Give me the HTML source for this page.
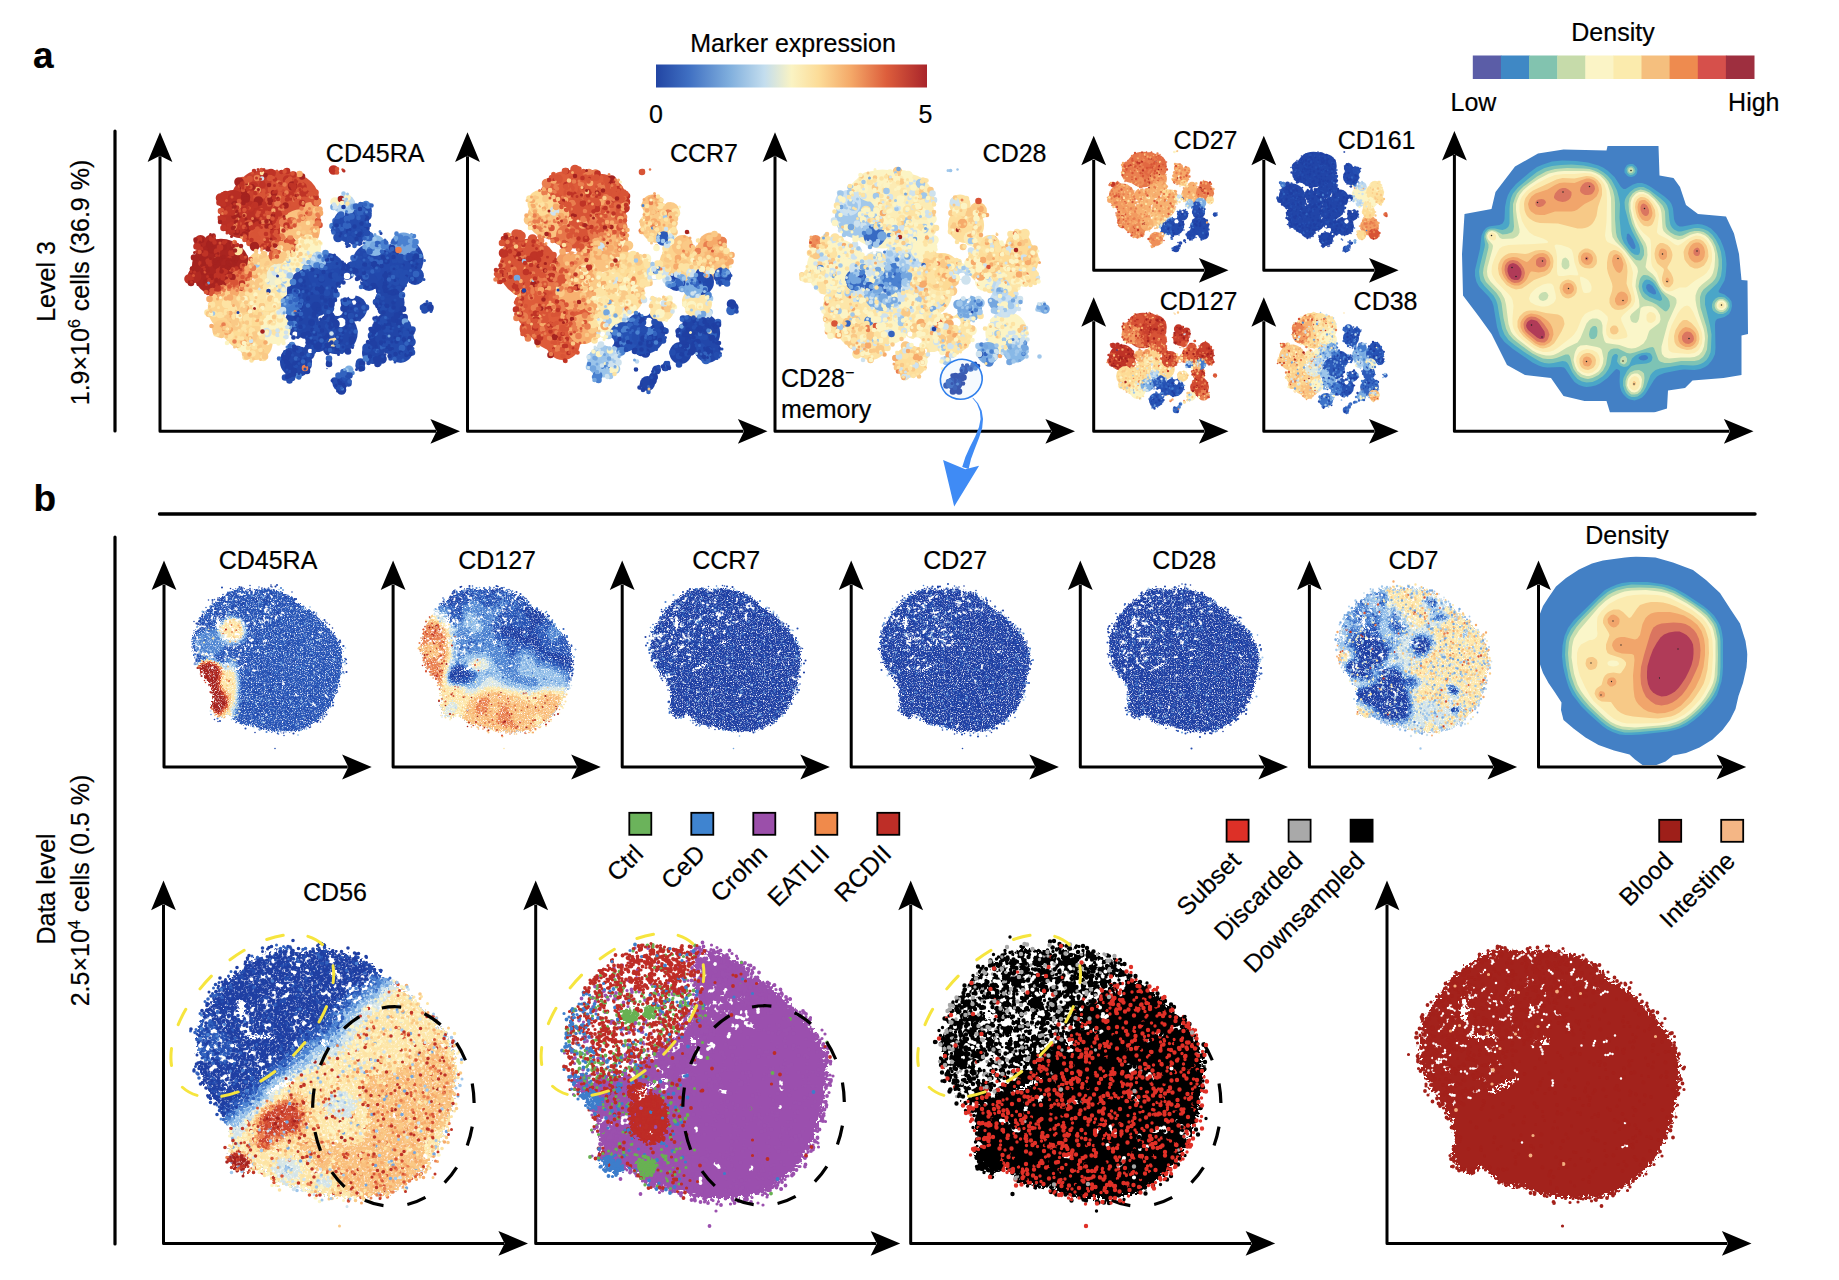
<!DOCTYPE html><html><head><meta charset="utf-8"><style>html,body{margin:0;padding:0;background:#fff}svg{display:block}text{font-family:"Liberation Sans",sans-serif;fill:#000;stroke:#000;stroke-width:.2px}</style></head><body><svg width="1839" height="1280" viewBox="0 0 1839 1280"><defs>
<linearGradient id="mk" x1="0" x2="1" y1="0" y2="0">
<stop offset="0" stop-color="#2245A3"/><stop offset="0.12" stop-color="#3F6FC2"/><stop offset="0.27" stop-color="#7FAEDD"/>
<stop offset="0.4" stop-color="#C3DDEE"/><stop offset="0.5" stop-color="#FAF3C3"/><stop offset="0.6" stop-color="#FCDC98"/>
<stop offset="0.72" stop-color="#F4A868"/><stop offset="0.85" stop-color="#DD5E3C"/><stop offset="1" stop-color="#A9252B"/>
</linearGradient>
<filter id="rs" x="-5%" y="-5%" width="110%" height="110%" color-interpolation-filters="sRGB"><feTurbulence type="fractalNoise" baseFrequency=".45" numOctaves="1" seed="3" result="t"/><feDisplacementMap in="SourceGraphic" in2="t" scale="14" xChannelSelector="R" yChannelSelector="G" result="d"/><feTurbulence type="fractalNoise" baseFrequency=".42" numOctaves="2" seed="8" result="u"/><feColorMatrix in="u" type="matrix" values="0 0 0 0 1 0 0 0 0 1 0 0 0 0 1 3.3 0 0 0 -1.66" result="w"/><feComposite in="w" in2="d" operator="in" result="wi"/><feMerge><feMergeNode in="d"/><feMergeNode in="wi"/></feMerge></filter>
<filter id="rb" x="-5%" y="-5%" width="110%" height="110%" color-interpolation-filters="sRGB"><feTurbulence type="fractalNoise" baseFrequency=".2" numOctaves="1" seed="5" result="t"/><feDisplacementMap in="SourceGraphic" in2="t" scale="26" xChannelSelector="R" yChannelSelector="G" result="d"/><feTurbulence type="fractalNoise" baseFrequency=".22" numOctaves="2" seed="9" result="u"/><feColorMatrix in="u" type="matrix" values="0 0 0 0 1 0 0 0 0 1 0 0 0 0 1 3 0 0 0 -1.55" result="w"/><feComposite in="w" in2="d" operator="in" result="wi"/><feMerge><feMergeNode in="d"/><feMergeNode in="wi"/></feMerge></filter>
<filter id="rd" x="-5%" y="-5%" width="110%" height="110%"><feTurbulence type="fractalNoise" baseFrequency=".2" numOctaves="1" seed="5"/><feDisplacementMap in="SourceGraphic" scale="26" xChannelSelector="R" yChannelSelector="G"/></filter>
</defs>
<ellipse cx="1140.2" cy="1106.5" rx="80.7" ry="99.8" transform="rotate(2 1140.2 1106.5)" fill="none" stroke="#000" stroke-width="3.2" stroke-dasharray="19.5 24.2" stroke-dashoffset="26.3" stroke-linecap="butt"/>
<g fill="none" stroke-linecap="round" transform="scale(.5)"><circle cx="535" cy="418" r="78.9" fill="#C23728"/><circle cx="503" cy="637" r="66.7" fill="#FDDC96"/><circle cx="442" cy="536" r="58.6" fill="#A92420"/><circle cx="584" cy="402" r="54.5" fill="#D75336"/><circle cx="624" cy="584" r="50.4" fill="#2145A8"/><circle cx="462" cy="617" r="46.4" fill="#FCD38E"/><circle cx="746" cy="528" r="42.3" fill="#2248AC"/><circle cx="482" cy="434" r="42.3" fill="#BA3025"/><circle cx="783" cy="666" r="42.3" fill="#2145A8"/><circle cx="673" cy="666" r="42.3" fill="#2145A8"/><circle cx="600" cy="459" r="40.3" fill="#FAC27F"/><circle cx="807" cy="519" r="40.3" fill="#2248AC"/><circle cx="653" cy="544" r="38.2" fill="#2248AC"/><circle cx="535" cy="584" r="38.2" fill="#FDE6A8"/><circle cx="702" cy="450" r="36.2" fill="#234AAD"/><circle cx="584" cy="511" r="34.2" fill="#FCF4C4"/><circle cx="511" cy="686" r="34.2" fill="#FCD38E"/><circle cx="604" cy="645" r="34.2" fill="#2145A8"/><circle cx="592" cy="723" r="32.1" fill="#2145A8"/><circle cx="551" cy="658" r="30.1" fill="#FCF4C4"/><circle cx="511" cy="373" r="30.1" fill="#C9402D"/><circle cx="633" cy="674" r="30.1" fill="#2145A8"/><circle cx="779" cy="605" r="30.1" fill="#2145A8"/><circle cx="523" cy="530" r="28.1" fill="#FCD38E"/><circle cx="568" cy="367" r="26.9" fill="#D04931"/><circle cx="616" cy="495" r="26" fill="#FCF4C4"/><circle cx="559" cy="552" r="26" fill="#EFEFD0"/><circle cx="708" cy="617" r="26" fill="#2145A8"/><circle cx="807" cy="491" r="26" fill="#71A3DE"/><circle cx="787" cy="564" r="26" fill="#2247AA"/><circle cx="466" cy="406" r="26" fill="#B72D24"/><circle cx="801" cy="700" r="25.2" fill="#234AAD"/><circle cx="519" cy="471" r="22" fill="#DA5738"/><circle cx="482" cy="560" r="22" fill="#E67549"/><circle cx="584" cy="609" r="22" fill="#427ACD"/><circle cx="746" cy="706" r="22" fill="#2145A8"/><circle cx="750" cy="491" r="21.2" fill="#88B8E6"/><circle cx="690" cy="410" r="21.2" fill="#BBD8F0"/><circle cx="771" cy="576" r="20" fill="#2145A8"/><circle cx="738" cy="564" r="17.9" fill="#2247AA"/><circle cx="620" cy="422" r="17.9" fill="#F7B170"/><circle cx="635" cy="521" r="17.9" fill="#A2C8EB"/><circle cx="442" cy="658" r="17.9" fill="#FBCB87"/><circle cx="830" cy="552" r="17.9" fill="#2248AC"/><circle cx="726" cy="422" r="17.9" fill="#2C5AB9"/><circle cx="694" cy="544" r="15.9" fill="#2247AA"/><circle cx="580" cy="491" r="15.9" fill="#C9402D"/><circle cx="680" cy="767" r="15.1" fill="#2248AC"/><circle cx="712" cy="477" r="14.7" fill="#2248AC"/><circle cx="389" cy="552" r="13.9" fill="#B02922"/><circle cx="616" cy="706" r="13.9" fill="#2145A8"/><circle cx="551" cy="511" r="13.9" fill="#DA5738"/><circle cx="401" cy="483" r="13" fill="#B02922"/><circle cx="421" cy="481" r="11.4" fill="#B02922"/><circle cx="852" cy="615" r="10.2" fill="#2247AA"/><circle cx="580" cy="751" r="9.8" fill="#2145A8"/><circle cx="698" cy="740" r="9" fill="#7CAEE2"/><circle cx="692" cy="754" r="9" fill="#2652B4"/><circle cx="718" cy="731" r="7.4" fill="#2247AA"/><circle cx="659" cy="723" r="4.5" fill="#2248AC"/><circle cx="671" cy="341" r="3.7" fill="#C9402D"/><circle cx="698" cy="491" r="3.7" fill="#2247AA"/><circle cx="685" cy="339" r="2.5" fill="#D04931"/><circle cx="763" cy="466" r="1.7" fill="#2247AA"/><circle cx="654" cy="737" r="1.3" fill="#2248AC"/><circle cx="694" cy="552" r="6.6" fill="#fff"/><circle cx="698" cy="570" r="8" fill="#fff"/><circle cx="704" cy="591" r="6.9" fill="#fff"/><circle cx="708" cy="605" r="4.4" fill="#fff"/><circle cx="675" cy="621" r="11" fill="#fff"/><circle cx="682" cy="645" r="9.5" fill="#fff"/><circle cx="746" cy="621" r="9.9" fill="#fff"/><circle cx="742" cy="645" r="8" fill="#fff"/><circle cx="604" cy="684" r="9.5" fill="#fff"/><circle cx="511" cy="566" r="4.8" fill="#fff"/><circle cx="501" cy="574" r="3.3" fill="#fff"/><circle cx="620" cy="702" r="4.4" fill="#fff"/><circle cx="590" cy="668" r="5.1" fill="#fff"/><circle cx="519" cy="505" r="3.3" fill="#fff"/><circle cx="535" cy="508" r="2.9" fill="#fff"/><circle cx="724" cy="560" r="3.7" fill="#fff"/><path stroke="#D85436" stroke-width="19.2" d="M486 363zm59 16zm-29 15zm47 0zm69 9zm-135 46zm12 24zm72-24zm-1 34zm-123 75z"/><path stroke="#1F3FA3" stroke-width="19.2" d="M730 456zm-28 77zm-11 73zm-59 7zm28 20zm104 7zm-94 8zm1 33zm74 8zm19 29zm-192-6zm7 24zm104 44z"/><path stroke="#BF3326" stroke-width="19.2" d="M542 347zm33 13zm92-20zm-63 34zm-97-1zm-66 23zm44 9zm95-13zm-25 28zm-74 30zm69 7zm-109 85zm-63 16z"/><path stroke="#F6AA6A" stroke-width="19.2" d="M573 495zm-72 42zm-32 47zm30-15zm-33 68z"/><path stroke="#FCF4C4" stroke-width="19.2" d="M670 404zm-99 121zm4 39zm-33 30zm7 76zm-58 28z"/><path stroke="#E97E4F" stroke-width="19.2" d="M585 444zm-18 1z"/><path stroke="#D85436" stroke-width="13.2" d="M494 362zm5-4zm41-2zm38 6zm53 23zm-32-4zm-23-17zm-2 11zm-23-3zm-1-6zm-25 25zm-32-10zm-3 1zm-11-17zm73 37zm11-5zm7 4zm4 8zm14-2zm48 35zm-31-7zm-24 6zm-51-15zm-88-4zm31 32zm63 10zm17-12zm86-2zm-79 31zm-61 5zm1 63zm-3 8zm-11-25zm-2 11zm-59 39zm45-17zm15 3z"/><path stroke="#A5221F" stroke-width="19.2" d="M585 372zm-107-8zm-7 47zm20-16zm26 7zm-21 51zm13 40zm-37 3zm-47 2zm-3-10zm-16 26zm63 2z"/><path stroke="#244DAF" stroke-width="19.2" d="M732 417zm2 14zm-6 3zm-29-5zm-23 46zm-8 53zm48 0zm85-11zm8 40zm-9-11zm-166 34zm173-18zm-211 29zm-20 9zm80 24zm3-7zm110 24zm29 0zm-137 12zm73 43zm85-16zm3 4zm-101 42z"/><path stroke="#FAC986" stroke-width="19.2" d="M560 518zm8-6zm-80 64zm4-4zm9-3zm17-3zm-48 45zm-4-12zm7 52z"/><path stroke="#3263BF" stroke-width="19.2" d="M723 424zm-51 29zm66 20zm46 24zm-33 31zm77-17z"/><path stroke="#FDE3A3" stroke-width="19.2" d="M476 501zm94 34zm-80 77zm-37-5zm12 12zm30 18zm56 25zm-93 8zm208 14z"/><path stroke="#A0C7EB" stroke-width="19.2" d="M699 418zm-138 158z"/><path stroke="#4A81D0" stroke-width="19.2" d="M812 481zm-44 8zm-185 111zm-9 5z"/><path stroke="#CEE2EE" stroke-width="19.2" d="M569 549zm-17-6zm-18 122z"/><path stroke="#FDE3A3" stroke-width="13.2" d="M625 481zm-28 13zm-84 30zm13 29zm-5 29zm29 25zm-66-16zm-60 18zm-9 16zm13 3zm12 2zm29-5zm82 3zm9 11zm-17 12zm-39 11zm-71 5zm24 6zm52 20zm15-20zm3 43zm-4-14zm-18 5zm-11 4zm-3 3z"/><path stroke="#A0C7EB" stroke-width="9.2" d="M687 387zm2 27zm1-11zm9 8zm6 0zm44 67zm-172 44zm66-2zm2-9zm-76 52zm-143 64zm161 48zm106 66z"/><path stroke="#A5221F" stroke-width="13.2" d="M604 353zm-56 33zm-46-12zm-14 9zm5 16zm21 6zm27-6zm30 12zm111-13zm-138 42zm-33 1zm-34-11zm-3 16zm-5-14zm4 32zm17 5zm47 28zm-70-8zm-20 5zm-24 5zm-4-9zm-17-10zm-4 14zm-10 21zm4 11zm41 4zm3-4zm3-8zm25-3zm1 39zm-8-22zm-11 5zm-38 7zm-22-5zm-4 27zm30-1z"/><path stroke="#74A6DF" stroke-width="19.2" d="M791 492z"/><path stroke="#4A81D0" stroke-width="9.2" d="M734 475zm59-7zm0-1zm35 5zm0 20zm-26-7zm-4 3zm-1-7zm-19 14zm-5 2zm-28-3zm0 4zm-6 0zm-100 15zm3 18zm5-13zm194-6zm-245 71zm109 163z"/><path stroke="#244DAF" stroke-width="9.2" d="M737 418zm-6 9zm-9 9zm-2 5zm-54 20zm9-1zm32 8zm7-2zm5-2zm4 3zm1-12zm5 5zm9-10zm-12 48zm-13-14zm-19 3zm-30 44zm0 0zm12-1zm31-2zm10 2zm13-20zm2 18zm3-6zm50-18zm3 18zm29-12zm2 7zm7 1zm12 4zm3 23zm-22 2zm-24 4zm-1-17zm-1 16zm-22 9zm-28-18zm-7 3zm-1 2zm-49-8zm-3 13zm-15 7zm-23-14zm-5 13zm-27-16zm13 42zm2-14zm30 6zm12 6zm112-17zm1 15zm0-14zm58-5zm19 48zm-7 6zm-88-18zm-64 12zm-16-7zm-16-4zm-16 16zm-52-14zm-1 9zm4 8zm49 16zm109-15zm27 22zm22-4zm-2 25zm-4-11zm-2 22zm-25-10zm-7 0zm-12-14zm-75 20zm-30-15zm-22 17zm-4-21zm-21 5zm-8 4zm27 37zm1-19zm13-3zm6 20zm7-5zm1-9zm17 9zm9-15zm53 20zm38-20zm28 27zm3-11zm1-2zm-2 35zm-1-13zm-19 9zm-22 10zm-13-11zm-9-3zm0 13zm-15 1zm-58-26zm-36 2zm-20 11zm-5 7zm-32-14zm10 37zm10-12zm18 10zm6-2z"/><path stroke="#1F3FA3" stroke-width="13.2" d="M732 437zm52 59zm-36 32zm21-21zm4 15zm19-18zm31 16zm9-7zm-79 21zm-25 23zm-65-6zm-20 8zm0 20zm104-7zm24 2zm15 11zm41-24zm34 54zm-104-4zm-94-2zm-69 24zm6 3zm30-7zm31 2zm26-14zm11 14zm4 12zm86-4zm2 0zm4-8zm12-13zm3 16zm12 32zm-6 1zm-17-22zm-22 5zm-20 5zm-11 9zm-79-15zm-7 22zm-36-26zm-14 26zm-1 0zm-17 27zm36-15zm6 9zm3 1zm2-4zm38 7zm3-19zm25 2zm40-3zm76 1zm0 19zm-58 21zm-10 2zm-28 8zm-28-24zm-41-3zm-2 0zm-56 24zm-20-17zm-6 9zm17 26zm26 0zm44-14zm97 0zm-69 44z"/><path stroke="#4A81D0" stroke-width="13.2" d="M732 408zm4 3zm-71 41zm135 23zm31 9zm-24-2zm-174 49zm18-25zm-33 30zm-5-2zm-27 30zm-9 38zm11 46zm-4 42zm148 27zm-135 35z"/><path stroke="#F6AA6A" stroke-width="13.2" d="M599 348zm-84 32zm124 39zm1 7zm-25-3zm-14 6zm25 31zm5 10zm-48 25zm-20-7zm-53 63zm-64 25zm14 19zm-41 3zm73 19zm-47 39zm42 29z"/><path stroke="#A0C7EB" stroke-width="13.2" d="M513 529zm67 22z"/><path stroke="#E97E4F" stroke-width="13.2" d="M514 356zm109 35zm-147 21zm79-5zm0-9zm36 0zm43 7zm2-3zm0 45zm-18-21zm-56-6zm-93 3zm-2 31zm96 19zm234 27zm-248-13zm2 22zm-45 27zm-17 13zm-53 35zm10-8zm13-5zm151 165z"/><path stroke="#74A6DF" stroke-width="13.2" d="M667 414zm40 0zm49 78zm-10 0zm64 151z"/><path stroke="#BF3326" stroke-width="9.2" d="M508 342zm35 3zm7 14zm13-15zm29 18zm-5 19zm-5-11zm-13 18zm-18-5zm-26-19zm-14 22zm-10-15zm-12-4zm-47 41zm6 1zm4-15zm21 23zm1-2zm49 3zm5-11zm9 4zm2 7zm9-23zm1 24zm7-21zm7 15zm11-14zm32 11zm19-18zm8 4zm-81 39zm-3 6zm-16 3zm-6-14zm-1-7zm-11 10zm-27 2zm-5 5zm-11-19zm-24 17zm-1-11zm11 24zm5-3zm15 1zm9 2zm1 20zm25-23zm3 6zm1-3zm15 17zm9-16zm3 12zm10 6zm13-9zm-64 19zm-11-3zm-18 13zm-26-5zm-19 0zm-32 6zm23 38zm16-19zm23 6zm14 21zm-13 15zm-9-10zm-45-10zm-25 25zm35 29zm68-8z"/><path stroke="#FAC986" stroke-width="13.2" d="M632 421zm-104 88zm24 13zm-33 22zm-24 34zm16-5zm30 24zm-17 15zm-39-23zm-67 39zm34 2zm35-11zm23 50zm-42-25zm-30 16zm-5-6zm97 59zm-7-10zm-29 10z"/><path stroke="#FCF4C4" stroke-width="13.2" d="M695 395zm-94 95zm23 14zm-50 30zm-13 12zm-5 18zm11 23zm-78 11zm-11 34zm68-1zm14 0zm-9 22zm-8 0zm-62 43zm14-6z"/><path stroke="#BF3326" stroke-width="13.2" d="M527 353zm47-11zm13 7zm26 38zm-8 0zm-18-14zm-62-3zm-22 6zm-7-3zm-10-4zm-35 19zm-4 2zm-8 15zm5-1zm14 15zm43-2zm9-7zm22 5zm7-4zm54-14zm11 9zm-46 21zm-10 6zm-33-8zm-30 2zm-21-2zm-7 0zm-15 13zm5 18zm15 3zm42-5zm11-5zm58 2zm-39 30zm-7 12zm-59-5zm-28 7zm-6 8zm-10-26zm-24 22zm-2-20zm-5 14zm10 34zm7-20zm7 16zm46-17zm23 8zm-37 28zm-2 13zm-13-3zm-13 9zm15 16zm48-10z"/><path stroke="#CEE2EE" stroke-width="13.2" d="M608 522zm6 2zm-46 33zm-1 22zm-6 45zm5-4z"/><path stroke="#F6AA6A" stroke-width="6" d="M606 405zm21 33zm-14-4zm-1 6zm-136-2zm149 18zm-34 29zm-25 6zm-2-14zm-41 23zm34 13zm-55 44zm-51 18zm37 6zm1-10zm8-2zm-30 42zm-20-23zm-2 2zm-10 8zm22 38zm38 34zm-19 23z"/><path stroke="#CEE2EE" stroke-width="6" d="M674 416zm13-18zm6 14zm-117 118zm53-10zm0-12zm-49 31zm-12-7zm-6 21zm0-12zm-43 37zm17-12zm-34 56zm20 5zm49 28zm-2 19zm234 20z"/><path stroke="#FDE3A3" stroke-width="9.2" d="M524 346zm171 61zm-79 39zm-19 20zm18 8zm15-13zm3 26zm-17 4zm-4 5zm-5-5zm-3-8zm-42 12zm-41 17zm54-2zm1-5zm9 22zm3-19zm7 21zm6-9zm19-8zm-76 26zm-50 49zm3 0zm7-1zm12-1zm8-20zm18 16zm17-8zm-5 17zm-6 8zm-14 7zm-10-3zm-47-5zm-57 14zm31 16zm1-5zm15 13zm0-3zm44-16zm12 2zm11 9zm15 10zm2-6zm-3 14zm-10 0zm-4 18zm-33 8zm-12-20zm-1 6zm-14-8zm3 27zm1 15zm6-14zm12 19zm12-8zm13 12zm-18 21z"/><path stroke="#3263BF" stroke-width="13.2" d="M712 413zm6 2zm-15 18zm-9 5zm-12-9zm-11 13zm21 9zm4 1zm93 31zm-34 5zm-16 15zm-82 17zm50-4zm106-1zm19 33zm-101 5zm-87-19zm-54 49zm214 7zm-114 14zm-17-15zm-82 9zm158 68zm-168-18zm185 43zm38 5zm-146 21zm19 34zm9-3zm1-4zm6 6z"/><path stroke="#A0C7EB" stroke-width="6" d="M695 388zm-28 29zm6 2zm20-21zm-66 114zm78 38zm-108-11zm-41 3zm-20 21zm28 40zm5 21z"/><path stroke="#FCF4C4" stroke-width="9.2" d="M684 406zm-43 81zm-19-3zm-27 17zm-9 20zm29-2zm-47 32zm-1 8zm-13-18zm-20 20zm5 17zm7-4zm21 5zm-15 21zm-3 11zm-38-22zm-2 25zm-6-8zm-81 22zm78-5zm25-7zm11 18zm19-11zm3 6zm9 28zm-2 2zm-19-12zm-13 18zm-14 2zm-63-2zm-2 21zm34 0zm47 0zm22 1zm10-1z"/><path stroke="#244DAF" stroke-width="13.2" d="M725 436zm-51 8zm-2 4zm45 16zm15-16zm2 18zm-21 15zm-13-3zm4 51zm64-19zm20 2zm30 3zm4-2zm-11 33zm-4 9zm-2-2zm-14-6zm-5-10zm-31 2zm-81 18zm-2-1zm-2-5zm-11-18zm-16 24zm-10-15zm21 44zm138-21zm5 13zm49 37zm-77 0zm-17-11zm-20 11zm-82 2zm3 19zm49-4zm81-13zm66 2zm-24 38zm-11-8zm-2 16zm-37-9zm-33 13zm-78-1zm-1-4zm-4-16zm-27 6zm-14 20zm15 1zm51 18zm84-7zm7-1zm6 9zm40-22zm3 31zm-226-5zm-28 55zm129-4zm25-15zm-27 28zm0 3zm-18 9zm-10-15zm-85-5zm-5 5z"/><path stroke="#74A6DF" stroke-width="9.2" d="M820 482zm-28-6zm-46 12zm-17 6zm-112 30zm27 8zm-29 3zm-6 0zm-14 5zm-29 61zm21 26zm-7 27zm122 86z"/><path stroke="#E97E4F" stroke-width="9.2" d="M573 385zm-4-16zm-12-4zm-19 26zm20 4zm40 0zm5 22zm30-10zm5-2zm-1 28zm-2-4zm-34 4zm-3 8zm-61-7zm-11 10zm-37-14zm12 18zm62 25zm16 2zm3 0zm-15 1zm-16 27zm-6-6zm-76-13zm23 55zm-34 39zm26-2zm-46 14zm9 59zm22 34z"/><path stroke="#1F3FA3" stroke-width="9.2" d="M687 414zm33 4zm14 21zm-11 8zm-50 4zm23 11zm13-9zm7 16zm3 1zm2-3zm-8 11zm-59 41zm10-1zm24 11zm42 0zm36-15zm21 0zm42 1zm-57 40zm0 4zm0-9zm-3 1zm-6-19zm-35 14zm-10 9zm-4 3zm-1-15zm-2-2zm-25-4zm-39 7zm-13 8zm-9-13zm-88 43zm70-19zm7 20zm20-6zm6 2zm3 5zm1-1zm28-1zm4-14zm11-3zm46 8zm37-6zm1 15zm8 3zm12-3zm3 3zm-7 20zm0 10zm-13-3zm-80 3zm-4-15zm0-1zm-20 1zm-9 0zm-9 14zm-1-13zm-7-6zm-28 2zm-13 18zm-1 17zm35-13zm12 17zm41-13zm59 14zm18-12zm10 18zm24-17zm61-7zm-37 46zm-42-9zm-16-1zm-11-2zm-4 8zm-1-14zm-2 4zm-1 14zm-3-3zm-4-4zm-46-13zm-34 10zm-2-8zm-4 24zm-11-10zm-14 7zm-5-21zm0 13zm-6 10zm-3-4zm-15-12zm-14 21zm1 18zm27-8zm0-6zm5 1zm21-3zm9-1zm3 14zm5-1zm5-4zm40 1zm33-2zm26 1zm6-11zm12 24zm13-15zm15-4zm12-3zm1 32zm-8 2zm-12-5zm-10 3zm-12 4zm-39 1zm-85-7zm-51 2zm-5 11zm-10 8zm-13-1zm-4-2zm2 30zm5-2zm2-2zm6-2zm1 1zm133-10zm1-3zm2 2zm-44 28z"/><path stroke="#F6AA6A" stroke-width="9.2" d="M494 368zm126 51zm14 0zm-28 17zm-17 7zm-42-22zm-62 53zm103-25zm17 20zm29-13zm-132 63zm2 10zm48-17zm-59 24zm0 8zm-9 26zm17 11zm-49 16zm-13-5zm22 34zm53 14zm-52 19zm-3 5zm-6 3zm-30-15zm78 25zm1 7zm29 1zm-32 24z"/><path stroke="#FAC986" stroke-width="9.2" d="M590 456zm9 0zm8 9zm-49 31zm-46 6zm-1 19zm0 4zm5-3zm6-8zm5-8zm8 20zm12-4zm3-1zm8-8zm12-3zm14 0zm17-2zm-70 31zm-1-1zm-22 8zm13 15zm18 38zm-47 6zm-1 9zm-6-17zm-30 36zm4 6zm12-15zm3 16zm28-9zm13 3zm5-6zm28 6zm-7 10zm-18 2zm-29-1zm-22 2zm-14 10zm-9-1zm-15-4zm-4 13zm13 7zm54 16zm12-11zm22 34zm-43-3z"/><path stroke="#CEE2EE" stroke-width="9.2" d="M524 357zm144 52zm2 6zm0-2zm-55 93zm11 11zm-69 108zm106 42zm-88-13zm-3 11zm-17-4zm0 9zm-53 12zm71-8z"/><path stroke="#E97E4F" stroke-width="6" d="M596 387zm10 20zm13 10zm0 0zm5-22zm-21 36zm-19 7zm-14 2zm-33 4zm-32-7zm-60-10zm29 21zm64 3zm34 2zm2 5zm55-8zm-44 47zm-44-17zm-12-1zm-5 17zm-92 18zm115 1zm-50 44zm-49 23zm20-6zm6 5zm21-10zm95 52z"/><path stroke="#D85436" stroke-width="6" d="M493 360zm12-14zm37 7zm5 2zm7-13zm16-2zm26 18zm7 5zm25 22zm-13 5zm-9-22zm-36 21zm-5-13zm-6 11zm0-2zm-5-11zm-13-2zm-6 18zm-19-11zm0 4zm-27-10zm-11-1zm-25 29zm11-7zm33 22zm2 0zm38-6zm3 0zm26 3zm16-20zm8 2zm8 5zm15 26zm-40 0zm-7-2zm-11 20zm-26-14zm-7 7zm-34-4zm-9-11zm0-2zm-5 18zm74 30zm3 3zm2-9zm-1 20zm-5 6zm-11 1zm-6 3zm-10-5zm-49-2zm-31 1zm51 28zm-13 31zm-3 6zm-14-11zm-51 4zm-23 7zm57 25zm19-9zm5 5z"/><path stroke="#A5221F" stroke-width="9.2" d="M531 350zm7 20zm-31 5zm-23 1zm-15 37zm18-7zm53 0zm6 25zm-13 12zm-93 1zm-13 27zm39-15zm67-3zm4-1zm13 39zm-68 1zm-12 9zm-79-22zm1 37zm12 3zm3 7zm1 2zm22-7zm2-10zm3 6zm2 11zm10-14zm8 10zm14 3zm-12 9zm-4-2zm-10 9zm-12-10zm-9 19zm-7-11zm-1-3zm-18-3zm-2 5zm-10-3zm141 126z"/><path stroke="#4A81D0" stroke-width="6" d="M733 424zm-40-1zm67 40zm63 6zm10 25zm-24-4zm-47 0zm-24 9zm-24-13zm-78 41zm10-6zm-43 23zm-14 52zm-15 98zm244-13zm-130 66zm-3 31z"/><path stroke="#FCF4C4" stroke-width="6" d="M611 503zm-10-4zm-10 18zm-13 24zm-6 18zm-5-24zm-5 18zm-6-17zm-2 41zm3 27zm-6-4zm-110-5zm120 74zm-17-21zm-10 20zm-79-10zm53 31zm29-10zm2 5z"/><path stroke="#1F3FA3" stroke-width="6" d="M680 472zm2-5zm18-8zm62 8zm-40 20zm-28 6zm-25 17zm5 17zm11-3zm25-10zm17 15zm80 1zm27-2zm-2 7zm-7-3zm-4 25zm-8-5zm-25-14zm-9 9zm-8-2zm-24-12zm-34 7zm-5 5zm-2-6zm-9-7zm-4 8zm-9 10zm-129 2zm26 28zm9 2zm13-2zm0-9zm7 1zm14 15zm19-14zm22 3zm6 3zm76-5zm7 2zm1 7zm33 3zm2-25zm16 17zm45 31zm-80 1zm-14-22zm-4 20zm-35-2zm-120-16zm-122 35zm121-3zm44 16zm13-6zm18 9zm16-12zm14-12zm7 21zm44-4zm4-16zm36 24zm12-25zm0 13zm-6 33zm-29-14zm-22 14zm-1 7zm-2 1zm-39-3zm-1-21zm-13 8zm-6 10zm-7-5zm-40-7zm-45 45zm36-16zm34 14zm14-11zm4-3zm4 12zm19-4zm0 5zm34 0zm0-22zm14 21zm9-6zm7-4zm5 11zm4-4zm6-7zm1 13zm5-22zm10-3zm9 11zm10 13zm-16 9zm-33 4zm-93 0zm-22 15zm-3-19zm-28 9zm-14 4zm-12 29zm15-17zm7 3zm93 6zm-36 22zm-2 21zm-3-11zm-8-10z"/><path stroke="#A5221F" stroke-width="6" d="M688 342zm-96 49zm-75-12zm-12-8zm-10 19zm-2-22zm63 28zm12 37zm-21-3zm-3 16zm-24-1zm-28-7zm-4-7zm-14 11zm0-20zm-1 2zm-52 45zm42 4zm6-19zm14 16zm14-9zm46-4zm-1 21zm-75 13zm-5 7zm-2-13zm-37 5zm-19 13zm-4-19zm-9-2zm-1 0zm-1 23zm14 26zm18-14zm15-10zm20 11zm5 1zm11 4zm17-14zm-31 27zm-5 20zm-9-14zm-11 16zm-9-1zm-42-13zm14 25zm37-8zm19-1zm1 4zm56 53z"/><path stroke="#D85436" stroke-width="9.2" d="M493 363zm30-23zm46 3zm11 14zm5-10zm89-9zm0 7zm-50 43zm-4-1zm-10-8zm-50-1zm-7-8zm-4 6zm-22 6zm-26-8zm-14 1zm-1 5zm-8 22zm115 0zm-48 35zm-23-17zm-5 5zm-2 5zm-26-10zm-10 27zm-28-22zm37 29zm2 19zm21-11zm4-3zm0-2zm26-3zm11 10zm3 8zm1-20zm33-1zm-31 26zm-41-1zm-28 4zm-90 24zm102 14zm53-5zm-69 41zm-19-15zm-54 45zm42-21zm5 10zm7-9zm-44 24z"/><path stroke="#74A6DF" stroke-width="6" d="M750 469zm73 1zm-31 10zm-33 11zm-342 75zm158 29zm-5 13zm-2 18zm210 46zm-89 67z"/><path stroke="#FDE3A3" stroke-width="6" d="M641 486zm-2-3zm-9-5zm-46 25zm-67 24zm57-9zm2 2zm11-14zm0 5zm1-3zm2 12zm22-11zm-24 29zm-53-1zm-10-1zm-7 12zm-11 24zm14-4zm29 9zm-5 26zm-3 5zm-54 5zm-41-6zm-10 8zm-19 15zm28 2zm21-11zm14 19zm26-18zm3 16zm11-18zm1 20zm6-15zm2 5zm33 28zm-15-10zm-4 0zm-42 9zm-1-9zm0-3zm-10 17zm-6-5zm-7 4zm-14 7zm-10-10zm-2 16zm44 12zm4-9z"/><path stroke="#BF3326" stroke-width="6" d="M513 356zm3-17zm5 19zm7-19zm34 4zm125-2zm-87 38zm-5 11zm-5-24zm-28 1zm-3-1zm-10 5zm-2 14zm-49-11zm-3 6zm-9-9zm0 5zm-5-6zm-1 1zm-22 15zm-7 5zm-6 12zm9 14zm8-6zm7-3zm27 8zm8-5zm15 8zm30-18zm9-3zm43 5zm-32 34zm-15-17zm-7 25zm0-19zm-23-5zm-30 3zm-12 16zm-4 5zm-17-19zm-23 8zm-9 39zm25-7zm1-10zm13 7zm7 0zm0-4zm2-4zm1-5zm14 6zm9 1zm2-4zm20 2zm26-2zm-10 38zm-87-8zm-59 20zm40 8zm54 19zm-5 9zm-18 0zm-49 14zm-6-15zm-20 6zm-7-1zm1 21zm30 5zm18 11zm2-11z"/><path stroke="#FAC986" stroke-width="6" d="M605 474zm15 1zm0-12zm16-4zm-27 17zm-9 17zm-6-12zm0 4zm0 14zm-1-15zm-90 35zm9-2zm19 12zm65-16zm-95 21zm-1-2zm13 44zm10-1zm13 12zm13 26zm-37-18zm-2 8zm-91 10zm2 8zm1 2zm34 2zm8 17zm16-11zm29 1zm1 0zm-23 13zm-31 19zm-4-1zm1 11zm16 20zm3-20zm45 20zm4-2zm0 27zm-14-1z"/><path stroke="#3263BF" stroke-width="6" d="M734 444zm-43 27zm21-6zm72 20zm-3 16zm-7-1zm-4-20zm-33 21zm-9-15zm-65 27zm51 1zm14 6zm10-5zm36-9zm1 10zm48 9zm26-4zm-28 20zm-68-5zm-51 3zm-71 13zm-25 31zm48-7zm-60 23zm-1 13zm-3 14zm101 1zm22 4zm16-7zm21 17zm21-6zm27 18zm-170 11zm-37-6zm-11-9zm42 27zm53-2zm88 22zm40-1zm3 25zm-114 32zm-9 24z"/><path stroke="#3263BF" stroke-width="9.2" d="M721 408zm9 1zm13 2zm-26 25zm-41-2zm-9 31zm17-7zm100 40zm-12-13zm-8 18zm-25-1zm-10-25zm-20 15zm-58 21zm92 6zm19 5zm62 34zm-38-4zm-8 5zm-33-16zm-94-7zm-45 12zm-5 13zm121 13zm35 17zm-30 24zm-28-10zm-7 3zm-76 3zm-13-9zm-3 10zm-8-23zm-1 11zm-10 4zm21 24zm55-4zm46 18zm9-23zm-1 44zm-30-3zm-102 32zm64-11zm30 3zm3 8zm120-14zm17 9zm-24 31zm-35-16zm-94-2zm-43 10zm-11 13zm-14-6zm-34 0zm40 38zm21-26zm69 19zm11 15z"/><path stroke="#244DAF" stroke-width="6" d="M740 427zm-45 17zm-29 11zm32 9zm11 7zm10 18zm-20-11zm-32 53zm50-26zm1 10zm4-1zm15 17zm20-16zm15 7zm20 1zm36 3zm20 33zm-37-4zm-7-23zm-16 11zm-1 0zm-36-1zm-18 10zm-7-12zm-46-5zm-11 23zm-4-16zm-11 2zm-9 10zm-13-10zm-1 1zm-16-4zm-23 37zm2 7zm1-2zm23 4zm2-15zm59 1zm49-10zm4 3zm2 3zm7 5zm17 8zm19-9zm3-3zm31 1zm10-10zm17 1zm16 41zm-47-12zm-17 9zm-23 6zm-8 6zm-2-19zm-56 17zm-57-8zm-34 4zm-17 21zm2 13zm1-3zm10-3zm13 0zm16-3zm21 10zm59-19zm4 18zm84-7zm59-10zm-44 23zm-17 21zm-15-11zm-2 6zm-6-8zm-6-10zm-68 16zm-4-9zm0 14zm-9-3zm-21 1zm-33-2zm-7-2zm-33 9zm-4-18zm31 45zm6-11zm22 15zm31-23zm11 11zm12 4zm27 1zm9 2zm84 3zm-11 9zm-12 1zm-13 17zm-25-11zm-9-10zm-7-3zm-5 23zm-60-18zm-58-3zm-4 10zm-24 15zm-1-9zm-12-8zm-16-7zm5 37zm19-8zm17 6zm83 15z"/><circle cx="1150" cy="418" r="78.9" fill="#D75336"/><circle cx="1118" cy="637" r="66.7" fill="#DE5C3A"/><circle cx="1057" cy="536" r="58.6" fill="#D75336"/><circle cx="1199" cy="402" r="54.5" fill="#D75336"/><circle cx="1239" cy="584" r="50.4" fill="#FDE19F"/><circle cx="1077" cy="617" r="46.4" fill="#DE5C3A"/><circle cx="1361" cy="528" r="42.3" fill="#FCD38E"/><circle cx="1097" cy="434" r="42.3" fill="#FAC27F"/><circle cx="1398" cy="666" r="42.3" fill="#2043A6"/><circle cx="1288" cy="666" r="42.3" fill="#234AAD"/><circle cx="1215" cy="459" r="40.3" fill="#E67549"/><circle cx="1422" cy="519" r="40.3" fill="#FAC27F"/><circle cx="1268" cy="544" r="38.2" fill="#FDDC96"/><circle cx="1150" cy="584" r="38.2" fill="#F7B170"/><circle cx="1317" cy="450" r="36.2" fill="#FCD38E"/><circle cx="1199" cy="511" r="34.2" fill="#FAC27F"/><circle cx="1126" cy="686" r="34.2" fill="#DE5C3A"/><circle cx="1219" cy="645" r="34.2" fill="#FCF4C4"/><circle cx="1207" cy="723" r="32.1" fill="#9BC4EA"/><circle cx="1166" cy="658" r="30.1" fill="#F7B170"/><circle cx="1126" cy="373" r="30.1" fill="#DE5C3A"/><circle cx="1248" cy="674" r="30.1" fill="#2652B4"/><circle cx="1394" cy="605" r="30.1" fill="#FDE6A8"/><circle cx="1138" cy="530" r="28.1" fill="#F29B60"/><circle cx="1183" cy="367" r="26.9" fill="#DE5C3A"/><circle cx="1231" cy="495" r="26" fill="#F8B977"/><circle cx="1174" cy="552" r="26" fill="#FBCB87"/><circle cx="1323" cy="617" r="26" fill="#FDE6A8"/><circle cx="1422" cy="491" r="26" fill="#F8B977"/><circle cx="1402" cy="564" r="26" fill="#2248AC"/><circle cx="1081" cy="406" r="26" fill="#FDDC96"/><circle cx="1416" cy="700" r="25.2" fill="#2247AA"/><circle cx="1134" cy="471" r="22" fill="#E67549"/><circle cx="1097" cy="560" r="22" fill="#E67549"/><circle cx="1199" cy="609" r="22" fill="#FCE8AD"/><circle cx="1361" cy="706" r="22" fill="#2043A6"/><circle cx="1365" cy="491" r="21.2" fill="#FAC27F"/><circle cx="1305" cy="410" r="21.2" fill="#FAC27F"/><circle cx="1386" cy="576" r="20" fill="#7CAEE2"/><circle cx="1353" cy="564" r="17.9" fill="#2248AC"/><circle cx="1235" cy="422" r="17.9" fill="#E26942"/><circle cx="1250" cy="521" r="17.9" fill="#FCD38E"/><circle cx="1057" cy="658" r="17.9" fill="#D75336"/><circle cx="1445" cy="552" r="17.9" fill="#234AAD"/><circle cx="1341" cy="422" r="17.9" fill="#FBCB87"/><circle cx="1309" cy="544" r="15.9" fill="#BBD8F0"/><circle cx="1195" cy="491" r="15.9" fill="#F7B170"/><circle cx="1295" cy="767" r="15.1" fill="#2043A6"/><circle cx="1327" cy="477" r="14.7" fill="#2C5AB9"/><circle cx="1004" cy="552" r="13.9" fill="#DE5C3A"/><circle cx="1231" cy="706" r="13.9" fill="#BBD8F0"/><circle cx="1166" cy="511" r="13.9" fill="#F29B60"/><circle cx="1016" cy="483" r="13" fill="#C9402D"/><circle cx="1036" cy="481" r="11.4" fill="#D04931"/><circle cx="1467" cy="615" r="10.2" fill="#2043A6"/><circle cx="1195" cy="751" r="9.8" fill="#427ACD"/><circle cx="1313" cy="740" r="9" fill="#2043A6"/><circle cx="1307" cy="754" r="9" fill="#2043A6"/><circle cx="1333" cy="731" r="7.4" fill="#2043A6"/><circle cx="1274" cy="723" r="4.5" fill="#BBD8F0"/><circle cx="1286" cy="341" r="3.7" fill="#C9402D"/><circle cx="1313" cy="491" r="3.7" fill="#FDDC96"/><circle cx="1300" cy="339" r="2.5" fill="#E67549"/><circle cx="1378" cy="466" r="1.7" fill="#F7B170"/><circle cx="1269" cy="737" r="1.3" fill="#2652B4"/><circle cx="1309" cy="552" r="6.6" fill="#fff"/><circle cx="1313" cy="570" r="8" fill="#fff"/><circle cx="1319" cy="591" r="6.9" fill="#fff"/><circle cx="1323" cy="605" r="4.4" fill="#fff"/><circle cx="1290" cy="621" r="11" fill="#fff"/><circle cx="1297" cy="645" r="9.5" fill="#fff"/><circle cx="1361" cy="621" r="9.9" fill="#fff"/><circle cx="1357" cy="645" r="8" fill="#fff"/><circle cx="1219" cy="684" r="9.5" fill="#fff"/><circle cx="1126" cy="566" r="4.8" fill="#fff"/><circle cx="1116" cy="574" r="3.3" fill="#fff"/><circle cx="1235" cy="702" r="4.4" fill="#fff"/><circle cx="1205" cy="668" r="5.1" fill="#fff"/><circle cx="1134" cy="505" r="3.3" fill="#fff"/><circle cx="1150" cy="508" r="2.9" fill="#fff"/><circle cx="1339" cy="560" r="3.7" fill="#fff"/><path stroke="#74A6DF" stroke-width="19.2" d="M1358 566z"/><path stroke="#A0C7EB" stroke-width="19.2" d="M1231 738z"/><path stroke="#1F3FA3" stroke-width="19.2" d="M1463 608zm-71 82zm-11 12zm-90 4z"/><path stroke="#F6AA6A" stroke-width="19.2" d="M1077 448zm89 0zm49 18zm229 17zm-17-3zm-180 0zm-112 39zm10 6zm4-8zm52-7zm-21 45zm-52 19zm40-13zm36 11zm-102 43zm-28 21zm136 15z"/><path stroke="#BF3326" stroke-width="19.2" d="M1186 407zm2 7zm62 2zm1-12zm-122 86zm-122 16zm29 4zm33 2zm34 43zm-100-11zm84 33zm-15 65z"/><path stroke="#4A81D0" stroke-width="19.2" d="M1302 664zm-60 38z"/><path stroke="#FCF4C4" stroke-width="19.2" d="M1345 467zm-103 18zm51 32zm92 20zm-76 4zm-140-1zm79 34zm23 5zm112 32zm-63 16zm-92 110z"/><path stroke="#FAC986" stroke-width="19.2" d="M1312 439zm-255 1zm245 14zm72 37zm-117 0zm-65 14zm33 23zm144 1zm45 5zm-80 5zm-214 46zm159-3zm-32 8zm-62 68z"/><path stroke="#E97E4F" stroke-width="19.2" d="M1201 376zm-108-9zm109 49zm9 1zm6-16zm-24 33zm-5-1zm54 40zm202 10zm-28 8zm-281 4zm-16 58zm-116-6zm44 87z"/><path stroke="#FDE3A3" stroke-width="19.2" d="M1351 426zm-53 28zm-36 67zm4-10zm124 19zm-17 6zm-202 35zm59-3zm13-6zm-57 85z"/><path stroke="#E97E4F" stroke-width="13.2" d="M1173 350zm5-6zm13 1zm41 27zm-69 19zm-50-26zm-6 21zm-18-1zm55 21zm24-1zm42-10zm41 14zm86 16zm-26-1zm-63 10zm-42-10zm-39 14zm-38 5zm16 23zm56 2zm8-12zm28 6zm70-11zm89 51zm-220-16zm-12 5zm-27-14zm-13 8zm-42-4zm-2 3zm-75 45zm166-23zm-144 33zm-8 7zm-16 9zm40 28zm7-1zm5-19zm21 14zm4 8zm101-7zm-119 16zm-18 21zm-11 21zm35-20zm57 1zm15 17zm2-9zm28 6zm5 22zm-24 5zm-5-9zm-34 5zm-2 2zm-24 2zm-18-1zm-12 20zm57 20zm8-1zm6-18zm30-6z"/><path stroke="#A0C7EB" stroke-width="13.2" d="M1342 476zm71 74zm-48 5zm55 42zm-203 45zm202-18zm-202 48zm13 47zm-16 5zm-7-22zm-11 11zm-18 21zm42 18z"/><path stroke="#3263BF" stroke-width="19.2" d="M1395 566zm67 55zm-50 98zm-3-16z"/><path stroke="#244DAF" stroke-width="13.2" d="M1352 570zm14 67zm10 1zm28 8zm-40 9zm-6 11zm-27-4zm-22-18zm-20 16zm-3-15zm-16 30zm24 8zm32-2zm61-7zm10 3zm12-3zm25 36zm-59-3zm-17 5zm-13-7zm13 24z"/><path stroke="#D85436" stroke-width="19.2" d="M1116 358zm34-19zm26 57zm65 23zm-3 13zm-36 14zm-170 22zm6 1zm4 3zm23 6zm-22 15zm81 65zm-81 16zm12-11zm-16 39zm70 65z"/><path stroke="#A5221F" stroke-width="19.2" d="M1223 360zm-182 153z"/><path stroke="#CEE2EE" stroke-width="19.2" d="M1109 422zm91 72zm182 52zm-48 13zm-5-16zm86 84z"/><path stroke="#3263BF" stroke-width="13.2" d="M1320 480zm37 83zm3 5zm26-5zm14 7zm54-3zm-181 71zm163 6zm-9 26zm-154-25zm-13 7zm-21 21zm135 20z"/><path stroke="#1F3FA3" stroke-width="13.2" d="M1436 649zm-5 2zm-32 6zm-24 11zm-47-7zm-93 28zm7-2zm45-10zm12 12zm3-13zm6-2zm64 16zm23-6zm22 15zm7-23zm-26 31zm-116-1zm-12-4zm60 34zm-24 27z"/><path stroke="#F6AA6A" stroke-width="13.2" d="M1107 361zm120 12zm-47-7zm-116 34zm48 14zm18-14zm73 4zm100-5zm5 44zm-14-7zm-53 2zm-119-6zm-27 7zm-17 0zm-1-2zm-5-5zm-10 16zm168 6zm54 8zm31-14zm121 25zm-16 15zm-169 9zm-17-10zm-13 9zm-28-9zm-68 16zm69 10zm10-5zm27 13zm4 3zm121-8zm17-8zm30 16zm28-7zm10-5zm20 11zm2-13zm-52 30zm-58-7zm-217 20zm-30-20zm-24 47zm67-16zm28 17zm61-20zm20 7zm9-5zm-46 42zm-33 8zm-7-6zm-4 2zm-1 6zm-4-26zm-13 21zm-15-1zm37 27zm8-14zm3 9zm-32 18zm-75-3z"/><path stroke="#FCF4C4" stroke-width="13.2" d="M1342 483zm-29 13zm110 46zm-19-4zm-86 15zm-65 7zm147 52zm-17-2zm-44-13zm-83 8zm-34 11zm28 20zm3-10zm14-10zm-47 85zm-22 7z"/><path stroke="#4A81D0" stroke-width="13.2" d="M1450 543zm-1 6zm-55 6zm-50 13zm73 22zm-166 68zm-21 7zm15 20zm-50 66zm19-20zm-17 29z"/><path stroke="#FAC986" stroke-width="13.2" d="M1069 418zm21-6zm1-14zm1-2zm217 2zm3 19zm2-2zm6-14zm30 36zm-1 9zm-4-15zm-3-1zm-28 0zm-236 14zm28 13zm139 15zm73-14zm31 6zm80 4zm4 31zm-14-23zm-222 29zm12 9zm16-3zm49 4zm3 10zm17-1zm42-5zm73 6zm-212 32zm-25 6zm15 11zm112-8zm40 43zm-173-18zm15 28zm15 6zm139-6z"/><path stroke="#FDE3A3" stroke-width="13.2" d="M1059 397zm20 15zm241 0zm7 15zm-34-1zm-230 26zm284 8zm106 42zm-122-5zm-30-19zm-76 50zm20-15zm48 11zm1 6zm21-3zm5 1zm48 8zm-5-3zm-27 5zm-102 13zm-9-5zm-26 3zm-15-16zm-66 45zm34-1zm17 2zm25 5zm8-5zm2 7zm16-10zm2 9zm64-21zm8 3zm119 46zm-29 2zm-114-23zm-34-3zm-35 40zm8 4zm24-5zm3-9zm100 12zm77-11zm-224 61z"/><path stroke="#244DAF" stroke-width="19.2" d="M1403 555zm-134 105zm15 39zm118-3z"/><path stroke="#F6AA6A" stroke-width="9.2" d="M1100 381zm-12-3zm-21 34zm21 5zm158-7zm0 8zm60-24zm7 3zm31 45zm-35-18zm-15-3zm-68 10zm-2 14zm-10-1zm-119-11zm-3 12zm-15-6zm-6 3zm-1-19zm-17 8zm-35 39zm65-10zm14 6zm23-2zm77-7zm13 17zm39-21zm5 18zm1-11zm176 24zm-194-5zm-4 23zm-13-18zm-2 15zm-62 0zm-39-14zm-43 0zm-15 40zm77-14zm23 6zm8 6zm16 8zm8-27zm22 1zm7 4zm7 3zm8-1zm181 20zm8-23zm3 15zm9-4zm15-3zm3 12zm-42 23zm-231-9zm-19 5zm-7 5zm-10-17zm-61 17zm-37-17zm-6 27zm3 20zm20-21zm30 19zm4-4zm45-1zm14-4zm14-3zm3 1zm34-3zm0 4zm119 45zm-46-12zm-93-15zm-21 7zm-17 10zm-112-15zm87 44zm1-5zm36 10zm-86 52zm52 7zm47-21z"/><path stroke="#74A6DF" stroke-width="13.2" d="M1363 555zm-329 1zm303 12zm27 10zm22-17zm23 17zm-196 47zm193 3zm-220 109z"/><path stroke="#A5221F" stroke-width="13.2" d="M1124 403zm-115 145zm58 20zm87 7zm-79 109zm35-10zm-9 36z"/><path stroke="#BF3326" stroke-width="13.2" d="M1132 342zm63 5zm41 31zm-89 11zm-14-19zm33 37zm28 11zm1-10zm59-16zm-82 86zm-164 0zm32 26zm18 14zm18 2zm4-12zm27 11zm71 16zm-126 9zm-22 28zm2 47zm8 9zm32-1zm27-9zm2 32zm-30-5zm-1 12zm10 18z"/><path stroke="#3263BF" stroke-width="9.2" d="M1357 562zm40 11zm13 6zm26-14zm8-3zm-80 77zm9-4zm27 33zm-90 0zm-32-9zm-24 18zm74 56zm-31 51z"/><path stroke="#CEE2EE" stroke-width="13.2" d="M1334 490zm20 59zm-45-10zm19 68zm-40-7zm-37 21zm0 17zm145-11zm-194 62zm35 36zm-4-11zm-10 14z"/><path stroke="#D85436" stroke-width="13.2" d="M1104 356zm26-14zm19 20zm8-9zm0-14zm9 17zm13 0zm14-1zm20 5zm71-16zm-33 44zm-4-3zm-17 4zm-2-11zm-1-6zm-27 17zm-40 2zm-20-20zm-3 39zm16-16zm27 0zm4 19zm2-13zm9 6zm14 12zm-1 6zm-9 8zm-46 15zm-8-14zm-49 38zm7-15zm36 16zm6-9zm44 0zm1 1zm12-4zm37-5zm-59 35zm-18 3zm-3 4zm-29-8zm-58-5zm-32 12zm-36-10zm11 37zm33 4zm42-1zm3-6zm6 0zm8-10zm-15 25zm-8 15zm-43-15zm-44 21zm36 27zm16 3zm40-18zm4 18zm24-19zm24 12zm-17 26zm-38 35zm4-10zm1 9zm21-12zm13 29zm-54-5zm-22 1zm74 33zm3 14z"/><path stroke="#FCF4C4" stroke-width="9.2" d="M1286 438zm-51 80zm150 2zm40 24zm-103-1zm-21 5zm-2 11zm-33-16zm-69 12zm-24 8zm25 7zm10 4zm25 9zm33-17zm6 16zm148 23zm-6-10zm-45 15zm0-5zm0 4zm-19 5zm-35-10zm-71 5zm-20 4zm-24-12zm-2-3zm-9-2zm46 47zm16-19zm124-6zm44 45zm-209-12zm2 22zm-25 30z"/><path stroke="#A0C7EB" stroke-width="6" d="M1315 474zm2-1zm22 11zm-273 77zm280 3zm18 15zm45 4zm-10 6zm-188 24zm172 7zm-173 74zm183 13zm-165 16zm-13-8zm-9 7zm-29-5zm23 21zm2 2zm12-4zm3 7zm13-8z"/><path stroke="#244DAF" stroke-width="6" d="M1462 551zm-32 4zm-121-11zm100 24zm31 2zm-172 65zm148 2zm20 11zm-44 4zm-1-5zm-27 3zm-50 10zm-5 0zm-5-5zm-49 5zm-12 31zm8 6zm48-12zm9-10zm5 24zm18-24zm60 11zm29 11zm1 1zm5-14zm2 14zm16 0zm-3 9zm-3 7zm-2-6zm-2 9zm-9-13zm-15 15zm-123-17zm16 53zm4-14zm31-10z"/><path stroke="#E97E4F" stroke-width="9.2" d="M1107 348zm41 15zm86 1zm-33 6zm-16 21zm-21-22zm-4-1zm-27 4zm-19 5zm-3-3zm26 18zm76 1zm36 4zm53 9zm-85 23zm-47-7zm-44 21zm-9-8zm-7 7zm-34 1zm-7-12zm0 12zm-54 26zm63-14zm1 18zm3-14zm39-10zm33 14zm36 8zm4-20zm1 4zm8 13zm15 3zm23-20zm1 1zm3 19zm203 16zm-65 5zm-144 7zm0-7zm-34-15zm-60 6zm-10 6zm-30-7zm-22 15zm-37-5zm-31-8zm25 25zm5 4zm25 12zm46 4zm35-4zm73 5zm43 27zm-33-25zm-90 23zm-35 4zm-40-2zm-3-10zm-58 12zm-5 0zm-2-16zm-10 16zm56 28zm15-13zm2 4zm1 6zm15-14zm33-1zm8 10zm2-3zm16 5zm21-8zm7 27zm-15 11zm-28-3zm-4-2zm-6-12zm-7 20zm-34-3zm-33-6zm8 30zm30 8zm71-5zm1-19zm29-1zm74-1zm-103 42zm-2 3zm-7 4zm-1-22zm-27 21zm-45 6zm-11-27zm-8 12zm6 16zm43 4zm2 1zm21 3zm3 10zm10 9zm6-18zm-38 27z"/><path stroke="#A0C7EB" stroke-width="9.2" d="M1330 433zm-4 49zm-10-2zm-268 42zm224-1zm33 7zm63 29zm-33 0zm-87 83zm-29 57zm10 0zm10 8zm-33-2zm-27 9zm18 31zm7-7z"/><path stroke="#4A81D0" stroke-width="9.2" d="M1435 546zm-118-9zm22 35zm9-3zm-86 71zm4-1zm6-13zm126 10zm19 25zm-142 4zm-29-4zm4 23zm62 1zm-69 18zm-65 25zm10 26z"/><path stroke="#F6AA6A" stroke-width="6" d="M1095 359zm50-14zm34 17zm58-2zm72 27zm-165-10zm-81 17zm1 16zm16 2zm105-4zm103-9zm10-2zm14 8zm2 5zm-20 36zm-6-17zm-78-3zm-8 6zm-12 2zm-69 6zm-8 0zm-14 2zm-11-1zm-2-2zm-27 13zm5-4zm15 2zm7 10zm13-8zm39 3zm63 20zm127-25zm41 23zm82 19zm-20 8zm-21-20zm-5 20zm-25-24zm-172 22zm-8-19zm-7 14zm-10-4zm-17 13zm-36-16zm-38 1zm-39-4zm-34 41zm135-5zm19 0zm179 4zm37-1zm16-13zm11 14zm13-7zm9-3zm3-5zm-218 29zm-31 2zm-9 3zm-36 6zm-3-14zm-123 5zm-7 20zm14 25zm115-21zm31 0zm91 22zm21-2zm-8 9zm-103 21zm-75-9zm-14 13zm96 13zm7 36zm-32-10zm-47 35z"/><path stroke="#BF3326" stroke-width="6" d="M1108 359zm71-3zm49 6zm-62 14zm-43 21zm8 22zm23-26zm39 0zm14 25zm19-16zm25 15zm-35 7zm-23 6zm-12 1zm-33-8zm-25 19zm14 9zm111 18zm-164 33zm-11-5zm-7-6zm-35 8zm-11 1zm-7-4zm-8 27zm9-13zm20 4zm6 3zm40 13zm10-3zm5-13zm11 18zm-45 14zm-37-14zm25 36zm27-4zm3 46zm-16-14zm-20 14zm21 20zm30-9zm3-1zm23 20zm4 0zm5-15zm13 43zm-49-13zm-7 11zm-20-4zm-20-12zm61 47zm39-1z"/><path stroke="#D85436" stroke-width="9.2" d="M1107 349zm4 5zm1 3zm3 0zm52-15zm4 11zm6 7zm0 3zm9-6zm60 31zm-3 3zm-6-9zm-6 9zm-16-7zm-7-2zm-5 2zm-5-5zm-1 9zm-52-12zm-12-4zm0 4zm-3-3zm-16 18zm-9-1zm5 10zm10 2zm2-8zm1 19zm0 1zm2-7zm8 1zm42 7zm19-15zm15-4zm34 6zm4-5zm3 44zm-9 1zm-30-10zm-5-9zm-23-3zm-8 13zm-26-9zm-8 12zm-8-16zm-42 23zm-22 11zm65 7zm19 8zm10-21zm21 15zm45 1zm15 2zm-68 36zm-48-18zm-14-5zm-56 7zm-18 3zm-11 17zm16 2zm50-1zm49 20zm22 28zm-33-13zm-8-3zm-3 4zm-16-10zm-6 4zm0 0zm-10 15zm-9-20zm-14 20zm-28-11zm-10 2zm-11-3zm-1 16zm-6-5zm-1-7zm-10 6zm-8-2zm6 16zm15 0zm21 1zm18 5zm4-2zm1 9zm22 9zm71-10zm-17 34zm0-1zm-40-14zm-5-3zm-37 20zm-19-7zm35 37zm5-1zm4-23zm8 8zm14-4zm8 8zm10-2zm2-12zm27 11zm25 17zm-29 3zm-3 4zm-4 7zm-5 1zm-11 9zm-5-22zm-5 3zm-7-1zm-8 10zm-6 8zm-13 0zm-9-2zm-7-8zm-13 12zm65 18zm8-7zm16 6zm7 7zm14 13zm-24 17zm-4-9zm-2-1z"/><path stroke="#BF3326" stroke-width="9.2" d="M1098 360zm67-4zm33 32zm-19-2zm-2-4zm-1 9zm-38-4zm73 29zm5-11zm36 5zm1 8zm-26 9zm-40-4zm-176 47zm157-20zm8 5zm7-1zm-26 23zm-90 6zm-20 7zm-23-14zm-4 27zm-19 28zm6-21zm3-4zm40 20zm12 4zm111-10zm-22 29zm-43-12zm-6 19zm-32 1zm-49-3zm-18-11zm-11-3zm9 24zm7-4zm23 13zm3 6zm12 4zm68 20zm-25-14zm-45 8zm49 21zm23 2zm16 22zm-7 26zm-24-5zm-2-11zm22 25zm7 15zm4 0zm2-14zm3 28zm-7 15z"/><path stroke="#FAC986" stroke-width="9.2" d="M1138 361zm36 23zm-74-4zm-30 15zm37-1zm9 4zm93-2zm77 15zm51-2zm0 5zm14 13zm-23 0zm-21-3zm-166 14zm-28-3zm-14 2zm-10 2zm-36 2zm38 31zm193-24zm7 16zm5-7zm6 5zm5 1zm33-11zm109 38zm-15 8zm-23 1zm-1-1zm-4 3zm-20-7zm-187 8zm-3-17zm-4 13zm-1-12zm-21 16zm-138-9zm102 34zm21-13zm32 5zm72 10zm22-5zm8-12zm43 7zm58 8zm15-19zm20 11zm12 5zm8-3zm16-12zm-78 25zm-48-1zm-50 10zm-6 3zm-22 5zm-26-15zm-17 12zm-44-8zm-4-2zm-25 30zm25 11zm4-2zm42-5zm4 8zm9 4zm5-4zm10 5zm33 2zm29 25zm-61-11zm-56 31zm71-11zm-82 49zm-28 17z"/><path stroke="#FDE3A3" stroke-width="6" d="M1327 409zm26 21zm-22-3zm-11 8zm-214-14zm-47 13zm244 34zm3 1zm5-11zm-72 31zm-17 23zm3 3zm17 11zm78-3zm7-18zm14 12zm30-2zm21-10zm29 21zm41-14zm-36 21zm-48 16zm-84-15zm-3 20zm-4-12zm-62 17zm-81 0zm55 7zm18 4zm18 1zm5 14zm14-21zm5 3zm21 1zm5 18zm3 0zm14-26zm98 54zm-21-1zm-2-13zm-10 0zm-32 5zm-1-8zm-92 10zm-9-5zm-9 5zm-2-19zm4 43zm3-2zm12 7zm-45 15z"/><path stroke="#A5221F" stroke-width="9.2" d="M1150 352zm56 29zm-12 4zm40 12zm3 16zm-91 18zm-134 43zm81-6zm78-17zm39 4zm13-1zm151 10zm-336 44zm193 13zm-141 20zm-13-9zm81 72zm-71-5zm-4 18zm61 21z"/><path stroke="#E97E4F" stroke-width="6" d="M1158 362zm60-13zm13 10zm11 15zm-18-3zm-30 15zm-102-12zm-13 7zm46 13zm18 24zm3-12zm3 1zm29-5zm49-2zm83-8zm31 42zm-99-10zm-36 23zm-74-13zm-48 7zm-5-4zm8 37zm3-20zm99 12zm21 2zm70-7zm113 42zm-26-1zm-118-25zm-28 4zm-8 13zm-31-12zm0 17zm-7-9zm-18 9zm-16-20zm-43-3zm-8 13zm-15-4zm-47 2zm-19 9zm25 20zm16-4zm93 19zm12-13zm167 20zm-158 19zm-4-22zm-23 4zm-34 17zm-8-3zm-6 5zm-7-22zm-57 1zm23 36zm42-5zm42 9zm13-10zm18 12zm8 29zm-22-4zm-41-10zm-21 16zm-1-21zm-46 6zm0 30zm1 2zm17 13zm24-2zm6-9zm6-8zm14 2zm22 20zm5-11zm12 11zm10-22zm9 30zm-4 11zm-27-12zm-38 0zm-7 17zm-2-8zm-4 11zm46 11zm39 4z"/><path stroke="#FCF4C4" stroke-width="6" d="M1241 364zm-157 46zm218-10zm57 14zm-203 28zm157 7zm6 18zm-20 54zm162 12zm-81 9zm-51 10zm-3 2zm-11-19zm-3 8zm-20 8zm-2-4zm-33 7zm-1 5zm-30-14zm-12-12zm-29 25zm35 5zm30-2zm166 32zm-80 9zm-100-13zm-10 17zm-9-6zm-22 18zm55 7zm12-4zm55 13zm16 7zm13-24zm35 48zm-158-3zm-4-8zm-11 25zm2 48zm12 16z"/><path stroke="#74A6DF" stroke-width="9.2" d="M1456 545zm-6 4zm-16 1zm-42 0zm-80-6zm90 29zm-183 31zm12 27zm168 2zm-36 20zm-125 16zm-20 48zm-27 0zm-2-1zm5 28zm-5 16z"/><path stroke="#4A81D0" stroke-width="6" d="M1286 411zm19 45zm144 92zm-11 3zm-49 15zm8 8zm-113 57zm3 5zm71 30zm-115 18zm-38 51z"/><path stroke="#CEE2EE" stroke-width="9.2" d="M1332 458zm9 13zm74 73zm-57 1zm-50-6zm-9 16zm-64 3zm-5 7zm155 22zm30 20zm-20-15zm-136 32zm86-1zm-129 44zm-3-17zm-16 15zm1 28zm6 13zm-27 8zm27 17zm10 21zm1 2zm14-21z"/><path stroke="#A5221F" stroke-width="6" d="M1173 341zm0 40zm-10 9zm24 46zm-36-5zm-53-9zm117 64zm-182-10zm58 51zm22-2zm14 120z"/><path stroke="#244DAF" stroke-width="9.2" d="M1440 565zm-169 68zm18 4zm98-2zm14 6zm72-18zm-85 32zm-58 5zm-11 1zm-35-2zm-37 22zm24 4zm21-5zm8-4zm52 16zm42-1zm17-17zm-11 40zm-1-1zm-63 13zm-4 0zm-38-19zm-6-7zm-11 6zm-25-6zm65 34zm15 4z"/><path stroke="#74A6DF" stroke-width="6" d="M1334 485zm75 65zm-32 6zm-20-4zm18 30zm-119 56zm53-6zm-40 88zm-31-7zm-29-4zm-15 19zm20 0zm16 5z"/><path stroke="#1F3FA3" stroke-width="9.2" d="M1048 581zm417 33zm-4-4zm-181 33zm5-4zm146 15zm-2 9zm-15-13zm-5-6zm-33 15zm-6-11zm-2 22zm-11-10zm-1 11zm-1-9zm-31-6zm-85 22zm17 6zm25 3zm2 12zm37-19zm43 5zm6 0zm18-10zm51 11zm-16 18zm-14 10zm-5-5zm-23-5zm-16 5zm-92 30zm38 11zm16-17zm12 3zm-29 26zm-23 18zm-7-5z"/><path stroke="#CEE2EE" stroke-width="6" d="M1436 542zm-54 9zm-38-2zm46 35zm-13 10zm-4 1zm-62 3zm-9 0zm-105 41zm12 2zm10-10zm30-1zm67 2zm-83 19zm-43 43zm3 4zm32 16zm-26-14zm-22 35zm41-4z"/><path stroke="#3263BF" stroke-width="6" d="M1346 561zm29 7zm8-2zm1-6zm17 4zm47-3zm0 6zm-173 75zm120-2zm-103 31zm-27-10zm-4 4zm-6 9zm36 1zm70 16zm38 0zm42 20zm-21-2zm-18-1zm-94 36zm-11 29z"/><path stroke="#FAC986" stroke-width="6" d="M1164 375zm-110 26zm19 7zm2-13zm266 22zm9 9zm-2 18zm-18-2zm-16-22zm-2 27zm-4-21zm-2 17zm-6-1zm-12-7zm-5 5zm-2 3zm-167-15zm-27-8zm-24 10zm1 27zm10 4zm15-3zm5 1zm123 10zm29-8zm49 13zm13-19zm31-4zm109 37zm-8-3zm-43-5zm-21 0zm-6 16zm-2-2zm-65-8zm-64 13zm-5-18zm-22 15zm-14-7zm-13 0zm-21 18zm14 19zm1-3zm28-9zm6 10zm39-2zm23-15zm56-2zm25 16zm17-17zm22 24zm27-14zm-24 20zm-136 15zm-123-1zm-6 17zm30 10zm55 12zm4-5zm4-20zm10 8zm40 16zm65 27zm-10-6zm0-8zm-4-5zm-20 2zm-29-1zm-14 15zm-10-6zm-51 5zm-4-3zm-23-9zm-140 29zm150-4zm144-6zm-132 46zm-5-1zm-6 3zm-21-19zm-103 3zm126 30zm5-3zm104 103z"/><path stroke="#1F3FA3" stroke-width="6" d="M1116 580zm284-16zm-12 79zm37 7zm-6 4zm-8 12zm-3-5zm-7 3zm-7-6zm-6 9zm-4 3zm-78-17zm-44 33zm33-3zm70 12zm6 4zm1-7zm1-14zm1-3zm6 1zm29 20zm9 3zm9-15zm6 2zm7 11zm-23 9zm-2 9zm-5-15zm-11 2zm-22 6zm-15 0zm0 14zm-1-13zm-66-1zm10 35zm7 13zm-30 13z"/><path stroke="#D85436" stroke-width="6" d="M1117 362zm1-9zm16-14zm7 15zm77 4zm0 11zm-4 16zm-9-18zm-12 6zm-6 17zm-41-8zm-16 5zm0-4zm-30 13zm30 15zm2-7zm7 14zm32-4zm50-1zm4 0zm0-5zm-32 24zm-48 3zm-28 10zm-2-8zm-12 22zm39 5zm8 7zm7-23zm9 19zm6 8zm4-21zm15 2zm3-2zm20 6zm4-7zm207 49zm-217-23zm-48 11zm-78-3zm-36 0zm-22-11zm3 45zm45 7zm8 3zm2-5zm7-14zm10-8zm5 27zm2-14zm8 9zm-11 11zm-12 4zm-14 8zm-19 4zm-12-21zm-23 36zm9 19zm11-18zm9-7zm20 9zm30 15zm-9 6zm-32-1zm-22 17zm-8 20zm10-9zm5 15zm14-12zm4 17zm12-12zm4-10zm9 9zm4 17zm50-16zm19 30zm-13 7zm-16-15zm-7 18zm-25-10zm-10-5zm-42 7zm2 13zm53 13zm20-8zm28 22zm8-13zm-13 17zm-8 2zm-32-5z"/><path stroke="#FDE3A3" stroke-width="9.2" d="M1085 409zm209 3zm22-19zm7 7zm25 47zm-16-8zm-32 8zm-240 9zm225 3zm29 0zm129 38zm-47-16zm-37 4zm-2 9zm-229-4zm209 22zm26 19zm3-20zm18 1zm5-5zm9 20zm2-10zm1 6zm8-2zm8-7zm17 4zm13 15zm-31 4zm-58 4zm-92-3zm-3 8zm-3 6zm-10-17zm-4-3zm-1 10zm-5 12zm-13-13zm-18 8zm-32 5zm-13 0zm-12 6zm30 17zm32-2zm18-4zm8-11zm17 13zm27-2zm135 36zm-24-6zm-48 10zm-10-4zm-19-8zm-9 0zm-4-3zm-18-1zm-11-5zm-21 4zm-41 8zm-13-2zm-24 3zm14 31zm2-2zm21 3zm25-9zm2-4zm-45 50zm33 76z"/><circle cx="1765" cy="418" r="78.9" fill="#FCF4C4"/><circle cx="1733" cy="637" r="66.7" fill="#FCE9AF"/><circle cx="1672" cy="536" r="58.6" fill="#FCF4C4"/><circle cx="1814" cy="402" r="54.5" fill="#FCEDB6"/><circle cx="1854" cy="584" r="50.4" fill="#FCE9AF"/><circle cx="1692" cy="617" r="46.4" fill="#FDE6A8"/><circle cx="1976" cy="528" r="42.3" fill="#FDDE9B"/><circle cx="1712" cy="434" r="42.3" fill="#A2C8EB"/><circle cx="2013" cy="666" r="42.3" fill="#FCF4C4"/><circle cx="1903" cy="666" r="42.3" fill="#FDE6A8"/><circle cx="1830" cy="459" r="40.3" fill="#FCF0BD"/><circle cx="2037" cy="519" r="40.3" fill="#FDDA94"/><circle cx="1883" cy="544" r="38.2" fill="#FDDA94"/><circle cx="1765" cy="584" r="38.2" fill="#7CAEE2"/><circle cx="1932" cy="450" r="36.2" fill="#FDDE9B"/><circle cx="1814" cy="511" r="34.2" fill="#BBD8F0"/><circle cx="1741" cy="686" r="34.2" fill="#FDE2A2"/><circle cx="1834" cy="645" r="34.2" fill="#FCE9AF"/><circle cx="1822" cy="723" r="32.1" fill="#FDDE9B"/><circle cx="1781" cy="658" r="30.1" fill="#FCF4C4"/><circle cx="1741" cy="373" r="30.1" fill="#FCF0BD"/><circle cx="1863" cy="674" r="30.1" fill="#FCEBB3"/><circle cx="2009" cy="605" r="30.1" fill="#C8E0F3"/><circle cx="1753" cy="530" r="28.1" fill="#DCE8E1"/><circle cx="1798" cy="367" r="26.9" fill="#FCEBB3"/><circle cx="1846" cy="495" r="26" fill="#FCF4C4"/><circle cx="1789" cy="552" r="26" fill="#427ACD"/><circle cx="1938" cy="617" r="26" fill="#7CAEE2"/><circle cx="2037" cy="491" r="26" fill="#FDDA94"/><circle cx="2017" cy="564" r="26" fill="#FDE6A8"/><circle cx="1696" cy="406" r="26" fill="#C8E0F3"/><circle cx="2031" cy="700" r="25.2" fill="#88B8E6"/><circle cx="1749" cy="471" r="22" fill="#376AC3"/><circle cx="1712" cy="560" r="22" fill="#376AC3"/><circle cx="1814" cy="609" r="22" fill="#FCF4C4"/><circle cx="1976" cy="706" r="22" fill="#7CAEE2"/><circle cx="1980" cy="491" r="21.2" fill="#FDDE9B"/><circle cx="1920" cy="410" r="21.2" fill="#FDE2A2"/><circle cx="2001" cy="576" r="20" fill="#BBD8F0"/><circle cx="1968" cy="564" r="17.9" fill="#FCF4C4"/><circle cx="1850" cy="422" r="17.9" fill="#FCEBB3"/><circle cx="1865" cy="521" r="17.9" fill="#FDDE9B"/><circle cx="1672" cy="658" r="17.9" fill="#FDE2A2"/><circle cx="2060" cy="552" r="17.9" fill="#FDE2A2"/><circle cx="1956" cy="422" r="17.9" fill="#FBCD89"/><circle cx="1924" cy="544" r="15.9" fill="#BBD8F0"/><circle cx="1810" cy="491" r="15.9" fill="#DCE8E1"/><circle cx="1910" cy="767" r="15.1" fill="#2145A8"/><circle cx="1942" cy="477" r="14.7" fill="#FCEBB3"/><circle cx="1619" cy="552" r="13.9" fill="#FCEBB3"/><circle cx="1846" cy="706" r="13.9" fill="#FDE2A2"/><circle cx="1781" cy="511" r="13.9" fill="#BBD8F0"/><circle cx="1631" cy="483" r="13" fill="#EE8D58"/><circle cx="1651" cy="481" r="11.4" fill="#FDE2A2"/><circle cx="2082" cy="615" r="10.2" fill="#9BC4EA"/><circle cx="1810" cy="751" r="9.8" fill="#FDE2A2"/><circle cx="1928" cy="740" r="9" fill="#2247AA"/><circle cx="1922" cy="754" r="9" fill="#2145A8"/><circle cx="1948" cy="731" r="7.4" fill="#376AC3"/><circle cx="1889" cy="723" r="4.5" fill="#FCF4C4"/><circle cx="1901" cy="341" r="3.7" fill="#9BC4EA"/><circle cx="1928" cy="491" r="3.7" fill="#FCEBB3"/><circle cx="1915" cy="339" r="2.5" fill="#9BC4EA"/><circle cx="1993" cy="466" r="1.7" fill="#FDE2A2"/><circle cx="1884" cy="737" r="1.3" fill="#BBD8F0"/><circle cx="1924" cy="552" r="6.6" fill="#fff"/><circle cx="1928" cy="570" r="8" fill="#fff"/><circle cx="1934" cy="591" r="6.9" fill="#fff"/><circle cx="1938" cy="605" r="4.4" fill="#fff"/><circle cx="1905" cy="621" r="11" fill="#fff"/><circle cx="1912" cy="645" r="9.5" fill="#fff"/><circle cx="1976" cy="621" r="9.9" fill="#fff"/><circle cx="1972" cy="645" r="8" fill="#fff"/><circle cx="1834" cy="684" r="9.5" fill="#fff"/><circle cx="1741" cy="566" r="4.8" fill="#fff"/><circle cx="1731" cy="574" r="3.3" fill="#fff"/><circle cx="1850" cy="702" r="4.4" fill="#fff"/><circle cx="1820" cy="668" r="5.1" fill="#fff"/><circle cx="1749" cy="505" r="3.3" fill="#fff"/><circle cx="1765" cy="508" r="2.9" fill="#fff"/><circle cx="1954" cy="560" r="3.7" fill="#fff"/><path stroke="#FCF4C4" stroke-width="19.2" d="M1752 353zm8 6zm56-8zm27 40zm-116-14zm75 37zm62 24zm-20-13zm-59 21zm60 16zm104 23zm-81-5zm-66 10zm-18 5zm154 31zm-27 31zm-170 2zm-95-7zm182 9zm181 51zm-170-20zm-150 36zm149 9zm106 24zm-130-7zm82 19zm-50 50z"/><path stroke="#FDE3A3" stroke-width="19.2" d="M1856 396zm-30 27zm-11-3zm-83 1zm318 46zm-380 9zm-5 32zm97 8zm93-5zm128 24zm-86 14zm-36 7zm-217-9zm-1 21zm383 16zm-369 14zm-2 39zm150-11zm-37 44zm1 5zm-55 33z"/><path stroke="#CEE2EE" stroke-width="19.2" d="M1694 417zm215-13zm-102 49zm212 48zm-376 13zm109 29zm-44-4zm0-4zm14 49zm90-13zm29 2zm91-13zm69 11zm-197 23zm-35 42zm26-1zm-78 60zm6-3z"/><path stroke="#4A81D0" stroke-width="19.2" d="M1795 554zm-8 15zm-23 27zm-26 46zm240 82z"/><path stroke="#244DAF" stroke-width="19.2" d="M1906 764z"/><path stroke="#A0C7EB" stroke-width="19.2" d="M1841 367zm-135 45zm108 32zm-101 22zm135-9zm-41 81zm5 26zm197 11zm-49 31zm-22 9zm-181-15zm113 59zm-119 17zm142 45z"/><path stroke="#F6AA6A" stroke-width="19.2" d="M1925 447zm36 105zm-116 14zm53 82zm-56-1zm-161 12z"/><path stroke="#A5221F" stroke-width="13.2" d="M1898 661z"/><path stroke="#FAC986" stroke-width="19.2" d="M1777 356zm18-13zm46 47zm-83 51zm-126 68zm220 17zm37 1zm100 11zm-84 44zm-93 43zm90 34zm-73-3zm-134-11zm9 43zm38-16zm18 27zm51-7zm72-14zm19-6zm-61 31z"/><path stroke="#FAC986" stroke-width="13.2" d="M1802 363zm59 17zm-111-5zm193 66zm-5-14zm-35-1zm-103 18zm107 11zm50 0zm112 42zm-25-11zm-91 5zm-27 3zm-287 35zm254-3zm86-11zm14 13zm68-23zm-91 37zm-2-7zm-15 12zm-67 10zm-36-19zm-183 9zm205 23zm39-6zm-239 32zm-10 24zm40 2zm8 11zm187 1zm149 21zm-51-4zm-51 6zm-68-9zm-152 4zm-13-4zm-3 26zm191 10zm-108 32zm-50 4zm53 15zm12 11zm25-17z"/><path stroke="#3263BF" stroke-width="19.2" d="M1738 573z"/><path stroke="#D85436" stroke-width="19.2" d="M1876 647z"/><path stroke="#4A81D0" stroke-width="13.2" d="M1722 555zm-81-19zm134 29zm0-3zm21 11zm163 34zm-21 9zm110 69z"/><path stroke="#F6AA6A" stroke-width="13.2" d="M1961 418zm-7 13zm-188-5zm30 39zm235 8zm-83 51zm18-4zm90-2zm0 6zm-18 25zm-132 10zm-16-7zm-213 119zm-21-8zm80 28zm175-19zm-14 37zm-65 5zm-41 2zm-78-13z"/><path stroke="#244DAF" stroke-width="13.2" d="M1960 709zm-54 57zm-13 5z"/><path stroke="#1F3FA3" stroke-width="13.2" d="M1720 549zm191 203zm16 3zm-9 28zm-12 0zm-7-19z"/><path stroke="#FDE3A3" stroke-width="13.2" d="M1806 382zm-36-1zm-30-17zm-35 12zm-31 35zm79 8zm21-24zm58 14zm100-11zm-97 29zm0 6zm-31 3zm-101 19zm50-2zm15 1zm14 17zm33-16zm26-1zm31 2zm30 7zm119 5zm5 1zm8-5zm10 2zm6 8zm-54 24zm-24 3zm-13-24zm-105 5zm-57 18zm-5-20zm-112-2zm-60 28zm71 5zm50 3zm155 6zm19 5zm2-1zm34-8zm77-12zm-18 45zm-5-9zm-21-2zm-36 1zm-79-5zm-49 5zm-175 16zm-6-3zm-21-6zm-13 5zm0 5zm42 26zm23-19zm197 0zm35 22zm76-7zm2 2zm10 25zm-198 2zm-86 14zm12-3zm139 2zm104 12zm41 24zm-67 1zm-25-1zm-17 9zm-42-1zm-48-7zm-49 12zm-1-25zm-20 4zm-25-2zm-19 17zm-28 5zm47 13zm49-9zm18 24zm107 2zm47-23zm2 15zm-120 21zm-1 1zm-10 25z"/><path stroke="#CEE2EE" stroke-width="9.2" d="M1822 366zm-69 3zm-39 22zm-1-2zm-16-5zm-19 1zm9 27zm4 7zm6-10zm78 5zm44-18zm35 5zm62 8zm-54 20zm-8-5zm-85 0zm-29 15zm-5 0zm-58 8zm3 14zm47-11zm50 3zm20 17zm24 4zm2-14zm7 4zm154 29zm-155-12zm-20 7zm-26 10zm-63 3zm-4-5zm-1 5zm-15-10zm-63 12zm-6 24zm21-11zm46 5zm41 2zm1 8zm60-25zm12 0zm158 25zm106 24zm-9-17zm-26 0zm-63 14zm-67-10zm-3 12zm-6-7zm-64-1zm-27-11zm-72 14zm-2-6zm-20 2zm-5-8zm-34 9zm-25 5zm-14-15zm18 47zm6-16zm19-2zm25 20zm268-13zm4-12zm39 17zm70 30zm-53-6zm-2-13zm-44 26zm-1-11zm-7 5zm-54-11zm-1 0zm-46 14zm-81-9zm-2-5zm-7-7zm-1 17zm-10-11zm-8 11zm-18 4zm-10-16zm-1 9zm-32-4zm-66 17zm118 24zm13-21zm23 1zm26 0zm19 3zm32-6zm60 17zm7 2zm62-21zm2 11zm5 2zm27-11zm14 38zm-2 0zm-23 9zm-7 1zm-24-2zm-12-16zm-109 17zm-98-1zm-4 0zm-111 8zm46 25zm42-9zm24 0zm139-2zm12-13zm119 8zm2-4zm9 2zm-61 25zm-2-2zm-107 16zm-29-9zm-130 11z"/><path stroke="#E97E4F" stroke-width="9.2" d="M1947 466zm83 1zm-41 10zm-362 15zm249 35zm177 22zm-400 58zm83 53zm-1-6zm61 89z"/><path stroke="#CEE2EE" stroke-width="13.2" d="M1865 387zm-40-1zm-135 8zm11 17zm26-19zm53 2zm15 22zm33-2zm40-14zm-10 30zm-144 17zm-46-6zm59 10zm51 20zm9-14zm32 11zm0 7zm162 3zm-39 23zm-80-21zm-125 5zm-27 4zm-29 2zm-15-11zm-4 43zm46-10zm51 4zm40 10zm18-3zm231-9zm-51 34zm-183 9zm-55-15zm-93-4zm-1 9zm30 38zm139 1zm162-11zm44 22zm-12-2zm-36 13zm-35-11zm-165 12zm-24-22zm-14 54zm114-11zm64 3zm115 33zm-48-16zm-6-3zm-102 5zm-83 9zm-28 3zm-60 20zm99 7zm54-8zm28 8zm127-9zm2-7zm11 14zm-52 24zm-31-6zm-54 2zm-93-9zm-13 12zm11 41zm22-23z"/><path stroke="#F6AA6A" stroke-width="9.2" d="M1974 430zm-7-1zm-113 46zm88-4zm20-1zm77 18zm-65-2zm-286 4zm-26 37zm232-11zm89 13zm20-20zm1 21zm31 1zm29-20zm-163 48zm-49 21zm-201 59zm55-21zm144-2zm48 48zm-21-11zm-13 13zm-146 30zm282 16zm-155 13zm-4-9zm-25-14zm-47 7zm31 34zm7 13z"/><path stroke="#D85436" stroke-width="13.2" d="M1957 402zm-205 250zm-83-5z"/><path stroke="#FCF4C4" stroke-width="13.2" d="M1748 354zm22 4zm10-13zm9 6zm5 7zm14-11zm19 28zm-54-4zm0 13zm-63-12zm-25 28zm83-7zm31 13zm1-9zm34 15zm94 0zm25 25zm-1-11zm-41-5zm-112 21zm-46-21zm-9 21zm-1-13zm-11-8zm-6 18zm-4-10zm-52 17zm23 9zm18 19zm63-10zm40-4zm27 6zm191 8zm-26 19zm-138 0zm-33-14zm-1 2zm-16-2zm-30-2zm-77 1zm-29 20zm-57 3zm21 5zm69 0zm8 5zm228-5zm3 13zm4 11zm95 25zm-40-19zm-21 16zm-34-13zm-15 4zm-21-11zm-19 1zm-140 8zm-120 16zm-5 0zm-20-21zm-10 21zm396 17zm4-5zm9 8zm11-14zm8-1zm11 5zm3 0zm-190 44zm-71-20zm-20 19zm-59 32zm5-17zm26 4zm7 10zm8 0zm118-1zm130 24zm-6-12zm-16 2zm-101-2zm-41 4zm-2 14zm-20-22zm-12 25zm-38-2zm-10-17zm-102 7zm-1-9zm6 22zm34 5zm22 14zm9-16zm119 16zm38 3zm109-19zm-107 29zm-150 0z"/><path stroke="#3263BF" stroke-width="13.2" d="M1762 574zm21 94zm-88-21zm246 90zm-40 33zm-2-1zm-1-5z"/><path stroke="#3263BF" stroke-width="9.2" d="M1759 467zm88 63zm-60 18zm-65 1zm-11 7zm-4 6zm10 13zm54 6zm200 127zm-47 32zm1-3zm-21 27z"/><path stroke="#74A6DF" stroke-width="19.2" d="M1764 472zm15 71zm-73 11zm76 26zm206 28zm-72 1zm-150-13zm324 22z"/><path stroke="#FAC986" stroke-width="9.2" d="M1723 353zm27 2zm100 6zm-7 17zm-72 2zm-15 8zm-44-18zm48 38zm81 8zm69-21zm54 35zm-26-10zm-11 11zm-59-7zm-49 11zm-15 11zm-57-6zm-8 1zm-85 27zm122-11zm13 3zm119-11zm5 8zm37-8zm102 33zm-27 10zm-1-7zm-16 11zm-24-13zm-10-2zm-167 5zm-103 17zm-2-11zm-50 1zm-6-5zm-9 4zm-15 0zm-3 13zm47 15zm49 7zm148-3zm4-19zm3 14zm11-7zm15 11zm83-17zm2 6zm39 13zm4-16zm11-4zm15 13zm6-2zm14-5zm-21 36zm-19-9zm-14-1zm-20-1zm-7 15zm-139 6zm-19 0zm-228-8zm49 15zm172 4zm4 3zm5 11zm8 5zm68-18zm148-8zm18 0zm-221 29zm-3 12zm-2 11zm-3-18zm-8 1zm-105 3zm-36-7zm-16 5zm171 22zm38 11zm149 30zm-120 7zm-42-6zm-32-11zm-125 9zm-6-9zm-7 13zm-12 2zm-6-18zm4 38zm33 6zm59-2zm18-11zm101 0zm13 5zm-91 22zm-78-4zm-6 1zm62 28zm10 10zm12-1zm12 14z"/><path stroke="#1F3FA3" stroke-width="9.2" d="M1868 658zm37 93zm21 16zm-11 7z"/><path stroke="#244DAF" stroke-width="9.2" d="M1730 457zm204 274zm22 1zm-46 44z"/><path stroke="#A0C7EB" stroke-width="13.2" d="M1848 391zm-75-9zm-73 3zm-19 2zm20 19zm8 9zm43-23zm-41 73zm21-8zm58-1zm152 26zm-190 7zm6 22zm22-4zm25 19zm8 8zm-3 11zm-34-10zm-63 12zm-17 40zm326 25zm-103-5zm-82-8zm-47 8zm-6-6zm-13 2zm-52-5zm-42 24zm125 15zm157-13zm29-3zm3 1zm4 45zm-193-21zm-122 8zm277 38zm51 11zm-25 16z"/><path stroke="#3263BF" stroke-width="6" d="M1736 479zm69 66zm165 172zm-58 43z"/><path stroke="#FCF4C4" stroke-width="6" d="M1742 357zm8-18zm18 24zm42-2zm18 2zm-13 2zm-19 1zm-5 13zm-90 21zm63-7zm10 7zm15 11zm16-16zm16-2zm102 9zm9 33zm-95-5zm0-3zm-4-2zm-34 22zm-21-14zm-22 7zm-31-20zm-47 32zm5 12zm21 0zm77-8zm5 0zm26-7zm2 23zm14-4zm2-2zm5-9zm16-4zm55 7zm48-8zm77 15zm45 35zm-58-15zm-16 9zm-50-16zm-98 8zm-34-3zm-127 8zm-19 0zm-15 1zm-3 3zm-9 11zm68 3zm11 6zm24 12zm2-14zm46-2zm22 2zm14 2zm40 2zm46 8zm31-6zm37-11zm8 17zm9-21zm41 21zm-34 24zm-14-8zm-69-2zm-55 17zm-5-20zm-25 3zm-103-8zm-57 17zm-4 7zm-11-23zm-5 9zm-10 1zm-19 15zm-6-18zm27 41zm28-19zm7 6zm36 11zm7-1zm93-13zm31 18zm17-19zm7 13zm6-18zm26 0zm62 13zm8-9zm16 8zm38 5zm2 29zm-6 5zm-37-2zm-107-10zm-37-1zm-16 8zm-5-2zm-47 6zm-31-2zm-2-11zm-37 0zm-31 6zm-6-8zm-23 9zm-5 35zm13-11zm5 5zm32-7zm28-4zm3-5zm16 0zm35 23zm2-24zm9 26zm73-5zm14-16zm9 18zm6-5zm102-12zm48 45zm-126-11zm-1 14zm-49-26zm-32 25zm-13-14zm-26 8zm-31-17zm-2 6zm-1 6zm-70 7zm-3 0zm-13-16zm24 44zm21-11zm33 7zm5-9zm35 0zm12 16zm48-12zm127-11zm6 3zm22 22zm6-2zm-114 8zm-68-1zm-42 1zm-32-1zm-17 10zm-15-10zm93 29zm63 5z"/><path stroke="#244DAF" stroke-width="6" d="M1944 624zm7 102zm-26 4zm17 7zm-23 29zm-3-1zm-9-5z"/><path stroke="#D85436" stroke-width="9.2" d="M1977 534z"/><path stroke="#4A81D0" stroke-width="6" d="M1741 492zm28 12zm320 104zm-139-6zm-17 14zm159 1zm-66 62zm-43 30zm-17-9zm-51 68z"/><path stroke="#A5221F" stroke-width="9.2" d="M1800 474zm116-14zm116 40z"/><path stroke="#74A6DF" stroke-width="13.2" d="M1702 454zm36 9zm77 50zm3 38zm-10 1zm-2-11zm-50-1zm-30-6zm-18 28zm8-1zm43 18zm240 2zm-17 21zm-193-2zm77 18zm65 1zm117 76zm3 2zm-32 27z"/><path stroke="#A0C7EB" stroke-width="9.2" d="M1727 364zm-28 11zm94 43zm-111 32zm6 20zm70-22zm3 7zm56 37zm-61-10zm-39 15zm-74 12zm38 22zm43-8zm52-2zm1 5zm15-11zm126 11zm57 29zm-48-19zm-29-4zm-91 7zm-44 7zm-131 29zm46 10zm38-9zm16 9zm2-25zm11 13zm4 11zm8-23zm16 12zm17 4zm22-17zm199 22zm19 12zm-10 11zm-13-8zm-234 9zm-28-16zm-12 6zm-28 33zm11 10zm294-19zm65-1zm-327 62zm138 12zm1 5zm32-8zm74 1zm15-12zm27 7zm44 27zm-26 0zm-19-10zm-7 20zm-10-9zm-2-5zm-33 2zm-6-8z"/><path stroke="#74A6DF" stroke-width="9.2" d="M1797 338zm-114 76zm147 64zm-90 16zm79 63zm-24-16zm-31 14zm-96-3zm29 11zm5 11zm40-1zm8 10zm22-15zm306 47zm-37-11zm-15-3zm-69 1zm-14 4zm-4 7zm-54-6zm-109 3zm143 10zm10 11zm6 1zm15 4zm22 57zm48 2zm31 3zm-71 15zm-12 3zm0 5z"/><path stroke="#F6AA6A" stroke-width="6" d="M1836 395zm123 33zm-337 46zm315-3zm87 18zm-11 2zm-10 5zm-368 0zm-14-15zm130 45zm147-8zm17 8zm72-9zm52 0zm1-11zm39 19zm-57 16zm-43 10zm-85-16zm-16 13zm-205-13zm159 41zm6-8zm119 1zm54-4zm37 1zm-158 45zm-2-18zm-213 25zm228 16zm-29 16zm-168 6zm8 30zm4 8zm11 4zm202-8zm-93 30zm-50 8z"/><path stroke="#E97E4F" stroke-width="6" d="M1924 400zm-290 80zm-9 11zm75 103z"/><path stroke="#A0C7EB" stroke-width="6" d="M1791 345zm105-4zm-192 32zm-14 38zm0 4zm3 1zm19-8zm3-10zm28 16zm48-13zm50 32zm-102-4zm-12 14zm-29-14zm-2 15zm-18-19zm-28 45zm43-3zm51-16zm119-3zm-68 28zm-7 21zm-46-13zm-64 29zm71 2zm21 12zm11-2zm14-16zm2 11zm8 0zm21 6zm115 23zm-3-6zm-130-7zm-22 17zm-12 0zm-16-2zm-138-8zm61 37zm3-20zm20 23zm25-16zm40 8zm11 2zm0-10zm27 13zm178 0zm11 6zm5 0zm3-8zm25 16zm-94 20zm-10 1zm-81-2zm-22 2zm-48-12zm-52-5zm-58 23zm37 17zm233-22zm13 26zm144-20zm-41 39zm-39-10zm-125 30zm140 12zm1-2zm14 8zm14 4zm-23 6z"/><path stroke="#FDE3A3" stroke-width="9.2" d="M1749 361zm14-4zm9-4zm72 10zm2-4zm7 2zm-19 24zm-38-20zm-70 25zm-2-17zm-4-2zm-20 1zm-2 22zm65-2zm1 10zm12 5zm1 10zm50-3zm13-21zm28 16zm45 7zm14 7zm-1 6zm-18-2zm-109 20zm-2-8zm-12 0zm-15-16zm-25 17zm-76-17zm110 30zm33 11zm12-13zm13 2zm7 5zm5 1zm17 1zm1 3zm74-15zm6 21zm10-20zm29 25zm22 26zm-9-3zm-6-8zm-10 10zm-18-3zm-17-14zm-19 11zm-15-9zm-53-1zm-10 6zm-37-8zm-21 1zm-112 15zm-12-19zm-1 21zm-23-5zm-3-2zm12 12zm77 12zm130 14zm6-24zm3 21zm0-2zm27-2zm8-4zm8 1zm6 7zm72 3zm18-1zm5-24zm12 12zm42 10zm7-8zm-2 29zm-12-13zm-6 21zm-12-21zm-9 1zm-42 23zm-15-11zm-82 3zm-12-11zm-18 4zm0 2zm-8-2zm-9-9zm-3 22zm-114-23zm-37 3zm-62 15zm-29-2zm8 11zm32 22zm6-10zm21-5zm25 16zm58-9zm53 11zm29-19zm26-6zm15 26zm6-20zm88 12zm65-19zm17 9zm9 1zm9-4zm-44 24zm-138 11zm-4-5zm-1 9zm-70-6zm-60 5zm-32-11zm-3 16zm-12-18zm-1 21zm-20-18zm-30 1zm45 22zm15 23zm35-17zm30 15zm29 2zm15 0zm3-7zm9-17zm17 26zm3-7zm8 4zm3-6zm5-9zm0 5zm3-7zm9-3zm120 20zm22 9zm-21 6zm-8 12zm-16 3zm-11-12zm-45 3zm-96 10zm-48-19zm-8-1zm-48 1zm-7-7zm-27 34zm60 6zm18-1zm5 1zm70 15zm63-14zm9-10zm9 2zm12 7zm60-11zm13 21zm-96 11zm-88 20zm-3-15zm-28-4zm-33 1zm58 30zm7 15z"/><path stroke="#FAC986" stroke-width="6" d="M1736 346zm77 42zm-107-7zm70 14zm4 6zm128 9zm40 4zm9-2zm-3 11zm-11 22zm-21-24zm-54 9zm-217 41zm34-17zm180 8zm39 4zm13-10zm2-6zm1 12zm10-14zm17 11zm10 3zm37 7zm46-5zm21 33zm-75 3zm-4-16zm-27 11zm-308-7zm-24 24zm34-1zm2 11zm200 8zm6-7zm3-5zm67 1zm54 10zm12-1zm36-21zm5-2zm21 2zm2 20zm4-3zm-41 30zm-20 4zm-34-18zm-26-5zm0 18zm-90-12zm-32-2zm-170-6zm-36 9zm233 41zm40 13zm-32 19zm-35-10zm-1 4zm-103-16zm-2-2zm-7 20zm-12-3zm-42 32zm2 0zm37-6zm79 2zm273 20zm-11 7zm-58-10zm-53-7zm-24 10zm-91-7zm-89 5zm0 38zm32-3zm91-10zm10 0zm44-2zm19 14zm2 4zm8-1zm64-20zm-171 29zm-90-2zm-7 9zm77 30zm8 5zm40-10z"/><path stroke="#CEE2EE" stroke-width="6" d="M1781 354zm48 8zm-14 10zm-88 6zm-12 8zm-33 20zm25-1zm59-1zm26 8zm22-7zm138 40zm-99-14zm-39-10zm-52 14zm-8 6zm-6 1zm-13-17zm-10 4zm-24-2zm13 25zm38 6zm66 16zm6-4zm41 5zm116-1zm78 20zm-39-8zm-37 0zm-28 14zm-161-23zm-6 10zm0 16zm-8-11zm-5-2zm-70 7zm-18-3zm-17 30zm21-19zm76 14zm39 10zm25-21zm3 11zm4 11zm174-4zm-56 27zm-29-10zm-74 1zm-4-12zm-75 16zm-25-5zm-56 12zm-15 23zm59 2zm56-3zm4 9zm19-17zm7 9zm81-4zm70-3zm22-8zm34 23zm49 23zm-2-2zm-37-12zm-47 3zm-1-4zm-11 7zm-42-2zm-63 7zm-24-10zm-46 4zm-18-2zm-15 3zm-65-12zm-5 26zm-43-19zm75 42zm9-22zm11 7zm28-1zm15 9zm16-11zm7 17zm39-4zm3-17zm59 14zm19-2zm13-7zm37 12zm14-11zm2 10zm16-4zm32 40zm-71-1zm-65-4zm-40 5zm-143 14zm73 17zm69-5zm39 4zm57-19zm31 14zm9-21zm1 0zm21 10zm8 1zm4-5zm-44 29zm-116 13zm-126-14zm39 34zm2-3zm8 7zm7 9z"/><path stroke="#4A81D0" stroke-width="9.2" d="M1728 466zm50 4zm16 49zm-7 22zm-7 7zm-54-4zm-3 2zm-10 31zm64 10zm175 33zm11 69zm84 19zm-64-5zm-32 34z"/><path stroke="#FCF4C4" stroke-width="9.2" d="M1721 350zm31-5zm15 2zm44 7zm11 6zm22 15zm-34 8zm-13-7zm-17-12zm-22 5zm-9 11zm-32-6zm-6 2zm-8 10zm-27 29zm4-20zm75 4zm6 13zm28-3zm15-8zm1-5zm10 22zm16-18zm2-6zm2 19zm4 1zm17-18zm112 35zm-146 16zm-6-3zm-32-4zm-3-19zm-4 2zm-22 13zm-15-7zm-4-9zm-55 10zm80 20zm60 14zm11-15zm16 12zm10-8zm3 18zm86-6zm4-10zm52 30zm-19 15zm-3-18zm-6 19zm-18-6zm-7-13zm-79 17zm-9 2zm-34-20zm-7-4zm-2 17zm-8 3zm-27-13zm-61-5zm-42 1zm-20 21zm-2-16zm28 27zm5 6zm6 4zm60-12zm2 7zm53-6zm29 9zm3-15zm159 4zm18 13zm3 2zm8-13zm0 11zm32-17zm1 1zm-18 33zm-21 0zm-10-1zm-10 11zm-6 3zm-22-3zm-5 5zm-3-4zm-6-15zm-133 3zm-78 9zm-72 6zm-9 3zm-11-24zm-18 6zm-3 15zm-5-10zm-18 7zm-2-11zm4 22zm36 10zm6-6zm4 1zm4 10zm8 5zm7-4zm1-17zm2 5zm151-5zm57 24zm64-17zm17 7zm29-5zm71-6zm-77 29zm-115 3zm-18-3zm-1 11zm-8 7zm-1-14zm-25-5zm-14 13zm-90-4zm-5-1zm-1 4zm-42-11zm-4 21zm-2-22zm-20 6zm-7 26zm18-6zm7 7zm61 0zm26 4zm11-10zm0 21zm21-2zm15 4zm6-4zm33-15zm24 3zm3-1zm6 5zm6 3zm52 11zm11-6zm77-4zm29 32zm-40-8zm-33 10zm-44-5zm-4-13zm-62-2zm0 21zm-9-19zm-2-2zm-12 21zm-79-17zm-20 9zm-58-1zm-12 11zm-3-8zm75 15zm12 5zm0-2zm61 10zm46-16zm3 8zm2-5zm38 2zm33 1zm46 1zm1 1zm16 4zm12-3zm-111 27zm-14 9zm-12 4zm-38 2zm-103-5zm-17-12z"/><path stroke="#D85436" stroke-width="6" d="M1621 485z"/><path stroke="#1F3FA3" stroke-width="6" d="M1918 754zm5-13zm-12 19zm-1 4zm-6 3z"/><path stroke="#FDE3A3" stroke-width="6" d="M1720 359zm61 3zm11-13zm23 10zm-12 24zm-42 7zm-41-3zm-15 3zm-7-18zm9 44zm4 2zm55-4zm1 2zm14-6zm48 8zm3-22zm34 1zm1 8zm45-7zm34 48zm-34-14zm-52-4zm-40 15zm-21-18zm-84 12zm68 33zm20-3zm17-13zm87 12zm129 14zm-36 13zm-9-16zm-32 8zm-111-1zm-35 18zm-33-16zm-95-7zm-37 49zm29-7zm145 1zm42-15zm0 6zm10 15zm65-21zm15 1zm2 7zm46 5zm15-13zm7 5zm13-1zm22 2zm14 37zm-21 4zm-46-13zm-15-8zm-26 14zm-53-8zm-11-4zm-15 23zm-4-12zm-5 12zm-2-1zm-35-21zm-3 4zm-5 9zm-84-9zm-80 10zm-21-2zm-7 7zm-15-13zm-1 3zm-10-12zm-1 9zm27 36zm29 5zm145 0zm17-21zm16 25zm9-23zm3 14zm25 0zm4 9zm116-26zm6 22zm20-19zm-166 33zm-130 0zm-58 1zm-8 1zm8 36zm46-12zm30 6zm29-3zm1 5zm9 2zm19-17zm2 3zm42-3zm17 16zm54 6zm13 5zm116 23zm-32-12zm-8-6zm-72 13zm-1-8zm-26 6zm-55-7zm-51-3zm0 13zm-76-17zm-1 11zm-29-4zm-7 6zm-42-14zm68 54zm7-25zm46 13zm71 5zm33-12zm10 16zm50-23zm33 55zm-51-23zm-108 5zm-11 35zm5 10zm8-26zm20 20zm15-10z"/><path stroke="#74A6DF" stroke-width="6" d="M1739 356zm72 32zm-53 63zm93 6zm-204 19zm65 55zm117-11zm-79 35zm-15-18zm-23 4zm-3 10zm-11 19zm32-6zm24-3zm19 11zm181 42zm-155-8zm-16 0zm139 24zm46 59zm82-4zm-3 22zm-8 14z"/><circle cx="2286" cy="339" r="35.5" fill="#E67549"/><circle cx="2272" cy="439" r="29.9" fill="#F29B60"/><circle cx="2244" cy="393" r="26.2" fill="#F29B60"/><circle cx="2309" cy="332" r="24.4" fill="#E26942"/><circle cx="2327" cy="415" r="22.5" fill="#F7B170"/><circle cx="2253" cy="430" r="20.7" fill="#F29B60"/><circle cx="2382" cy="389" r="18.9" fill="#F7B170"/><circle cx="2262" cy="347" r="18.9" fill="#EA8251"/><circle cx="2399" cy="452" r="18.9" fill="#2248AC"/><circle cx="2349" cy="452" r="18.9" fill="#234AAD"/><circle cx="2316" cy="358" r="17.9" fill="#F29B60"/><circle cx="2410" cy="385" r="17.9" fill="#EA8251"/><circle cx="2340" cy="396" r="17" fill="#F7B170"/><circle cx="2286" cy="415" r="17" fill="#F7B170"/><circle cx="2362" cy="354" r="16.1" fill="#F6A868"/><circle cx="2309" cy="382" r="15.2" fill="#F7B170"/><circle cx="2275" cy="461" r="15.2" fill="#EE8F59"/><circle cx="2318" cy="443" r="15.2" fill="#FAC27F"/><circle cx="2312" cy="478" r="14.2" fill="#EE8F59"/><circle cx="2294" cy="448" r="13.3" fill="#F7B170"/><circle cx="2275" cy="319" r="13.3" fill="#E67549"/><circle cx="2331" cy="456" r="13.3" fill="#2652B4"/><circle cx="2397" cy="424" r="13.3" fill="#234AAD"/><circle cx="2281" cy="390" r="12.4" fill="#F6A868"/><circle cx="2301" cy="316" r="11.8" fill="#E67549"/><circle cx="2323" cy="374" r="11.5" fill="#F7B170"/><circle cx="2298" cy="400" r="11.5" fill="#F8B977"/><circle cx="2365" cy="430" r="11.5" fill="#234AAD"/><circle cx="2410" cy="373" r="11.5" fill="#E67549"/><circle cx="2401" cy="406" r="11.5" fill="#7CAEE2"/><circle cx="2255" cy="334" r="11.5" fill="#E67549"/><circle cx="2407" cy="468" r="11.1" fill="#234AAD"/><circle cx="2279" cy="363" r="9.6" fill="#EE8F59"/><circle cx="2262" cy="404" r="9.6" fill="#F6A868"/><circle cx="2309" cy="426" r="9.6" fill="#FAC27F"/><circle cx="2382" cy="470" r="9.6" fill="#2248AC"/><circle cx="2384" cy="373" r="9.3" fill="#F7B170"/><circle cx="2357" cy="336" r="9.3" fill="#F29B60"/><circle cx="2393" cy="411" r="8.7" fill="#2652B4"/><circle cx="2379" cy="406" r="7.8" fill="#9BC4EA"/><circle cx="2325" cy="341" r="7.8" fill="#E67549"/><circle cx="2332" cy="386" r="7.8" fill="#FDDC96"/><circle cx="2244" cy="448" r="7.8" fill="#EE8F59"/><circle cx="2420" cy="400" r="7.8" fill="#FDDC96"/><circle cx="2373" cy="341" r="7.8" fill="#F6A868"/><circle cx="2358" cy="396" r="6.9" fill="#BBD8F0"/><circle cx="2307" cy="373" r="6.9" fill="#F7B170"/><circle cx="2352" cy="498" r="6.5" fill="#2248AC"/><circle cx="2367" cy="366" r="6.3" fill="#FDDC96"/><circle cx="2220" cy="400" r="5.9" fill="#F6A868"/><circle cx="2323" cy="470" r="5.9" fill="#F7B170"/><circle cx="2294" cy="382" r="5.9" fill="#F6A868"/><circle cx="2226" cy="369" r="5.6" fill="#C9402D"/><circle cx="2235" cy="368" r="4.8" fill="#E67549"/><circle cx="2430" cy="429" r="4.3" fill="#2248AC"/><circle cx="2307" cy="491" r="4.1" fill="#EE8F59"/><circle cx="2361" cy="486" r="3.7" fill="#2248AC"/><circle cx="2358" cy="492" r="3.7" fill="#2248AC"/><circle cx="2369" cy="481" r="3" fill="#2248AC"/><circle cx="2343" cy="478" r="1.7" fill="#2652B4"/><circle cx="2348" cy="304" r="1.3" fill="#FDDC96"/><circle cx="2360" cy="373" r="1.3" fill="#FDDC96"/><circle cx="2359" cy="400" r="3" fill="#fff"/><circle cx="2360" cy="408" r="3.7" fill="#fff"/><circle cx="2363" cy="418" r="3.2" fill="#fff"/><circle cx="2365" cy="424" r="2" fill="#fff"/><circle cx="2350" cy="432" r="5" fill="#fff"/><circle cx="2353" cy="443" r="4.3" fill="#fff"/><circle cx="2382" cy="432" r="4.5" fill="#fff"/><circle cx="2380" cy="443" r="3.7" fill="#fff"/><circle cx="2318" cy="460" r="4.3" fill="#fff"/><circle cx="2275" cy="407" r="2.2" fill="#fff"/><circle cx="2271" cy="410" r="1.5" fill="#fff"/><circle cx="2325" cy="468" r="2" fill="#fff"/><circle cx="2311" cy="453" r="2.3" fill="#fff"/><circle cx="2279" cy="379" r="1.5" fill="#fff"/><circle cx="2286" cy="380" r="1.3" fill="#fff"/><circle cx="2372" cy="404" r="1.7" fill="#fff"/><path stroke="#74A6DF" stroke-width="4.8" d="M2404 406zm3 10zm-75 52z"/><path stroke="#FAC986" stroke-width="4.8" d="M2320 324zm-30-15zm55 49zm8-20zm6 3zm34 26zm-17 24zm-5-20zm-27 12zm-6 1zm-5 2zm-4-14zm-7 9zm-25 0zm-9 2zm-28 4zm-6-13zm-27 40zm8-14zm12-7zm6 14zm10-4zm17-8zm1 10zm36-3zm15-8zm3 22zm11-9zm6-15zm35 7zm-69 36zm-27-13zm-3 24zm-3-13zm-14 12zm-10-21zm-12 5zm-2 16zm-2-11zm30 20zm4 14zm19-14zm4-1zm8-4zm5-1zm8 37zm-9-9z"/><path stroke="#F6AA6A" stroke-width="3.2" d="M2355 302zm16 31zm-7-2zm-2-1zm-3 1zm-2 4zm-50-24zm-6 7zm-34 14zm-14 3zm-4 6zm12 1zm12-2zm13 3zm8 17zm14-3zm1-15zm10 5zm13 2zm17-6zm2-7zm1 10zm1-5zm0-5zm3 7zm5 12zm5 0zm4-1zm3-9zm1 17zm3-3zm30 2zm16 14zm-10 7zm-1-2zm-4 9zm-2-13zm-3-11zm-3 3zm-6 5zm-2-7zm-7 14zm-4-11zm-2 17zm-3-13zm0 6zm-2 0zm-6 5zm-2-16zm-2-3zm-11 1zm-2 21zm-18-5zm-6-13zm-1 6zm0-8zm-1 19zm-1 4zm-3-25zm-5 26zm-2-2zm-5-13zm-6 2zm-7-10zm-3 19zm-15-5zm-1-3zm-1 1zm-1 10zm-3-25zm-2 2zm-2 15zm-1 9zm-4-26zm-8 9zm0 3zm0 13zm-4-20zm-5 21zm-6-18zm0-5zm-4 1zm-4 22zm-12-7zm-5 11zm2-2zm19 4zm1-5zm9 19zm1-11zm3 1zm1 14zm9-3zm0 2zm4-5zm4-12zm1-4zm3 12zm2-9zm1 22zm0-8zm7-7zm2 12zm3-14zm4 17zm1-16zm3-8zm6-2zm1 17zm15-15zm1 2zm1 13zm1 4zm3-17zm9 18zm3-19zm7 0zm1 8zm1-6zm1-1zm2 9zm3 13zm1-4zm16-18zm36-1zm2 0zm-59 30zm0-4zm-4 3zm-17-1zm-2 15zm-7-10zm-4 2zm-8 2zm-1-6zm-8 18zm-11-5zm-5-1zm-1-16zm-1 8zm-1 3zm-1 12zm-3-9zm-1-15zm-6 13zm-10-11zm-1-2zm-3 18zm-9-19zm-4 22zm-6-12zm7 19zm3 2zm1-2zm7 3zm5-1zm2 7zm9-8zm19-2zm8 8zm1-4zm9 17zm7-12zm3 34zm-3-12zm-8 13z"/><path stroke="#A5221F" stroke-width="4.8" d="M2405 381zm-4-5zm-112 71z"/><path stroke="#244DAF" stroke-width="3.2" d="M2434 426zm-5 6zm-21-5zm-1 14zm-1 0zm-9-14zm-3 9zm-3-1zm-15-8zm-2-4zm-7 16zm-2-10zm-5 5zm-2 6zm-3-17zm-19 37zm4 4zm1-6zm0-5zm0 9zm2 9zm3-16zm6 6zm1-13zm4 7zm1 9zm3-8zm2-3zm5 7zm11 12zm4-13zm2 8zm3-10zm4 12zm0 6zm4-11zm4-5zm0-11zm1 21zm3-19zm1 24zm3-12zm2 2zm1-14zm0 23zm-4 5zm-23 2zm-33 17zm-6-19zm0 23z"/><path stroke="#BF3326" stroke-width="4.8" d="M2318 332zm-11 3zm-5-18zm-18 6zm-5 3zm-4-1zm-14 6zm25 10zm134 24zm-4 22zm-7-8zm-110-14zm-71 4zm-2-2zm18 87zm32 6z"/><path stroke="#FCF4C4" stroke-width="4.8" d="M2349 304zm9 49zm-10 30zm-62 12zm9 0zm3 1zm55-1zm2 3zm7-1zm13 15zm4-9zm41 4zm-90 30zm-15 14zm2 2zm5-2zm1-3z"/><path stroke="#E97E4F" stroke-width="3.2" d="M2360 328zm-8 0zm-29-12zm-1 9zm0 6zm-2-22zm-4 21zm-2-15zm-1 5zm-2-8zm-2 8zm0 14zm-10-7zm-5-12zm-8 1zm-1-1zm-4 3zm-7 15zm-1-18zm-4 8zm-8 3zm-1-5zm0 14zm-11-7zm-14 35zm10-11zm1-1zm4 12zm2-2zm6-8zm2-8zm1 10zm2-17zm4 0zm2 25zm8-11zm5-15zm5 14zm1 6zm1-3zm1 5zm6 2zm3 0zm1-3zm4 5zm3-2zm1-23zm4 6zm3 17zm1-18zm3-1zm7 17zm1-10zm2-1zm0-7zm2-2zm15 13zm13-15zm4 22zm3-19zm3 2zm4 11zm5-12zm46 38zm0 5zm-16-4zm-8-3zm-13-6zm-11 4zm-9 1zm-13-7zm-25 9zm-1-12zm-3 4zm-16 15zm-5-19zm-3 10zm-2 1zm-8 6zm-2-17zm-9 6zm-1 14zm-3-20zm-20 23zm-1-13zm-7-1zm-2 9zm-5-16zm-4 21zm-3-15zm-1 15zm-3 2zm-7-11zm-2 6zm2 17zm1 8zm19-10zm4 16zm2-22zm12 5zm5-1zm4-1zm1 8zm7-2zm4-6zm17 16zm5-22zm8 25zm2-10zm15-4zm14 8zm3 2zm57-21zm9 3zm8-3zm-127 41zm-2-9zm-2 5zm-7-1zm-4 12zm-1 4zm-13-3zm-4-9zm-1 14zm-8-19zm-1 3zm-3 16zm-8 1zm-3-5zm1 9zm17 8zm3 5zm9-14zm4 1zm0 11zm13 3zm11-16zm16 20zm2-1zm-4 13z"/><path stroke="#4A81D0" stroke-width="4.8" d="M2384 415zm20-1zm1 1zm-62 22zm41 11z"/><path stroke="#FDE3A3" stroke-width="3.2" d="M2353 302zm3 29zm-9 25zm23 10zm-5 24zm-2-19zm-17 16zm-1-6zm-12 7zm-10-5zm-15 2zm-79 28zm24 3zm31-15zm37-1zm1-1zm13-2zm5 12zm10-17zm1 15zm3-3zm20-3zm11-1zm4-5zm11 0zm16 8zm-81 26zm-8 0zm-3 13zm-6 4zm-3-3zm-1-10zm-9 4zm-7-8zm0-1zm17 28z"/><path stroke="#244DAF" stroke-width="4.8" d="M2365 397zm21 15zm18 5zm24 12zm-14 12zm-1 6zm-10-18zm0-7zm-1 13zm-3 7zm-12-18zm-14 2zm-2-2zm-14 11zm-17 10zm-3 22zm6 8zm3-3zm14-19zm6 1zm7 15zm9-8zm3 13zm17-3zm6-21zm3 23zm6-14zm-14 20zm-27-3z"/><path stroke="#CEE2EE" stroke-width="4.8" d="M2356 394zm16 18zm30-8zm-80 47z"/><path stroke="#4A81D0" stroke-width="3.2" d="M2313 323zm87 90zm1-1zm7 13zm-48-5zm-23 20zm-7 4zm0 4zm56 7zm-43 23z"/><path stroke="#BF3326" stroke-width="3.2" d="M2284 305zm14 13zm-4-5zm-14 21zm-4-15zm-10 8zm-9 5zm40 26zm26-19zm99 39zm-73-12zm-129 1zm86 55zm-62 9zm41 17z"/><path stroke="#CEE2EE" stroke-width="3.2" d="M2333 401zm29-9zm45 6zm-65 37z"/><path stroke="#D85436" stroke-width="3.2" d="M2284 304zm9 0zm10 0zm69 30zm-39-10zm-1 9zm-6-4zm-8 5zm-1-23zm-4 14zm0-3zm-1-8zm-3 9zm0 2zm-3-5zm-8 15zm-7-22zm-15 16zm-4-6zm-3 11zm-4-17zm-1 1zm-8 3zm-7 9zm15 24zm0 5zm5-18zm6-4zm4 2zm6 8zm31 14zm31-2zm21-5zm7-9zm36 35zm-14 9zm-19-4zm-67-9zm-15-12zm-35 14zm-11-9zm-13 19zm-8-16zm-3 15zm-6 1zm15 31zm11-21zm4 5zm20-5zm43 14zm-27 29zm-35-12zm-4 3zm0 7zm-8-1zm-1-7zm-1 16zm-5-21zm9 26zm15 13zm0-17zm9 17zm2-11zm2 3zm2 8zm0 2zm57 14z"/><path stroke="#A0C7EB" stroke-width="4.8" d="M2377 415zm3-12zm5 7zm18-4zm-83 48zm10-6z"/><path stroke="#F6AA6A" stroke-width="4.8" d="M2353 330zm-3-2zm-49-13zm-6-2zm-8 7zm-11-3zm-9 9zm-21 0zm-2 4zm0 15zm4-8zm22 21zm0-3zm34 3zm13-14zm3 6zm4 4zm22 6zm1-9zm1-6zm1 17zm5-6zm15-15zm2-3zm4 6zm52 34zm-6 9zm-9-20zm-2 14zm-5-15zm-24 18zm-5 4zm-7-24zm-17 19zm-2-1zm-2 7zm-2-2zm-12-14zm-10-2zm-10-7zm-4 26zm-6-21zm-3 7zm-3 6zm-4 8zm-9-11zm-4 9zm-5-17zm-22 3zm-6-2zm-13-2zm-5 18zm-8-22zm-3 32zm2 2zm3 5zm12-8zm8 11zm8-8zm1 18zm7-13zm7-2zm6 2zm5-7zm2 15zm7-18zm1 19zm3-4zm3-7zm12-11zm0 25zm7-4zm24-19zm2 22zm8 3zm41-27zm1 0zm25 53zm-89-13zm-3 7zm-5-16zm-6 15zm-1-15zm-19 24zm-8-7zm-13 4zm-3-4zm0-16zm-1 23zm-3-24zm-3 21zm-16-16zm-2-4zm-4-3zm4 32zm25 21zm5-1zm1-7zm14 3zm4-11zm5-10zm4 8zm10 10zm11 9zm-17 19zm-4-12z"/><path stroke="#FAC986" stroke-width="3.2" d="M2354 303zm-1 26zm-40-19zm-31 19zm-37 7zm4 23zm5-6zm21-10zm43 10zm30 3zm13-3zm56 38zm-26-17zm-4 14zm-3-2zm-14-11zm-6 13zm-2-20zm-2 2zm-8-2zm-3 19zm-10 4zm0-3zm0-6zm-8-17zm-7 14zm-9-6zm-2 4zm-1 5zm0-12zm-16 20zm-29 0zm-1 1zm-11-10zm-1-11zm-5 14zm-1-13zm-4 13zm0-14zm-3 31zm19-9zm1 5zm15 7zm9 2zm1 13zm0-7zm11-18zm6-2zm23 21zm1 2zm1 4zm3-18zm3 12zm15-3zm3-9zm2 7zm33-16zm31 13zm4-4zm1 5zm-107 24zm-13-1zm-2 7zm-4 6zm0-16zm-15 18zm-21-15zm-1 1zm-1-3zm-8 7zm-11 15zm16 9zm1-2zm22 19zm1-1zm19-12zm1-11zm13 0zm1 5zm1-2zm3 25zm-1-3z"/><path stroke="#74A6DF" stroke-width="3.2" d="M2393 408zm5-9zm2 6zm7 0zm1 7zm-75 29zm0 7z"/><path stroke="#A5221F" stroke-width="3.2" d="M2301 352zm16-13zm2 10zm36 7zm-57 19z"/><path stroke="#3263BF" stroke-width="4.8" d="M2408 419zm1-1zm24 12zm-26-7zm-9 5zm-8-5zm-19 3zm-1 3zm-38 20zm5 19zm0-19zm4 2zm1 12zm1 5zm63-2zm-61 31z"/><path stroke="#E97E4F" stroke-width="4.8" d="M2315 307zm0 16zm-5 9zm-2 3zm-5-26zm-6 14zm-4-14zm-4 13zm-3 12zm-1-15zm-2 10zm-3-20zm-1 4zm-1 9zm-14-10zm-2 22zm-3-12zm-13 18zm3 1zm2 8zm8 4zm8-14zm4 18zm2 3zm3-4zm4-19zm10 2zm2 22zm5-16zm2-4zm3-3zm3 12zm1-5zm1 7zm11 5zm5-1zm1-10zm2-8zm0 9zm27 13zm0-14zm9 1zm8-7zm5 6zm4 7zm47 34zm-3-2zm-1-17zm-2 20zm-18-23zm-4 18zm-1-2zm-3 5zm-16-2zm-30-20zm-9 25zm-11-1zm-6-4zm-13-10zm-6-8zm-11 21zm-9-13zm-2-9zm-1 9zm-1 11zm-6-16zm-11 8zm-15 12zm-8 0zm-1-7zm-5 5zm-4-12zm-3 13zm-2-6zm-3 8zm-2-20zm4 27zm7 9zm3-1zm11-10zm8 11zm10 11zm6-24zm4 24zm10-19zm1 13zm35-17zm4 18zm8-12zm7-6zm0 23zm8-4zm2-19zm-28 28zm-41 19zm-8-18zm-1 14zm-2 1zm-11-1zm-4 5zm-16 3zm-1-14zm40 44zm6-7zm4 4zm1-4zm35 7zm-15 4zm-4-3z"/><path stroke="#3263BF" stroke-width="3.2" d="M2371 419zm27-13zm2 32zm-3 0zm-1-11zm-29 20zm-5-18zm-4-2zm-2 6zm-1-10zm-8 16zm-3 2zm-13 15zm4 6zm5-4zm18 12zm7-16zm14 1zm6-4zm30 21zm1-23zm-32 27zm-25 21zm-6-5z"/><path stroke="#D85436" stroke-width="4.8" d="M2270 306zm82 26zm-44-5zm-5 2zm-1 6zm0 0zm-31-2zm-6-12zm-15 12zm-5 17zm4-5zm0 0zm4-6zm0-1zm12 8zm7 12zm9-12zm5 6zm4 9zm4-25zm15 11zm0 8zm1-13zm4 4zm20-7zm27 16zm12-4zm36 35zm-4-6zm-3-14zm-107 25zm-52-12zm-9-12zm-1 24zm-4 2zm5 21zm4-21zm27 11zm44-2zm5 3zm27 2zm-4 21zm-99-4zm-1 17zm9 13zm17 17zm20 0zm14 7z"/><path stroke="#1F3FA3" stroke-width="4.8" d="M2399 418zm9 20zm-8 9zm-6-4zm-1-9zm-27 10zm-2-16zm-33 19zm6 10zm11 10zm12-16zm7-2zm23-1zm3 3zm7 1zm13 19zm0-2zm4-20zm-37 30z"/><path stroke="#FCF4C4" stroke-width="3.2" d="M2358 358zm2 34zm64 11zm-81 24zm-3 5zm-6 5zm-5 6zm-23-9zm25 35z"/><path stroke="#A0C7EB" stroke-width="3.2" d="M2372 409zm22-7zm13 17zm-68 17zm-3 1z"/><path stroke="#1F3FA3" stroke-width="3.2" d="M2409 419zm22 12zm-20 12zm-7-11zm-3 12zm0-10zm-2-6zm0-2zm-1 13zm-2-9zm-6 12zm-17-15zm-3-2zm-8 17zm-3-8zm-1 13zm-22 12zm10 2zm1-11zm9 8zm2-6zm7 8zm14 10zm9-11zm4-10zm10 1zm6 7zm5 18zm-42 10zm-11 6zm-4-6zm-3 10zm-6 6z"/><path stroke="#FDE3A3" stroke-width="4.8" d="M2247 346zm140 44zm-12-17zm-2-7zm-154 29zm29 1zm9 6zm35 6zm18 10zm33 0zm7-20zm9 6zm5-6zm4 4zm6-4zm-26 23zm-22 22zm-3 2zm-6-2z"/><circle cx="2627" cy="339" r="35.5" fill="#2145A8"/><circle cx="2612" cy="439" r="29.9" fill="#2145A8"/><circle cx="2584" cy="393" r="26.2" fill="#2145A8"/><circle cx="2649" cy="332" r="24.4" fill="#2145A8"/><circle cx="2667" cy="415" r="22.5" fill="#2145A8"/><circle cx="2593" cy="430" r="20.7" fill="#2145A8"/><circle cx="2723" cy="389" r="18.9" fill="#FCF4C4"/><circle cx="2603" cy="347" r="18.9" fill="#2145A8"/><circle cx="2739" cy="452" r="18.9" fill="#F29B60"/><circle cx="2689" cy="452" r="18.9" fill="#2145A8"/><circle cx="2656" cy="358" r="17.9" fill="#2145A8"/><circle cx="2750" cy="385" r="17.9" fill="#FDE19F"/><circle cx="2680" cy="396" r="17" fill="#2145A8"/><circle cx="2627" cy="415" r="17" fill="#2145A8"/><circle cx="2702" cy="354" r="16.1" fill="#2248AC"/><circle cx="2649" cy="382" r="15.2" fill="#2145A8"/><circle cx="2616" cy="461" r="15.2" fill="#2145A8"/><circle cx="2658" cy="443" r="15.2" fill="#2145A8"/><circle cx="2652" cy="478" r="14.2" fill="#2145A8"/><circle cx="2634" cy="448" r="13.3" fill="#2145A8"/><circle cx="2616" cy="319" r="13.3" fill="#2145A8"/><circle cx="2671" cy="456" r="13.3" fill="#2145A8"/><circle cx="2737" cy="424" r="13.3" fill="#FDDC96"/><circle cx="2621" cy="390" r="12.4" fill="#2145A8"/><circle cx="2641" cy="316" r="11.8" fill="#2145A8"/><circle cx="2664" cy="374" r="11.5" fill="#2145A8"/><circle cx="2638" cy="400" r="11.5" fill="#2145A8"/><circle cx="2705" cy="430" r="11.5" fill="#2145A8"/><circle cx="2750" cy="373" r="11.5" fill="#FDE6A8"/><circle cx="2741" cy="406" r="11.5" fill="#FCF4C4"/><circle cx="2595" cy="334" r="11.5" fill="#2145A8"/><circle cx="2748" cy="468" r="11.1" fill="#D75336"/><circle cx="2619" cy="363" r="9.6" fill="#2145A8"/><circle cx="2603" cy="404" r="9.6" fill="#2145A8"/><circle cx="2649" cy="426" r="9.6" fill="#2145A8"/><circle cx="2723" cy="470" r="9.6" fill="#FDDC96"/><circle cx="2724" cy="373" r="9.3" fill="#BBD8F0"/><circle cx="2697" cy="336" r="9.3" fill="#2248AC"/><circle cx="2734" cy="411" r="8.7" fill="#FCE8AD"/><circle cx="2719" cy="406" r="7.8" fill="#BBD8F0"/><circle cx="2665" cy="341" r="7.8" fill="#2145A8"/><circle cx="2672" cy="386" r="7.8" fill="#2145A8"/><circle cx="2584" cy="448" r="7.8" fill="#2145A8"/><circle cx="2760" cy="400" r="7.8" fill="#FDDC96"/><circle cx="2713" cy="341" r="7.8" fill="#254EB1"/><circle cx="2699" cy="396" r="6.9" fill="#2145A8"/><circle cx="2647" cy="373" r="6.9" fill="#2145A8"/><circle cx="2692" cy="498" r="6.5" fill="#2652B4"/><circle cx="2707" cy="366" r="6.3" fill="#2248AC"/><circle cx="2560" cy="400" r="5.9" fill="#2145A8"/><circle cx="2664" cy="470" r="5.9" fill="#2145A8"/><circle cx="2634" cy="382" r="5.9" fill="#2145A8"/><circle cx="2566" cy="369" r="5.6" fill="#427ACD"/><circle cx="2575" cy="368" r="4.8" fill="#2145A8"/><circle cx="2771" cy="429" r="4.3" fill="#E26942"/><circle cx="2647" cy="491" r="4.1" fill="#2145A8"/><circle cx="2701" cy="486" r="3.7" fill="#2652B4"/><circle cx="2698" cy="492" r="3.7" fill="#2652B4"/><circle cx="2710" cy="481" r="3" fill="#7CAEE2"/><circle cx="2683" cy="478" r="1.7" fill="#2652B4"/><circle cx="2688" cy="304" r="1.3" fill="#2248AC"/><circle cx="2700" cy="373" r="1.3" fill="#2248AC"/><circle cx="2699" cy="400" r="3" fill="#fff"/><circle cx="2700" cy="408" r="3.7" fill="#fff"/><circle cx="2703" cy="418" r="3.2" fill="#fff"/><circle cx="2705" cy="424" r="2" fill="#fff"/><circle cx="2690" cy="432" r="5" fill="#fff"/><circle cx="2693" cy="443" r="4.3" fill="#fff"/><circle cx="2723" cy="432" r="4.5" fill="#fff"/><circle cx="2720" cy="443" r="3.7" fill="#fff"/><circle cx="2658" cy="460" r="4.3" fill="#fff"/><circle cx="2616" cy="407" r="2.2" fill="#fff"/><circle cx="2611" cy="410" r="1.5" fill="#fff"/><circle cx="2665" cy="468" r="2" fill="#fff"/><circle cx="2652" cy="453" r="2.3" fill="#fff"/><circle cx="2619" cy="379" r="1.5" fill="#fff"/><circle cx="2627" cy="380" r="1.3" fill="#fff"/><circle cx="2712" cy="404" r="1.7" fill="#fff"/><path stroke="#F6AA6A" stroke-width="3.2" d="M2727 377zm27 69zm-3-7zm-4-4zm-9 10zm-3-4zm-3 3zm-9 2zm-8 18zm4-12zm1 1zm2 4zm24-1zm3 19zm1-21z"/><path stroke="#D85436" stroke-width="3.2" d="M2772 426zm-30 18zm-2 26zm2 1zm4-3zm3-5zm0-1zm2-1zm3 7zm3-2zm0 0z"/><path stroke="#3263BF" stroke-width="3.2" d="M2645 334zm-50-8zm-5 17zm10 16zm55-18zm17-1zm2 15zm23 1zm19-12zm1 6zm0 14zm-7 8zm-37-1zm-18 15zm-88-20zm-2 9zm-5-8zm-6 30zm98-3zm25 1zm-2 51zm-74-25zm29 39zm34 3zm45-7zm-10 28zm-1 0zm-2 0zm0 11zm-1 2zm-1 4zm-3-5z"/><path stroke="#244DAF" stroke-width="3.2" d="M2711 335zm-1-2zm-17-5zm0 1zm-26 2zm-10-17zm-7 3zm0-3zm0 17zm-5-4zm0-7zm-1-11zm-4 23zm-1-18zm0 19zm-1-3zm-2-6zm-7-12zm-6 10zm-4-5zm-7-7zm0 25zm-2-1zm-1-5zm-4-8zm-4 3zm-7-3zm-12 14zm7 9zm0 15zm2-9zm4 12zm0 0zm2-11zm1-10zm9-3zm0 4zm1 7zm12 8zm19-10zm4-3zm3 1zm1-3zm3-3zm0 22zm4-10zm0-1zm4 13zm8-5zm5-17zm2 5zm1-6zm15 9zm12-2zm3 11zm5-15zm5 3zm2-2zm2-4zm2 3zm1-6zm-13 28zm-1 2zm-24 19zm-8-16zm-6 14zm-1 5zm-1-17zm-1-4zm0 19zm-1 4zm-2-10zm-3 3zm-1-7zm-9 11zm-3-15zm-1 10zm-4-2zm-4 6zm-2-19zm-13-3zm-2 7zm-3 13zm-3-6zm-1-13zm-1-2zm-1 7zm-2 14zm-6-9zm-6 11zm-1-22zm-4 19zm-1 2zm-2-16zm-3 7zm-3 13zm-8-3zm-10 3zm-4-1zm0 6zm3-1zm10 16zm1-1zm1 1zm1-10zm0 5zm4-8zm1 17zm3-19zm2 24zm4-15zm3-10zm5 23zm1-2zm1-11zm2 4zm6 6zm8 3zm2-18zm5-4zm0 14zm8-2zm4-13zm3 17zm5-4zm1 11zm0-24zm2 25zm0-7zm1-12zm14-4zm2 6zm3 15zm4 2zm3-3zm1 2zm12-9zm0-2zm2 1zm3-6zm0 2zm0-10zm1 11zm23 29zm-5-7zm-2-1zm-21 21zm-5-19zm-2-4zm-2-4zm-2 6zm-2 12zm-1 8zm-17-25zm-1 26zm-3-4zm-3-4zm0 5zm-9-19zm0 5zm-12 14zm-10-17zm-3 19zm-6 1zm-1-13zm-4 4zm-3-15zm-6 15zm-5 7zm-9-13zm0-4zm-1-3zm-2 10zm-1 5zm0 5zm10 13zm6 3zm3-9zm1 13zm6-10zm2 8zm2-13zm10 22zm15-22zm0 5zm16-6zm5 5zm3 15zm0-17zm1 18zm1 1zm7-9zm5 4zm0 3zm2-10zm4 7zm6 4zm0-4zm5 5zm0-18zm1 9zm5-13zm9 1zm-4 31zm0 15zm-1 4zm-6 2zm-3-8zm0-1zm-4 9zm-1-22zm-19 2zm-3 4zm-2-9zm-15 18zm0-16zm-2 2zm47 23z"/><path stroke="#D85436" stroke-width="4.8" d="M2773 432zm-30 43zm1-9zm6 2zm6 2zm3-4z"/><path stroke="#244DAF" stroke-width="4.8" d="M2701 331zm-2 4zm-2-7zm-1 2zm-1 1zm-1 2zm-24-8zm-6 1zm-20 6zm-2-2zm-10 5zm-10-11zm-1-14zm-2 0zm-2 10zm-5 9zm-4-1zm-22 4zm6 8zm8 18zm1-13zm4-5zm0 10zm6 6zm18-5zm34-14zm1 5zm0 20zm1-25zm0 12zm2 2zm3 11zm1-6zm0-11zm3 7zm20 11zm14-10zm9 2zm-4 9zm-14 2zm-10 25zm-4-7zm-12-3zm-5 0zm-9-2zm-5-13zm-2 23zm-1-21zm-7 15zm-7-1zm-2 5zm-12-21zm-2 18zm-2 3zm-12 4zm-13-26zm-7 23zm-4-21zm-1 15zm-16 2zm-3-4zm-8 15zm11 6zm7 15zm2-7zm7 5zm1-4zm4-14zm4 13zm0 10zm1-19zm2-4zm4 9zm1 1zm6 7zm14-8zm6 12zm8-5zm2-20zm2 9zm1 13zm3-19zm2 16zm5 5zm2-16zm4 9zm0 6zm4-21zm13 5zm4 0zm7 8zm8 9zm26 13zm-7-8zm-7 24zm-2-7zm-1 0zm-15 7zm-12 2zm0-25zm-2 0zm-9 8zm-4 13zm-3 2zm-3-17zm-10 7zm-1 0zm-14-13zm-1 24zm-7-1zm0-24zm-12 26zm-6-13zm-3-4zm-15 10zm-2 8zm8 7zm6 6zm2-10zm3 6zm1-8zm2 6zm5 11zm7-4zm0-10zm5 9zm3 9zm3-7zm4-14zm15-1zm23 1zm8 18zm8-8zm3 2zm2-12zm6 5zm10 8zm0 24zm-10 8zm-42-12zm-1-1z"/><path stroke="#FCF4C4" stroke-width="4.8" d="M2763 377zm-6-9zm-2 13zm-23 8zm-4 2zm-3-5zm-19 1zm0-1zm-1-14zm7 23zm7 2zm0 17zm3-21zm4 10zm3 0zm2-8zm3 5zm1 3zm1-2zm3 3zm2-8zm8 14z"/><path stroke="#3263BF" stroke-width="4.8" d="M2704 355zm-36 10zm-100 23zm-4-16zm-2-6zm-2-1zm109 75zm-56-12zm-5 37zm89 29zm-1-2zm-2 8zm-2-6zm-46-9z"/><path stroke="#F6AA6A" stroke-width="4.8" d="M2757 446zm-19-6zm-4 0zm-6-3zm-2 9zm2 9z"/><path stroke="#1F3FA3" stroke-width="4.8" d="M2694 329zm-25-8zm-3 7zm-8 3zm-2-13zm-2 3zm-1-11zm0 17zm-5-5zm-1 3zm-2-8zm-1 6zm-1-15zm-22 7zm-3 8zm-6-2zm0 8zm-7-2zm-22 18zm12 18zm2-4zm3-1zm0-4zm5-11zm4-6zm11 11zm7 14zm1-19zm8-5zm1 9zm3 16zm7-1zm6-20zm2 21zm9-25zm5 24zm3-15zm1 16zm1-2zm16-13zm5 8zm2 3zm0-13zm4 13zm10-8zm-4 13zm-5 9zm-20 9zm-5-1zm-1-3zm-8 11zm-8-9zm-8 11zm-10-2zm-3-22zm-8 13zm-1-1zm0 9zm0-16zm-5-8zm-2 12zm-3-2zm0-6zm-5 16zm-21-3zm-2-3zm-5 3zm-4 6zm-1-12zm-2-2zm0 14zm-1-15zm0 13zm0-10zm-6 3zm-10 23zm1 8zm9-11zm3 13zm20-2zm5-15zm1 11zm0 13zm1-3zm14-17zm2 11zm6-12zm1 17zm1-1zm6 1zm2-22zm2 2zm1 14zm2-12zm3-2zm1 19zm5-10zm6 2zm1 13zm0-9zm6 4zm12 5zm10-16zm4 3zm0-11zm4 13zm1-5zm1-5zm21 26zm-2 7zm-11 13zm-1-17zm-2-3zm-2-1zm-12 18zm0 0zm-8 4zm-5-8zm-1 6zm-1 3zm-3-23zm-7 25zm-1-18zm-2 6zm-15 8zm-1-21zm-4 19zm-1 0zm-10 0zm-7-15zm-10 0zm-2 0zm-8 4zm-7 2zm-2 4zm-2-2zm-8 6zm-3-8zm-1-10zm-2 5zm-1 9zm18 14zm3-2zm1 12zm5-7zm5 3zm14 1zm1 12zm1-18zm0 0zm6 9zm1-12zm1 3zm1-1zm1 10zm8 14zm5-5zm15 3zm6-12zm7-2zm1 11zm1-17zm6 8zm2-10zm23 4zm-48 23zm-9 4zm-2 8zm-31-13z"/><path stroke="#E97E4F" stroke-width="4.8" d="M2745 446zm-5 1zm-7 0zm-4 0zm-2 10zm6-3zm15 10zm1-13zm6 6z"/><path stroke="#74A6DF" stroke-width="3.2" d="M2718 366zm-7 119zm-2 0z"/><path stroke="#FCF4C4" stroke-width="3.2" d="M2763 372zm-13 6zm-10-8zm-16 2zm0 15zm-5 2zm-2-2zm7 22zm3-14zm5 9zm2 8zm18-3zm-9 14zm-4-2zm-24 42z"/><path stroke="#CEE2EE" stroke-width="4.8" d="M2725 388zm-4-10zm-13 21zm4-1z"/><path stroke="#4A81D0" stroke-width="4.8" d="M2711 371zm-65 19zm-84-25z"/><path stroke="#FAC986" stroke-width="3.2" d="M2757 383zm-1-16zm-11 19zm-4-10zm-6 42zm1-14zm14-10zm5 5zm-4 25zm-10 12zm0-6zm-5 10zm-6-8zm0 11zm-3-6zm-13 32zm3-7zm2 0zm9-6zm1 10zm2-8zm-6 21zm-2 0z"/><path stroke="#74A6DF" stroke-width="4.8" d="M2565 371zm77 28zm68 86z"/><path stroke="#FDE3A3" stroke-width="3.2" d="M2767 384zm-2 3zm-1-12zm-1-5zm-1 6zm-3 9zm-1 1zm-2-2zm0 0zm0 7zm-3-24zm-1 5zm-7-7zm0 14zm-3 2zm0-9zm0 10zm-1-3zm-2-2zm-3 5zm0 9zm-4-5zm-8-7zm3 37zm5-4zm1 1zm4 1zm1-14zm2 18zm1-3zm0-3zm4 1zm3-15zm3 2zm17-1zm-35 36zm-8-11zm-6 54z"/><path stroke="#4A81D0" stroke-width="3.2" d="M2568 368zm-1-3zm-1 8zm137 27zm1-8zm29 69z"/><path stroke="#1F3FA3" stroke-width="3.2" d="M2625 307zm11-3zm53 0zm18 31zm-11-4zm-7 1zm-33-5zm-1-2zm-8-9zm0 5zm-2-13zm0 26zm-1-7zm0 2zm-2-9zm-1 9zm0-21zm0 7zm-4 5zm-6-5zm-4 11zm-2 8zm-1-15zm-3 11zm-3 1zm-11-9zm-3-3zm-1-7zm0 9zm-2 4zm-6 5zm-3-6zm-5 6zm4 21zm1-15zm2 20zm0-20zm2 22zm1-22zm8 3zm3 18zm1-7zm0-11zm2 21zm0-4zm1-14zm2-3zm1 0zm0 10zm1-10zm3 10zm0 2zm1-13zm1 5zm0-4zm6 24zm3-10zm2 0zm2 3zm3-19zm2 10zm0 11zm4-18zm0 13zm0 6zm4-20zm4 14zm0 8zm5 0zm3-13zm1-9zm0 24zm3-27zm0 11zm3-8zm7 23zm22-1zm14 0zm3-1zm2-8zm7-15zm-27 31zm-18 13zm0 3zm-4-12zm-7-5zm0 6zm-3 5zm-8-4zm-2-7zm-3 21zm-2-19zm-2 16zm-2-1zm0-10zm-5 8zm-1-17zm-5 16zm-3-14zm0 11zm-1 11zm-4-23zm0 9zm-3 9zm-3 7zm-13-16zm-12-11zm-7 8zm-2 15zm-6-6zm0-2zm-1 1zm-2 10zm-1-17zm-11 15zm-3-8zm-5 19zm4-4zm9 11zm5-5zm0 16zm0-5zm8 5zm3 2zm0-10zm2-3zm0-14zm3 17zm1-14zm2 6zm1 18zm2-22zm2-4zm3 13zm1-7zm2 9zm0 1zm2 9zm2-19zm3-7zm1 8zm1 9zm1 7zm2-14zm8 15zm0-3zm3-17zm2 14zm1 8zm1-10zm0 1zm2 2zm6-3zm1-15zm0-1zm2 13zm3-8zm4 15zm1 0zm0-12zm2-3zm0-1zm1-1zm2 4zm3 17zm0-5zm1 4zm1 1zm0-19zm2 12zm4-18zm4 3zm2 0zm3 17zm2-6zm3-4zm4 9zm2-3zm0-2zm1-3zm1-7zm0 7zm0 4zm4 8zm4-19zm18 40zm-2-9zm-4-1zm-1 15zm0-2zm-1 5zm0-10zm-3 3zm0-4zm-1 11zm-1 0zm-1-2zm-9-4zm-1-14zm-11 2zm-4 19zm-3-9zm-1-12zm-2 20zm-7-13zm-9 6zm-6-13zm-2-4zm-1 23zm-3-16zm-12 5zm-4 14zm-2-23zm-1 12zm-1-5zm-1-8zm-4 11zm-10 5zm-3-5zm-2-9zm-8-2zm-8 6zm-1-7zm-2 24zm-1-22zm-1 15zm-3 1zm-3-14zm2 24zm5 3zm0 4zm3-4zm0-4zm5 0zm7 0zm2 4zm7-3zm5 15zm4-10zm0-4zm2 5zm4 6zm6 0zm0 5zm1 7zm0-4zm3-7zm2 4zm2-18zm4 14zm0-9zm1 18zm1-15zm5 11zm1 2zm0-17zm1-3zm4 14zm6-9zm1 14zm1-13zm2 14zm2-3zm2-18zm6 16zm1-1zm1 6zm2-8zm8-8zm2-4zm5 14zm0-7zm4 8zm0-3zm2-3zm7 9zm1-17zm0 5zm0 33zm-40-2zm-1-8zm-1 8zm-2-7zm0 13zm-1-8zm-2-5zm0 14zm-1-7zm0-9zm-1 10zm-2-7zm-5 11zm-3-13zm-1 14zm-2-12zm-1 3zm-1-4zm-19-3z"/><path stroke="#A0C7EB" stroke-width="3.2" d="M2724 363zm1 3zm-13 11zm0-3zm-4 26zm12 6zm-145 27zm133 49z"/><path stroke="#A5221F" stroke-width="3.2" d="M2747 478z"/><path stroke="#E97E4F" stroke-width="3.2" d="M2709 376zm60 52zm-17 12zm-3 1zm-1 5zm-15-6zm-3 9zm7 13zm3 3zm1-10zm5 5zm5-2zm7 14z"/><path stroke="#A0C7EB" stroke-width="4.8" d="M2717 372zm-10 30zm1-9z"/><path stroke="#FAC986" stroke-width="4.8" d="M2762 390zm-6-13zm-2 11zm-8-9zm5 18zm2 7zm7 4zm3-7zm5-3zm-17 33zm-11 0zm-10 40z"/><path stroke="#FDE3A3" stroke-width="4.8" d="M2760 369zm-1-5zm-2 5zm0-5zm-13 11zm-7 14zm0 0zm-6 16zm0 2zm9 0zm17-1zm5 3zm-21 13zm-11 4zm-15 37zm11 10z"/><path stroke="#CEE2EE" stroke-width="3.2" d="M2731 375zm-11-6zm0 0zm-2 18zm-11-1zm1 14zm1-5zm2 4zm6 2zm9 4zm7 8z"/><circle cx="2286" cy="661" r="35.5" fill="#D04931"/><circle cx="2272" cy="761" r="29.9" fill="#FDE19F"/><circle cx="2244" cy="715" r="26.2" fill="#BE3226"/><circle cx="2309" cy="654" r="24.4" fill="#C9402D"/><circle cx="2327" cy="737" r="22.5" fill="#FDDC96"/><circle cx="2253" cy="752" r="20.7" fill="#FDDC96"/><circle cx="2382" cy="711" r="18.9" fill="#DE5C3A"/><circle cx="2262" cy="669" r="18.9" fill="#F29B60"/><circle cx="2399" cy="774" r="18.9" fill="#D04931"/><circle cx="2349" cy="774" r="18.9" fill="#2652B4"/><circle cx="2316" cy="680" r="17.9" fill="#D75336"/><circle cx="2410" cy="708" r="17.9" fill="#C23728"/><circle cx="2340" cy="719" r="17" fill="#D04931"/><circle cx="2286" cy="737" r="17" fill="#FDDC96"/><circle cx="2362" cy="676" r="16.1" fill="#C9402D"/><circle cx="2309" cy="704" r="15.2" fill="#FCD38E"/><circle cx="2275" cy="783" r="15.2" fill="#FCF4C4"/><circle cx="2318" cy="765" r="15.2" fill="#2C5AB9"/><circle cx="2312" cy="800" r="14.2" fill="#2652B4"/><circle cx="2294" cy="770" r="13.3" fill="#7CAEE2"/><circle cx="2275" cy="641" r="13.3" fill="#D75336"/><circle cx="2331" cy="778" r="13.3" fill="#2652B4"/><circle cx="2397" cy="746" r="13.3" fill="#D04931"/><circle cx="2281" cy="712" r="12.4" fill="#F7B170"/><circle cx="2301" cy="638" r="11.8" fill="#D75336"/><circle cx="2323" cy="697" r="11.5" fill="#DA5738"/><circle cx="2298" cy="722" r="11.5" fill="#FCE8AD"/><circle cx="2365" cy="752" r="11.5" fill="#FDDC96"/><circle cx="2410" cy="695" r="11.5" fill="#C9402D"/><circle cx="2401" cy="728" r="11.5" fill="#427ACD"/><circle cx="2255" cy="656" r="11.5" fill="#E67549"/><circle cx="2407" cy="790" r="11.1" fill="#EA8251"/><circle cx="2279" cy="685" r="9.6" fill="#E67549"/><circle cx="2262" cy="726" r="9.6" fill="#DA5738"/><circle cx="2309" cy="748" r="9.6" fill="#BBD8F0"/><circle cx="2382" cy="792" r="9.6" fill="#FCF4C4"/><circle cx="2384" cy="695" r="9.3" fill="#D75336"/><circle cx="2357" cy="658" r="9.3" fill="#C23728"/><circle cx="2393" cy="733" r="8.7" fill="#F7B170"/><circle cx="2379" cy="728" r="7.8" fill="#3466C0"/><circle cx="2325" cy="663" r="7.8" fill="#D04931"/><circle cx="2332" cy="709" r="7.8" fill="#D75336"/><circle cx="2244" cy="770" r="7.8" fill="#FDDC96"/><circle cx="2420" cy="722" r="7.8" fill="#C9402D"/><circle cx="2373" cy="663" r="7.8" fill="#C23728"/><circle cx="2358" cy="719" r="6.9" fill="#F7B170"/><circle cx="2307" cy="695" r="6.9" fill="#E67549"/><circle cx="2352" cy="820" r="6.5" fill="#3466C0"/><circle cx="2367" cy="688" r="6.3" fill="#D75336"/><circle cx="2220" cy="722" r="5.9" fill="#C9402D"/><circle cx="2323" cy="792" r="5.9" fill="#3466C0"/><circle cx="2294" cy="704" r="5.9" fill="#F0955C"/><circle cx="2226" cy="691" r="5.6" fill="#BE3226"/><circle cx="2235" cy="690" r="4.8" fill="#BE3226"/><circle cx="2430" cy="751" r="4.3" fill="#DA5738"/><circle cx="2307" cy="813" r="4.1" fill="#2C5AB9"/><circle cx="2361" cy="808" r="3.7" fill="#427ACD"/><circle cx="2358" cy="814" r="3.7" fill="#427ACD"/><circle cx="2369" cy="804" r="3" fill="#FDDC96"/><circle cx="2343" cy="800" r="1.7" fill="#E67549"/><circle cx="2348" cy="626" r="1.3" fill="#FDDC96"/><circle cx="2360" cy="695" r="1.3" fill="#E67549"/><circle cx="2359" cy="722" r="3" fill="#fff"/><circle cx="2360" cy="731" r="3.7" fill="#fff"/><circle cx="2363" cy="740" r="3.2" fill="#fff"/><circle cx="2365" cy="746" r="2" fill="#fff"/><circle cx="2350" cy="754" r="5" fill="#fff"/><circle cx="2353" cy="765" r="4.3" fill="#fff"/><circle cx="2382" cy="754" r="4.5" fill="#fff"/><circle cx="2380" cy="765" r="3.7" fill="#fff"/><circle cx="2318" cy="782" r="4.3" fill="#fff"/><circle cx="2275" cy="729" r="2.2" fill="#fff"/><circle cx="2271" cy="733" r="1.5" fill="#fff"/><circle cx="2325" cy="791" r="2" fill="#fff"/><circle cx="2311" cy="775" r="2.3" fill="#fff"/><circle cx="2279" cy="701" r="1.5" fill="#fff"/><circle cx="2286" cy="702" r="1.3" fill="#fff"/><circle cx="2372" cy="726" r="1.7" fill="#fff"/><path stroke="#F6AA6A" stroke-width="4.8" d="M2291 630zm-7 26zm-6 1zm-33 42zm2-26zm0 3zm21 10zm17 5zm21 2zm12-15zm0 18zm7-9zm3 4zm43 8zm52 23zm-10-5zm-2 7zm-5-17zm-22 13zm-12-6zm-4 7zm-4-4zm-9-1zm-8 10zm-45-15zm-4 0zm-6-2zm-6-3zm-1 2zm-8 11zm3 26zm117-4zm10 12zm-14 23zm-117-6zm69 29zm55-9z"/><path stroke="#FAC986" stroke-width="3.2" d="M2319 642zm31-14zm28 34zm-111-1zm-21 16zm24 8zm20 9zm74 0zm29 1zm6 23zm-2-2zm0-1zm-4 8zm-9 3zm-63-4zm-15-6zm-3 7zm-5-1zm-2-12zm0 17zm-1-21zm-8 18zm-5 0zm-9-21zm-2 3zm-34 47zm14-15zm11 8zm12 4zm0 3zm5-13zm7 11zm7-14zm0 10zm1-15zm1 17zm2-18zm3-2zm4 15zm26 6zm0-8zm17-3zm22 8zm24 16zm-19-7zm-89 25zm-20-18zm-6 5zm-2-12zm-2 14zm-1 2zm-2-6zm-5 13zm-1-13zm-2 4zm125 34zm43-15z"/><path stroke="#BF3326" stroke-width="4.8" d="M2264 635zm7-6zm25 8zm21 0zm1 6zm8-2zm53 28zm-12-3zm-1-12zm-1 4zm-11 3zm-29-2zm-1-9zm-2 1zm-5 4zm-1 10zm-10-5zm-6-6zm-9-9zm-4 5zm-65 39zm32 9zm18-26zm24 4zm1 5zm56 3zm7 0zm9-9zm4 4zm41 18zm4-2zm9 29zm-29-16zm-3 9zm-1-12zm-49 8zm-17-2zm-75-9zm-4 11zm-2 3zm-7 11zm-3-23zm-2 4zm-4 16zm-11-2zm-3-12zm9 18zm3 0zm21 2zm11 4zm75 8zm49 7zm2-6zm2 7zm4-10zm15 7zm6 36zm-6-24zm-4 13zm-16 3zm19 13zm10 6z"/><path stroke="#3263BF" stroke-width="4.8" d="M2355 783zm0-2zm-13-3zm-6-12zm-3 8zm-9-1zm-1-4zm-5 0zm-15 32zm10-15zm5 6zm7 11zm9-19zm20 5zm6 19z"/><path stroke="#1F3FA3" stroke-width="4.8" d="M2304 747zm62 28zm-6 1zm-12-6zm-3 13zm0-17zm-39 32zm7-5zm6 8zm29-14zm2 3zm5 34z"/><path stroke="#F6AA6A" stroke-width="3.2" d="M2269 628zm12 37zm-8-7zm-5 12zm-7-18zm-1-3zm-3 12zm-5-13zm7 24zm14 14zm24 3zm12 0zm4 7zm4-1zm7-6zm44 9zm35-4zm19 18zm-13 8zm-22 7zm-3-10zm-25-4zm-35-7zm-6 15zm-3-15zm0 12zm-9-18zm-6 23zm-12-19zm-5 17zm-1-15zm-7 7zm-4 14zm-57-2zm30 28zm22-10zm15 8zm5-18zm9 9zm14-10zm25 7zm37 10zm5 2zm11-21zm2 3zm0 20zm15-1zm3-11zm2 1zm-135 38zm-22-24zm-2 11zm-6-2z"/><path stroke="#D85436" stroke-width="4.8" d="M2262 637zm14-4zm0 6zm18 0zm14-5zm10 24zm0-3zm-16 15zm-10-26zm-1 26zm-9-4zm-3-2zm-6-1zm-7-16zm-1-1zm-18 1zm-2 6zm0 21zm4 4zm6 1zm7 3zm14-6zm10-3zm0 13zm19-2zm21 1zm25-11zm21 4zm3 5zm14-1zm1 0zm32 12zm-7 28zm0 4zm-1-21zm-8 3zm-6-2zm-11 17zm0-8zm-12 4zm-10 4zm-4-12zm-26 16zm-11-8zm0-16zm-4 14zm-56-14zm-9 23zm-30-18zm-4 12zm-1-13zm-2 22zm39 0zm125 14zm8 9zm5 0zm34 0zm-27 26zm-4 5zm-2-18zm-5-7zm-2 2zm26 31z"/><path stroke="#FAC986" stroke-width="4.8" d="M2356 625zm-90 36zm-6-10zm-1 18zm-11-15zm50 36zm107 29zm-13 2zm-9 0zm-2-1zm-8-1zm-1 4zm-8-13zm-30 16zm-23-5zm-17-5zm-66-5zm17 32zm4-1zm14-7zm18-3zm5 23zm8-12zm49-8zm19 13zm33-1zm4-12zm-114 30zm-7-9zm-11 17zm-17 2zm-10-11zm-2-4zm42 37zm95 3zm0-14zm3 0zm7 8zm32-5z"/><path stroke="#4A81D0" stroke-width="4.8" d="M2364 774zm-19 3zm-24-11zm-6-5zm0 11zm-10 20zm20-6zm33 27zm-10 4z"/><path stroke="#74A6DF" stroke-width="4.8" d="M2315 751zm95-21zm-103 26zm-19 20zm21 35zm70-21z"/><path stroke="#D85436" stroke-width="3.2" d="M2263 640zm9-1zm4 2zm11-13zm4 11zm9-5zm2 0zm3 0zm1-2zm74 35zm-15-14zm-35-6zm0-3zm-1 24zm-1-24zm-6 12zm-5-5zm-1 15zm0-4zm0 2zm-7-2zm-3 2zm-1-2zm-2-16zm-5 15zm-5-4zm-3-11zm-1 15zm-9 7zm-8 0zm-7-1zm-1-18zm0 11zm0-4zm-43 34zm17 9zm5-10zm9 5zm5-11zm0-7zm16 1zm5 8zm5-5zm4 6zm4-10zm1 3zm12 8zm3-3zm2-3zm2 11zm3-2zm4-18zm1 20zm2-9zm3 9zm2 2zm0-7zm2 2zm3 2zm2-8zm0 9zm12-17zm6 13zm6-12zm10 17zm4-5zm1-2zm1 2zm1 4zm6-5zm18 5zm13-9zm16 17zm-3 19zm-2 3zm-5 2zm-19-13zm-2 0zm-5-11zm-12 19zm-1-11zm-3 9zm-3-4zm-20 2zm-2-6zm-7 5zm0-8zm0 8zm-9-12zm-3 14zm-17 3zm-26-13zm-29 3zm-10 11zm-14 1zm-5-14zm-3 11zm-1-3zm-1-8zm-5 18zm0-6zm-4 4zm49 7zm72 6zm16-6zm57 30zm-3 9zm-4 0zm-3 5zm-2 10zm4 7zm6-1zm3-2zm2 8zm5-1z"/><path stroke="#74A6DF" stroke-width="3.2" d="M2375 725zm33 5zm-39 41zm-37-13zm-8 4zm-10 4zm-2-7zm-4-2zm-5 3zm-3 5zm-1 2zm-9-5zm-23 18zm56 6zm38 19z"/><path stroke="#FDE3A3" stroke-width="4.8" d="M2299 698zm80 28zm-4-5zm-11-5zm-10-7zm-47 13zm-12 2zm-4-14zm-52 38zm1 7zm11-3zm8 2zm9-14zm10 11zm0-17zm16 3zm3 7zm13-3zm29-6zm18 17zm2-2zm4 1zm-68 7zm-16 23zm-6-6zm-1 3zm-19-16zm-1 7zm-12-2zm34 28zm1-1zm94 11zm1-1zm5-11zm12-9z"/><path stroke="#A0C7EB" stroke-width="4.8" d="M2380 725zm-6 0zm-78 30zm8-7zm69-14zm5-6zm5 0zm-51 32zm-42 12zm-2 9zm-34-5zm14 9zm111 15z"/><path stroke="#E97E4F" stroke-width="4.8" d="M2262 642zm33-7zm4-9zm4 11zm19 12zm-1 0zm-22 22zm-18-22zm-13 3zm-4 5zm-3 4zm-1-14zm-6 17zm-1 6zm8 2zm10 12zm1-8zm6 8zm1 15zm0-13zm2 6zm5-19zm11 18zm7-3zm13-8zm4 19zm52-12zm9 12zm38 25zm-51-9zm-14 7zm-6-12zm0 10zm-11-3zm-8-9zm-18 9zm-40-6zm-4-1zm-28 11zm-3 0zm-5-3zm3 13zm83 1zm28-3zm40 15zm5-2zm32-13zm-13 38zm-5 3zm-1-11zm-126 4zm-19 8zm82 31zm62-5zm1-2zm5-11zm2 12z"/><path stroke="#CEE2EE" stroke-width="4.8" d="M2369 668zm-66 49zm-28 20zm20 13zm9-21zm4 19zm87-20zm-34 35zm-38-5zm-27 8zm-1 15zm-2-1zm-2-19zm-1 16zm-3 2zm-8-1zm-3-10zm106 21z"/><path stroke="#A5221F" stroke-width="3.2" d="M2274 639zm19-13zm8 1zm1 13zm78 27zm-18-12zm-3 15zm-5-15zm-4 16zm-24-10zm-3 1zm-21-5zm-1 3zm-1 0zm-1 4zm-1 5zm-15-9zm-1 0zm-12-9zm-11 3zm-12 5zm-2-6zm-9 34zm9 8zm34-23zm18 21zm79-12zm12 17zm40 13zm-5-8zm0 4zm-1 8zm0 0zm-1-7zm-12 0zm-19 5zm-12-12zm-11 6zm-30 12zm-3-15zm-1 11zm-11-11zm-58-3zm-9 8zm0 14zm-9-1zm0-8zm-7 3zm-9 3zm-3 7zm-7-8zm5 13zm15-1zm169 48zm-15-8zm-1-12zm-3-2z"/><path stroke="#A5221F" stroke-width="4.8" d="M2293 639zm20 1zm2 1zm9-1zm50 23zm-11 7zm-2-12zm-2-1zm-10 9zm0 3zm-36-10zm-4-1zm-9-14zm-58 47zm54-9zm12-5zm41 8zm2 1zm16-11zm1 2zm50 20zm-2 11zm-1 1zm-10 3zm-18-4zm-13-2zm-34 7zm-1 3zm-74-7zm-2 2zm-5-3zm-2-8zm-2 22zm-3-5zm-7 0zm-3-3zm-3 6zm-18 3zm3 8zm6 1zm4 2zm172 9zm-19 39zm-135-18z"/><path stroke="#BF3326" stroke-width="3.2" d="M2257 639zm12 3zm2 0zm5-3zm20-1zm1-1zm3 6zm12-5zm56 28zm-1-5zm-4-1zm-6 6zm-3-1zm-3 4zm-29-2zm-7-11zm-19 0zm-22-6zm-2-1zm-11 8zm-5-9zm-9 0zm-21 39zm20 6zm1-13zm6 6zm31 0zm0-13zm10 18zm3-13zm1 10zm13-2zm11-7zm4 19zm22-26zm1 11zm14-7zm15 22zm1-24zm3 13zm23 1zm19 31zm-1-3zm-1 6zm-6-7zm-18-3zm-14 5zm-8-7zm-9-8zm-14 23zm-7 1zm-7-19zm-3 0zm-4 15zm-7-15zm-55 10zm-3-13zm-1 21zm-2-23zm-1 8zm-5 5zm-3-12zm-3 21zm-3-3zm-1-13zm-2 14zm-1-1zm-7-17zm-2 17zm-1-16zm-14 16zm181 33zm1-3zm0-3zm6 3zm9-21zm-3 35zm0 11zm-1-10zm-9 6zm-2 1zm-5 2zm-1-14zm-4 14zm-3-1zm6 19zm4-1z"/><path stroke="#FCF4C4" stroke-width="4.8" d="M2250 684zm150 41zm-79-3zm-18-7zm-8 9zm-53 31zm25-27zm6 20zm34-9zm11 10zm3-13zm1-3zm16 5zm33 7zm13-9zm5-5zm-108 33zm-1 17zm-10 0zm-8-2zm-2-17zm28 23zm101 9zm9 0z"/><path stroke="#CEE2EE" stroke-width="3.2" d="M2378 723zm-3 2zm-91-9zm10 20zm10 9zm1-3zm2 11zm12-25zm8 19zm4 2zm10-12zm54-5zm-94 26zm0 0zm-8 2zm-1 15zm-2 6zm-8-2zm-10-15zm-10 16zm-20-15zm137 27z"/><path stroke="#244DAF" stroke-width="4.8" d="M2363 776zm-5-9zm-22-3zm-7 15zm-5 3zm-8-6zm0-19zm-13 52zm12-17zm8 9zm1-2zm3 1zm19-8zm3 23zm-40 2z"/><path stroke="#1F3FA3" stroke-width="3.2" d="M2234 700zm125 67zm-22 6zm-5 5zm-31-10zm2 34zm9 3zm5-5zm7-11z"/><path stroke="#A0C7EB" stroke-width="3.2" d="M2266 751zm51-7zm14 11zm69-23zm9 1zm-68 23zm-34 2zm-2-2zm-5 6zm-5 0zm-5 6zm-48 7zm39 23z"/><path stroke="#E97E4F" stroke-width="3.2" d="M2271 632zm28 5zm15-7zm51 35zm-18 5zm-21-15zm-1-6zm-8 3zm-16 16zm0-17zm-5 1zm-23 10zm-6 1zm-3-1zm-2 6zm-6-5zm0-18zm-5 3zm-1 1zm-1 15zm0 7zm-12 28zm18-4zm25-22zm5 15zm1 4zm11-5zm7-6zm5 16zm20-3zm2-21zm53 25zm3-10zm23 22zm-1-1zm0 9zm-20-13zm-11 7zm-9 12zm-11-8zm-8-1zm-6 11zm-6-17zm-12 3zm-3-5zm-38 3zm-16 15zm-12-7zm-4 9zm-1-19zm-5 8zm-10-5zm-22 11zm13 13zm4 1zm56 6zm38 2zm9-13zm51 20zm3 4zm42-1zm-16 22zm-10 7zm-1-25zm-18 5zm-119-6zm-14 27zm115 17zm22-16zm11 3zm0 2zm5 9zm0-8zm1 6zm10-7zm1-5zm-61 33z"/><path stroke="#FCF4C4" stroke-width="3.2" d="M2396 724zm-90-23zm-1 18zm-7-1zm-3-8zm-19 8zm-34 37zm2-1zm35-8zm5-9zm5-4zm7 8zm0 3zm4 8zm10-11zm9 0zm1-8zm4 1zm6 3zm14 16zm27-5zm12-14zm1-1zm-16 23zm-66 7zm-10 1zm-2 19zm-1-7zm-1-11zm-5 16zm-1 2zm-4-6zm-9-9zm-13 12zm-19-8zm17 12zm3 1zm12 5zm5 0zm3 1zm4 8zm3-7z"/><path stroke="#244DAF" stroke-width="3.2" d="M2368 779zm-13-7zm-3 1zm-5 9zm-1-9zm-16-11zm-2 9zm-7-6zm-6 13zm-8 32zm3-14zm2-1zm2 10zm4-16zm3 11zm2 8zm0-11zm22-5zm-36 24z"/><path stroke="#3263BF" stroke-width="3.2" d="M2366 770zm-5-2zm-4 13zm-16-12zm-5-1zm-4 4zm-21-8zm-13 34zm9-4zm3 0zm2-10zm0 14zm10 7zm30-16zm-37 25z"/><path stroke="#FDE3A3" stroke-width="3.2" d="M2306 635zm92 85zm-7 6zm-5 1zm-25-11zm-44-11zm0 6zm-5 16zm0-2zm-2-3zm-15-3zm-6-2zm-6 1zm-2-5zm-40 37zm1-9zm10 3zm1 9zm1-11zm19 1zm2-8zm4 8zm5 0zm2 5zm4-18zm9 10zm0 5zm25-10zm18 15zm4-5zm20 7zm2-1zm9-1zm-94 29zm-8-6zm0-17zm-8 4zm-1 17zm-6 6zm-4-21zm-2 14zm-10-17zm-2 1zm-2 10zm40 14zm6 8zm1 1zm48-2zm5 9zm35 1zm4 1zm30-4zm0-6z"/><path stroke="#4A81D0" stroke-width="3.2" d="M2344 755zm28-24zm34-2zm-57 40zm-10 7zm-31-15zm0 17zm-2-8zm-2-6zm0 13zm-16-8zm17 28zm15-9zm3 11zm34-9zm1 24zm-54 2z"/><circle cx="2627" cy="661" r="35.5" fill="#FCD38E"/><circle cx="2612" cy="761" r="29.9" fill="#FCD38E"/><circle cx="2584" cy="715" r="26.2" fill="#FBCB87"/><circle cx="2649" cy="654" r="24.4" fill="#FDE6A8"/><circle cx="2667" cy="737" r="22.5" fill="#2C5AB9"/><circle cx="2593" cy="752" r="20.7" fill="#FCD38E"/><circle cx="2723" cy="711" r="18.9" fill="#7CAEE2"/><circle cx="2603" cy="669" r="18.9" fill="#F29B60"/><circle cx="2739" cy="774" r="18.9" fill="#3466C0"/><circle cx="2689" cy="774" r="18.9" fill="#2652B4"/><circle cx="2656" cy="680" r="17.9" fill="#FCF4C4"/><circle cx="2750" cy="708" r="17.9" fill="#2652B4"/><circle cx="2680" cy="719" r="17" fill="#2652B4"/><circle cx="2627" cy="737" r="17" fill="#DCE8E1"/><circle cx="2702" cy="676" r="16.1" fill="#2652B4"/><circle cx="2649" cy="704" r="15.2" fill="#9BC4EA"/><circle cx="2616" cy="783" r="15.2" fill="#FAC27F"/><circle cx="2658" cy="765" r="15.2" fill="#7CAEE2"/><circle cx="2652" cy="800" r="14.2" fill="#3C72C8"/><circle cx="2634" cy="770" r="13.3" fill="#FCF4C4"/><circle cx="2616" cy="641" r="13.3" fill="#F7B170"/><circle cx="2671" cy="778" r="13.3" fill="#427ACD"/><circle cx="2737" cy="746" r="13.3" fill="#2C5AB9"/><circle cx="2621" cy="712" r="12.4" fill="#FCE8AD"/><circle cx="2641" cy="638" r="11.8" fill="#FDE19F"/><circle cx="2664" cy="697" r="11.5" fill="#7CAEE2"/><circle cx="2638" cy="722" r="11.5" fill="#BBD8F0"/><circle cx="2705" cy="752" r="11.5" fill="#2652B4"/><circle cx="2750" cy="695" r="11.5" fill="#2652B4"/><circle cx="2741" cy="728" r="11.5" fill="#FCF4C4"/><circle cx="2595" cy="656" r="11.5" fill="#EA8251"/><circle cx="2748" cy="790" r="11.1" fill="#F8B977"/><circle cx="2619" cy="685" r="9.6" fill="#FDDC96"/><circle cx="2603" cy="726" r="9.6" fill="#FDDC96"/><circle cx="2649" cy="748" r="9.6" fill="#9BC4EA"/><circle cx="2723" cy="792" r="9.6" fill="#7CAEE2"/><circle cx="2724" cy="695" r="9.3" fill="#427ACD"/><circle cx="2697" cy="658" r="9.3" fill="#2C5AB9"/><circle cx="2734" cy="733" r="8.7" fill="#7CAEE2"/><circle cx="2719" cy="728" r="7.8" fill="#BBD8F0"/><circle cx="2665" cy="663" r="7.8" fill="#FCF4C4"/><circle cx="2672" cy="709" r="7.8" fill="#427ACD"/><circle cx="2584" cy="770" r="7.8" fill="#FBCB87"/><circle cx="2760" cy="722" r="7.8" fill="#2652B4"/><circle cx="2713" cy="663" r="7.8" fill="#2652B4"/><circle cx="2699" cy="719" r="6.9" fill="#2652B4"/><circle cx="2647" cy="695" r="6.9" fill="#BBD8F0"/><circle cx="2692" cy="820" r="6.5" fill="#3466C0"/><circle cx="2707" cy="688" r="6.3" fill="#2C5AB9"/><circle cx="2560" cy="722" r="5.9" fill="#FAC27F"/><circle cx="2664" cy="792" r="5.9" fill="#7CAEE2"/><circle cx="2634" cy="704" r="5.9" fill="#FCF4C4"/><circle cx="2566" cy="691" r="5.6" fill="#E67549"/><circle cx="2575" cy="690" r="4.8" fill="#F7B170"/><circle cx="2771" cy="751" r="4.3" fill="#3466C0"/><circle cx="2647" cy="813" r="4.1" fill="#427ACD"/><circle cx="2701" cy="808" r="3.7" fill="#3466C0"/><circle cx="2698" cy="814" r="3.7" fill="#3466C0"/><circle cx="2710" cy="804" r="3" fill="#3466C0"/><circle cx="2683" cy="800" r="1.7" fill="#7CAEE2"/><circle cx="2688" cy="626" r="1.3" fill="#FDDC96"/><circle cx="2700" cy="695" r="1.3" fill="#2652B4"/><circle cx="2699" cy="722" r="3" fill="#fff"/><circle cx="2700" cy="731" r="3.7" fill="#fff"/><circle cx="2703" cy="740" r="3.2" fill="#fff"/><circle cx="2705" cy="746" r="2" fill="#fff"/><circle cx="2690" cy="754" r="5" fill="#fff"/><circle cx="2693" cy="765" r="4.3" fill="#fff"/><circle cx="2723" cy="754" r="4.5" fill="#fff"/><circle cx="2720" cy="765" r="3.7" fill="#fff"/><circle cx="2658" cy="782" r="4.3" fill="#fff"/><circle cx="2616" cy="729" r="2.2" fill="#fff"/><circle cx="2611" cy="733" r="1.5" fill="#fff"/><circle cx="2665" cy="791" r="2" fill="#fff"/><circle cx="2652" cy="775" r="2.3" fill="#fff"/><circle cx="2619" cy="701" r="1.5" fill="#fff"/><circle cx="2627" cy="702" r="1.3" fill="#fff"/><circle cx="2712" cy="726" r="1.7" fill="#fff"/><path stroke="#F6AA6A" stroke-width="4.8" d="M2599 638zm13-6zm5 5zm7 6zm27 0zm10 3zm-22 16zm-9 7zm-4-14zm0 3zm-1-8zm-31 15zm-4-14zm-10 47zm12-1zm0-20zm6 22zm0-17zm14 0zm5 2zm12 7zm15 1zm-62 32zm24 23zm-8 12zm-3-2zm-6 2zm21 34zm1-7zm19 1zm114 11zm2-14z"/><path stroke="#244DAF" stroke-width="4.8" d="M2698 685zm14-5zm11 7zm25 3zm14 9zm5 5zm-9 2zm-57 5zm-31 7zm-1-5zm-12 9zm85 18zm14 24zm-3-2zm-10-3zm-7 16zm-1-14zm0 2zm-3 11zm-44-5zm-23 4zm-7-17zm-11 0zm-9 47zm20-1zm35-15zm-45 25z"/><path stroke="#244DAF" stroke-width="3.2" d="M2715 671zm-20-6zm-3 21zm17-8zm9 14zm25 7zm12-14zm13 33zm-20-17zm-59 24zm-2-5zm-2-15zm-4 13zm-7-4zm-5 2zm-5-10zm-23 2zm9 28zm17 1zm5 0zm11 15zm4-12zm8 5zm5 0zm33-11zm2 2zm17 33zm-5-11zm-2 9zm-18 10zm-25-6zm-9 1zm-16-14zm-21 9zm-14 30zm34-7zm12 4zm9 18zm-5 4zm-3 9zm-42-9z"/><path stroke="#BF3326" stroke-width="3.2" d="M2616 640zm35 21zm-48-12zm-1 34zm4-1zm20 37zm-27 32zm10 10zm17 28z"/><path stroke="#FAC986" stroke-width="4.8" d="M2609 637zm26 4zm23-8zm11 25zm-20-14zm-2 7zm-1-2zm-16 20zm-6-8zm-2-4zm-5 0zm-10 6zm-8-3zm-24 33zm4 4zm13-2zm8-23zm19 4zm6 12zm2 6zm19-16zm-23 44zm-10-4zm-9-17zm-6 1zm-17 20zm-18 5zm-3-12zm12 40zm28-3zm1 1zm18-20zm11-3zm5 53zm-35-22zm-10 1zm21 22zm7 3zm129 15zm9-4z"/><path stroke="#E97E4F" stroke-width="3.2" d="M2623 642zm1-5zm19 2zm8-2zm-21 34zm-23-16zm-20-5zm-24 40zm17 9zm16-16zm4 1zm0 12zm7-12zm22-1zm-21 22zm-15 19zm0-12zm-3 13zm-14 29zm17-4zm29-15zm1 41zm-2 0zm-41-10zm26 26zm1-8zm142 16z"/><path stroke="#1F3FA3" stroke-width="4.8" d="M2717 670zm-22-4zm-29 29zm29-21zm3 8zm40 11zm3 5zm5-14zm4 9zm4 4zm12 26zm0-4zm-3 2zm-5-3zm-1 7zm-3-13zm-6-10zm0 11zm-51 2zm-5 5zm0-9zm-10-6zm-7 6zm-12 38zm6-9zm16 13zm3-9zm8 5zm12-8zm3 7zm37 30zm-11-12zm-24-10zm-5 1zm-1 14zm-7-13zm-8 1zm-5 11zm-12 8zm-2 10zm12 4zm14-7zm16 1zm-25 37z"/><path stroke="#A0C7EB" stroke-width="3.2" d="M2641 625zm26 11zm1 22zm-3-13zm-6 23zm-31-6zm16 33zm82-8zm20 37zm-9-6zm-25-2zm-6-6zm-51 2zm-15-6zm-8 3zm-63 6zm67 30zm15-6zm8 14zm12 0zm14-22zm35 1zm1 5zm4-7zm1 0zm14 17zm-1 33zm-43-24zm-33 12zm-4-6zm-8-2zm-4-2zm-3 11zm-24 11zm-2-23zm46 31zm0-1zm55 12z"/><path stroke="#A5221F" stroke-width="4.8" d="M2607 705z"/><path stroke="#F6AA6A" stroke-width="3.2" d="M2602 642zm9-6zm10 2zm4-2zm3-7zm19 13zm5-4zm2 5zm-18 8zm-24 5zm-5 13zm-1 2zm-20-19zm-2 17zm3 22zm17-19zm4 10zm3 12zm10-4zm3 26zm-5-6zm-6 4zm-9-4zm-10 11zm-8 1zm-2 4zm-5-10zm-3-11zm-1 2zm0-7zm-3 15zm-3-13zm7 29zm4 0zm0 20zm12-2zm0-17zm4 21zm7 1zm6-3zm9 1zm5 2zm15-20zm-24 33zm-10 5zm-5 11zm-14-10zm28 26zm129-4zm8 0z"/><path stroke="#74A6DF" stroke-width="3.2" d="M2650 636zm65 30zm-11 1zm-45-13zm-13 37zm17-5zm1 11zm4-4zm35-5zm15 2zm14-3zm2 10zm35 26zm-41-16zm0 7zm-5-3zm-2-1zm-2 3zm-32 3zm-6 10zm-7-22zm-12 15zm-3-16zm-9 12zm-1 1zm-6-16zm-2 18zm-1-18zm-45 39zm26-1zm32-1zm14-9zm23 4zm34 11zm14-7zm7 4zm21 15zm-9 24zm-12-5zm-12-10zm-52-2zm-7 5zm-2 14zm-6 2zm-1-15zm0 9zm-3-6zm-6 6zm-2-13zm-3 14zm-5-17zm-54 0zm63 43zm9-16zm0 22zm5-23zm54 2zm0 8zm12-6zm3 4zm-81 19z"/><path stroke="#4A81D0" stroke-width="4.8" d="M2697 653zm-10 6zm-81-14zm50 49zm11-3zm20-9zm23 10zm9-4zm1 0zm35 9zm-20 3zm-7 19zm-8 6zm-2-5zm-22-9zm-7 3zm-39 13zm-3-21zm23 26zm2 8zm7 9zm3-4zm52 0zm4-17zm12 6zm4 31zm-9 11zm-1-19zm-18 26zm-2-21zm-25 8zm-3-14zm-33 2zm-4 11zm-20 25zm40-10zm10 8zm10 17zm13-15zm1 10zm12-5zm-30 19z"/><path stroke="#A5221F" stroke-width="3.2" d="M2634 641zm-48 25zm-24 49zm-2 10zm34 5zm24 27z"/><path stroke="#FCF4C4" stroke-width="4.8" d="M2615 630zm7 8zm17 5zm7-6zm12 2zm0 15zm-23 14zm-45 4zm6 7zm6 9zm12 4zm4 5zm17-21zm3 14zm78 34zm-74-11zm-23-1zm-16 7zm-11-14zm-12 6zm17 24zm9 4zm2 9zm15-1zm6-11zm3 1zm0 7zm80-13zm40 45zm-113 5zm-12-16zm-8-4zm-20 6zm-2-9zm-1 10zm-19 6zm91 18zm53 1zm1 4zm5-1zm20-9z"/><path stroke="#BF3326" stroke-width="4.8" d="M2590 719z"/><path stroke="#D85436" stroke-width="4.8" d="M2598 638zm26 1zm-33 8zm-2 15zm-20 30zm9 10zm-10 24zm10 18z"/><path stroke="#E97E4F" stroke-width="4.8" d="M2607 641zm12-10zm29 7zm24 22zm-8-7zm-67-8zm-9 52zm12-15zm4 3zm9 9zm1-17zm21 3zm-12 42zm-2-21zm-19 19zm-38 10zm8 15zm18 18zm-7 0zm166 31z"/><path stroke="#74A6DF" stroke-width="4.8" d="M2696 652zm-5 11zm-37 6zm-20-21zm-6 32zm34 14zm3-21zm9 14zm23 3zm12-9zm0 12zm2 5zm15 12zm-16 3zm-36 12zm-5-2zm-14-17zm-4 2zm-1 1zm-66 16zm12 22zm12-12zm24-5zm10 17zm15-11zm10 11zm28 1zm20 1zm25 29zm-10-10zm-7 15zm-18-22zm-57 16zm-58 0zm50 22zm22 1zm54-6zm4-8z"/><path stroke="#3263BF" stroke-width="4.8" d="M2714 655zm-23 7zm-3-6zm0 4zm8 32zm2-9zm12 14zm28-1zm24-2zm4 15zm-1-5zm-3 15zm-42 6zm-18-1zm-24-23zm-2 17zm-11-5zm-19 19zm25 13zm32 5zm2 2zm53-24zm-24 47zm-52-1zm-8 3zm-5-8zm-15 4zm4 21zm50 11zm10-4zm10-1zm-29 13zm-6 13z"/><path stroke="#FCF4C4" stroke-width="3.2" d="M2646 634zm11 16zm-7 17zm-10-14zm-13 1zm-11 13zm-27 0zm15 22zm36-9zm6 11zm1 7zm24 1zm82-4zm-31 19zm-2 7zm-1 5zm-59-26zm-15 2zm-12 10zm-2 9zm-7-5zm-10 2zm-20 7zm-3-14zm-4 12zm-6-9zm-2-6zm-7 9zm9 33zm31-7zm32-7zm77-4zm19 2zm8 48zm-24-3zm-84-8zm0-12zm-8 21zm-5-18zm-34 20zm12 7zm15-1zm122 5zm4-1zm-88 20z"/><path stroke="#1F3FA3" stroke-width="3.2" d="M2721 663zm-9-3zm-5-6zm0 15zm-5 2zm-3-10zm-108 18zm97 3zm8 0zm5-4zm2 6zm2-10zm4 1zm6 1zm36 13zm8 3zm9 11zm-30 9zm-22-1zm-4-6zm-14 14zm-1-1zm-4 1zm-23 29zm7-10zm6 12zm22-7zm12 11zm7-12zm23 7zm1 15zm-9 1zm-8 0zm-4 5zm-3 9zm-15-8zm-5-14zm-1-1zm-10 25zm-10-15zm-4-1zm-4-9zm-9 4zm-22 33zm9 2zm1-7zm4 20zm5 3zm22-27zm4 0zm-42 32z"/><path stroke="#4A81D0" stroke-width="3.2" d="M2673 694zm38-17zm50 45zm-1-17zm-5 20zm-10-20zm-3-3zm-2 9zm-19-9zm-19 16zm-7 0zm-8 1zm-9-16zm-6 7zm-9 0zm-12 3zm-4 8zm-6 15zm3-7zm1 14zm4-4zm6 3zm1 6zm1-12zm1-7zm7 19zm5-4zm1-14zm4 20zm12-9zm3-9zm19 12zm7 8zm23-6zm6-12zm1 11zm5 20zm-1 7zm0 6zm-25-15zm-32 15zm-7-13zm-10 14zm0-21zm-9 24zm-37-7zm9 17zm9 19zm8-3zm23-22zm3 5zm13 2zm22 4zm8-13zm4 2zm-37 27z"/><path stroke="#FDE3A3" stroke-width="4.8" d="M2597 643zm15-2zm5-12zm10-3zm19 7zm12 4zm6-2zm-2 16zm-6-7zm-5 7zm-19 14zm-5-21zm-1 5zm-11 21zm-52 20zm14-2zm11 8zm29-18zm16 3zm7 7zm0 3zm9-7zm5 4zm9 8zm5-23zm-35 41zm-13-1zm-1 9zm-1-17zm-3 20zm-24-13zm-3-11zm-5 7zm-11 47zm6-24zm3 6zm1 7zm6-1zm15 12zm18-19zm19-5zm-45 51zm-19-23zm37 36zm7-7zm6 0zm6-3zm114 5zm8 0zm3 0z"/><path stroke="#FAC986" stroke-width="3.2" d="M2609 633zm19 6zm6-2zm10 1zm11 14zm-43 8zm-3-14zm0 17zm-21 7zm-20 26zm3-2zm9 5zm3 0zm16-3zm11-14zm3 5zm4 0zm7-13zm4 8zm16 4zm3-12zm-21 34zm-4 19zm-11-13zm-7 1zm-4-8zm0 19zm-8-9zm-6 10zm-3-24zm-1-3zm-1 10zm0-8zm-4 3zm-1 3zm-1 2zm-3-1zm-5-1zm17 34zm2-5zm0 10zm8-15zm11 7zm2 11zm2-5zm8 0zm20 15zm-5 9zm-23 2zm-2-13zm-1 0zm-6 4zm-12 4zm-3 7zm-1-1zm-3-11zm-1 0zm10 23zm19 10zm5 3zm5-8zm3 8zm10-11zm112 15zm0-9zm5 1zm3-7z"/><path stroke="#CEE2EE" stroke-width="3.2" d="M2672 648zm-10 23zm-21-7zm-23-11zm-4 5zm-4 3zm-22-15zm42 41zm11 0zm18-4zm2 16zm4-19zm1 14zm1-2zm3-8zm0 10zm68 27zm-17-20zm-8 19zm-3-14zm-1 19zm-28-5zm-9-18zm-17 7zm-10 7zm-7-14zm0-1zm-1 24zm-13-21zm-6 22zm-1-6zm-25 5zm-20-4zm-8 6zm26 27zm15-1zm5-24zm19 9zm2 7zm10 10zm1-20zm2-5zm1 13zm1-10zm68 0zm8-2zm0 3zm25-3zm10 51zm-3-7zm-82-12zm-29 4zm-3 11zm-9-17zm0-3zm-2 24zm-2-14zm-28 12zm3 5zm30-1zm3 0zm22 12zm5-10zm56 10zm19-3zm7-8zm7 0z"/><path stroke="#A0C7EB" stroke-width="4.8" d="M2698 654zm-42 36zm69-2zm2 0zm26 27zm-4 11zm-7-5zm-6-8zm-1 13zm-14-12zm0-14zm-1 20zm-4-12zm-1 19zm-59-21zm-2 4zm0-7zm-8 9zm-6 11zm-6-11zm-11 7zm15 20zm0 7zm7-4zm1-1zm1 0zm7 5zm64-16zm3 1zm19-1zm30 18zm-72 12zm-20-1zm-24 13zm-2-11zm-31 8zm27 24zm3 17zm15-12zm75-12zm10 3z"/><path stroke="#FDE3A3" stroke-width="3.2" d="M2602 634zm28-8zm10 2zm31 26zm-10 13zm-1-21zm-6 11zm0-9zm-15 15zm-8-7zm-2 10zm-12 2zm0-7zm-29-15zm-11 44zm9 2zm43 5zm3-11zm1 9zm2 0zm2-9zm2 13zm1-17zm7 4zm2-9zm2 16zm3-20zm7 6zm72 41zm0 5zm-84-25zm-6 26zm-5-12zm-5-3zm-10 8zm-10-1zm-2 2zm-11-14zm-1-4zm-2 10zm-1 14zm-14-20zm-10 19zm-7-6zm-8-3zm13 13zm4 19zm1 7zm4-25zm3 10zm26 7zm4 2zm12 0zm5-1zm3 9zm-3-1zm-14 3zm-2 10zm-4 8zm-1 1zm-3-15zm-17 19zm-2-9zm26 15zm38 3zm93-2z"/><path stroke="#CEE2EE" stroke-width="4.8" d="M2653 630zm58 39zm-46-5zm-18-5zm-12-15zm-24 21zm-13 9zm137 45zm-16 5zm-94-7zm-51-8zm-9 2zm68 28zm108-6zm-85 44zm-13-8zm-2 7zm-3-13zm0 17zm-25-17zm-16 6zm-1-8zm-10 2zm-3-5zm164 28z"/><path stroke="#3263BF" stroke-width="3.2" d="M2722 660zm-1 2zm-46 33zm15-14zm15 15zm3-15zm4 13zm3-16zm0 0zm38 9zm14 26zm-5-2zm-3 2zm-3 2zm-14-1zm-37-2zm-3 12zm-1-12zm-6 0zm-14 3zm-4-13zm-8 3zm-14 11zm-1 16zm2 2zm1-3zm5 17zm7-5zm10-8zm14-7zm5 21zm7 1zm23-9zm11 2zm1 3zm4-1zm6 4zm16 0zm-28 13zm-11 7zm-26 5zm-3-6zm-13 3zm0 11zm-5-1zm-12-13zm-13 11zm-5-16zm-3 6zm40 19zm43-3zm6-1zm-39 28zm-1 14zm-2-10zm-1 1z"/><path stroke="#D85436" stroke-width="3.2" d="M2610 631zm42 16zm-10 14zm-15-12zm-33 22zm-3-4zm-30 20zm7 1zm40-15zm21 41zm-20-6zm-16 0zm-5 5zm-33 14zm75 54zm-49-12zm174 28z"/></g><g fill="none" stroke-linecap="round" transform="scale(.5)"><clipPath id="c1"><path d="M477 1176L505 1180L536 1177L563 1184L588 1196L603 1212L628 1227L652 1251L671 1273L683 1297L685 1322L681 1346L677 1371L668 1396L655 1420L634 1442L609 1457L579 1463L548 1463L523 1457L505 1451L480 1448L465 1433L456 1428L444 1436L429 1428L423 1414L427 1396L423 1374L411 1354L395 1334L388 1310L385 1285L390 1261L403 1236L422 1212L443 1194L461 1183Z"/></clipPath><g filter="url(#rs)"><g clip-path="url(#c1)" fill-rule="evenodd"><path fill="#2956B7" d="M475 1168L504 1173L536 1169L565 1177L591 1189L607 1206L633 1222L659 1247L678 1270L691 1296L694 1322L689 1347L685 1373L676 1399L662 1425L639 1447L614 1464L581 1470L549 1470L523 1464L504 1458L478 1454L462 1438L452 1433L440 1442L424 1433L418 1418L421 1399L418 1376L405 1355L389 1334L381 1309L378 1283L383 1257L397 1231L416 1206L439 1187L458 1175Z"/><path fill="#4F85D2" d="M461 1443l-28-6-12-8-7-11-9-27-3-15-14-11-3-7-2-11 2-11 4-7 18-15-11-7-7-11-2-13 5-11 5-6 9-4 22-3 18-22 9-5 11-2 15 6 11 11 4 16-3 13-7 9-9 5-29 3-9 12-14 9 21 12 11-9 9-2 6 5 5 12 4 35-3 49-6 20-4 4z"/><path fill="#91BDE8" d="M470 1287l-13 0-11-3-7-6-4-6 1-13 6-14 6-6 11-5 11 0 9 3 8 8 5 11 0 11-4 9-7 7zM461 1440l-6 0-20-4-11-7-8-11-9-27-4-15-10-9-5-7-3-11 2-13 8-11 9-5 9-3 11 1 9 3 15 10 11-7 5 0 4 2 4 6 6 26-1 40-5 24-6 14z"/><path fill="#D8E6E5" d="M475 1283l-9 1-10-1-8-5-6-6-2-11 1-9 6-9 8-6 9-2 8 2 9 5 6 8 2 9-1 11-6 8zM459 1439l-24-5-12-7-6-11-10-27-3-15-11-9-5-7-2-11 3-11 6-9 9-5 11-3 11 1 9 4 15 12 9-4 5 0 6 8 5 23-1 33-4 17-4 9-1 11z"/><path fill="#FDE7AA" d="M475 1279l-7 1-9-1-6-3-6-6-3-9 0-7 4-8 6-5 7-3 9 1 8 4 5 7 3 7-1 8-4 9zM459 1436l-4 1-22-5-8-5-6-9-11-29-3-15-12-11-5-12 0-8 4-9 12-11 13-3 11 2 12 7 13 14 8-3 7 7 4 18-1 22-3 18-7 13 1 13z"/><path fill="#F9BF7C" d="M444 1432l-11-2-11-10-12-29-5-20-10-8-4-8-2-10 3-9 7-9 9-4 11-1 12 3 9 7 7 11 1 6-5 11 0 9 3 6 7 3 3 4 5 9 1 9-5 20-8 9z"/><path fill="#EA8352" d="M444 1429l-5 2-4-1-11-9-13-32-4-18-15-15-1-9 2-10 6-8 7-4 11-2 11 2 10 7 6 8 1 7-4 13 0 9 3 8 10 12 4 16-2 11-8 6z"/><path fill="#CD452F" d="M442 1428l-5 1-4-2-9-8-11-28-5-22-11-9-3-6-1-9 2-8 7-8 6-3 11-1 10 2 8 6 4 7-2 29 3 9 11 15 2 14-2 9-7 4z"/><path fill="#A5221F" d="M437 1425l-8-5-5-9-3-13-6-12-3-19-12-9-3-4-1-7 1-8 5-6 6-4 9-2 10 2 6 5 4 6 0 9-4 9 3 18 2 6 10 12 3 13-1 5-6 5-5 7z"/><ellipse cx="436" cy="1246" rx="4.1" ry="13.3" fill="#fff"/><ellipse cx="458" cy="1277" rx="17.4" ry="2.2" fill="#fff"/><ellipse cx="482" cy="1334" rx="19.6" ry="2.2" fill="#fff" transform="rotate(-27 482 1334)"/><ellipse cx="531" cy="1284" rx="3.8" ry="3.8" fill="#fff"/></g></g><path stroke="#fff" stroke-width="4" d="M533 1175zm0-3zm-1-2zm-1-2zm-17 6zm-80 28zm2 0zm11-12zm2 0zm1-2zm3 7zm0 3zm0 2zm1-7zm18 6zm6-12zm2 0zm2 2zm2 1zm2-2zm2-8zm5 0zm2 1zm4 5zm0-2zm0-3zm8 6zm0-3zm1-2zm7-6zm15 13zm1-2zm6-2zm5 7zm2 2zm47 9zm7 1zm-3 1zm-2-1zm0 11zm-3-1zm-21-9zm-2 21zm-3-1zm-2 6zm-5-22zm-1-2zm-9 1zm-2-1zm-4 24zm0-11zm-4 4zm-2-1zm-1-6zm-2 5zm0-9zm0 5zm-1 6zm-1-5zm0 3zm-9-4zm-13 9zm-10 0zm-3-1zm-1-2zm-21-5zm-2-2zm-8 4zm-3-1zm-2-12zm-2 1zm-2 1zm-2-4zm-2 0zm-2 2zm-7 14zm-1 1zm-9-2zm-2-1zm-1-2zm-2-2zm-15 3zm-25 35zm1-2zm2-2zm2 0zm1 2zm1 2zm0 3zm0 2zm0-14zm3 12zm1-2zm2-2zm2 0zm4-1zm3 1zm2 0zm2-9zm11-7zm1-2zm1-2zm14 0zm2 1zm1 25zm1-25zm2-2zm6 0zm2 1zm1 2zm2 6zm0 2zm0 2zm4 5zm1-2zm0 5zm4 5zm8-17zm2-1zm2-1zm3 0zm6 6zm1 2zm1 2zm6-2zm0 9zm2-10zm2-1zm7-3zm4 4zm1 2zm9-7zm1 1zm1 3zm3 4zm1-6zm0 9zm0 2zm0 3zm2-21zm0 8zm1-7zm1 3zm0-8zm0 11zm1-1zm1-1zm3-1zm2 0zm7-7zm8 4zm1-2zm1-2zm89 32zm-3 0zm-14 7zm-119 8zm-3-1zm0 3zm-1-1zm-1 0zm-1-2zm-1-1zm0-2zm-19 11zm-2-18zm-3-1zm-2 0zm-2-1zm0 0zm0 2zm-5-9zm-14 10zm-1 2zm0 2zm-5-13zm-1 26zm-5-26zm-2 1zm-23 2zm-2 1zm-18 16zm0-2zm-1-3zm0-2zm-5 31zm2 0zm1 6zm0 3zm1-24zm1 16zm1-15zm1 13zm1-12zm2 4zm0-2zm0-2zm5 17zm1-2zm2 0zm4 1zm1 0zm2 0zm2 2zm2 1zm2-2zm2-1zm1 7zm2-1zm2-1zm2 1zm17-25zm4 24zm2-11zm1 4zm1-2zm1 4zm2 7zm0-22zm11 2zm1-2zm3 0zm6 17zm1-8zm1 9zm1-9zm1-2zm8 0zm1-2zm1-2zm5-7zm7 1zm0 3zm11 10zm1 2zm0-5zm2 5zm-8 36zm-2 0zm-2 0zm-27-22zm-2-1zm-3-1zm-9 8zm-8 5zm-2-2zm-2 0zm-1-8zm-1-2zm0 9zm-2-11zm0 14zm-2 0zm-1 9zm-18 2zm-3-7zm-1 2zm-18 6zm-1-2zm0 7zm1-3zm16 4zm143-3zm1 21zm2 2zm86 26zm-2-2zm-1-2zm-58 1zm-1-2zm34 18zm2 2zm2 1zm1 2z"/><path stroke="#FCF4C4" stroke-width="4.2" d="M417 1259zm-9 26zm-1 26zm63 10zm-3-1zm-25 9zm35 36zm2 58zm-5 7z"/><path stroke="#A0C7EB" stroke-width="4.2" d="M466 1195zm61 0zm81 24zm-52-4zm-39-11zm-45 3zm-48 17zm37 12zm80 5zm56 8zm42 31zm-72 0zm-39-7zm-36-9zm-33 20zm-19-14zm-20 31zm70 3zm58-3zm49 3zm29-10zm43 26zm-39 0zm-65 9zm-45 7zm-50-8zm-46-10zm-7 0zm78 38zm129-1zm-73 22zm-56 8zm-2 1zm-16 18zm35 3zm26-6zm28 4zm15-3zm22-1zm4 34zm-72 18zm-11-17zm-49-5z"/><path stroke="#3263BF" stroke-width="3.2" d="M518 1174zm-89 25zm46-20zm2 3zm24 21zm18-22zm14 6zm88 41zm-25 1zm-6-16zm-13 2zm-3 1zm-2-10zm-31 25zm-2-8zm-19-17zm-1 1zm-26 14zm-28-17zm0 21zm-1 5zm-6-7zm-3-14zm-4 5zm-10-7zm-29 8zm-7 16zm-5 15zm4-8zm0 20zm10-24zm11 12zm63-5zm2 2zm7 16zm25-20zm3 19zm15 1zm5-10zm9 0zm26 7zm2 2zm5-26zm69 55zm-24-3zm-28-3zm-2 2zm-4-17zm-27-4zm-9 3zm-11 10zm-13-10zm-32 11zm-24 10zm-50-21zm-8-3zm-4-1zm-36 22zm4 13zm2 13zm4 3zm9 2zm8 1zm33-12zm13-4zm47 5zm28 11zm52 0zm9-22zm4 14zm1-14zm5 10zm9 9zm8-15zm22 12zm11 3zm22 24zm-17-1zm-2 5zm-11-4zm-17-8zm-38 3zm-22-15zm-7 19zm-5-6zm-166 0zm92 30zm55-8zm28 6zm29-5zm1-6zm19 24zm38-10zm27-5zm1 18zm-12 3zm-41 0zm-55 2zm-2 6zm-15-2zm-29 11zm-2 3zm-44 19zm86-15zm13 22zm57-10zm14 4zm17-11zm-39 29zm-54 4zm-2 13zm-9-10zm-16-1zm-2 10zm-45-3zm-6-8zm51 23zm10 0zm2 6z"/><path stroke="#FAC986" stroke-width="3.2" d="M440 1254zm21-10zm2 5zm15-1zm0 11zm-11 14zm-51 49zm-13-1zm43 106zm14-21zm-15 26zm-15-1z"/><path stroke="#4A81D0" stroke-width="4.2" d="M463 1184zm63-4zm36-4zm-148 54zm10 27zm70-22zm90 10zm25 25zm-101 3zm-19 7zm-7 3zm-57-3zm-1-16zm-12-4zm-2 11zm-8 11zm0-13zm4 44zm7-24zm5 15zm2 8zm6-10zm10 5zm3 2zm6-10zm7 9zm40-5zm41-13zm140 24zm-66 20zm-8 0zm-5 1zm-41 8zm-54-3zm-32-17zm-10 0zm-3-1zm-1-4zm-42-1zm163 30zm59 18zm19 20zm-180 34zm122-4zm38-9zm1 5zm-94 26zm-28 3zm-76-3zm98 27z"/><path stroke="#E97E4F" stroke-width="3.2" d="M480 1255zm-39 79zm12 25zm-13 71z"/><path stroke="#4A81D0" stroke-width="3.2" d="M458 1195zm8 5zm37-15zm17 3zm59 12zm54 26zm-62-8zm-43-11zm-6-1zm-62 6zm-3-6zm-46 53zm3-1zm15-10zm12-9zm13-6zm31-1zm36 10zm69 10zm26-15zm11 11zm24 22zm-104 7zm-12-8zm-41-3zm-49 21zm-8-12zm-10-10zm-1 18zm-5-20zm-5 23zm-4-20zm0 1zm-7 9zm-3 4zm-2-10zm-6 11zm-7 3zm0-10zm-2 4zm0 11zm3 20zm6-20zm0 11zm3-4zm13-1zm0 9zm0-15zm3 12zm5 7zm8-6zm13-13zm7 8zm24 11zm2-20zm12 19zm59-2zm143-13zm4 32zm-1-2zm-3 3zm-2-5zm-18 2zm-43 19zm-45-7zm-68-7zm-13 12zm-10-5zm-7 12zm0 7zm71-7zm2 13zm30-7zm97-2zm3-3zm2-3zm-105 42zm-69 12zm-31-26zm-2 31zm55-3zm6 17zm3 0zm43-2zm-1 32zm-36-13zm-43 18zm-33-14zm-4-9zm-46 0zm174 27zm0 0z"/><path stroke="#CEE2EE" stroke-width="3.2" d="M513 1192zm13 9zm19 30zm-62-18zm-58 46zm30 21zm-34 4zm-3-11zm-26 4zm27 38zm3-2zm196 12zm-155-7zm-2 13zm-8 7zm-7-4zm27 36zm155-24zm-156 48zm-12 23zm1 3zm6-12zm13 14zm131 17zm-14 9zm-40 10z"/><path stroke="#244DAF" stroke-width="4.2" d="M554 1170zm-75 4zm-35 1zm-19 25zm30-12zm29-10zm8 22zm11-15zm7 4zm3-9zm2 23zm4-9zm8 6zm8-9zm13-9zm6 20zm6-14zm1 2zm3-3zm63 38zm-9-2zm-59-16zm-1 1zm-1 16zm-1 3zm-6-6zm-14-17zm-8 5zm-19 18zm-9-2zm-5-9zm-1 3zm-3 7zm-10-8zm-3-13zm-8-1zm-5 9zm-1 6zm-16 11zm-8-19zm-6 16zm-2-2zm-2-7zm-8-5zm-1 0zm0 11zm-5-4zm-20 28zm2-5zm2-7zm1 4zm3-7zm1 16zm7-10zm10 8zm24-14zm79-1zm3 20zm5-9zm7 8zm6 3zm0-18zm4 16zm1-6zm5-4zm16-8zm9 20zm19-6zm2-7zm17 2zm5 9zm25-12zm31 41zm-1 4zm-50-5zm0-17zm-3 15zm-10-10zm-29 19zm-7-1zm0 1zm-20-22zm-19 12zm-7-17zm-3 14zm-8-14zm-6 8zm-4 5zm-19 24zm20 11zm2-2zm30-14zm13 22zm1-19zm4 15zm27-6zm18 3zm25 3zm18-12zm15 8zm20-14zm5 27zm-10 14zm-5-17zm-35 2zm-19 24zm-88-13zm-7-8zm-4-4zm-3 7zm-6-7zm-12 0zm-22 22zm-3-17zm-70-6zm86 54zm3-7zm29-11zm0-7zm20 17zm1-10zm6 0zm3 17zm11-19zm8-3zm23 10zm26-9zm11 18zm6-20zm26 17zm-3 36zm-4-21zm-30-6zm-2 25zm-2-12zm-11-4zm-1-9zm-5 7zm-1 1zm-51 4zm-12 12zm-4-14zm-1 0zm-1-1zm-3-8zm-17 7zm-7 5zm-4-4zm-13 3zm-13 36zm5 1zm14-18zm29 11zm17 0zm4 9zm11 2zm1-2zm9-1zm9 0zm0-4zm51-14zm12 10zm18-13zm4 10zm-13 18zm-19 14zm-14-15zm-14 25zm-23 0zm-21 1zm-7-26zm-16 23zm-12-2zm-13 4zm-5-14zm-2-9zm-11 1zm-56 11zm51 15zm28 2zm3-2zm61 4zm15 0z"/><path stroke="#1F3FA3" stroke-width="3.2" d="M542 1170zm0 3zm-106 26zm0-3zm6 4zm12-10zm7-13zm5 8zm6 5zm9 3zm13-13zm13 19zm4-1zm13-22zm3 8zm9 10zm3 9zm50-5zm43 32zm-40-17zm-22-7zm-12 21zm-4-12zm-6 4zm-4 11zm-10-7zm-5-11zm-52 9zm-29-6zm-12 11zm-11-22zm-2 19zm-8-1zm-10 7zm0 4zm94 19zm13 7zm9-22zm4 0zm23-4zm8 16zm57 7zm41-10zm4 12zm7-2zm16 28zm-14-12zm-7 13zm-26-18zm-46-6zm-14 19zm-11-20zm-10 14zm-29 12zm-15-18zm-66 47zm20-16zm16 1zm8 5zm2-3zm21-4zm16 7zm12-14zm0-1zm8 24zm29-11zm48 8zm3-17zm21-3zm24 20zm4 17zm-26-9zm-85 22zm-40-7zm-13-10zm-19 12zm-1-12zm7 24zm12 22zm19-18zm5 14zm2-22zm9 27zm62-5zm45 5zm15-17zm4-8zm-18 52zm-1-17zm-1 5zm-11-3zm-2 11zm-7-19zm-40 21zm-8-22zm-45 5zm-11 14zm-10-4zm-9-4zm-9-10zm0 38zm14 11zm9-13zm48-9zm19-1zm9 17zm5-8zm16 2zm14-3zm23 6zm-10 23zm-4-10zm-5 13zm-1 0zm-1 3zm-7-12zm-7 22zm-2 1zm-6-21zm-20-3zm-1-2zm-15 18zm-27 3zm-3-20zm-14 24zm-2-19zm-38 3zm-57 5zm-7-4zm81 26zm57 1zm42-10z"/><path stroke="#F6AA6A" stroke-width="3.2" d="M481 1275zm-10 8zm0-22zm-20 0zm-45 63zm56 64zm-16-8zm5 39zm4-1zm4 1zm-10 16zm-8-4z"/><path stroke="#1F3FA3" stroke-width="4.2" d="M551 1173zm-68 2zm-40 25zm2-4zm20-3zm35-12zm4 15zm10 6zm14-1zm5 0zm10-13zm29 6zm20 4zm-3 17zm-1-9zm-32 5zm-1 14zm-6 4zm-18-21zm-10 15zm-35-17zm-3 5zm-10-6zm-2 7zm-6 13zm-13-21zm-21 14zm-38 29zm6-5zm40-8zm56 7zm9 7zm12-5zm8-6zm60 36zm-12-6zm-26-6zm-7 12zm-6 14zm-19-2zm-8 2zm39 11zm43 24zm-67 14zm-31-5zm10 26zm23 13zm18-22zm20 20zm95-8zm37-16zm-31 35zm-30 10zm-11 2zm-54 6zm-25-19zm-56 35zm2-7zm12 13zm21 3zm7-12zm24-2zm7-2zm18 10zm38 5zm6 16zm-10 3zm-95-11zm6 28zm65 10z"/><path stroke="#BF3326" stroke-width="3.2" d="M473 1260zm-41 82zm-13-11zm-2-5zm-3 12zm-1-3zm-12 13zm8 13zm3-4zm5-2zm17 2zm2-3zm0 25zm-16 5zm9 21z"/><path stroke="#BF3326" stroke-width="4.2" d="M452 1259zm-26 72zm-24 13zm16 16zm4-14zm1 4zm7-4zm14 39zm-19-11zm-1 3zm-2 8zm0 30z"/><path stroke="#E97E4F" stroke-width="4.2" d="M442 1336zm-33-10zm49 36zm-8 22z"/><path stroke="#FDE3A3" stroke-width="4.2" d="M452 1250zm8-16zm0 14zm9 4zm6 1zm4-10zm-12 23zm-8 7zm0-10zm-19-2zm-13 14zm-1 2zm21 66zm-33-24zm40 32zm5-7zm0 78z"/><path stroke="#D85436" stroke-width="3.2" d="M463 1250zm1 14zm-18 3zm-16 62zm-11-4zm-8 40zm26-12zm21 9zm-35 54zm31-5z"/><path stroke="#74A6DF" stroke-width="3.2" d="M478 1180zm84 10zm58 24zm-35 4zm-46-5zm-10 12zm-11-9zm-34 2zm-16 9zm-11-2zm-37-12zm-8 10zm-9 19zm26-3zm32-5zm3-2zm26 16zm53 6zm91-4zm-142 17zm-50 15zm-10-21zm-9 20zm0 0zm-3-2zm-16-8zm-6 35zm0-17zm1 19zm4 7zm30-23zm12 0zm78-2zm10 15zm10 5zm36-3zm14 8zm21-25zm8 4zm57 32zm-70 10zm-142-9zm-2 4zm-34-12zm46 46zm28-18zm86 23zm64-23zm33 0zm-49 25zm-109 2zm-9 27zm28 18zm4 7zm50-15zm8-3zm10 10zm27-13zm14 8zm-28 23zm-58 1zm-47 8zm-35 3zm77 14zm25 8zm17-12z"/><path stroke="#F6AA6A" stroke-width="4.2" d="M477 1251zm-23 109zm-18 73z"/><path stroke="#FCF4C4" stroke-width="3.2" d="M475 1259zm10 10zm-23 13zm-2 3zm-17-17zm-8-7zm-35 17zm-2 26zm15 3zm47 112zm14-3zm-5 15z"/><path stroke="#3263BF" stroke-width="4.2" d="M456 1185zm28 0zm4 14zm12-5zm39-1zm16 9zm21-8zm42 26zm-11-7zm-5 1zm-13 0zm-109 0zm-2 3zm-32 3zm-12-7zm-7-4zm-12 22zm-8-7zm6 9zm84 7zm27 9zm33 5zm63 2zm1 10zm-7 9zm-43 7zm-4 3zm-4 2zm-25-17zm-16 6zm-1 5zm-4-19zm-13 9zm-87-9zm-8 18zm-3-16zm-15 13zm-3 3zm-2-4zm19 20zm24 17zm5-2zm26-5zm10 2zm40-13zm39-4zm16-1zm30 25zm2-20zm20-1zm25 25zm-13 6zm-17-1zm-23-5zm-21 19zm-3-16zm-1 5zm-22 1zm-51 15zm-9-4zm33 23zm18-6zm8 9zm26-19zm18 21zm1-5zm13 1zm7 1zm5-4zm12-15zm5 7zm30 19zm13-16zm7-7zm-35 43zm-36 4zm-9-16zm-71 17zm40 25zm2 6zm43-17zm35 18zm-101 13zm-29 6zm-34 0zm-2-16zm-13 7zm94 22z"/><path stroke="#CEE2EE" stroke-width="4.2" d="M582 1216zm-129 11zm27 10zm154 43zm-145-16zm-8 14zm-18 4zm-6 5zm-65 1zm26 27zm7-7zm107-1zm158 22zm-63 3zm-174-2zm-2-1zm23 40zm55 0zm-108 53zm112 8zm-5 15zm-20 10zm-42-24z"/><path stroke="#A5221F" stroke-width="3.2" d="M420 1341zm-9-7zm-4-3zm0-8zm0 18zm-3-11zm0 9zm1 5zm9 4zm4 12zm0 9zm0-10zm0 12zm12-1zm8-3zm11 27zm-1 5zm-15-14zm-7-12zm-1 37zm1-2zm7 10zm15-15zm5 2z"/><path stroke="#A0C7EB" stroke-width="3.2" d="M524 1192zm34-13zm-18 43zm-20-18zm-43 19zm-28-14zm-40 21zm-11 7zm59-4zm63 0zm28 26zm42-27zm29 15zm22 21zm-66-3zm-20 7zm-50-4zm-6-4zm-10 20zm-31 2zm-14-4zm-4-14zm-2-4zm-11 10zm-33 10zm-6-5zm19 15zm13 7zm37 3zm60-2zm36-10zm49 5zm89-1zm-54 46zm-191-11zm-5-3zm-10-6zm-1-5zm-36-1zm0 13zm-6-1zm102 33zm149-11zm32 17zm-6 20zm-37-2zm-105 12zm-42-8zm-13 33zm5-12zm6 6zm88 11zm35-27zm20 7zm-14 37zm-43 11zm-102-16zm93 25z"/><path stroke="#D85436" stroke-width="4.2" d="M419 1324zm21 21zm14 50zm-2-2zm-22 32zm22-14z"/><path stroke="#244DAF" stroke-width="3.2" d="M544 1174zm-44-3zm-83 29zm19 1zm10-12zm31 11zm6-2zm4-5zm1 5zm8-7zm4-14zm15 5zm11 19zm3-24zm2 26zm6-27zm3 10zm1-4zm4 8zm4 1zm0 1zm7 11zm1-1zm5-18zm10 18zm11 1zm1-19zm8 14zm36 26zm-7 4zm-1 1zm-30-15zm0 13zm-1-11zm-1 1zm-9 0zm-9-7zm-3 2zm-2 6zm-6-10zm-28 1zm-3 7zm-17 3zm-2 8zm0 1zm-6-16zm-10 12zm-1 6zm-4-16zm0 8zm-3-16zm-18 9zm0-3zm-1-5zm-7 2zm0 19zm-12-3zm-6 2zm-3-20zm-1 9zm-6 7zm-10 5zm-6-6zm-27 21zm13-6zm4 7zm12-4zm2 11zm24-16zm41-2zm14 22zm1-2zm2-2zm2-12zm1 4zm11 11zm12-12zm4 3zm1 5zm7-16zm7 11zm17-1zm26-10zm17 3zm3 2zm7 18zm10-17zm6 18zm6 0zm7-10zm6-4zm8 5zm19 36zm-5-8zm0 7zm-6-17zm-14-7zm-3 4zm-29 4zm-16 0zm-7-4zm-3 22zm0-8zm-7 3zm-10 3zm-1 3zm-13-6zm-2-14zm-11-6zm0 14zm-1-9zm-1-1zm-10 3zm-1-1zm-20 1zm-1 10zm-17 8zm0-8zm-9 7zm-107 9zm65 20zm8-8zm14-12zm8 20zm0-18zm1 16zm0-8zm22 7zm2 4zm12-4zm29 4zm22-18zm8-7zm3 0zm20 13zm10 2zm3 2zm29-7zm2 9zm5 0zm14 5zm4-12zm2-11zm1-1zm25 37zm-3-10zm-11 2zm-14 20zm-11-10zm-2 8zm-3 4zm-7 2zm-7-9zm-10-18zm-26 13zm-7-9zm-41 14zm-9 7zm-7-17zm-2 11zm-9-8zm-36-2zm-8-7zm-1 5zm-87-1zm-2 4zm97 41zm2-3zm0-6zm3-6zm8 8zm0-5zm15-9zm2 23zm11-16zm2-9zm12 14zm6 3zm1-10zm1 5zm6 13zm2-21zm6 1zm19-1zm18 11zm20-9zm24 18zm11 3zm2-7zm14-13zm4 2zm3 16zm8-25zm-12 40zm-1-3zm-21-1zm-5 14zm-7-18zm0 1zm-5-1zm-10 16zm-1-13zm-2 20zm-3-16zm-25-8zm-4 22zm-4-16zm-1-9zm-4 11zm-3-4zm-1 18zm-2-8zm-2 9zm-16-20zm-27-6zm-1 17zm-9-17zm-9 4zm-12 13zm-3-16zm-8 1zm23 47zm2-2zm4-12zm5 7zm11-2zm3-1zm4 8zm4-13zm0 3zm6-2zm6 1zm2 14zm6-19zm6 20zm28-18zm5 13zm2 0zm9 2zm5-4zm16-1zm7 11zm3-22zm2 7zm1-4zm6-3zm4 8zm-10 21zm-4 1zm-4 2zm0 8zm-11-14zm-13 17zm-1-8zm-2-4zm-7 3zm-11-2zm-10 5zm-3-6zm-3-6zm-1 6zm-1 16zm-2-13zm-1-7zm-11 20zm-18-1zm-10-1zm-2 4zm0-7zm-3 1zm-7 1zm0-20zm-18 25zm-13-3zm-21-5zm83 22zm13 4zm5-13zm16 3zm5-4zm-44 40z"/><path stroke="#A5221F" stroke-width="4.2" d="M430 1333zm-2 8zm-15-8zm-4 8zm-3-4zm-11-1zm8 16zm7 3zm1-2zm12 5zm10-6zm1 3zm7 28zm-17 2zm7 25zm6 14zm11-15z"/><path stroke="#FAC986" stroke-width="4.2" d="M460 1244zm8-5zm1 36zm-9 8zm-11-21zm7 71zm-16 2zm14 36zm1-10zm6-2zm4 9z"/><path stroke="#FDE3A3" stroke-width="3.2" d="M442 1255zm9-14zm6 9zm8-11zm8 15zm-15 12zm0 2zm-6-2zm-10 0zm6 102zm11-10zm7-3zm0-9zm3 52zm0-22zm0 0zm-4 5zm3 30zm4-5z"/><path stroke="#74A6DF" stroke-width="4.2" d="M504 1192zm56-7zm6-5zm39 36zm-111-6zm-36 17zm-53-4zm-11 31zm18 5zm96-19zm55 2zm47 5zm12 36zm-184 1zm-34-8zm-7 14zm8 9zm166 11zm26 4zm27-8zm-62 20zm-103-5zm-35-3zm62 27zm169 32zm-38-2zm-135 27zm14-1zm96 49zm-68-5zm-4 14zm82 1z"/><clipPath id="c2"><path d="M936 1176L963 1180L994 1177L1021 1184L1046 1196L1061 1212L1086 1227L1110 1251L1129 1273L1141 1297L1144 1322L1139 1346L1135 1371L1126 1396L1113 1420L1092 1442L1067 1457L1037 1463L1006 1463L982 1457L963 1451L939 1448L923 1433L914 1428L902 1436L887 1428L881 1414L885 1396L881 1374L869 1354L853 1334L846 1310L844 1285L848 1261L861 1236L880 1212L901 1194L920 1183Z"/></clipPath><g filter="url(#rs)"><g clip-path="url(#c2)" fill-rule="evenodd"><path fill="#1F3FA3" d="M933 1168L962 1173L994 1169L1023 1177L1049 1189L1065 1206L1091 1222L1117 1247L1136 1270L1149 1296L1152 1322L1147 1347L1143 1373L1134 1399L1120 1425L1098 1447L1072 1464L1040 1470L1007 1470L982 1464L962 1458L936 1454L920 1438L911 1433L898 1442L882 1433L876 1418L880 1399L876 1376L863 1355L847 1334L839 1309L836 1283L841 1257L855 1231L875 1206L897 1187L916 1175Z"/><path fill="#2956B7" d="M1150 1469l-312 0 0-299 149 0-7 11 0 2 4 2 8-4 4-11 36 0 7 23 5 5 4 2 3-6 0-17 4-5 4-2 27 15 4 1 13-5 7 1 27 12 4 7 1 11 3 3 5 1 0 94-5 2-9 2-19-7-18-1-7-2-3-3-6-19-15-15-1-11 19-13 3-4 1-9-4-14-16 0-15-3-5 2-2 8 12 18 2 9-2 4-8 3-20 0-22-5-6 3-2 6 1 4 5 5 72 31 37 24 19 8 14 11zM916 1208l4-3 2-4-2-7-14-1-10 4 8 8 7 3zM913 1363l13-9 14 0 2-5-9-5-9-10-11 0-9 8-3 9 3 9z"/><path fill="#4F85D2" d="M1150 1469l-312 0 0-299 32 0-3 18 2 13 9 9 22 6-4 14 1 6 5 7 9 4 8-2 5-4 2-9-4-13 20-19 6-2 5 1 15 15 5 1 20-4 15-14 5-1 2 5 0 8-14 10-5 15-8 7-4 6-1 12 4 11 8 10 18 12 1 4-4 9 7 8 9 1 7-11 6-5 16 1 11 6 15 16 20 6 31 15 6 5 7 11 5 3zM957 1177l-9 0-7-7 24 0zM1110 1284l-9-2-10-17 1-4 12-14 6-13 4-1 20 10 16-6 0 13-14 5zM934 1365l8-4 5-5 3-5-2-4-11-7-11-10-9-1-8 4-7 7-3 7 0 9 3 6 11 4z"/><path fill="#91BDE8" d="M1150 1469l-312 0 0-278 13 3 16 17 24 14 3 14 6 7 9 5 10 3-5 9-2 20 6 31-20 31-2 11 5 9 10 4 20 0 9-1 8-5 8-12 0-4-17-9-8-11-9-7-2-4 4-4 7-3 42-5 4 3 16 27 29 29 6 2 16 3 15 5 9-1 7-5 1-4-2-3-8-4-22-4-6-5-3-7 9-30 6-3 7 2 6 5 7 14 5 4 24 5 22 10 5 4 1 7 4 5 19 7zM957 1266l-11 0-20-14 5-16 1-11 3-3 9 0 20 23 2 7 0 7-3 4z"/><path fill="#D8E6E5" d="M1150 1469l-312 0 0-265 11 3 34 23 21 26 4 53-14 40 1 11 4 7 7 3 25 3 9 6 4 0 12-5 17-17 9-4 6 2 11 10 14 6 44 10 11 0 22-8 33 0 27 4zM968 1340l-11 2-13-4-6-6-1-9 7-5 9-2 11 0 9 3 5 6 2 7-3 4z"/><path fill="#FDE7AA" d="M1150 1469l-20 0 4-7 0-11-2-7-7-3-6 5-4 7 0 9 5 7-282 0 0-252 11 2 20 11 20 16 9 13 2 11 3 37-11 42 0 16 3 7 29 4 9 11 7 2 8-2 23-12 11-3 77 17 9-1 15-6 9-2 58 4zM953 1334l-5 0-3-2 0-5 1-2 9-3 7 3 0 2zM902 1429l9-7 4-6 0-7-6-5-7 0-4 2-9 14 0 4 3 5 6 1z"/><path fill="#F9BF7C" d="M840 1458l-2 1 0-56 13-5 3-5-16-23 0-121 3-13 6-4 24 10 18 15 5 13 4 37-9 27-5 48-13 14 4 11-7 15-1 20-17 5zM1092 1469l-202 0 0-2 1-5 20-10 10-10 11-20 3-17 4-5 25-13 18-4 15 1 22 7 18 2 12 9 19 7 4-2 5-11 9-7 15-2 16 4 3 2 1 7-3 20-8 16-9 12-7 4-4-2-9-19-4-3-5 2-5 8 1 9 15 14 11 8zM1150 1454l-1-16-5-16 1-4 5-2z"/><path fill="#EA8352" d="M867 1378l-12-1-6-5-11-30 0-22 4-7 2-1 11 4 18 2 4-4 2-9 0-13-6-8-9-1-15 7-5-2-2-5-2-9 2-11 7-11 6-3 18 5 11 9 3 9 1 17 3 16-2 10-5 6-4 2-2 4 5 20-2 18-6 9zM964 1430l-7 0-3-3-3-11 1-9 8-9 8-3 7 0 4 5-4 18-3 6zM1028 1456l-24-4-8-5-1-11 6-23 3-3 8 1 5 5 7 24 10 11zM986 1469l-22 0-23 0 7-8 14-3 15 3 9 6 2 2z"/><path fill="#CD452F" d="M869 1366l-5 0-4-3 0-6 4-3 7-1 2 3 0 5z"/><ellipse cx="895" cy="1246" rx="4.1" ry="13.3" fill="#fff"/><ellipse cx="916" cy="1277" rx="17.4" ry="2.2" fill="#fff"/><ellipse cx="940" cy="1334" rx="19.6" ry="2.2" fill="#fff" transform="rotate(-27 940 1334)"/><ellipse cx="989" cy="1284" rx="3.8" ry="3.8" fill="#fff"/></g></g><path stroke="#fff" stroke-width="4" d="M990 1174zm-82 27zm1-2zm0-2zm13-1zm1-3zm1 8zm6-18zm0-2zm2-2zm0 10zm3-9zm1 12zm1 3zm1 1zm0-10zm4 9zm0 2zm21-9zm1-10zm1 12zm1-11zm2 1zm7 8zm3-7zm2 2zm6 18zm1-3zm2-22zm0 3zm7 9zm1-2zm0 4zm2 0zm2 1zm1 2zm1 1zm2 1zm4-14zm9 4zm7 15zm0 2zm5-5zm2-2zm0-2zm3-6zm0 4zm1-2zm3 13zm2-2zm10 12zm-2 2zm-1 2zm0 2zm-10-14zm-14 0zm-1 16zm0-13zm-1 11zm-1-2zm-2-1zm-7-4zm-2 10zm-1-7zm-1 7zm-1-7zm-2-1zm0 8zm-2-10zm-7 8zm-1 3zm-2 8zm-1-1zm0-3zm-11-4zm-1-2zm-1-2zm-1-2zm-2 8zm-20-18zm-1-2zm-2 27zm-8-21zm-4 1zm0 16zm-2-17zm-1-2zm-23 1zm-2 2zm-1 2zm-4 12zm-7-2zm-1 7zm0-9zm-3 0zm-3 8zm0-20zm-2-2zm-1 23zm0-25zm-4 24zm-2 1zm-2 0zm-7-2zm0-6zm-1-6zm0 8zm-2 4zm0-3zm-1 1zm0-10zm-1 11zm-1 0zm-1 3zm-20 27zm2 2zm1-12zm0-2zm14-9zm2 0zm2-4zm4 19zm1-14zm2 0zm0 4zm1-2zm3 16zm0-23zm1 20zm1-1zm0 8zm2-10zm0 7zm4-1zm1-18zm9-4zm3 16zm1-2zm1-2zm1-5zm2 2zm0-3zm1 1zm1 4zm0-5zm2 6zm1-6zm2 5zm1-3zm0 5zm1-3zm6-10zm2 0zm10 19zm0-9zm1 2zm12-9zm3 0zm1-4zm1 5zm1 13zm2 1zm0 5zm1-20zm0 14zm0 3zm1-1zm0-3zm0 2zm2-14zm3-3zm2 1zm20 14zm1-2zm2 0zm9-1zm0-2zm2 3zm2 2zm1 2zm0 2zm5-4zm0-14zm2 13zm0-11zm1 1zm0 0zm1 9zm0-6zm2 5zm0-9zm9 8zm1-2zm1-2zm26 22zm0 2zm-2 2zm-48-6zm-2 0zm-2 0zm-6 6zm-2-1zm-2 0zm-2 1zm-21 20zm-3-1zm-14-20zm-2 21zm0-21zm-2 2zm-1 2zm-15 1zm-1 2zm-14 10zm-1-2zm-1-3zm0-18zm-2 1zm-6 17zm-1 2zm-1 0zm0-4zm-1 6zm-1-5zm-2 1zm-2 2zm0 5zm-3-18zm-1 2zm0 7zm0-2zm-2 4zm-2 1zm0-18zm-2 20zm-1-19zm-1 20zm-1-22zm-2 0zm-2 2zm-6-1zm0 22zm-2-15zm0-7zm-2 1zm-4 21zm0-2zm-2 3zm-1-7zm0 9zm-1 1zm-2-10zm-10-14zm-1-1zm0 3zm-2-4zm3 48zm2 2zm1 2zm1 2zm7-4zm8-21zm5 23zm9-10zm2 0zm3 0zm0 2zm1 9zm1-11zm3-8zm2 1zm7-4zm0-2zm1 13zm1-9zm1 7zm0-5zm2 4zm7-4zm3 8zm0-2zm1 11zm0-20zm1 22zm1-24zm2 10zm0-10zm1 2zm1 2zm1-2zm0 17zm0-9zm2-9zm0 17zm1-6zm1 5zm2-16zm1 11zm1-12zm1 10zm0-2zm0 9zm0-4zm1-14zm6-1zm3 0zm0 1zm1 2zm1-4zm0 6zm16-3zm2-1zm1-1zm1 0zm0 4zm0-2zm77 4zm-15 36zm-2 1zm-2 2zm-14 2zm-84-14zm0-2zm-1 6zm-13-3zm-2 0zm0 16zm-2 1zm-1-18zm0 20zm-1-19zm-2 6zm0-3zm-2 2zm-2-1zm-10-11zm-4 0zm-1 22zm0-21zm-2 20zm0-18zm0 1zm-1 3zm0-2zm0 0zm-18 9zm-1 8zm-1 2zm-5-9zm-1-11zm-1 10zm-1-11zm-1-3zm17 38zm2-3zm0 2zm4-2zm13 2zm1-2zm0 3zm1 2zm0 2zm0-7zm114 42zm-1-2zm-1 4zm-42 7zm1-2zm6 26zm0 2zm-23 19z"/><path stroke="#A0C7EB" stroke-width="3.2" d="M942 1203zm3-27zm35 21zm24-2zm12-9zm-12 24zm-15 8zm-11-6zm-29-6zm-9 4zm-48 16zm-12-14zm22 38zm7 5zm1-9zm0 10zm10-5zm6 1zm1-18zm1 11zm3-12zm0 13zm1-11zm4 4zm4 4zm0 3zm2-6zm2 1zm11 12zm2-20zm85 14zm16 40zm-72-11zm-56-16zm-25 3zm-1 44zm1-19zm0 1zm3 3zm3 2zm5 11zm23-4zm0-11zm9 13zm5 11zm9-18zm11 3zm16-8zm10-1zm6 13zm37 9zm53 14zm-35 6zm-7-8zm-7 12zm-3 3zm-9-12zm-55 4zm-80-6zm-2 39zm59 1zm9-7zm23 0zm5-2zm28 15zm1-22zm5 13zm3 9zm7-3zm10-18zm8 2zm5 10zm33 5zm13 3zm8-19zm4 6zm5 1zm4 6zm3-6zm2-4zm6 16zm1 7zm-19-4zm-52 12zm-19-11zm-9 4zm-1 0zm-24-6zm-103 44z"/><path stroke="#F6AA6A" stroke-width="3.2" d="M846 1259zm7-7zm29-1zm7 15zm-2 12zm-12-16zm-8 25zm-5-11zm-6-14zm-13 28zm0 10zm5 15zm5-20zm1-6zm2-1zm0 16zm8-15zm3 15zm11-15zm6 3zm1 17zm4-20zm6 6zm-12 32zm-13 12zm-22-14zm18 20zm0 11zm9 15zm3-24zm3 16zm4-13zm235 45zm-6 1zm-4-11zm-18 13zm-78 1zm-9-7zm-6-4zm-6 0zm-20 11zm-2-13zm-1 13zm-19 0zm-2-1zm-47-10zm-9 6zm-4-16zm-3 13zm63 28zm0-5zm30 3zm3-14zm7 7zm25 12zm3-5zm2-9zm0 10zm7 5zm1-10zm0-1zm1 2zm8-4zm10 4zm13-2zm12 3zm13-12zm6 23zm12-2zm17-5zm-17 20zm-20-7zm-26-4zm-9 15zm-36-3zm-7 1zm-28-3zm-1 2zm-9 4zm-15 1zm-5-8zm-3 17zm-6-11zm20 15zm12-2zm22 6zm6 2zm15 2zm17-3zm5-6zm18 10zm6-2zm2-6z"/><path stroke="#D85436" stroke-width="3.2" d="M871 1259zm4-12zm35 26zm-26 2zm-9-4zm-8 14zm-27 14zm14 11zm16-22zm14 4zm2 24zm-6 13zm-5 8zm-13-11zm-10 15zm8 3zm6 4zm201 48zm-157-17zm0-6zm-5 13zm-15 19zm64 8zm44-1zm19-9zm26 18zm15-19zm19 19zm21 22zm-101 4zm-36 4zm-14 0zm-41-22zm155 32z"/><path stroke="#FCF4C4" stroke-width="4.2" d="M888 1248zm54-4zm-38 24zm-3 5zm5 28zm63 36zm-3-18zm-6 13zm-11-7zm-51-5zm-1 5zm-10 36zm64 3zm175 13zm-16 8zm-35 0zm-9 0zm-23-2zm-54-9zm-32 2zm0 5zm-8 2zm-20-4zm0 2zm-4-6zm-18 0zm-6 16zm-9-17zm-2 41zm7 8zm8-5zm4 1zm6-7zm0 12zm6-8zm0 8zm155-15zm50 7zm-57 25zm-158-9zm-11 7zm163 26z"/><path stroke="#BF3326" stroke-width="4.2" d="M852 1243zm27 16zm7-2zm-3 25zm-12-20zm-21 2zm30 28zm24-1zm-20 36zm-4 16zm-6 8zm197 45zm-144-2zm-24-5zm32 32zm150-7zm7 35zm-4-9zm-18 0zm-35 13zm-12-25zm-13 15zm-3 2zm-55-1zm-14 1z"/><path stroke="#1F3FA3" stroke-width="3.2" d="M996 1173zm-1 0zm-72 0zm-19 28zm7-10zm7 11zm7-10zm2 2zm2-3zm1 5zm1-11zm4 16zm8-9zm51-12zm24-1zm10 13zm12 9zm5-3zm4-2zm3 1zm27 27zm-4-5zm-17 6zm-13-4zm-7 3zm-7-11zm-23 7zm-29-14zm-59 19zm-5-12zm0-9zm-9 20zm91 18zm6 15zm0-11zm15 9zm1-12zm0 16zm19-4zm2 3zm20-3zm2-21zm10 5zm0 15zm6-10zm15-5zm-16 35zm-10 2zm-2 3zm-5-14zm-5 12zm-1-1zm-5 2zm-2 4zm-1-4zm-34-11zm-3-7zm37 31zm25-1zm6 10zm20 9zm5 3zm10-13zm9 16zm5-13zm25-3zm-4 30zm-1-5zm-2-2zm-1 20zm-2-3zm0-10zm-1 14zm-12-7zm-10-7zm-196 3zm-2 2zm0 6zm-2-7zm-2 7zm-12 1zm-1 2zm0 9zm1 0zm5-7zm19 7zm8 2zm3-4zm0 1z"/><path stroke="#F6AA6A" stroke-width="4.2" d="M862 1257zm12-7zm15 10zm-5 22zm-24 4zm-12-22zm-1 4zm-6 34zm12-6zm8 1zm22-8zm2 12zm6-9zm-12 46zm-13-19zm-8 1zm-10 0zm13 30zm16-3zm8 7zm216 43zm-212-15zm58 44zm4-2zm5-16zm6 8zm1-4zm12 0zm1 14zm21 1zm1 0zm17-17zm7 3zm5 1zm18 2zm63-5zm0-2zm-82 25zm-34 1zm-9-4zm-1 13zm-7-11zm0 22zm-8-2zm-10-4zm-2-19zm20 32zm72-2zm11-3zm3 4zm5 4z"/><path stroke="#FAC986" stroke-width="4.2" d="M860 1235zm3 6zm1-9zm12 11zm0 5zm11 9zm12 16zm-13-11zm-2 16zm-8 5zm-39 14zm2-1zm3-2zm2 7zm0-3zm5 16zm6 0zm2-22zm2 7zm3 5zm25-14zm7 14zm-26 12zm10 53zm5-19zm2-4zm248 43zm-32-5zm-2 6zm0-4zm-22 0zm-9 1zm-29 9zm-14-7zm-25 1zm-16-9zm-21 9zm-1-1zm-65 3zm-19 8zm90 24zm1 3zm13-23zm18 0zm0 11zm3-13zm9 2zm22 12zm21 4zm10-4zm17 0zm7 22zm-4-1zm-4 8zm-21 4zm-18 1zm-20-11zm-4 16zm-28-20zm-17 15zm-6-5zm-11 10zm-8-14zm-5-9zm-13 6zm-4-2zm51 29zm17-9zm11 17zm10-9zm26-3z"/><path stroke="#FDE3A3" stroke-width="4.2" d="M852 1241zm17-8zm29 16zm5 32zm-63 13zm59 1zm0 16zm231 83zm-6 2zm-37-2zm-17-7zm-42 12zm-31-24zm-10 4zm-10-4zm-6 15zm-6-7zm-2 4zm-11 4zm-64-13zm-5 32zm2-1zm104 9zm50-2zm51-4zm31-8zm3 9zm7-10zm-49 28zm-1 22zm-19-21zm-11 18zm-132-18zm-28 3zm124 21zm56 4z"/><path stroke="#FCF4C4" stroke-width="3.2" d="M873 1238zm29 33zm-1 9zm-2 32zm2-8zm71 25zm-5-3zm-11 5zm-51-14zm-12 12zm0 12zm85 27zm7-4zm81-12zm67 35zm-10-9zm-44 17zm0-12zm-7 8zm-23-9zm-3 0zm-14 15zm-2-14zm-21 0zm-3 6zm-2-3zm-28-11zm0-1zm-22 15zm-8 9zm-6-12zm-6 2zm-15-14zm-6 1zm0 12zm-9-9zm-8-6zm-10 20zm-7-12zm15 22zm12 7zm0 12zm16-9zm114 15zm83-1zm-178 11zm-43-3z"/><path stroke="#3263BF" stroke-width="3.2" d="M1008 1175zm-20 0zm-9-1zm-34-2zm-43 26zm8-18zm3 21zm2-4zm14-1zm2-5zm1 8zm1-19zm0 23zm7-14zm18-6zm3 2zm5-4zm0 10zm5 9zm10-24zm20 9zm1-9zm2 10zm6-1zm1 3zm11 2zm3-8zm4 21zm10-6zm7-4zm1 1zm3 14zm-5 1zm-6 10zm-9 4zm0-12zm-5 14zm0-13zm-10 19zm-4-18zm-2-1zm-2-5zm0 21zm-11-16zm-3-6zm-4 9zm-2 7zm0-18zm-27 1zm-6 25zm-18-11zm-5-10zm-8 10zm-9 7zm-2 5zm-14-26zm-2-1zm-1 0zm-7 5zm-10 5zm24 29zm6 4zm0-12zm2 3zm7-6zm14 24zm38-10zm13-4zm5-10zm65 1zm20 15zm16 3zm4-10zm8 2zm1 15zm3-12zm1-6zm28 43zm0-11zm-7 3zm-9 1zm-3 2zm-4-15zm-13 1zm-2 13zm-1-14zm-5 19zm-4 3zm-5-10zm-5 5zm-18-17zm-11 22zm-13-24zm-12 20zm-4-18zm-14 12zm-13-12zm-5 4zm0 7zm-12-11zm-5 7zm-11 11zm-6-9zm-2 1zm-12 12zm-4-3zm-2-11zm0-9zm-2 4zm-4 8zm-3 21zm14 2zm1-9zm27 15zm16-13zm12 17zm12 5zm55-22zm12 21zm23-23zm1 27zm16-19zm5-5zm0 19zm27-20zm4 48zm-6 5zm0-27zm-4 11zm-14 12zm-7-15zm-5 6zm-4-1zm-15-3zm-12-1zm-52 3zm-4-12zm-6 5zm-24 5zm-67 15zm-10-14zm-2 2zm-4 12zm-8 1zm26 3zm0 10zm9-1zm4-5zm6 12zm80-12zm40 6zm70-1zm4 6z"/><path stroke="#74A6DF" stroke-width="4.2" d="M888 1199zm39-18zm20 14zm3-10zm11 2zm37-4zm8 19zm4-14zm51 33zm-32-13zm-45 6zm-16 13zm-9-12zm-1 5zm-6 11zm-4-15zm-3-4zm-14 17zm-3 1zm-1-19zm-40 10zm-16-3zm6 18zm13-4zm28 23zm8 3zm15-14zm8-10zm10 9zm4 2zm8-1zm10 1zm2-8zm9 6zm38-9zm54 3zm25 20zm1-9zm9 16zm-5 0zm-60 4zm-5 2zm-43 14zm-22-12zm-4-11zm-20 26zm-11-16zm-16 12zm-3-1zm-1-19zm-26 3zm6 47zm1-9zm5 7zm7-5zm1-1zm11-1zm2-5zm1 10zm11-15zm10 4zm30 11zm20 2zm30 1zm7-10zm9-2zm13 1zm81 13zm-21 28zm-17 1zm-9-7zm-22 5zm-23-7zm-3-6zm-5-8zm-6 0zm-1 11zm-1-9zm-10 10zm-44-13zm-11 24zm-43-21zm-29 12zm22 37zm20-2zm13-23zm6 16zm12-16zm6 1zm33 21zm0-10zm1 2zm11-14zm34 24zm3-4zm10 3zm1-17zm2 13zm41 2zm9-6zm5 10zm2-18zm2 25z"/><path stroke="#FAC986" stroke-width="3.2" d="M860 1241zm4-1zm17 13zm2 3zm14 13zm-2 15zm-1-18zm-11 5zm-45 24zm13 17zm3-12zm13-7zm11-2zm8 16zm5 7zm7-10zm-9 18zm-2 9zm-2 11zm-4-11zm-4-7zm6 31zm9-1zm236 39zm-8 5zm-23-6zm-1-17zm-9 13zm0 0zm-2 3zm-52 2zm-68 2zm-48-12zm-34 14zm6 13zm34 12zm2-7zm3 9zm1-8zm5 1zm18-5zm35 1zm14 3zm12-3zm12 9zm18 1zm6-19zm12 0zm3 7zm12 11zm8-5zm3 9zm14 7zm-3 7zm-1-12zm-1 2zm-4 22zm-12 3zm-2 0zm-18-22zm-7-5zm-9 26zm-1-16zm-14-6zm-9-1zm-3 20zm-14 4zm-7-4zm-18-8zm-2 6zm-7 1zm-7-11zm-3 9zm-5-8zm0 14zm-16-7zm-7-16zm62 31zm36 6zm4 0zm26-8z"/><path stroke="#A5221F" stroke-width="4.2" d="M859 1255zm15-4zm-25 59zm44 18zm198 64zm-44-5zm-169 15zm193 13zm45 13zm-63 27zm-43-12zm-110-15z"/><path stroke="#E97E4F" stroke-width="4.2" d="M891 1277zm-3-3zm-4 9zm-6-7zm-5-15zm-3 4zm-3 5zm-7 7zm0-6zm-21 15zm17 23zm21 4zm4-1zm1-1zm-23 22zm-3-5zm-1 9zm-5-7zm-3-9zm15 23zm14 6zm1 1zm7-6zm113 45zm-31 37zm2-3zm13-2zm16-16zm6 1zm27 4zm65-11zm-82 55zm-19-12zm-7 6zm-17-3zm7 14zm46 4zm48-6z"/><path stroke="#BF3326" stroke-width="3.2" d="M850 1253zm9-19zm24 36zm-13-8zm-2 10zm-1-2zm-2-2zm-1 1zm-2 9zm-13-1zm12 26zm21 8zm75 30zm-2-21zm-70 21zm-3-1zm-26-12zm-11 3zm21 17zm8 5zm1-5zm8 3zm172 45zm-3-10zm-36 11zm-86-4zm-14-19zm-32 24zm-5-20zm93 45zm11-14zm29-1zm19 12zm82-2zm-51 29zm-39-5zm-4-11zm-13 13zm-37 11zm81 11z"/><path stroke="#CEE2EE" stroke-width="3.2" d="M930 1225zm-40 6zm-21-10zm-1-1zm14 17zm38 8zm38 6zm-55 15zm-4 13zm0-15zm37 42zm2-8zm9 5zm2 0zm1 11zm170 27zm-60-7zm-11 8zm-66-16zm-20-7zm-4 0zm-9 18zm-5-13zm-14 5zm-22-7zm-2-3zm-3 3zm-8 43zm74 1zm1-14zm8 17zm17 0zm46-20zm33-5zm21 24zm6-3zm9 3zm27 3zm5 0zm-15 16zm-7-12zm-23-1zm-1 4zm-8-6zm-7 5zm-23 13zm-25 8zm0-22zm-70 0zm-20 1zm-12 8zm-10-7zm-1-3zm-39 40zm10-2zm12 14zm1-26zm8 12zm210-3zm-227 23zm-12 1z"/><path stroke="#D85436" stroke-width="4.2" d="M847 1259zm17-12zm12 3zm1 4zm10 30zm-18-18zm-15 2zm-7-1zm3 48zm23-18zm77 33zm-62-8zm-36 21zm-3-27zm21 35zm37 41zm-16 11zm69 0zm55 23zm51 15zm-26 4zm-46-17zm-9 12zm9 20zm10 11zm28-15z"/><path stroke="#1F3FA3" stroke-width="4.2" d="M939 1172zm-18 2zm-34 29zm14-10zm4-6zm3-5zm1 3zm11 14zm1 0zm0-1zm8-9zm4-3zm42 6zm8 0zm17-14zm0 7zm2 13zm34 0zm7-1zm30 21zm-19 13zm-3-22zm-39 10zm-4 11zm-106-22zm97 25zm5 22zm3-9zm15 9zm1-5zm7-17zm32 1zm2 22zm9-24zm4 2zm2 4zm5-3zm12-2zm-21 34zm-12 0zm-10 17zm-20-4zm-8 6zm-2-18zm-13-3zm-3 7zm-16-9zm6 29zm19-3zm9 13zm56-8zm9 17zm5-13zm12 17zm8-1zm22-8zm6 16zm-3 7zm-55-11zm-184 35zm2 0zm25 10zm6-7zm210-5z"/><path stroke="#244DAF" stroke-width="3.2" d="M886 1196zm20-3zm2 10zm6-5zm1-2zm6-12zm2 9zm3 5zm4-16zm3 12zm1-8zm1-5zm1-1zm0 7zm6 0zm17 15zm7 0zm2-20zm4 17zm8 0zm1-6zm9-13zm13 14zm27-4zm65 39zm-44-18zm0-4zm-9 13zm-5 0zm-1 11zm-23-1zm-17-18zm-15-4zm-14 21zm-5-7zm-44-14zm0 9zm-6 3zm-9 4zm-21-17zm21 33zm20-4zm45 23zm21-3zm3-11zm1 10zm4-7zm1 6zm3-2zm4 2zm2-4zm2-7zm5 14zm2-3zm4-20zm1 21zm5-9zm11 11zm1-12zm11 5zm26 7zm5-14zm14 14zm3-9zm1-16zm2 20zm36 31zm-7-11zm-4 3zm-27 12zm-12-13zm-5-10zm-11 9zm-3-1zm-16 3zm-1-7zm-20 18zm-2-21zm-1 7zm-39 8zm-20 0zm-37 2zm6 12zm74-4zm15 0zm9 1zm9-3zm5 6zm4-4zm19 6zm0 11zm7-14zm3-3zm1 21zm1-22zm4 9zm6 9zm5-19zm1 15zm26 3zm9 14zm-3 19zm-18-4zm-6-14zm-1 10zm0-7zm-8-1zm-75-7zm-111 33z"/><path stroke="#74A6DF" stroke-width="3.2" d="M959 1175zm-10 18zm39 8zm3-13zm9-1zm3 7zm9-13zm14 15zm14 7zm22 7zm-8-5zm-7 11zm-13-4zm-7 6zm-16-1zm-2 14zm-2-20zm-8 14zm-2-5zm-14 5zm-21-2zm-3-6zm-1-10zm-6 0zm-1 8zm-4 2zm-2 4zm-12-3zm-4-5zm-1 12zm-20-8zm-1 2zm-3 15zm7 11zm3 4zm8 5zm5-11zm3-8zm1 21zm1-5zm3 8zm2-12zm2 9zm1-16zm1 13zm0-3zm1 0zm11-12zm1 8zm4 0zm1 9zm2-18zm1 5zm10 11zm1 0zm1 5zm3-11zm7 9zm2-1zm16-16zm55-2zm23 33zm-51 9zm-5-13zm-51-6zm-5 0zm-8 19zm-7-10zm0 14zm-2-9zm-2-3zm-3 10zm-4-5zm-10-4zm-2-9zm-5 19zm0 4zm-6-16zm-3 10zm-4-17zm-9 13zm5 30zm0 7zm8-19zm2 7zm8-3zm12 6zm2 1zm7 2zm3-10zm2 2zm21 9zm7-8zm2 13zm3-20zm5-2zm0 6zm6 18zm24-26zm28 16zm21 2zm33-13zm33 10zm16-5zm-15 31zm-32-10zm-18 14zm0-1zm-2 3zm-2-6zm-13-8zm-4 19zm-13-2zm-5 0zm-6-23zm-2 26zm-1-21zm-4 17zm-2-13zm-7 14zm-25-15zm-2-8zm-3 27zm0-7zm-63-5zm-9-11zm-2 2zm0 10zm-5-10zm-7 8zm-3 39zm29 1zm28-14zm9-6zm13 0zm4-2zm17 8zm12 6zm5-12zm4 19zm3 1zm2-22zm6-3zm2 13zm5 7zm0-9zm1 11zm2-7zm8-15zm2 12zm5-5zm6 7zm6 8zm14-13zm4 1zm6 8zm8-15zm3 3zm13 15zm15 6zm-90 2zm-14 1z"/><path stroke="#244DAF" stroke-width="4.2" d="M993 1172zm-91 22zm10 9zm4-3zm9-12zm31 2zm2-4zm5 1zm5-2zm2-6zm5 14zm10-5zm1 10zm3-1zm6-18zm9 3zm0-6zm5 26zm24-18zm8 10zm0-6zm35 37zm-19-21zm-1 11zm-9-8zm-4 13zm-1 9zm-3-18zm-2-4zm-5 10zm-6-10zm-26 9zm-2-5zm-21 1zm-52-8zm-8 18zm-10 5zm-16-19zm92 42zm13 0zm30-10zm12 12zm1-1zm1 1zm0-19zm2 13zm7-2zm85 30zm-52 11zm-5 1zm0-25zm0 25zm-11-23zm-4 5zm-9 19zm-5-19zm-31-5zm-15 12zm-56 9zm-4 0zm-5 13zm90 12zm2-7zm53-2zm3 5zm37-5zm21-8zm2 48zm-1-5zm-19-4zm-206 0zm0 0zm-5 9zm-9-3zm-4 8zm28 8zm20-6zm196 0z"/><path stroke="#FDE3A3" stroke-width="3.2" d="M856 1242zm25 10zm2-7zm14 12zm1 20zm-4-5zm-1 6zm-28 30zm5-10zm22 0zm9 9zm0-6zm51 34zm-67 1zm0-15zm-6 3zm249 64zm-3-1zm-4 9zm-37-8zm-31 4zm-1 3zm-6-7zm-10 4zm-1-5zm-2 11zm0-9zm-26-5zm0 3zm-19-7zm-34 10zm-24 3zm-3-1zm-31 5zm-2-12zm-6 13zm-5-8zm-2-10zm-1 7zm0 4zm1 18zm4 8zm3-3zm2-9zm5 4zm7 9zm4 9zm2-25zm11-1zm9 14zm1-14zm52 19zm42-18zm7-1zm10 7zm1 17zm20-18zm7 8zm7-7zm25 13zm6-5zm15-6zm1 3zm0 0zm6-4zm-26 33zm-8-1zm-18 12zm0-24zm-11 4zm-31 4zm-3 2zm-149-8zm100 28zm5 2zm35 3zm-14 33z"/><path stroke="#4A81D0" stroke-width="3.2" d="M908 1193zm6-8zm24-8zm1-1zm1 10zm16 0zm3 5zm5 5zm2 5zm31-10zm16 12zm4-10zm4-12zm72 42zm-2 2zm-55 3zm-6-14zm-6-10zm0 25zm-7-11zm-15 7zm-4-8zm-3 12zm0-17zm-2 1zm-1-1zm-1-4zm-3 11zm-8 2zm-1-2zm-16 5zm0-15zm-32 3zm-2 6zm-14 12zm-36-11zm0-11zm43 28zm2 14zm0-11zm7 1zm7 16zm1-8zm1 7zm2 4zm4-27zm7 6zm2-4zm10 16zm4-9zm4-6zm5-3zm3 4zm9-4zm1 23zm3-16zm1 7zm18 13zm61-7zm13 1zm17-12zm6 18zm0-1zm11 17zm-4-12zm-53 4zm-21 15zm-18 0zm-31-11zm-12-3zm-4 0zm-3-8zm-5 1zm-4 23zm-6 0zm-3-11zm-4-10zm-1 18zm-4 6zm-3-4zm-9-21zm-3 13zm-2 8zm-10 2zm-4-6zm-2-9zm1 41zm7 4zm4 0zm6-16zm3-6zm2 13zm2-14zm0-4zm7 11zm2-8zm2-3zm7 9zm6-4zm0 3zm16 3zm3-9zm11 2zm3 20zm3 2zm12-15zm4-4zm1 14zm20-16zm12 16zm31-16zm10 6zm16-1zm15-8zm10 37zm-19 8zm-40-7zm-2-9zm-9 6zm-20-5zm-6 10zm-11 5zm-13-5zm-1-2zm-2-9zm-6-3zm-9 27zm-62-18zm6 31zm1 9zm5-20zm4 16zm1-3zm2-1zm1-11zm21 2zm33-2zm2 8zm4 11zm2-8zm17-13zm19 2zm15 10zm10 12zm8 3zm10-12zm11 2zm22-5zm10 8zm4 0zm3-8z"/><path stroke="#A5221F" stroke-width="3.2" d="M865 1255zm6-3zm-3 35zm-14 22zm14 7zm134 69zm-25 5zm-34 5zm-52 16zm164 3zm35-8zm22 7zm-3 17zm-131 14zm-6-14zm-17 3zm-20 20zm42 8z"/><path stroke="#4A81D0" stroke-width="4.2" d="M918 1203zm26-22zm9-5zm4 24zm0-13zm8 15zm2-10zm6 7zm11-8zm11 3zm5 0zm14-14zm40 21zm20 15zm-43-11zm-4 11zm-3-3zm-7-8zm-13 6zm-7-4zm-3 20zm-20-10zm0 13zm-13-14zm-8-11zm-10 20zm-10-5zm0 7zm-6-3zm-25-9zm-6 12zm-3-10zm-11 5zm37 20zm9-6zm10 6zm20 1zm14-8zm21-1zm8 15zm37 3zm2-19zm44 24zm18-5zm32 20zm-13-2zm-6 12zm-6-4zm-58-6zm-29 14zm-12-1zm-8-10zm-16-8zm-6 0zm0-6zm-11-1zm-4 19zm-11 7zm-28-6zm-1-11zm-17 0zm2 27zm12-4zm2-3zm4 22zm12-22zm11 3zm2 5zm23-4zm0 17zm10-19zm2 18zm27 1zm1-2zm1-13zm12-4zm17 5zm3 10zm14-13zm46 42zm-20-6zm-12-1zm-58 14zm0-6zm-2 0zm-13-11zm-4-6zm-70 7zm-13 1zm-4 40zm39-19zm2 4zm64 2zm4-1zm43-7zm6 13zm17-1zm22 5z"/><path stroke="#3263BF" stroke-width="4.2" d="M906 1184zm7-1zm3 11zm2-6zm11 13zm3-7zm7-17zm15 19zm12-11zm2-9zm2 23zm1-16zm9-1zm0 17zm18 1zm18-8zm7 3zm51 23zm-14-7zm-3 16zm-19 0zm-7 2zm-5-4zm-2-7zm-1-2zm-7 14zm-26-15zm-5 3zm-5-8zm-1-2zm-11 2zm-37-3zm-3 2zm-4 22zm0 0zm-18-3zm-7-13zm12 38zm5-19zm8-2zm54 18zm5 2zm9-16zm4 12zm50-16zm52 0zm9 20zm20 6zm2 18zm-16 8zm-26-14zm-3-2zm-6 6zm-25-14zm-27 20zm-4-4zm-43-9zm-12 20zm-17-5zm-8-5zm-23 33zm1-12zm5-5zm14-5zm0 15zm14-15zm47 6zm10 12zm4 6zm7-10zm2 5zm11-9zm4 6zm7-9zm13 1zm6 15zm19-23zm0 18zm28-7zm32 43zm-19-3zm-48-20zm0 14zm-19-17zm-37 10zm-1 11zm-116 0zm-4 18zm12-2zm17 13zm2-8zm4 6zm16-14zm56 5zm133 3z"/><path stroke="#A0C7EB" stroke-width="4.2" d="M970 1200zm71 29zm-37-13zm-23 10zm-18-13zm-83 30zm32-8zm22 2zm4 13zm0-3zm0-4zm3 9zm47-15zm47 5zm60-6zm-125 47zm-21-22zm-14 7zm-28 37zm6-7zm61 0zm12 6zm62 6zm17 2zm20-2zm-10 33zm0-1zm-12-15zm-1 11zm-119-17zm-9 7zm-9-2zm-11-8zm-8 3zm-6 17zm-3 5zm66 5zm0 17zm1-10zm16-5zm38 2zm1 7zm45-5zm5-5zm22 1zm5 0zm2 12zm11 2zm16-5zm4 11zm-76 4zm-1 4z"/><path stroke="#E97E4F" stroke-width="3.2" d="M861 1259zm21 18zm-16-14zm-24 13zm0 16zm1-3zm2 19zm7-6zm2 9zm24-21zm12 22zm-22 6zm-1 19zm-3-6zm-2-8zm-2 3zm-9 0zm-4-8zm16 32zm3 0zm10 16zm6 4zm1-10zm116 35zm-33 3zm-38-5zm29 18zm15 6zm45-1zm1-8zm81 1zm-133 49zm54 10z"/><path stroke="#CEE2EE" stroke-width="4.2" d="M874 1223zm-5 5zm6 8zm8 2zm28 21zm45-4zm158 19zm-206-13zm-6 8zm3 32zm26 3zm15-14zm171 3zm-25 31zm-24 15zm-12 1zm-54-8zm-48-8zm-46 4zm-7-6zm-3 19zm-6 9zm8 21zm17 0zm47-10zm6-16zm1 23zm4-2zm103 3zm32-19zm15 20zm14 6zm-31-4zm-65 15zm-9-10zm-19-2zm0 0zm-9-1zm-47 0zm-10 7zm-14 39zm-37 12zm-8 0z"/><clipPath id="c3"><path d="M1394 1176L1421 1180L1452 1177L1480 1184L1504 1196L1520 1212L1544 1227L1569 1251L1587 1273L1599 1297L1602 1322L1597 1346L1593 1371L1585 1396L1572 1420L1550 1442L1526 1457L1495 1463L1464 1463L1440 1457L1421 1451L1397 1448L1382 1433L1372 1428L1361 1436L1345 1428L1339 1414L1343 1396L1339 1374L1327 1354L1312 1334L1304 1310L1302 1285L1306 1261L1320 1236L1338 1212L1359 1194L1378 1183Z"/></clipPath><g filter="url(#rs)"><g clip-path="url(#c3)" fill-rule="evenodd"><path fill="#1F3FA3" d="M1391 1168L1420 1173L1453 1169L1482 1177L1507 1189L1524 1206L1549 1222L1575 1247L1595 1270L1607 1296L1610 1322L1606 1347L1601 1373L1592 1399L1578 1425L1556 1447L1530 1464L1498 1470L1466 1470L1440 1464L1420 1458L1395 1454L1379 1438L1369 1433L1357 1442L1340 1433L1334 1418L1338 1399L1334 1376L1321 1355L1305 1334L1297 1309L1295 1283L1299 1257L1313 1231L1333 1206L1355 1187L1375 1175Z"/><ellipse cx="1353" cy="1246" rx="4.1" ry="13.3" fill="#fff"/><ellipse cx="1374" cy="1277" rx="17.4" ry="2.2" fill="#fff"/><ellipse cx="1399" cy="1334" rx="19.6" ry="2.2" fill="#fff" transform="rotate(-27 1399 1334)"/><ellipse cx="1447" cy="1284" rx="3.8" ry="3.8" fill="#fff"/></g></g><path stroke="#fff" stroke-width="4" d="M1355 1194zm2 1zm2 2zm9 5zm1-17zm1 15zm1-2zm1-2zm15 7zm6 0zm26-22zm2 0zm3 1zm6 17zm43 3zm1-5zm0 2zm15 0zm2-1zm16 18zm0 2zm-1-3zm0-2zm-1 2zm0 1zm0-6zm-1 4zm-2 0zm0-2zm-2-4zm-2-1zm-1 8zm-1-6zm-2 5zm0 13zm0-17zm-2 4zm0 15zm-2 1zm-7-11zm-2 0zm-2 0zm-7-15zm-4 18zm-22 1zm-1 7zm-1-5zm0 2zm-1-4zm-1 3zm0 0zm-2 1zm0 3zm-1-3zm-1 4zm-1-2zm-2-4zm-1 2zm0 1zm-1 2zm-2-25zm-2 0zm-3 26zm0-15zm-2 0zm-8-6zm-2-1zm-5 21zm-1-22zm-1 2zm0-3zm-1-1zm-2 0zm-2 1zm-16-2zm-28 9zm-2-2zm-1 7zm-2-8zm-1 9zm-2-5zm0 5zm-1-3zm-1 2zm-2 2zm-30 24zm12-7zm1 3zm0 2zm6 16zm1-2zm5-22zm2 5zm1-5zm1 6zm1 1zm1 2zm14 8zm1-4zm1-1zm0 6zm1-5zm1-1zm0 7zm1-6zm13-7zm0 2zm2-4zm6 15zm2-1zm3-10zm0 2zm2-4zm1 6zm1-6zm3-1zm0-2zm2-2zm6 19zm1-2zm15-19zm1 23zm0-25zm3 25zm1 2zm6-4zm2-19zm1-2zm0 3zm4-5zm11 10zm2 5zm0-6zm1 8zm3 0zm2-1zm1-10zm6 6zm2 0zm2 1zm2-1zm2-1zm2-2zm12-6zm1-2zm2-1zm0 1zm0 4zm0 3zm1-5zm-44 25zm0 2zm0 3zm-2 1zm-16 0zm-1 2zm-11 6zm-1 2zm-14-5zm0 4zm0 3zm-1-5zm-14-11zm-11 11zm-1-7zm0 5zm-8 3zm-1-2zm-1-2zm-1-3zm-19-5zm0 2zm0 2zm-2 7zm-1 2zm-2 8zm-2 1zm-1 2zm-1-4zm-9-15zm0 20zm-4-19zm0 2zm-2-2zm0 5zm-2-5zm0 4zm-1 6zm-1-8zm-1 7zm-2-6zm0 5zm-2-4zm0 3zm-2-1zm-1-3zm-1 2zm0 3zm0-7zm-2 2zm0 6zm-1 1zm-1-3zm0 3zm-1 2zm-1-3zm-1 2zm-1 2zm-2 2zm2 24zm0-2zm0-2zm1-3zm1 0zm3 0zm8-2zm10-5zm0-3zm1-2zm22 27zm0-4zm0-3zm1 5zm1-5zm3-1zm5-15zm2 5zm2-4zm0 3zm2-1zm1-2zm1-4zm1 4zm7 16zm2-14zm0 14zm2 1zm3 0zm4-9zm13-13zm0 2zm1 2zm21 3zm65-1zm1 2zm70 12zm0-2zm2-2zm2-2zm-56 21zm-45 6zm-2 2zm-2 0zm-74-14zm-1 2zm0 2zm-10 5zm-2 0zm-2 2zm-2 1zm-3 4zm-18-6zm-1 3zm0 2zm-28-11zm-3-1zm-2 0zm-2 1zm19 38zm3 1zm2 0zm0-10zm1 1zm1 2zm0 2zm4-8zm0 8zm1-3zm0-3zm2 5zm2-1zm2 0zm241 2zm2 2zm2 1zm2 1zm-109 30zm-1 2zm-2 2zm-55-16zm-1 1zm-27 6zm-2-1z"/><path stroke="#A0C7EB" stroke-width="3.2" d="M1477 1187zm31 34zm-24 0zm-55-3zm-62 34zm36-13zm12-7zm45 26zm48-1zm76 3zm-20 21zm-60-19zm-64 25zm-62-27zm-63 8zm-3 4zm-14 8zm61 20zm25-10zm17 3zm64 11zm37-16zm65 3zm24 20zm-19 5zm-19 7zm-17 11zm-74 4zm-3 5zm-29-17zm-95 37zm13 8zm227-9zm19 10zm-18 16zm-152 10zm-85-23zm36 50zm31-1zm3-8zm26-11zm13 26z"/><path stroke="#4A81D0" stroke-width="4.2" d="M1392 1178zm36 1zm46 4zm11 12zm35 7zm11 29zm-100-19zm-19-8zm-21 17zm-12-10zm-11 13zm-2 7zm-14-24zm-20 9zm-1-12zm43 28zm21 12zm102 0zm48-4zm-30 35zm-28-8zm-30 2zm-21-7zm-30 12zm-33-10zm-43 18zm-32 18zm91-2zm8-10zm71 3zm24 8zm17 14zm12-25zm72 14zm3 10zm-37 11zm-14 14zm-53 6zm-25-27zm-41 16zm-101-15zm-6 13zm15 16zm15-1zm36 10zm187 3zm5-11zm-49 39zm-76-10zm-32 6zm-48 6zm-21-11zm-12 49zm36-22zm2 7zm33-9zm160 1zm-23 32zm-24-5zm-77 7zm-15 8z"/><path stroke="#3263BF" stroke-width="4.2" d="M1382 1190zm23-13zm7 2zm58 12zm-14 28zm-15-3zm-120 18zm78 11zm63 12zm3-11zm42 5zm33 1zm39 8zm-76 10zm-34-5zm-62 10zm-22-1zm-11 5zm-79 7zm4 20zm77-3zm22 12zm38-9zm25-13zm3 4zm63 14zm5 0zm39-23zm14 40zm-35 6zm-17-14zm-154 2zm-8 5zm-29-7zm33 39zm48 2zm18 5zm33-7zm61-1zm11 3zm10 3zm6 26zm-78-7zm-14 5zm-86-8zm15 42zm65 2zm24-20zm-46 30z"/><path stroke="#1F3FA3" stroke-width="4.2" d="M1465 1174zm-90 8zm5-4zm1 25zm30 0zm6-15zm10 2zm16-12zm28 24zm11-12zm49 33zm-20 5zm-11-9zm-27 7zm-31-19zm-21 6zm-13-3zm-26 8zm-28 12zm-10-9zm-6 5zm28 11zm8-4zm11 0zm11 21zm29-16zm2 9zm33-4zm71 7zm15-10zm21 7zm-18 34zm-7 6zm-7-10zm-26 8zm-68-8zm-6-1zm-6 3zm-6 8zm-33-4zm-7-3zm-10 3zm-5-18zm-10 11zm-10-16zm-20 18zm-6 8zm-9-10zm-4-9zm-4 14zm-14-7zm14 37zm82-11zm40 14zm0-17zm19 17zm5-26zm26 15zm44 7zm12 2zm12-19zm66 28zm-56 2zm-1 8zm-85-11zm-10 6zm-15 14zm-47-24zm-1 12zm-33-4zm-6-8zm-16 25zm-22-8zm-2-4zm21 29zm23 7zm26-3zm2 9zm1-8zm23-2zm13-3zm4-3zm30 0zm22 16zm14-10zm30 6zm12-23zm15 20zm5 2zm11-6zm3 11zm21-23zm1 18zm2-19zm3 6zm9-8zm-14 34zm-34-5zm-81 10zm-7-6zm-12 4zm-1-2zm-5 15zm-15-10zm-8 4zm-21-3zm-13 7zm-8-4zm-21-10zm-30 24zm5 4zm11 15zm59-20zm26 7zm6 2zm19 4zm27-15zm14 7zm11-2zm9 8zm2 7zm17 3zm26 3zm-57 28zm-4-5zm-63 0zm-22-10zm0-11zm-1 18zm-2 6zm-69-16zm-3-4zm108 27zm33 1zm10 2zm7 3z"/><path stroke="#244DAF" stroke-width="4.2" d="M1454 1173zm-92 25zm4-3zm0-11zm1 14zm6-11zm1-1zm3 2zm20 2zm8 6zm2-9zm3 2zm20-5zm1-4zm8 18zm13-7zm6 9zm3-18zm9 17zm0 2zm6-7zm11-9zm2 9zm3 5zm2-8zm0 4zm38 22zm-6 1zm-18 9zm-2-20zm-1 5zm-2 7zm-7 11zm0-26zm-6 11zm-27 3zm-1-9zm-7-5zm-2 24zm-10-2zm-6-21zm0 0zm-4 12zm-4-1zm-6 5zm-1-6zm-11-4zm-11-2zm-32 22zm-3-3zm-3-21zm-3 22zm-18 2zm-1-2zm-14 21zm2-14zm9 18zm11-11zm14 15zm4-2zm5-23zm5 19zm22 7zm1-10zm0 4zm4-11zm6-4zm2 21zm0-18zm8 2zm5-10zm2 5zm23-3zm0 23zm3-3zm8-13zm28-9zm69 17zm2-8zm17 15zm1-5zm18 5zm-3 19zm-8 1zm-3 3zm-3-5zm-11-1zm-9 11zm-3 2zm-25-8zm-13-18zm0 3zm-13-4zm-12 25zm-7-13zm-6 3zm-17 11zm-4-21zm-4-2zm-11 10zm-10 11zm-2-3zm-9-11zm-13 12zm-1-16zm-7 10zm-7-4zm-3 9zm-6 1zm-1 2zm-3-16zm-6 12zm-16-10zm-8-6zm-2 23zm-5-23zm-1-2zm-8 11zm-7 7zm-36 11zm8 8zm1-4zm2-5zm6 24zm24-18zm6 18zm4-12zm48-14zm2 8zm0-6zm22 5zm29 18zm3-17zm3 19zm5-3zm25-16zm7 14zm4-15zm37-3zm6-3zm27 7zm16 16zm10-19zm1 21zm3 0zm1-25zm1 7zm15 31zm-39-11zm-22 20zm-32-8zm-1-1zm-24 10zm-3-6zm-16-5zm-9 10zm0-20zm-9 25zm-5-16zm-8 12zm-1-5zm-9-12zm-3 22zm-1-26zm-50 25zm0-9zm-2 0zm-7 11zm-10-23zm0 17zm-1 1zm-9-8zm-1-10zm-5 12zm-3-14zm-6 18zm0-8zm-1 0zm-3-12zm-3 10zm-21-7zm0 2zm-1 0zm20 36zm8-13zm13 13zm9 13zm24-8zm5-18zm1 3zm10 8zm4 14zm23-6zm13 5zm6-12zm7 5zm46-1zm9-10zm1 18zm0-15zm7-2zm26 5zm21-8zm3 5zm40 0zm-1 27zm-3 5zm-16 5zm-2-13zm-4-5zm-9 22zm-12-1zm-7 1zm-29 3zm-9-10zm-7-4zm-5 8zm-4-7zm-15-7zm-8-3zm0 9zm-15-1zm-41-9zm-6 8zm-10 17zm-20-4zm-2-5zm-32 3zm4 11zm3 7zm9 8zm1 1zm34 7zm15-14zm2 15zm5-10zm6-11zm15 3zm6 9zm1 6zm12-5zm13-11zm19 17zm11-20zm1 18zm1-22zm0 17zm21-11zm17 4zm14-8zm14 23zm7-9zm10-9zm-29 30zm-6-7zm-3 16zm-24-19zm-3 16zm-5-9zm-20 1zm-17 0zm-24-4zm-10 16zm-2-8zm-6 1zm-17 9zm-1 2zm-19-20zm-30 2zm71 24zm52-2zm33 1z"/><path stroke="#74A6DF" stroke-width="3.2" d="M1373 1191zm18 12zm4-25zm4 22zm53-21zm12 9zm15 4zm43 39zm-8-11zm-39-8zm-11 0zm-21 9zm-21-10zm-23 11zm-7-14zm-63 12zm-28 35zm20-13zm1 12zm0-3zm71-4zm34-4zm58 3zm8 13zm5-17zm23-3zm65 22zm-37 11zm-25 1zm-65 10zm-36-13zm-13-10zm-23 5zm-36 16zm-31 1zm1 30zm3-4zm22 4zm19-5zm22-6zm78 11zm64 2zm13-25zm60 43zm-54-15zm-27 17zm-1-2zm-9 10zm-114-16zm-46-9zm-6 8zm-11 9zm-15 6zm0-18zm15 28zm45-5zm86 2zm7 12zm73 9zm46-11zm-9 17zm-19 25zm-6-23zm-8 8zm0-8zm-59 1zm-38 8zm-5 10zm-48-11zm-48 12zm47 21zm55 9zm56-5zm31-3zm38-5zm-27 25zm-18 2zm-38 4zm-20-15zm-46 16zm-48-4zm83 22zm7-6zm8 15zm18-14zm13 6zm-43 33z"/><path stroke="#244DAF" stroke-width="3.2" d="M1449 1172zm-4-1zm-95 29zm6-1zm4-1zm13 5zm4-20zm1 0zm1-4zm0 18zm9 1zm2-19zm4 9zm1-7zm8-4zm2 11zm5 15zm4-5zm3 5zm19-26zm6 14zm9 4zm1 1zm11-14zm1 20zm1-12zm36 4zm0-2zm5 10zm13 15zm-1-4zm-5 13zm-5-5zm-20 7zm-10-10zm-14-4zm-7 2zm-1-9zm-1 23zm-3-23zm-9 18zm-7-3zm-1-15zm-4 15zm-5-12zm-5 2zm-11-2zm0 6zm-4 9zm-2-15zm0 16zm-2-19zm-8 10zm-7-9zm-6 23zm-3-14zm-2 4zm-3-2zm-12-11zm-2 16zm-5-19zm-2 17zm-3-16zm-1 0zm0 11zm-5 2zm-1 4zm-3-6zm-4 4zm-9 8zm-3-6zm0-4zm-6 25zm7 14zm1-8zm16-17zm1 20zm2-3zm1 5zm17 2zm2-9zm2-2zm4 0zm2 8zm7-7zm5-2zm1 4zm1-2zm7 2zm17-9zm21-4zm3 23zm9-25zm1 19zm0-14zm2-5zm5 6zm8 16zm0-9zm1 7zm10-10zm35-6zm1 18zm3-4zm5-1zm8 4zm27-20zm4-2zm0 26zm5-3zm12 4zm-15 18zm-4-17zm-9 10zm-2-5zm0 10zm-3 2zm-22 6zm-17 0zm-1-19zm-10 19zm-3 2zm-40-19zm-15-3zm-1 15zm-9-12zm-5 16zm-2 4zm0 0zm0-8zm-13 1zm-1-12zm-7-2zm0-3zm-1 21zm-2-6zm-2-5zm-4-10zm-9 21zm-5 3zm-5-21zm-9 0zm-2 5zm-1 14zm-1-23zm-5 18zm-19 4zm0-7zm-1-9zm0 8zm-15 0zm-7 6zm-1-19zm1 52zm0-3zm1-7zm1-10zm10-3zm9-1zm1 7zm16 11zm6 5zm2-2zm3-22zm4 14zm18-15zm8 6zm3 16zm1-15zm3 6zm28-2zm8-11zm4 0zm4 1zm4 0zm3 3zm1 11zm7 9zm2-18zm6 9zm9-4zm3-4zm7 17zm16-22zm21 11zm11 0zm8 7zm8 5zm14-13zm2 7zm10-18zm10 12zm6 1zm5-8zm5 15zm1-19zm3 4zm0 0zm4-2zm3 3zm3 1zm-5 43zm-1-14zm0 9zm0 0zm-5 6zm-18 2zm-20-8zm-8-11zm-3 13zm0 1zm-9-1zm0-9zm-49-5zm-7-6zm-7 1zm-18 18zm-19 2zm-18-22zm-1 14zm-34-14zm-13 17zm-5-16zm-5 15zm-1-14zm-3 0zm-12 15zm-1-4zm-1-6zm-4 19zm-2-22zm-6 10zm-7 7zm-15-5zm34 14zm1 9zm31 12zm1-20zm5-1zm22 10zm11 2zm1 9zm43-7zm28-4zm1 9zm11-9zm3-8zm13 17zm17-14zm2 15zm19 1zm7-17zm24 15zm3-19zm5 3zm2 14zm1 8zm7-3zm1-14zm-6 25zm-4 10zm-30-6zm-2 6zm-1-8zm-13 6zm-3 5zm-7-2zm-10-17zm-1 22zm-17-15zm-2 16zm-21-23zm0 14zm-9-10zm-16 21zm-1-20zm-15-5zm-40 17zm-4-3zm-28 7zm-2-7zm-21-1zm-12-6zm2 25zm0 12zm2 6zm5-17zm7 13zm4-3zm13-2zm28-1zm11-11zm4 21zm7-16zm14-3zm12 1zm14 21zm3-18zm24 9zm6-16zm4 2zm1 21zm3-20zm9 5zm20 3zm18 0zm4 13zm1-3zm6-1zm15-8zm-20 30zm-4 0zm-1 3zm-38-13zm-17 12zm-4 6zm-1 3zm-8-23zm-1 21zm-12-11zm-21-13zm-36 5zm-16 16zm-2 2zm-6-10zm0 5zm-35-17z"/><path stroke="#1F3FA3" stroke-width="3.2" d="M1370 1193zm1-3zm16-6zm1 5zm3 14zm2 0zm1-1zm2-3zm2-3zm3-11zm5 15zm5-12zm3 3zm27-13zm8 24zm25-17zm7 5zm4 2zm3-3zm0 5zm5-3zm54 35zm-9-10zm-23-12zm-4 0zm-3 9zm-31-6zm-24-3zm-17 2zm-7 9zm-8-3zm-3 6zm-8-3zm-22-9zm-20 5zm-1 15zm-13-16zm-4 13zm-11-10zm-7 10zm-2-3zm-4 3zm2 27zm1-7zm2-2zm13 4zm26 10zm2 4zm0-13zm8 7zm6-10zm1 4zm58-3zm4 8zm20-14zm9 3zm1 10zm6-19zm4 11zm27 7zm5-17zm10 8zm26-2zm12 20zm4-11zm4 5zm5 29zm-21-3zm-1-16zm-9 8zm-21 4zm-3 6zm0-19zm-13 20zm-11-2zm-41 1zm-3-10zm-23 10zm-10-10zm-18 7zm-2-14zm-2 13zm-11 8zm-15-13zm-12 5zm-19-3zm-1-4zm-14-6zm-6 16zm-8 1zm-19-9zm7 41zm2-7zm2-12zm9 10zm13-8zm12 19zm0-8zm10-8zm8 1zm2 8zm4-4zm0 0zm19-6zm2 7zm7-8zm2-4zm1 16zm12-15zm15 0zm43 10zm1-10zm11 7zm9-12zm3 21zm6-8zm16 11zm17-17zm47 17zm2-14zm3 5zm4-10zm6 45zm-3 4zm-10-27zm-43 18zm-1-7zm-13 12zm-7-2zm-23-18zm-9-2zm-25 11zm-55-8zm-1 13zm-9-9zm-2-4zm-1 10zm-11-3zm-13 0zm-1 3zm-7-9zm-4 18zm-5-15zm-5 17zm-1-18zm0 8zm-14 12zm-19-14zm-1 1zm9 22zm5 9zm9 10zm3-14zm0-12zm8 26zm2-1zm25-8zm21 9zm30-20zm16 3zm5 15zm38-4zm2-11zm22 13zm65 4zm1-19zm8 16zm14 7zm-1 4zm-18 1zm-25 6zm-2 4zm-22-1zm-25 8zm-28-25zm-1 21zm-10-2zm-22 6zm-11-3zm-20 1zm0-20zm-23 3zm-26 4zm-2-1zm-8 31zm5-12zm17 2zm6 24zm4-9zm4-15zm5 12zm10 9zm8-14zm19-9zm34 4zm3 16zm18-12zm12 18zm11-17zm8-4zm27 6zm11 16zm24-10zm-17 16zm-18 18zm-12-23zm-36 22zm-22-3zm-14-8zm-14-7zm-10 15zm-1 5zm-2-8zm-37-15zm-26 2zm-21 0zm72 25zm12 3zm47 4zm6 0z"/><path stroke="#74A6DF" stroke-width="4.2" d="M1347 1190zm56 7zm15-7zm15 5zm60-4zm33 38zm-112-15zm-10 4zm-76 12zm-18 27zm70-15zm9-2zm8 2zm66-6zm128 47zm-284-18zm211 37zm25-7zm27 19zm23 4zm-22 16zm-51 9zm-104-27zm-88 2zm-4 20zm-15-4zm221 17zm12-5zm35 41zm-94-4zm-3-4zm-48 10zm-10 3zm-45-12zm20 23zm71 18zm4 3zm13-2zm24-16zm46 17zm-35 5zm-1 15zm-127-7zm-30 0zm85 24z"/><path stroke="#4A81D0" stroke-width="3.2" d="M1433 1172zm-48 21zm10 10zm48-20zm23 10zm6-4zm82 41zm-72-24zm-40 0zm-4 10zm-10 6zm-51 3zm-11-18zm-8 9zm0 13zm-9-21zm52 37zm8 3zm62 10zm37-17zm37 8zm22 1zm-3 27zm-104-6zm-59 12zm-53 0zm-15-14zm-11 12zm-16 28zm14-11zm54 13zm80-15zm48 18zm98 17zm-70-3zm-33 7zm-6-12zm-26 17zm-43-8zm-7 0zm-62 3zm-11-16zm0 28zm15 14zm81 5zm73 2zm18-21zm37 20zm26-20zm-7 32zm-20 13zm-15-10zm-40-7zm-27-2zm-2 14zm-45 0zm-14 29zm67-9zm21 0zm29 13zm0 7zm17-24zm-99 47zm-57-1zm-1 3zm-42-16z"/><path stroke="#CEE2EE" stroke-width="4.2" d="M1420 1204zm84 102zm-14 35zm-178-11zm55 35zm34-11z"/><path stroke="#3263BF" stroke-width="3.2" d="M1417 1173zm-42 27zm3-7zm36-5zm68 15zm27 18zm-12-2zm-11-14zm-84 1zm-96 43zm4 4zm11-16zm9 21zm16 0zm30-16zm6 0zm25 17zm27-8zm34-5zm38 9zm12-12zm9 13zm11-23zm26 11zm13 25zm-14 18zm-39-14zm-39-4zm-31-7zm-2 1zm-21 18zm-6-11zm-14 9zm-3 3zm-36-1zm-44 1zm-2-20zm-20 47zm84 5zm23-21zm6-3zm132 23zm33-9zm3 20zm-40 17zm-69-21zm-16 7zm-13-3zm-21-3zm-8 12zm-1-9zm-22 2zm-30 17zm-17-23zm-3 20zm-10-3zm-26-19zm52 39zm49-12zm15 2zm2 23zm2-23zm12-2zm5 20zm24-12zm24 4zm26-5zm1 14zm32-18zm27 26zm-39 12zm-6-5zm-5-2zm-68-6zm-68 9zm-60 22zm3 20zm69-9zm33-15zm80 13zm30 13zm8-3zm-40 23zm-5 4zm-101 0zm-22-6z"/><path stroke="#CEE2EE" stroke-width="3.2" d="M1415 1184zm80 33zm-133-11zm110 28zm-172 34zm298 21zm-45 36zm-161 25zm49 50zm41 45z"/><path stroke="#A0C7EB" stroke-width="4.2" d="M1435 1177zm33 1zm79 45zm-3 4zm-10-12zm-103 5zm-66 2zm-6-9zm-11 35zm53-15zm156 2zm3 14zm36 35zm-58-20zm-10 17zm-53-11zm-96 11zm-64 6zm-17 9zm8 6zm144-10zm4 21zm139-1zm-138 11zm-16 18zm-124-22zm29 48zm159 3zm24-10zm70 10zm-8 12zm-2-3zm-248 40zm52 2zm0-20zm58 9zm5 16zm58-19zm53 25zm0 0zm-48 0zm-92 1zm40 26z"/><clipPath id="c4"><path d="M1852 1176L1879 1180L1910 1177L1938 1184L1962 1196L1978 1212L2002 1227L2027 1251L2045 1273L2057 1297L2060 1322L2055 1346L2051 1371L2043 1396L2030 1420L2008 1442L1984 1457L1953 1463L1922 1463L1898 1457L1879 1451L1855 1448L1840 1433L1830 1428L1819 1436L1803 1428L1797 1414L1801 1396L1797 1374L1785 1354L1770 1334L1762 1310L1760 1285L1764 1261L1778 1236L1796 1212L1817 1194L1836 1183Z"/></clipPath><g filter="url(#rs)"><g clip-path="url(#c4)" fill-rule="evenodd"><path fill="#1F3FA3" d="M1849 1168L1878 1173L1911 1169L1940 1177L1965 1189L1982 1206L2007 1222L2033 1247L2053 1270L2065 1296L2068 1322L2064 1347L2059 1373L2050 1399L2036 1425L2014 1447L1988 1464L1956 1470L1924 1470L1898 1464L1878 1458L1853 1454L1837 1438L1827 1433L1815 1442L1798 1433L1792 1418L1796 1399L1792 1376L1779 1355L1763 1334L1755 1309L1753 1283L1757 1257L1771 1231L1791 1206L1813 1187L1833 1175Z"/><ellipse cx="1811" cy="1246" rx="4.1" ry="13.3" fill="#fff"/><ellipse cx="1832" cy="1277" rx="17.4" ry="2.2" fill="#fff"/><ellipse cx="1857" cy="1334" rx="19.6" ry="2.2" fill="#fff" transform="rotate(-27 1857 1334)"/><ellipse cx="1905" cy="1284" rx="3.8" ry="3.8" fill="#fff"/></g></g><path stroke="#fff" stroke-width="4" d="M1907 1175zm-7-7zm-1 3zm-1 2zm-1 2zm-30 0zm-2-1zm-3-1zm-12 2zm0-3zm-17 31zm2 0zm11-26zm3 1zm0-2zm4 8zm1-2zm1-2zm0-2zm3 18zm1 2zm1-1zm0 4zm3-5zm1-1zm2-2zm5-14zm1 15zm2-2zm16-7zm0-2zm2 4zm0-6zm15 1zm1-2zm0-2zm13 1zm0-2zm2 15zm0-11zm1 4zm0 2zm0 2zm2 8zm1 2zm4-10zm2 1zm1-5zm0 2zm1-7zm0 2zm0 19zm2 0zm2 1zm11-13zm3 0zm2 1zm3 2zm3 4zm1 2zm3 20zm-1 2zm-1 2zm-5-3zm-2-1zm-3 0zm-2 1zm-8 2zm-2-1zm-1-16zm-8 21zm-3 0zm-2 0zm-5 4zm0-23zm-2 21zm0-20zm-1-2zm0 6zm-1 15zm0-17zm-1-4zm0 7zm-1-2zm-1-5zm-3-1zm-1 26zm-11-10zm0 1zm-2 2zm-22 1zm-3 1zm-2 0zm-2 1zm-1-5zm-1 2zm-2 2zm-2 0zm-10-17zm-3-1zm-1 8zm0-10zm-2 9zm-1-4zm0 2zm-6-5zm-1 14zm-1-15zm-1 16zm-1-17zm-1 2zm-1-2zm-2 21zm-1-11zm-1 5zm-1-4zm0 11zm-1 2zm-9-11zm0 0zm-1-2zm-1 0zm-1-2zm0-2zm0 2zm-14 3zm0-2zm-15 9zm-2-1zm-17 28zm2-12zm1-2zm0 14zm1-12zm1-4zm9 3zm1 2zm1 2zm2-10zm1 2zm2 2zm4 1zm2 4zm0-5zm2 7zm0-9zm1-2zm3 19zm27-14zm2 2zm23 20zm2-12zm0-3zm13-12zm2 1zm2 17zm1-17zm1 19zm3 7zm1-2zm6-21zm4 23zm2 0zm3-14zm2 0zm17 12zm0-25zm-1 28zm-7 8zm-2 3zm-1-2zm-9 2zm-1 12zm-1-11zm-1 10zm-2-1zm0-9zm-2-12zm0 20zm0-8zm-2-11zm0 18zm-3 0zm-1-2zm-5 7zm-1-3zm0 5zm-2-8zm-2 1zm-2 1zm0-18zm-2 1zm-1 2zm-1 2zm-2 4zm-1 2zm-1 13zm-1-12zm-1 11zm-2-2zm-4-22zm-2 3zm0-2zm-2 4zm0-3zm-10 3zm-2-1zm-9 3zm-2-1zm-3 15zm-2 0zm-3 0zm0-13zm0 18zm-1-14zm-1 9zm0 4zm-1-16zm0 2zm-1 0zm-1 0zm-17-7zm-2 1zm-2 2zm-1 2zm-9 5zm-2 0zm-2-1zm-2 13zm-2-1zm-4-15zm-2 0zm-3 0zm-1 6zm-1-7zm-1 5zm-1-2zm-1-2zm14 27zm1 2zm2-11zm2 19zm31-8zm3 1zm2-1zm2-1zm3-11zm2 2zm5 24zm1-2zm14-19zm9-2zm9 6zm2-9zm2 3zm11-3zm11 2zm1 2zm9-1zm2-1zm3 0zm2 0zm27 8zm1 2zm67 4zm2 0zm2 2zm2 1zm-36 24zm-2 3zm0-2zm-1 5zm-115-16zm-2-1zm-2 0zm-5 13zm-2 1zm-1-14zm-1 15zm-1 3zm-11-22zm-2 1zm-2 21zm-2-2zm-2-2zm-16 8zm-16-13zm-1 3zm0-5zm-3 16zm-3 0zm-2 0zm-11-26zm19 29zm1 2zm2 1zm1 13zm2-12zm0 11zm3 4zm1-13zm1 7zm0 5zm1-2zm156-1zm1 3zm0 2zm97 17zm-2 1zm-2 1zm-128 65zm-1 2zm-1 2z"/><path stroke="#3263BF" stroke-width="4.2" d="M1809 1196zm54-10zm70 1zm20 4zm1 1zm18 6zm12 23zm-94 4zm-44-7zm-19 10zm-30 21zm43-14zm80 13zm1 3zm97-7zm32 41zm-15-1zm-13-16zm-18 17zm-159-3zm-53-14zm-30 14zm55 11zm49 3zm55 15zm124-18zm9 15zm-28 30zm-238 8zm44 2zm49 14zm29 9zm75-8zm48 30zm-25-6zm-29-9zm-61 16zm-1 1zm-13 4zm-7-27zm-88 13zm15 40zm39-13zm116 43zm-29-14zm-6-1zm-36 10zm33 21z"/><path stroke="#4A81D0" stroke-width="3.2" d="M1847 1171zm-26 21zm38-11zm25 2zm22 1zm1-5zm65 16zm19 18zm-11 14zm-5-13zm-13 16zm-5-12zm-7-2zm-7-12zm0 11zm-61 3zm-5 10zm-12-22zm-22 8zm-4 16zm-17-14zm-29 8zm-25 33zm20-2zm27-20zm10 2zm3 7zm15 0zm9 4zm14 8zm64-23zm55 13zm28-8zm28 21zm-20 2zm-46 10zm-49 13zm-17-17zm-27 1zm-20 17zm-51-12zm-22 6zm-8 0zm-3-13zm-2 8zm-5 3zm-10 11zm47 13zm4-2zm27 16zm92-20zm1-5zm53 22zm14-1zm38 4zm18-3zm-31 31zm-96-17zm-3 3zm-2-7zm-4 11zm-31-3zm-28 13zm-37-8zm-58-17zm25 45zm24 2zm156-14zm16 14zm33-17zm20 5zm0 29zm-48 0zm-3-8zm-99 9zm-15 10zm-3-6zm-68-10zm19 28zm33 20zm91-3zm42-8zm43 8zm-27 26zm-43-7zm-4 7zm-67 3zm32 14zm54-5z"/><path stroke="#4A81D0" stroke-width="4.2" d="M1821 1196zm172 31zm-92 4zm-3-20zm-37 2zm-50-9zm-44 45zm17 0zm79-10zm5-5zm6 6zm57-4zm66 13zm50 18zm-158 3zm-25 8zm-58 29zm254-10zm6 23zm-9 16zm-21-18zm-34 12zm-51 8zm-63 3zm-2-8zm-57 0zm72 25zm74-4zm12 10zm26 6zm35-4zm6 0zm-50 30zm-3-24zm-43 4zm-50 5zm-13 9zm-62-5zm-2 35zm18-20zm41 18zm78 20zm-74 16zm-14-2zm-40-12zm54 19z"/><path stroke="#1F3FA3" stroke-width="4.2" d="M1880 1173zm-4 0zm-56 29zm5-5zm18-12zm26 15zm18 2zm6-25zm28 21zm53 3zm32 20zm-16-8zm-33 14zm-19 1zm-9-9zm-7-6zm-8 9zm-22-6zm-4-7zm-7 2zm-22 4zm-2-5zm-8 15zm-14 5zm-26-4zm-36 30zm22 0zm19 0zm14-14zm11-3zm19 8zm27-1zm10 1zm14-10zm1 22zm3-9zm2 6zm7-8zm33-16zm0 0zm16 27zm26-10zm38 8zm-4 17zm-2-10zm-10 23zm-39-20zm-3 4zm-32 10zm-2-19zm-10 17zm-19-5zm-6-1zm-50 3zm-87 29zm1-13zm32 5zm3 9zm0-14zm5 11zm12-7zm31 5zm7 12zm4-8zm26 7zm1-9zm63 12zm23-17zm20 15zm4 1zm15-26zm18 11zm13 7zm11 32zm-3-1zm-8-3zm-12 6zm-22-1zm-1 2zm-92-15zm-1 5zm-77-12zm-12 10zm-6-1zm-26 6zm-2-3zm-14 20zm6 11zm2-7zm4 12zm2-15zm0 0zm5-6zm25 18zm61-8zm21 14zm27-18zm8 6zm0-8zm8 16zm31-16zm19 2zm9 21zm-68 26zm-2-1zm-27-22zm-28 17zm-5-20zm-36 13zm-25-14zm-1 9zm-13 0zm-6 16zm-2-7zm-1 1zm52 10zm122 11zm10-3zm21-9zm16 23zm12-5zm5-7zm-24 24zm-4 13zm-14-1zm-15-4zm-18 0zm-30-8zm0 16zm-5-7zm-37-3zm-6 7zm-9-4zm78 15zm1 3zm12 0zm28-6z"/><path stroke="#74A6DF" stroke-width="4.2" d="M1845 1181zm16 10zm34 7zm-45 11zm-82 37zm10-11zm19 17zm50-16zm49 8zm13 12zm3-4zm66-12zm53 11zm7 15zm-47-3zm-58 21zm-4-18zm-7-3zm-37 20zm-21-18zm-1 6zm-8 0zm-85 17zm22 17zm57-12zm39 4zm59-4zm4 2zm81 14zm-10 28zm-4-19zm-61 22zm-20-9zm-1 9zm-16-20zm-130 15zm-11 9zm7 3zm59 22zm166-20zm0 6zm4 21zm-13 4zm-21 4zm-47 12zm-83-3zm-46 26zm21-17zm18 22zm40-22zm98 23zm35 17zm-3-4zm-113 4z"/><path stroke="#CEE2EE" stroke-width="3.2" d="M1792 1243zm192 37zm-118-5zm128 70zm-200 59zm46 8z"/><path stroke="#A0C7EB" stroke-width="3.2" d="M1913 1174zm-104 28zm109 0zm48-5zm37 25zm-35-9zm-101 4zm-48-3zm-27 0zm-7 3zm-2 11zm33 5zm12 24zm39-9zm42 3zm23 5zm20-13zm92 22zm-104 0zm-30 1zm-18-6zm-3 27zm-54-1zm-1-11zm-14-5zm-16 9zm-23 11zm5 20zm7-22zm4 3zm44 0zm117-1zm35 0zm13 4zm-86 25zm-47 9zm-21-8zm59 50zm35-13zm6 10zm2-10zm6 12zm24-6zm67 31zm-157-4zm-19 8zm-18-7zm-58-1zm21 30zm32 2zm9 2zm13-5zm93-15zm13-3zm1 24zm-30 3zm-92 8zm-9-1zm90 32zm29-7zm16-2z"/><path stroke="#A0C7EB" stroke-width="4.2" d="M1906 1181zm14 22zm16-4zm29 6zm-28 11zm-46 10zm-73-4zm14 19zm38-6zm112 5zm33 37zm-1-13zm-86 8zm-35-3zm-6-4zm-77 2zm0 1zm68 52zm-22 11zm-26-15zm-44 3zm-11 32zm23-7zm250 45zm-70-7zm-18 13zm15 10zm72-5zm-145 37zm-12 8zm-51-12z"/><path stroke="#3263BF" stroke-width="3.2" d="M1909 1172zm-46 4zm20 25zm11-17zm2 1zm5 11zm12-13zm41 43zm-9-12zm-6-3zm-21 19zm-38 1zm-71-2zm-29 16zm14-3zm20 14zm9-22zm60 14zm10 6zm9-12zm4 2zm6-7zm12 16zm2-15zm54 16zm33-13zm-77 45zm-46-13zm-9 9zm-13-7zm-7-9zm-71 1zm-5 15zm-9-11zm-2-11zm-8 10zm-4-8zm6 40zm35-9zm21 5zm42 5zm20 0zm49 5zm1-9zm69 6zm46 6zm9 14zm-26 4zm-31-4zm-14 1zm-57-9zm-36 4zm-24 7zm-85-9zm-11-2zm-8 7zm34 22zm20 24zm6-4zm13 3zm5-10zm11-11zm11-4zm13 15zm23-9zm11-4zm118 3zm0 38zm-18-5zm-8 5zm-32 11zm-51 0zm-8-14zm-39-7zm-23 13zm-25 0zm-20 4zm149 30zm33-19zm48 1zm-9 29zm-23 12zm-70 8zm-68-4zm-6-3zm-1-6zm-6-8zm-3-4zm120 42z"/><path stroke="#1F3FA3" stroke-width="3.2" d="M1928 1172zm-10 2zm-63 0zm-50 18zm21 1zm0-1zm15-4zm5-3zm4 17zm1-17zm8 0zm6 4zm10 11zm3-14zm7 4zm6 5zm25-17zm22 10zm8-2zm7 6zm28 10zm-8 7zm-11-1zm-2 6zm-17-8zm-4 8zm-9 17zm-12-21zm-21 7zm-20-8zm-29 22zm-14-23zm-4 4zm-21-6zm-4 9zm-1-11zm-39 48zm18-3zm17-1zm3-14zm17 3zm7 8zm4 1zm14-8zm0 16zm8-18zm7 8zm1-9zm3 19zm1-2zm46-4zm4-4zm17 10zm55-19zm19 5zm6-5zm29 23zm13 24zm-9-5zm-4 1zm-6-8zm-6 17zm-20-12zm-22 0zm-42 10zm-27-18zm-7-1zm-10-2zm-5 15zm-2-5zm-9-10zm-3 12zm-5-1zm-16 11zm-10-3zm0-3zm-13 4zm0-3zm-2-9zm-10 12zm-45 1zm-1 2zm-5-1zm0-23zm-8 41zm5 4zm5 1zm21-10zm15-6zm24 5zm19 3zm1-11zm35 11zm22 2zm17 2zm10-9zm56 14zm3-3zm14-19zm25 1zm-2 40zm-17 11zm-7-5zm-7-19zm-2 26zm-30-14zm0 8zm-1 1zm-1-16zm-5 11zm-42-8zm-2-6zm-10 22zm-34-21zm-3 11zm-1-11zm-13 22zm-11-8zm-48-7zm-5-1zm-25-6zm-11 6zm16 23zm16 15zm17-12zm4 15zm12-18zm30-3zm18 7zm4 17zm4-15zm2 13zm17-20zm47 22zm10 2zm7-26zm18 17zm8 6zm9 1zm45 15zm-1 11zm-4-6zm-23 6zm-12-19zm-4 13zm-52-2zm-12 8zm-18-12zm-19 16zm-48-1zm-24-26zm-12 14zm-15-1zm-2 6zm-1 2zm-11-18zm8 46zm41 3zm13-13zm20-7zm5 20zm29-17zm2 14zm1-5zm1-5zm31-10zm8 25zm5-21zm3 1zm30 2zm13 2zm3 16zm38-21zm-35 28zm-7 14zm-9-3zm-27-10zm-61 17zm-35-11zm-5 5zm-43-13zm-5-3zm73 31zm24 8zm47-7zm24 1zm3 3z"/><path stroke="#CEE2EE" stroke-width="4.2" d="M1847 1220zm42 136zm-15 80z"/><path stroke="#244DAF" stroke-width="3.2" d="M1802 1201zm3-2zm11-10zm1 9zm5-2zm8-2zm2 2zm2-12zm3-1zm12-6zm10 0zm4 4zm1-4zm1 26zm16-7zm9-10zm7-1zm3 12zm14-21zm3 4zm0 7zm0-6zm3 0zm2 17zm9-8zm7 4zm5 6zm3 1zm2-3zm3-12zm1-5zm1 19zm3-5zm20 28zm-16 5zm-10-4zm-8-15zm-7 6zm-3 9zm-8 5zm0-10zm-12 0zm0-1zm-5-2zm-3-5zm-6 7zm-5-5zm-5 1zm-8-8zm-3 8zm-1-9zm-15 6zm-1 19zm-1-15zm-7-1zm-12 2zm-16-7zm-3-1zm-1 21zm-2-16zm-5 9zm-3-12zm0 7zm-3 2zm-4-6zm-3 6zm-6-15zm-24 32zm11 2zm13-6zm2 27zm10-6zm11-12zm11 0zm4 8zm6-5zm1-6zm1 16zm10-15zm6-3zm2-4zm1 16zm1-11zm1 21zm4 1zm7-13zm14-4zm6 7zm3-12zm5 15zm5 6zm2-1zm16-25zm8 10zm15-6zm4 19zm3-21zm13 17zm2 2zm0-7zm1 10zm6 3zm13-25zm3-1zm9 13zm3 6zm3 2zm1-1zm1-11zm9-7zm37 51zm-14-24zm0 2zm-27 0zm-2 7zm-5 10zm-9-3zm-22-8zm-8 1zm-6 1zm-1-7zm-3 21zm-8-17zm-19 6zm-2-4zm-7 6zm-9-3zm-5-8zm-11 18zm-5-8zm-5-6zm0 5zm-5-1zm-8-1zm-19-6zm-1 7zm-8 1zm-2 12zm-4-22zm0 3zm-1 15zm-4-23zm-6 10zm-3 15zm-3-18zm-6 3zm-3-10zm-3 24zm-8-15zm-1-9zm-10 0zm-9 2zm-5 2zm-2 16zm-1-13zm-9 8zm-3-10zm1 49zm4-4zm2-4zm1-7zm1 11zm2 4zm25-3zm6-15zm10 13zm13-8zm3-2zm13 0zm21 2zm4-5zm1-8zm8 23zm26-6zm6-2zm1 6zm12 4zm1-6zm9 4zm20-6zm2 4zm27 3zm10-3zm8-1zm1 3zm1-5zm20 9zm6-2zm1-18zm3 20zm4-20zm10 3zm18 23zm-4-4zm-10 17zm-8 3zm-9-9zm-7 10zm-1-16zm0 10zm-10 1zm-16-1zm-19 8zm-9-6zm0 9zm-1-15zm-16-11zm-2 18zm-7 5zm-7-21zm-8-1zm-5 13zm-4 0zm-2-11zm-4 7zm-1 4zm-14-11zm-7 6zm-8-6zm-23-3zm-1 2zm-25 22zm-6-12zm-6 10zm-20-18zm-8 3zm-3 19zm-8-6zm-11-12zm-6-7zm20 28zm9 21zm14 4zm0-18zm2 6zm45-11zm63 8zm12 2zm1 3zm38 1zm4-18zm8 16zm11 2zm6-7zm1-4zm11-7zm10 24zm6-21zm3 15zm1 6zm1-22zm18 13zm6-13zm-6 26zm-1 9zm-1 3zm-12 10zm-4-3zm-15 7zm-12-1zm-3-18zm-5 2zm-12-8zm-5 3zm-7-4zm-11 3zm0 20zm-14-11zm-29 2zm-2 9zm-2-8zm-8-1zm-8-4zm-1 3zm-1 4zm-7-11zm-5-2zm-4 14zm-13-8zm-4 16zm-8-15zm-7 4zm-4 12zm-8-3zm-16-9zm-2-10zm-9 18zm-11-2zm-1 7zm14 23zm0-15zm2 8zm22 0zm3-8zm12-3zm36 9zm18-6zm2 12zm1 3zm10-16zm8-3zm1-1zm2 7zm11 8zm6 3zm1-5zm8-7zm13-2zm10-7zm5 17zm4-8zm6 3zm3 2zm4-2zm5 15zm3-23zm10 13zm3-17zm11 19zm0-4zm-14 13zm-3 0zm-16 9zm-15 0zm-4 3zm-10-8zm-9 11zm-18-7zm-1-2zm-1 3zm-44 8zm-1 9zm-5 0zm-13-7zm-7-15zm-8 14zm-6 2zm-10-20zm-12 3zm-19 6zm97 22zm0 7zm15 1zm18-1zm11-9zm12 4zm15-3zm-60 39z"/><path stroke="#244DAF" stroke-width="4.2" d="M1896 1168zm-20 7zm-11-2zm-47 20zm4-8zm12 18zm7-19zm4-4zm25-2zm25 1zm2 17zm1-1zm18-11zm25 0zm11 5zm1 6zm4 4zm17 7zm-8 1zm-3 18zm-3-16zm-28 1zm-35 9zm-9 5zm-18-3zm-5-10zm-1 12zm0-3zm-2-12zm-3 3zm-2 2zm-9 18zm-4-14zm-13-8zm-1 10zm-5 5zm-1-14zm-5-2zm-13 5zm-11 9zm-2 2zm-9 0zm0 5zm-17 30zm1-3zm13 2zm21-16zm12 15zm4-1zm0-22zm8 1zm2-2zm3 18zm1-15zm1 12zm10 11zm15-16zm14 15zm13-5zm21-19zm1 21zm1-17zm2 19zm3-13zm1 7zm1-16zm16 1zm15 14zm19-15zm17 0zm9-3zm7 8zm0 12zm23-8zm4 5zm7 34zm-1 2zm-10-4zm-1-7zm-14-6zm-5 8zm-8 9zm-9-23zm-1 23zm-64-14zm-8 0zm-2-3zm-10-5zm-3 9zm-17-12zm-1 4zm-7 16zm-2 6zm-3-16zm-12-2zm0 1zm-4 2zm-8-4zm-4-6zm-35-1zm-5 1zm-3 23zm-13-20zm-3 7zm-3 4zm-14-3zm-2 2zm-3 24zm1-1zm16-7zm0 9zm4-8zm4 9zm0-9zm3 18zm7 5zm14-1zm9-6zm8-9zm21 15zm11-17zm4 11zm4 7zm13-26zm1 3zm7 24zm2-9zm32-1zm13-2zm9 3zm69-3zm37 10zm1-19zm15 34zm-11-4zm-3 11zm-3-14zm-3 9zm0 1zm-3-3zm-2 3zm-6-11zm-4 13zm-23-1zm-15 1zm-9-8zm-1-2zm-8-7zm-12 1zm-3 17zm-26-1zm-7-6zm-33 12zm-10-6zm-4-17zm-6 18zm-14-2zm-15-1zm-10 9zm-14-19zm-4 10zm-11 10zm-1-20zm-13 20zm0-22zm-12 2zm0 17zm-4-15zm-4-6zm-5 23zm19 7zm13 0zm2 3zm3 4zm7-9zm2 11zm8 8zm20-6zm8-10zm18-3zm8 20zm7 4zm54-16zm12 9zm4-18zm6 13zm3 10zm15-11zm40 11zm21-22zm12 21zm9-18zm4 18zm-10 16zm-25 9zm-24 5zm-11-16zm-3-4zm-2 10zm-5-10zm-19 3zm-13 6zm-13 2zm0 11zm-4-2zm0-7zm-3-17zm-5 18zm-5 9zm-1-5zm-1-7zm-9 8zm-10-2zm-4-2zm-11-15zm-5 19zm-5-2zm-5-15zm-6 1zm-42-6zm-9 14zm0-10zm-3 21zm-7 23zm11-7zm13 7zm28-3zm0-2zm22 0zm17-7zm12-8zm3 6zm17 14zm13-3zm7-13zm4 7zm1 9zm28-16zm0 3zm1-2zm8 6zm18 14zm16-14zm11 13zm-19 17zm-6-2zm-22-1zm-6 11zm-19-13zm-3 13zm-18 1zm-3 0zm-24-9zm-7 12zm-2-24zm-12 18zm-10-4zm-1-14zm-12 10zm-31-5zm91 34zm29-7zm3 11zm32-16zm6 0z"/><path stroke="#74A6DF" stroke-width="3.2" d="M1809 1197zm22-16zm23 9zm23 0zm18-14zm59 11zm49 42zm-1-3zm-12-12zm-26-8zm-50 18zm-4 5zm-29-13zm-3 15zm-7-15zm-19 1zm-3-8zm-31 15zm-36 0zm6 29zm57 4zm3-9zm6 7zm5-16zm17-3zm4 12zm4 0zm3-11zm16 11zm112-8zm10 13zm12 5zm-1 15zm-90-3zm-35 15zm-13-14zm-13 11zm-33-22zm-7 21zm-62-7zm-17 23zm10 10zm13-8zm59-1zm77 7zm9 7zm63-16zm62 8zm1-4zm-7 37zm-10-3zm-31-9zm-79-2zm-3-6zm-8 20zm-32 4zm-16 2zm-44-5zm-15-18zm-22-3zm-16 21zm57 8zm119 15zm34-6zm47 14zm1-12zm-19 37zm-82-1zm-39-7zm-11-1zm-42 2zm-12-3zm-24 0zm-7 37zm69-21zm64 3zm40 0zm14-1zm34 17zm-34 30zm-31-9zm-50 14zm-42-17zm-1 13zm23 6zm71 12z"/><clipPath id="c5"><path d="M2310 1176L2338 1180L2368 1177L2396 1184L2420 1196L2436 1212L2460 1227L2485 1251L2503 1273L2515 1297L2518 1322L2514 1346L2509 1371L2501 1396L2488 1420L2466 1442L2442 1457L2411 1463L2381 1463L2356 1457L2338 1451L2313 1448L2298 1433L2289 1428L2277 1436L2262 1428L2255 1414L2259 1396L2255 1374L2243 1354L2228 1334L2220 1310L2218 1285L2222 1261L2236 1236L2254 1212L2276 1194L2294 1183Z"/></clipPath><g filter="url(#rs)"><g clip-path="url(#c5)" fill-rule="evenodd"><path fill="#1F3FA3" d="M2308 1168L2337 1173L2369 1169L2398 1177L2424 1189L2440 1206L2466 1222L2491 1247L2511 1270L2524 1296L2526 1322L2522 1347L2517 1373L2508 1399L2495 1425L2472 1447L2446 1464L2414 1470L2382 1470L2356 1464L2337 1458L2311 1454L2295 1438L2285 1433L2273 1442L2257 1433L2250 1418L2254 1399L2250 1376L2237 1355L2221 1334L2213 1309L2211 1283L2215 1257L2230 1231L2249 1206L2271 1187L2291 1175Z"/><ellipse cx="2269" cy="1246" rx="4.1" ry="13.3" fill="#fff"/><ellipse cx="2290" cy="1277" rx="17.4" ry="2.2" fill="#fff"/><ellipse cx="2315" cy="1334" rx="19.6" ry="2.2" fill="#fff" transform="rotate(-27 2315 1334)"/><ellipse cx="2364" cy="1284" rx="3.8" ry="3.8" fill="#fff"/></g></g><path stroke="#fff" stroke-width="4" d="M2268 1195zm8-1zm0 3zm1-5zm0-3zm1-2zm0 7zm1 2zm1 2zm10-6zm2 1zm2 2zm5-2zm1 6zm1 3zm14-12zm2 1zm1 7zm1-6zm9 5zm2 5zm18-14zm2-1zm2-5zm0 3zm1-1zm10 0zm2 1zm16 9zm7 0zm1 2zm0 3zm0 2zm1-16zm3 0zm31 21zm0 17zm-3-16zm0 16zm-2-16zm0 16zm-2-15zm-13 15zm-2-2zm-6-11zm-1 20zm0-22zm-15 7zm-1-3zm-2 2zm0 1zm-1 13zm0-13zm-1-1zm-1 3zm0-5zm-1 4zm-4-1zm-23-5zm-2 1zm-15-7zm-2 2zm-1 0zm-2 1zm-1 2zm-2 1zm-2 3zm-13-3zm-2 8zm0-9zm0 7zm-1 2zm-1 0zm-2 0zm-3 0zm-10-10zm-2-1zm-2-1zm-3 10zm-1-2zm-6 1zm-2 1zm-1 3zm0 2zm0-5zm-2-1zm-13-7zm-2 2zm-15 17zm-6 29zm2-13zm28 6zm2-1zm1-2zm0-3zm9 14zm2-20zm0 20zm2-19zm0 18zm2-1zm5-11zm0 1zm0-3zm0-2zm1 6zm1-8zm1 10zm1-2zm1 3zm2-3zm2 1zm1 2zm10-3zm2 11zm1-23zm2 20zm0-19zm12-2zm1 2zm2 2zm0 18zm2 2zm1-19zm0 21zm22-1zm5-12zm9 6zm20-4zm0 2zm1-4zm14-4zm1 2zm2 2zm0 2zm13 9zm54-12zm3 1zm-80 32zm-2-1zm-19-15zm-8 1zm-4-2zm-2 2zm-2 0zm-1 3zm-5-6zm-2 1zm-18 0zm-6 6zm-1 19zm-15-17zm-7 14zm0-2zm-2 4zm-2 2zm-16-7zm-1 2zm0-15zm-1-3zm-2 0zm-2 0zm-5 6zm-2 2zm0-2zm-2 3zm0-5zm-1-3zm-2 1zm-2-2zm-1-2zm-11 24zm-1-3zm0 1zm-1-2zm-1 2zm-1 2zm-1-3zm-1 1zm-1-2zm-1 3zm-7-22zm-2 8zm0-2zm-1-6zm-2-1zm-10 6zm-1-2zm-1-2zm-2-2zm29 26zm1 10zm2 9zm2-2zm1-2zm0-2zm4 9zm2-2zm1-2zm5-1zm2 1zm20-7zm1-2zm0 10zm2-12zm0 10zm1-12zm1 22zm0-10zm2 9zm1-10zm2 9zm29-25zm27 27zm3-1zm2 0zm27-14zm2-1zm1 16zm2-16zm2-1zm91 12zm1 1zm2 2zm-96 3zm-5 1zm-53 2zm-1-2zm-33 1zm-2-1zm-1 2zm-4 17zm0-19zm-1 6zm-1 11zm-2-1zm-2-2zm-5-5zm-2-2zm0-2zm0-5zm-1 2zm-1 3zm-9 13zm-2 1zm-7-17zm-1-2zm-1 10zm-2-11zm0 25zm0-2zm-1 4zm-1-6zm-22-19zm-4 3zm-2 0zm30 48zm2 1zm2-1zm26 2zm70-17zm2-2zm2-2zm142 49zm-1-2zm-157 16zm0 3z"/><path stroke="#4A81D0" stroke-width="4.2" d="M2350 1174zm43 26zm22 26zm-110-3zm-59 3zm62 32zm12-14zm37 10zm14-1zm31-1zm62-6zm29 12zm10 10zm-1 3zm-159 1zm-4-10zm-9 24zm-2-24zm-15 8zm-63-2zm-18-4zm12 42zm4-8zm19 17zm6-17zm190-5zm38 13zm10-6zm-12 31zm-95-4zm-132 44zm2-1zm156-22zm4 12zm22-3zm1 13zm31 26zm-2-17zm-21 19zm-45-16zm-22-1zm-58-7zm-67 51zm13-8zm14-2zm17-5zm30 1zm39-2zm29 8zm50 19zm-138-1zm68 23zm36 5z"/><path stroke="#4A81D0" stroke-width="3.2" d="M2278 1191zm41 7zm9-17zm45 1zm22 3zm26 18zm22 25zm-46-2zm-3-17zm-43 8zm-19-8zm-8-1zm-8 10zm-23 8zm-19-12zm-23 8zm77 10zm69 27zm9-13zm76 0zm-41 25zm-51 3zm-26 4zm-68 7zm-25-25zm-1 26zm-2 0zm-29 25zm55-19zm37 0zm68-3zm20 6zm65 1zm16 33zm-17 13zm-33-15zm-58 0zm-57-8zm-42 3zm-15 15zm-53 3zm14 11zm2-5zm71 15zm4 8zm80-4zm17-9zm18-12zm18 5zm40 32zm-173-8zm-35 12zm-3-2zm-19 4zm-5 11zm2 10zm11 13zm22-2zm17-16zm127 12zm27-4zm22-5zm11 11zm-51 15zm-16 6zm-46 10zm-50-7zm95 19zm13-4z"/><path stroke="#74A6DF" stroke-width="3.2" d="M2299 1199zm4-20zm73-2zm43 23zm37 21zm-59 7zm-12-7zm-39-1zm-52 1zm-4 32zm4-2zm8 3zm15 3zm5 0zm18-17zm29 2zm4 0zm2-5zm9 21zm64 0zm19-26zm7 1zm9 3zm32 34zm-102 6zm-34-9zm-4 13zm-37-1zm-72-1zm-13 2zm-30 28zm28-20zm5 26zm68-4zm70-15zm3 6zm110 10zm11-19zm-19 27zm-17 12zm-104 2zm-45-11zm-10-6zm-33 7zm-51 30zm15 17zm143-1zm36-21zm2 1zm18 7zm33 41zm-25-14zm-205 42zm1-2zm29-10zm37 5zm9 7zm23-8zm10-3zm14-7zm6 1zm5 3zm35 8zm19-17zm0 0zm56 4zm-50 45zm-33-6zm-44-14z"/><path stroke="#A0C7EB" stroke-width="3.2" d="M2338 1191zm4-2zm4 12zm3 2zm41 23zm-26 3zm-2-20zm-10 15zm-78 26zm35 1zm9-1zm17-11zm34 4zm20 5zm8-13zm6 1zm6 33zm-53-2zm-1 4zm-29 1zm-10 1zm-21-12zm-9 19zm-24 14zm36 18zm13-24zm83 25zm9-3zm62-13zm53 37zm-30-9zm-209 0zm-18 26zm222 32zm-8-3zm-107 10zm-12 8zm-76-18zm-25-4zm62 27zm69 10zm10 35zm1 13z"/><path stroke="#244DAF" stroke-width="4.2" d="M2371 1169zm-41 4zm-48 26zm1-12zm10-2zm10 12zm3 6zm4-8zm7 1zm4-10zm23 6zm1-5zm9 16zm10-17zm6 16zm1-20zm2-5zm6 20zm1 1zm12 0zm11-9zm0-4zm2 1zm17 12zm33 21zm-4-4zm-22 7zm-4-15zm-9 6zm-1 6zm-27 8zm-5 4zm-6-1zm-3-1zm-13-21zm-8 16zm0-12zm-10-2zm-2 6zm-19-11zm-22 20zm-2 1zm-25 2zm-4-9zm-6 10zm-6 1zm-41 28zm19-24zm6-2zm3 25zm17-25zm15 15zm27 6zm0-14zm5 15zm7-12zm5 0zm0 15zm6-11zm14-12zm6 19zm12-16zm1 22zm3-11zm4-12zm5 18zm2-4zm8 1zm2-13zm18 21zm7-7zm5 5zm31-8zm2-5zm7 1zm15 7zm19 0zm13 17zm-1-6zm-4 23zm-7 0zm-3-7zm-12 4zm-5 2zm-1-14zm0 13zm-6-8zm-7 4zm-19-12zm-1-6zm-16 17zm-3-3zm-5-16zm-19 7zm-2 15zm-1 3zm-6-1zm-5-3zm-5 4zm-5-14zm-2-2zm-4 0zm-9 0zm-32 0zm-16 17zm-7-2zm-2 2zm-1-18zm-9-4zm-1 8zm-1-1zm-16 6zm-1 7zm-3-19zm-2 20zm-2-18zm-17 17zm-5-17zm-6 4zm0 2zm-2-5zm-14 17zm43 8zm2-2zm11 2zm9-5zm8 15zm3 9zm15-2zm1-2zm6 0zm23-15zm6 16zm18 5zm13-16zm22 2zm4 9zm24-11zm15 0zm10 16zm8-9zm7-7zm12 12zm11-14zm8-4zm4 21zm10-22zm12-1zm-6 47zm-3-4zm-37 8zm-7-6zm-1-9zm-2-9zm-13 17zm-4-11zm0 5zm-35 14zm-12-18zm-10 4zm-16-10zm0 13zm-8 11zm-1-8zm-11-9zm-5 9zm-1-14zm-26 16zm-16-11zm-10 9zm-1 4zm-4-12zm-6 12zm-6-4zm-2 2zm-6-14zm-3 2zm-1-8zm-5 3zm0 6zm-5 18zm-23-13zm-2-12zm-5 17zm-7-8zm16 18zm1 4zm2 5zm8 2zm6-5zm5 13zm10-7zm4-10zm4 6zm19 13zm1-14zm21 9zm5-5zm6 8zm45-8zm1 12zm29 3zm22-25zm6 1zm11 1zm2-4zm2 25zm7-6zm8-19zm20 20zm1-1zm0-17zm11 14zm3 2zm1-13zm5 22zm-7 6zm-18 11zm-7-15zm-3 17zm-2 2zm-11-9zm-48 2zm-3-13zm-18 13zm-11 7zm-21-6zm-16-11zm-4-2zm-5 19zm-12-10zm-25 1zm-25-3zm0 12zm-2-18zm-9 15zm-4 27zm5-15zm22 10zm14 4zm8-12zm61 21zm11-13zm15-10zm11 0zm42 21zm12-8zm26-14zm15 20zm-18 18zm-3 3zm-1-2zm-11 2zm-1-11zm-13 15zm-26 7zm0 0zm-4-14zm-11 13zm-29-8zm0-15zm-1 11zm-11 12zm-11-2zm-2-20zm-7-1zm-2 1zm-37 0zm-22 0zm-14 7zm87 26zm15 5zm29 7zm7-17zm2-1zm4 3zm3 2zm9 2zm1-1zm5-4zm-48 39z"/><path stroke="#74A6DF" stroke-width="4.2" d="M2337 1197zm71 2zm22 4zm-11 7zm-68 20zm-47-20zm-59 43zm19-18zm30 5zm20 13zm55-3zm6 8zm16 1zm13-2zm-4 27zm-44-16zm-61-8zm-27 51zm18-18zm2-1zm27 22zm26-26zm25 8zm12 0zm53 7zm20 5zm2-16zm68 27zm-48 17zm0-2zm-30-10zm-62 2zm-87-6zm-51 15zm8 35zm18-20zm230-5zm14 48zm-27 6zm-89-13zm-37 6zm-14-12zm-10-3zm-56 15zm-1-1zm-21 15zm63 5zm26 10zm12 4zm30-1zm0-3zm25-14zm30-2zm-111 28zm31 32z"/><path stroke="#3263BF" stroke-width="3.2" d="M2298 1191zm17-4zm8 3zm24 9zm6-23zm13 17zm5 5zm11 1zm24-6zm1 8zm12 16zm0 2zm-9-11zm-44 2zm-7 9zm-74 10zm-25 4zm18 8zm7 1zm23-1zm1 1zm43 3zm30 0zm3-1zm117 24zm-12 2zm-34 12zm-17 1zm-36-21zm-25 0zm-51 14zm-22 8zm-6-16zm-18-2zm-7 13zm-4-7zm-11 12zm-26 0zm-11 1zm-5-12zm9 19zm7 2zm2 11zm9-5zm26-12zm31 2zm124 21zm46-10zm14 9zm17-19zm13 8zm7 2zm-70 26zm-77 9zm-49 4zm-5-2zm-62 2zm-22 4zm19 1zm42 18zm52-11zm13-6zm20 13zm75-3zm5-7zm35 17zm-16 10zm-16 17zm-13-8zm-43 3zm-36 0zm-49-13zm-22 20zm-20 4zm-14-22zm-15 44zm60 6zm83-4zm50 26zm-28-3zm-35-14zm-120 1zm111 32z"/><path stroke="#A0C7EB" stroke-width="4.2" d="M2297 1177zm8 16zm18-14zm38 22zm2-5zm1-13zm85 47zm-43-10zm-129 14zm13 10zm157 25zm-18 14zm-56-9zm-106-10zm-15 21zm-31 24zm91-19zm18 3zm4 12zm137 5zm47-2zm7 7zm-5 8zm-107 66zm-51 0zm-76-3zm-31 8zm230 24zm-51 36zm-14-19zm-101 14zm-3-17zm-4 7zm-35-3z"/><path stroke="#244DAF" stroke-width="3.2" d="M2364 1168zm-52 5zm-45 26zm27-18zm2 14zm0-15zm4-1zm1 8zm3 11zm3-12zm2-3zm2 0zm5 1zm3 9zm7 5zm6-13zm1 12zm1-6zm1-7zm3 0zm0 9zm1-12zm1 19zm1-18zm5 21zm4-24zm7 6zm3-3zm1 12zm4-5zm1 12zm3-20zm12 0zm2 9zm3-4zm4-2zm1 13zm16-2zm0 1zm4-1zm10 1zm28 21zm-17-11zm-20 6zm-16 19zm-7-10zm-5-8zm-6 4zm0 4zm-1-8zm-2-9zm-3 9zm0 15zm-1-22zm-5 0zm-5 11zm0 2zm-13-7zm-25 6zm-1 1zm0-2zm-1-8zm-1 15zm-15-16zm-3 14zm-11-15zm-22 22zm-2-4zm-2-12zm0 10zm-2-7zm-12 9zm0-2zm-2-13zm-9 18zm-8-1zm-8 20zm11 8zm0-16zm5-2zm2 21zm6-12zm1 1zm6-7zm29-4zm10 18zm0-2zm5-5zm2-2zm4-9zm2 17zm0-13zm7-8zm4 23zm1-5zm11-2zm13 4zm3 3zm1-16zm3-5zm5 9zm7-9zm1 14zm5 1zm13-13zm11 12zm1 11zm14-25zm2 0zm1 13zm9 4zm14-12zm0-7zm2 3zm4-1zm10 22zm2-8zm12 7zm2-14zm7 8zm1-11zm6 4zm10 11zm2 34zm-21-18zm-15 8zm-1-13zm-5-4zm-16 0zm-1 10zm-1-9zm-26 3zm-27 3zm0 11zm-3-12zm-8-5zm-9 19zm-6-20zm-9 7zm-4-5zm-2 22zm-1-16zm-4 13zm-3-14zm-5 8zm-2 1zm-2-3zm-1 10zm-3-9zm-3 2zm-2-5zm-3-1zm-1 8zm-3 7zm-5-5zm-7-7zm-20-2zm-2-9zm-8 18zm-6-17zm-16 14zm-2 8zm-1-25zm-5 3zm-7-1zm-5 23zm-1 0zm-2 29zm8-9zm27-8zm4 12zm0-7zm6 7zm8-11zm1-10zm1 13zm31-8zm1 18zm3-2zm4-19zm5 5zm0 7zm1-4zm5 5zm5-11zm3 10zm11-9zm1-3zm4 24zm1-22zm8 12zm0-6zm3-2zm3-2zm2 2zm0-5zm0 22zm12-14zm9-7zm0 13zm3-8zm0-3zm0-4zm3-1zm19 24zm15-19zm6 11zm9-10zm11 4zm5-5zm8 6zm9 10zm0-18zm8 9zm10-1zm21 3zm5 21zm-42 3zm-1 11zm-1 0zm-5-20zm-16 21zm-8-14zm-8 12zm-4-13zm-1-3zm-5 22zm-2-25zm-1 20zm-7 2zm-20-6zm-2 2zm-1-13zm0-6zm-3 14zm-10 5zm-3-8zm-4-8zm-5 21zm-1-23zm-21 18zm-2-2zm-15-3zm-5-13zm-10 2zm-4 19zm-8-13zm-18 1zm-5-7zm-3 15zm-4-12zm0 15zm-3-7zm-10-6zm-4-2zm-2-5zm-6 23zm0-23zm-18 11zm-6 2zm17 13zm17 9zm18-7zm8 21zm7-1zm25-4zm16-17zm10 19zm28 3zm19-11zm17 6zm7-6zm3 3zm5-7zm2 0zm6 14zm1-22zm2 12zm4-7zm4 1zm13 7zm3 6zm31 8zm24-15zm4-3zm1-1zm4-1zm1-5zm0 12zm2-10zm-27 40zm-1-3zm-16-8zm-1 5zm-14-3zm-1-6zm-8 26zm-7-1zm-4-20zm-9 17zm-2-4zm-39-11zm-5 1zm-5 10zm0-4zm-7 9zm-6-13zm-7 2zm-2 1zm-35-10zm-2-1zm-8-3zm-2 21zm-3-1zm-15-3zm-3 3zm-7-2zm-5 7zm-8-23zm-4 10zm-4-2zm-9 38zm5 3zm5-6zm4 5zm11-22zm7 12zm8 3zm12 7zm8-1zm6-19zm9 1zm17 9zm2-7zm3-1zm19 19zm9-20zm3 9zm8 14zm5-10zm17-7zm10 10zm14-19zm54 20zm-16 19zm-13 11zm-2 0zm-7-10zm-21 12zm-14-15zm-4 13zm-4-8zm-35-5zm-17 14zm-14-7zm-4-3zm0 9zm0-17zm-13 16zm-2-10zm-12-10zm-12 10zm-8-5zm-7-5zm-2 1zm-5 9zm-2-6zm76 28z"/><path stroke="#3263BF" stroke-width="4.2" d="M2318 1203zm117 12zm-14-3zm-171-4zm119 45zm110-1zm1 13zm-50 9zm-37-12zm-23 21zm-103-1zm-45 21zm40-14zm5 6zm5-3zm97-4zm4 0zm49 4zm9 23zm19 0zm19-27zm40 36zm-236 41zm1-5zm173-9zm45 1zm31-5zm-55 27zm-79-1zm-122 20zm-4-20zm-5 37zm26-4zm133 6zm51 23zm-165 3zm-49-9z"/><path stroke="#CEE2EE" stroke-width="3.2" d="M2319 1222zm-52-8zm90 44zm3 1zm36 20zm-100-6zm86 81zm102 63zm-147 39z"/><path stroke="#1F3FA3" stroke-width="3.2" d="M2381 1170zm-11 4zm-12-2zm-81 29zm7-17zm18 10zm5 9zm2-14zm5-7zm6 1zm3-4zm26 0zm4 24zm2-3zm2-18zm5 15zm24-10zm1 10zm18-12zm11 12zm11 3zm30 19zm-14-4zm-10 5zm-19 10zm-22-6zm-3 4zm-4-10zm-5-10zm-1 9zm-8 6zm-10 8zm-29-26zm-3 1zm-1-1zm-3 18zm-5 2zm-2-15zm-15 9zm-6 0zm-14 1zm-3-16zm-14 20zm-9-16zm-13 23zm-27 23zm27-7zm3 3zm30 0zm4 1zm9-9zm14-4zm6 5zm28-9zm2 0zm21 24zm1-4zm3-17zm17 18zm4-1zm13-17zm9 16zm7-18zm13 13zm27-11zm16 13zm1-13zm9-2zm16 26zm-14 13zm-1 10zm-10-15zm-1 5zm-31-4zm-17-5zm-17 12zm-4 10zm-36-6zm-2-17zm-3 5zm-2-1zm-7 1zm-11-6zm-18 22zm-8-9zm-2 5zm0-2zm-4-13zm-6 0zm-1-5zm-8 24zm-5-18zm-4 19zm-6-20zm-5 19zm-1-20zm-9-2zm-4 10zm-15 5zm-9 0zm-12-6zm-3 8zm-1-3zm-4-14zm-1 45zm11 3zm7 3zm2 1zm12-22zm20 2zm22 19zm3-11zm10 10zm23-6zm2-7zm1 4zm1-16zm3 10zm21 11zm21-10zm7 11zm20-21zm8 20zm22-5zm34 7zm9-20zm11 1zm11 13zm16-17zm2 24zm3 8zm-6 7zm-3-9zm-9 14zm-5-10zm-26 1zm-6 14zm-11-19zm-13 3zm-12 8zm-4 10zm-6-20zm0 0zm-19 6zm-49 4zm-2-4zm-14 8zm-28 3zm-4 2zm-15-20zm-8 20zm-18-19zm-14 6zm-4 9zm0-1zm15 14zm20 15zm13-11zm10 2zm7 13zm23-5zm21-7zm6 13zm39 3zm16 1zm4-19zm11 16zm77-9zm5 14zm-6 22zm-12-20zm-23-3zm-14 10zm-47 1zm-29 7zm-29 4zm-5-17zm-1 4zm-7-5zm-5 7zm0-2zm-5-4zm-20 17zm-30-18zm-2-3zm-12 2zm-6 9zm-3 37zm21-12zm22 5zm16-2zm13 7zm6 5zm10-1zm26 4zm19-19zm9-5zm1 23zm2-21zm25 3zm4 8zm10-16zm7 19zm34 19zm-44 13zm-16-11zm-7 5zm-49 1zm-3-9zm-1 15zm-4 2zm-4-9zm-45-2zm-6-9zm-7-6zm-20 6zm-5 0zm66 23zm49 8zm19 0zm34-3zm12 1z"/><path stroke="#1F3FA3" stroke-width="4.2" d="M2349 1175zm-66 11zm20-4zm1 1zm39 8zm25-7zm5 19zm6-10zm29 1zm25 31zm-28-15zm-11 18zm-12 1zm-18-22zm-4 1zm-24 13zm-8-11zm-4 13zm0-16zm-29 21zm-25-1zm-21-5zm-9 9zm-21 21zm37-6zm25-7zm6 3zm22 13zm7-17zm40 7zm3-4zm36 7zm48 11zm24-19zm12-5zm2 21zm-2 11zm-9 0zm-29-6zm-6 23zm-12-6zm-9-7zm-30 11zm-39-18zm-6 15zm-32-3zm-1 3zm-46-10zm-27-1zm-7 17zm0-17zm-9-3zm1 45zm11 0zm41-18zm15 23zm51-12zm23 8zm6 4zm15-21zm36 17zm0-16zm8-3zm70 1zm2 7zm26-2zm0 38zm-11-1zm-12-17zm-22 7zm-24 3zm-11 4zm-28 4zm-27-20zm-48 27zm-24-4zm-35 2zm-13-23zm-42 17zm32 15zm12-2zm29-4zm83 17zm6 10zm55-5zm29 5zm28 19zm-11 9zm-17-9zm-29-7zm-6-4zm-13 6zm-4-8zm-14 3zm-4-3zm-10 15zm-12-10zm-4-10zm0 12zm-1 10zm-3-2zm-12-8zm-56 9zm-13 11zm16 13zm13 7zm24-11zm10 4zm43-2zm16 10zm14-10zm27-9zm15-6zm20 23zm4 5zm-146 12zm-9 4zm-74-14zm143 32zm4 5zm10-1zm3 1z"/><path stroke="#CEE2EE" stroke-width="4.2" d="M2327 1183zm-62 81zm-18 3zm156 158zm8 18z"/><clipPath id="c6"><path d="M2768 1176L2796 1180L2826 1177L2854 1184L2879 1196L2894 1212L2918 1227L2943 1251L2961 1273L2974 1297L2976 1322L2972 1346L2968 1371L2959 1396L2946 1420L2925 1442L2900 1457L2869 1463L2839 1463L2814 1457L2796 1451L2771 1448L2756 1433L2747 1428L2735 1436L2720 1428L2714 1414L2717 1396L2714 1374L2701 1354L2686 1334L2679 1310L2676 1285L2681 1261L2694 1236L2712 1212L2734 1194L2752 1183Z"/></clipPath><g filter="url(#rs)"><g clip-path="url(#c6)" fill-rule="evenodd"><path fill="#1F3FA3" d="M2766 1168L2795 1173L2827 1169L2856 1177L2882 1189L2898 1206L2924 1222L2950 1247L2969 1270L2982 1296L2984 1322L2980 1347L2975 1373L2966 1399L2953 1425L2930 1447L2904 1464L2872 1470L2840 1470L2814 1464L2795 1458L2769 1454L2753 1438L2743 1433L2731 1442L2715 1433L2708 1418L2712 1399L2708 1376L2696 1355L2679 1334L2672 1309L2669 1283L2674 1257L2688 1231L2707 1206L2730 1187L2749 1175Z"/><path fill="#2956B7" d="M2982 1469l-312 0 0-299 312 0zM2726 1351l8-4 1-11 23-9 10-10 4-10 0-9-4-8-11-11-16-10-28 12-1 6 7 14-2 17-2 3-14 5-5 8 3 8 7 6 10 3zM2842 1305l10-6 4-10-2-7-9-5-10 4-5 5-2 6 4 10 4 3zM2802 1438l7-5 4-6 3-16-1-13-6-16-5-19-5-11-11-11-11 1-11 9-11 18-34 13-3 5-1 4 7 9 28 14 20 18 20 6zM2911 1385l1-3-2-4-5-2-2 0 0 4 2 4z"/><path fill="#4F85D2" d="M2982 1469l-312 0 0-299 312 0zM2870 1210l1-5-4-4-6 0-4 2 1 5 3 2 4 2zM2738 1356l5-5 2-11 16-10 7-7 7-11 3-9-3-14-15-15-6-11-2-9 0-15-2-2-11 15-16 11-15 5-5 6-3 7 0 6 11 16 1 10-3 5-12 7-4 9 4 11 11 8 13 3zM2803 1263l3-4-1-6-20-13-2 7 5 12 6 5zM2848 1307l6-4 4-7 2-7 0-6-8-8-7-2-9 1-6 4-5 6-1 8 1 6 4 7 5 3 7 1zM2804 1442l6-2 4-5 5-19 0-14-7-22-1-11 1-1 9 1 4-4 0-5-6-3-9 2-2-1-16-21-20 1-10 9-11 20-35 13-3 5-1 6 7 10 29 15 20 20 24 6zM2913 1387l3-5-2-5-7-4-7 0-1 5 3 7 5 3zM2913 1422l3-4-2-1-7 0-3 3 3 4z"/><path fill="#91BDE8" d="M2982 1469l-269 0-5-4-7 4-31 0 0-299 312 0zM2766 1214l6-7 1-13-5-9-9-2-7 5 0 6 11 20zM2804 1447l12-6 6-12 1-20-6-29 2-3 13-5 3-5 0-4-3-5-7-4-17-4-12-18-15 2-12-2 2-7 11-20 5-22-15-6-11-12-1-6 3-23-2-15-13-5-7-4-5-4-5-14-5-1-9 8-11 14-11 7-5 8 2 7 11 13-12 26-1 9 3 7 13 13 2 7-2 4-14 11-2 7 0 6 7 10 11 7 36 8-6 4-19 6-11 7 0 11 7 9 28 15 15 19 8 5 24 5zM2870 1214l4-6-2-7-9-4-9 2-1 4 3 7 7 4zM2801 1270l9-7 2-9-20-26-7-4-4 3-3 7-1 9 2 9 5 11 6 6 4 2zM2890 1239l4-3 1-4-8-4-11 2-7 6 3 4 4 1zM2846 1312l8-5 6-6 4-9 0-9-3-7-6-4-8-3-8 0-9 4-6 5-3 7 0 9 4 11 5 6 6 2zM2912 1389l5-4-1-8-9-6-4-1-5 1-1 7 3 7 7 5zM2914 1424l6-6-2-3-11 0-5 5 3 5z"/><path fill="#D8E6E5" d="M2982 1469l-259 0-4-14-5-4-6-2-16 10-22 1 0-290 312 0zM2805 1451l14-5 8-8 2-18-7-33 3-5 14-10 1-9-8-10-20-6-11-23-16 6-4-1-4-4 4-8 11-11 7-15 2-15 14-13 2-7-1-4-26-34-7-1-9 7-1-1 4-24-2-11-5-7-9-4-15 1-20-1-7 4-13 15-18 12-7 13-1 13 6 25-11 24-1 6 3 4 22 12 4 7-14 15-3 7 1 6 4 9 8 8 13 6 16 4-9 3-18 10 2 13 7 11 30 16 14 21 9 7 9 3zM2892 1197l5-5 1-4-4-5-5-1-4 4-2 8 2 4zM2881 1243l15-4 3-5-1-4-6-4-15-3-1-7 2-11-4-6-11-5-11 2-3 5 1 4 12 16 2 9 0 11 6 3zM2843 1316l9-3 7-6 7-11 3-11-2-7-4-7-9-5-9-2-11 2-9 5-6 7-2 9 2 14 6 13 7 3zM2931 1274l3-7-1-2-4-1-3 3-1 5 2 3zM2913 1391l6-6 0-7-10-8-11-2-3 3 0 5 4 11 8 5zM2913 1427l8-7 2-4-2-3-12-1-9 6-1 4 4 4 4 2z"/><path fill="#FDE7AA" d="M2670 1253l0-83 38 0-2 11-4 7-20 13-6 9-3 11 0 24zM2850 1252l-9 1-18-5-15-13-13-21-12-11-9-26 3-7 98 0-1 13-2 8-16 0-6 3-4 3-4 8 1 7 9 11 3 9-1 14zM2956 1454l-7 1-6-1-7-7-7-13-6-2-7 1-4 3-9 14-7 1-4-2-1-9 6-9 1-1 16 0 8-8 4-6-3-5-17-2 9-11 7-16-4-8-11-8-9-1-5 4 0 9 5 31-2 4-5 3-8 1-7-3-9-14-4-4-7 1-9 8-6 3-9-4-4-8 1-9 14-13 2-9-5-9-21-13 0-5 13-13 24-10 8-8 8-15 1-14-3-8-10-9-1-5 41-17 2-5-1-4-12-9 0-5 5-5 13-6 21-22-26-13 80 0 0 216-7 5-20 27 0 6 11 20-1 5zM2831 1183l3-4 0-5-4-3-5 1-3 2 1 6 4 4zM2929 1278l7-8 0-5-5-3-4 1-4 7 2 8zM2679 1337l-9-2 0-32 16 0 8 4 4 5-12 13zM2821 1469l-91 0-1-11-3-7-9-8-9-3-9 2-13 8-16 0 0-73 9-1 5 2 11 20 5 7 10 6 25 11 5 7 6 18 15 10 24 10 20-9 14-3 5 5-1 7zM2878 1469l-28 0-3-7 1-7 8-9 7-1 5 2 10 8 2 14z"/><ellipse cx="2727" cy="1246" rx="4.1" ry="13.3" fill="#fff"/><ellipse cx="2748" cy="1277" rx="17.4" ry="2.2" fill="#fff"/><ellipse cx="2773" cy="1334" rx="19.6" ry="2.2" fill="#fff" transform="rotate(-27 2773 1334)"/><ellipse cx="2822" cy="1284" rx="3.8" ry="3.8" fill="#fff"/></g></g><path stroke="#fff" stroke-width="4.5" d="M2723 1200zm2 2zm2 0zm16-12zm0 3zm9-10zm2 8zm0-5zm0-6zm1 8zm0-6zm4 8zm0-8zm3 7zm2 1zm45-3zm8-3zm0-3zm5 13zm4 6zm2-1zm3 1zm19 1zm0-3zm5-16zm1 2zm4 7zm2 2zm3-1zm2 1zm9 8zm0-3zm0 2zm0-3zm0-3zm0-2zm1 11zm4-11zm1 3zm8 15zm-2 2zm-1 3zm-1-1zm-1 0zm-3 1zm-2 1zm-2-10zm-46 2zm-12 21zm-2 0zm-3 1zm-3 0zm-3-4zm-1-2zm-16 5zm-1-3zm-12-18zm0 20zm-1-22zm-1 24zm-1-25zm-18 23zm-1-24zm-1 3zm-8 2zm-1 2zm-2 2zm-1 11zm-2-10zm0 7zm-2-1zm-2-8zm-11-8zm-5 27zm0-3zm0 1zm-1-3zm-2-1zm-16 6zm1 3zm2 2zm8 13zm3 0zm0-17zm3 17zm1-13zm0-3zm1 16zm0 8zm14-2zm2 2zm21-9zm15 10zm10-19zm0 4zm1-6zm0 8zm2 2zm1-12zm9-3zm1 2zm2 7zm1 18zm0-24zm2 11zm0-10zm0 7zm1 1zm2 8zm2 1zm2-1zm3-1zm5-13zm1 2zm2 2zm5 14zm4-13zm1-8zm0 20zm1-12zm13-8zm2 0zm66 6zm-76 45zm-2 1zm-35-13zm-1-2zm-1-3zm-6 2zm-1 5zm-1 5zm0 3zm-13-19zm-1-2zm-2-2zm-17 18zm-2 2zm-2 1zm-8-18zm0 2zm0 3zm-24 11zm-20-1zm-12 0zm-1-3zm-1-3zm0 7zm-1-9zm-3-1zm-2 0zm0 12zm-1-3zm-1-2zm12 26zm2-1zm2 3zm0-4zm1 14zm0-6zm1-1zm1 7zm3-1zm27 0zm3 0zm2 0zm3 1zm7-20zm15 15zm3-1zm0 2zm2-3zm0 4zm2 2zm1-7zm13-16zm52-1zm1-2zm98 19zm-211 29zm-4-10zm-1 3zm-1 2zm-1 3zm-4 6zm-1-2zm-1-5zm0 3zm-20-3zm-2-10zm0 8zm-1-10zm-2 9zm-1-13zm-3 1zm-2 1zm28 41zm1 7zm0 2zm1-5zm210 34zm-12 0zm-2 1zm-110-9zm0-3zm-1-2zm-2-2zm-41-7zm-3 1zm70 50zm0-3zm1-2zm86 32zm-48-11zm-18 5zm-1-2zm65 16zm2-2zm0-3z"/><path stroke="#74A6DF" stroke-width="3.6" d="M2723 1200zm9 3zm14 0zm8-3zm7-20zm16 19zm20 2zm47-19zm1 20zm1-26zm7 8zm47 26zm-8 20zm-14-11zm-17 10zm-45-1zm-1 0zm-3-19zm-6 6zm-5 16zm-12-16zm-3-4zm-1 13zm-2-6zm-7 0zm-12 2zm-14 0zm-3-16zm-2 21zm-1-13zm-6 18zm-2-18zm0 9zm-3 4zm-2-14zm-15 3zm-4-6zm-23 22zm0 6zm8 6zm2 3zm14 8zm42-21zm20 10zm20-3zm16 11zm4 2zm2 0zm34-10zm13-1zm27 5zm17 11zm12-3zm10-20zm0 12zm4-7zm7 18zm21 26zm-5-18zm-1 0zm-19 8zm-2-10zm-2 0zm-4-2zm-30-1zm-12 13zm-6 9zm-14-13zm-5 18zm-9-22zm-38 0zm-13 7zm-2 13zm-1-18zm-4 12zm-2-7zm-8 4zm-7-11zm-7 16zm-5-3zm-3 0zm-3-12zm-10 19zm-31-7zm-5-12zm-17 2zm-2 28zm2-8zm1 8zm1 6zm42 0zm35 11zm3-21zm2-2zm1 3zm2 6zm0-2zm6 14zm3-1zm6-22zm4 3zm15 13zm5-7zm3 6zm3 11zm25-11zm27-9zm8 19zm11-12zm1-6zm6-7zm12 18zm1-16zm3 20zm5 4zm34-2zm8 16zm-2-2zm-4 4zm-3 12zm-19-3zm-8-12zm-6-5zm-7 21zm-27-7zm-18-5zm-13-7zm-1 17zm-1-18zm-27 14zm-13-16zm-1 7zm-14-3zm-41 5zm-20 11zm-5-6zm-7 3zm-42-5zm14 35zm9-11zm15 8zm23-16zm5-1zm77 22zm3-12zm6 6zm11 4zm30-16zm13-6zm3 6zm20 11zm1-15zm2-3zm23 4zm23 27zm-10 17zm-8 0zm-46-4zm-40-15zm-29 9zm-12-7zm-9 3zm-96 24zm10 9zm3 7zm12-3zm2 7zm2 0zm73 0zm9-2zm4 3zm5-9zm2 10zm1-8zm18-16zm8 25zm1-3zm6-22zm30 6zm23 13zm1-18zm11 19zm5-13zm10 17zm-25 7zm-2-4zm-4 19zm-89 4zm-31-8zm-12-5zm-29 3zm-9-13zm-3 5zm-2 1zm61 27zm1 0zm33-4zm21 1z"/><path stroke="#3263BF" stroke-width="4.8" d="M2722 1203zm147 21zm-122 4zm-22-20zm-33 45zm7-16zm23-5zm14 17zm0-13zm16 5zm27 12zm8-18zm3 21zm93-24zm4 4zm-143 31zm-33 2zm-5 18zm-4 6zm7-1zm71 12zm-7 13zm-6 3zm-34 15zm-13-6zm-8-4zm11 35zm36-13zm61 13zm3 9zm-7 29zm-82-9zm-20-1zm14 14zm24 20zm9 0zm2-13zm23 10zm28 10zm-11 9zm-37-3z"/><path stroke="#A0C7EB" stroke-width="3.6" d="M2816 1171zm-36 4zm-55 25zm8 0zm8-5zm0-17zm5 1zm4 19zm8-21zm2 19zm8-11zm12-7zm7 8zm10 8zm2-9zm9-5zm18 2zm5 18zm18 2zm10-3zm7-13zm3-3zm13 19zm10 1zm5 0zm21 19zm-5 8zm-16-8zm-6-17zm-5 8zm0 6zm-14 4zm-2 2zm-3 6zm-1-11zm-5-2zm-5-2zm-14-5zm-2 1zm-14 9zm-1-9zm-21 8zm-9 10zm0-3zm-13 1zm-9-14zm-1 1zm-1-7zm-7 7zm-2 8zm-5-12zm-1-7zm-6 10zm-4 0zm-10-3zm0-2zm-7 21zm0-9zm-2 8zm-15-16zm-14 0zm-19 36zm9-15zm1 13zm3-3zm2-2zm6 8zm4-12zm7 17zm0-5zm30-6zm3 0zm25 5zm2-14zm4 24zm2-23zm15 1zm5 6zm48 15zm4-8zm5 4zm10-11zm6-1zm1 9zm4 3zm2-2zm0 3zm6-15zm1 18zm4 1zm9-25zm0 25zm7-25zm5 1zm1 5zm3-6zm1 16zm2-16zm7 4zm1 13zm0 1zm1-18zm4 23zm1 1zm1-1zm6-2zm2-22zm2 10zm0 20zm-8-3zm-8 25zm-21 2zm-11-11zm-16-13zm-11-2zm-2 13zm-4 13zm-2-26zm-1 1zm-4 2zm0 2zm-8 9zm-12-15zm-5 9zm-1 17zm-10-17zm-11 0zm-2 17zm0 0zm-17-4zm-10-15zm-54 4zm-10 7zm-21-2zm-2 2zm-12 9zm-2 0zm-4-17zm7 22zm3 10zm5-14zm1 18zm0-7zm9 3zm8 3zm11 7zm4-8zm60-1zm6 4zm3-16zm1 4zm5 13zm1-15zm5-5zm11 24zm2-7zm1 5zm1-7zm4-1zm3 2zm27 8zm0-23zm12 6zm7 5zm3-11zm10 11zm5 1zm1-8zm5-2zm31 10zm10-11zm33 14zm1 10zm2-20zm8 0zm-18 33zm-4-4zm-4 14zm-13-3zm-16-10zm-3 1zm-10 2zm-9 1zm-13-11zm-4 16zm-6-15zm-2 4zm-11 9zm-9 3zm-15-13zm-7 5zm-6 2zm-22-8zm-1 12zm-1 8zm-2-23zm-3 22zm-4-13zm-1-7zm-6 11zm0 2zm-17-7zm-3-2zm-12-4zm-14-3zm-9 24zm-3-16zm-3 1zm-22-7zm0-2zm-17 9zm-2 0zm-1 6zm-2 4zm32 23zm5 7zm9 0zm5-13zm7 4zm3 10zm12-13zm10 15zm7-20zm2 17zm2-1zm23-17zm10 7zm3 17zm17-7zm10-6zm16 11zm4-11zm13-7zm5 0zm22 7zm16 4zm7-15zm17 8zm11 16zm5-18zm12 13zm5 1zm1-6zm-2 17zm-6 6zm-10 9zm-15 2zm-2-10zm-15-1zm-1-2zm-1 10zm-35 3zm-6-11zm-4-5zm-1 1zm-10 12zm-5-7zm-8 6zm-10 1zm-10-7zm0-11zm-17 0zm-44 12zm-31-13zm-7 7zm-7 14zm-19 4zm6 10zm2-2zm2 1zm14 6zm10-12zm1 12zm18-5zm14-3zm7 7zm7-8zm33 10zm3-1zm1-8zm4 17zm2-19zm1 19zm1-1zm5-11zm1 6zm13 0zm6-6zm3-10zm3 9zm2 3zm3 6zm7 0zm3-2zm0-16zm2 26zm0-21zm15-4zm6 1zm9 5zm9 1zm2 14zm4 1zm1-17zm25 0zm0-2zm0 0zm5 4zm0-6zm-28 37zm-5 6zm-21-11zm-6-4zm-10 4zm-2-5zm-4 19zm-2-1zm0 3zm-13 3zm-17-15zm-1 8zm-2 7zm-18-17zm-1 14zm-1-20zm-15 24zm-4 1zm-9-22zm-1 14zm-1-4zm0 11zm-9-17zm-2 17zm-2-8zm-20-5zm-2 5zm-23-17zm101 37zm40-10zm3 5zm16-3z"/><path stroke="#FCF4C4" stroke-width="4.8" d="M2843 1175zm-76 25zm32 0zm18-10zm19-8zm5 13zm36 6zm20 21zm-12-13zm-9 14zm-9-18zm-50 14zm-13-9zm-24-4zm-5 3zm-74 20zm30 6zm15 10zm66-3zm11 7zm7-10zm3 3zm15-8zm3 13zm4 5zm10-10zm7 11zm2-8zm32 4zm3-2zm21 9zm12 6zm-4 17zm-5 7zm-16-17zm-1 10zm-17-8zm-30 8zm-9-17zm-54 0zm-9 16zm-65-3zm-7-3zm-4-9zm-6 12zm-17 5zm0 3zm-4-11zm47 30zm55-8zm25 17zm7-10zm11-5zm8 12zm24 4zm3-19zm55 21zm2-24zm40 1zm4 38zm-64-3zm-87 17zm-60-13zm-18 1zm-12 9zm-1-16zm-18 12zm-24-17zm9 43zm5-14zm29 5zm4 10zm8-4zm16 6zm2-13zm87 8zm20 10zm9-6zm1-8zm5-7zm1-5zm80 35zm-76-1zm-25 18zm-12-2zm-28-12zm-36 13zm-7-22zm-21 6zm-24 11zm-26-12zm3 36zm16-2zm25 14zm15 0zm8-1zm14 0zm44-12zm1 11zm8-20zm15-4zm14 26zm34-23zm22 23zm3-16zm-33 43zm-10-16zm-10 0zm-49 29zm24-4z"/><path stroke="#FCF4C4" stroke-width="3.6" d="M2819 1170zm-15 4zm-6-2zm-51 28zm5-2zm20-15zm4 2zm1 3zm3 11zm24 2zm11-13zm2-5zm25 1zm26 6zm38 26zm-11 2zm-4 3zm0-3zm-1 12zm-33-5zm-22-11zm-1-6zm-20 17zm-14-8zm-13-4zm-8-1zm0 13zm-48-17zm-18 25zm70 9zm15 1zm23 12zm8 4zm1-26zm8 23zm6-14zm22 16zm48-6zm8-13zm2 3zm4 10zm2 3zm14 18zm-5 3zm-14 2zm-1-7zm-14 8zm-6-11zm-1 4zm-5 11zm-25-7zm-44 0zm-18-14zm-23 23zm-6-1zm-1-15zm-4 1zm-6 1zm0 10zm-2 3zm-39-19zm-13 6zm-2 9zm0-5zm-2-9zm-1 13zm-29 25zm4 11zm29-26zm23 26zm31-3zm13-5zm14-9zm10 16zm5-3zm4 4zm3-1zm5-6zm20 6zm29-18zm0 9zm24-3zm10-2zm1-8zm15 11zm3-13zm10 9zm5 14zm19 8zm-22-2zm-54-3zm-31 9zm-8 4zm-22-5zm-1-5zm-8 15zm-5 7zm-1-25zm-61 18zm-12-9zm-10 2zm-19 0zm-13-5zm54 31zm51 5zm13-3zm31-7zm5 23zm2-5zm24 3zm12-6zm18-10zm3 12zm1-14zm8 0zm18 15zm25 26zm-31 1zm-1-17zm-7 0zm-12 15zm-37-12zm0 5zm-11 8zm-20-18zm-31 1zm-13 8zm-4-7zm-8 5zm-46-9zm-8 18zm14 30zm37-12zm5 1zm5-6zm43 16zm14-16zm1 6zm9-2zm9 16zm11-6zm10 8zm19-12zm7-3zm22 2zm5 1zm10 3zm3-7zm7-3zm-35 35zm-1-2zm-33-1zm-10 11zm-11 4zm-8-11zm-3-1zm-18 11zm-4-21zm-6 2zm-3 4zm-9 0zm-1 5zm-87-7zm95 21zm15 6zm14-1zm23 5zm1-2z"/><path stroke="#F6AA6A" stroke-width="3.6" d="M2810 1184zm5-6zm30 6zm16 5zm42 36zm-58 4zm-21-15zm-3 5zm33 13zm31 26zm22-4zm10-17zm11 17zm11-9zm0-4zm13 45zm-62-13zm-2-4zm-214 44zm1-22zm4 19zm141 0zm44 3zm9 2zm5-12zm6-4zm20-3zm12-7zm10 10zm3 8zm4-10zm4 1zm9-2zm3 11zm19-11zm3-7zm3 26zm2 23zm-1-13zm-44-5zm-32-2zm-5 19zm-10 6zm-38-9zm-5-2zm-1-2zm-158-10zm-3 7zm-1-6zm-1-5zm164 30zm24 8zm3-7zm33 0zm12 7zm37-4zm0-1zm10 14zm12 2zm-8 13zm-103 8zm-6 1zm41 28zm24 24zm-74-10zm-112-1zm-19 0zm109 31zm6-1zm34 13zm5-7z"/><path stroke="#F6AA6A" stroke-width="4.8" d="M2787 1163zm87 25zm35 40zm-64-12zm-19 11zm24 11zm55 6zm6-10zm41 16zm20 15zm-5 4zm-18 4zm-42-11zm-1 24zm-17-6zm-7-19zm-207 3zm193 44zm39 3zm32-15zm38 4zm0 32zm-12 5zm-20-15zm-84 1zm-8 1zm-3 12zm-171-17zm214 40zm2-2zm38-12zm6 25zm17-20zm9 14zm2 30zm-92 3zm-4-9zm-7 9zm-13-12zm-111 41zm199-22zm9 2z"/><path stroke="#4A81D0" stroke-width="4.8" d="M2735 1190zm19-2zm15 1zm-15 42zm-20-20zm-15 3zm-2-6zm-15 19zm-7 3zm6 19zm22 2zm16-9zm13-3zm25-4zm13 23zm10 0zm67-20zm-83 39zm-20-3zm-4-2zm-41-5zm-17 8zm0 26zm9 2zm23-11zm61 23zm46-7zm-53 26zm-22 0zm-6-5zm-37 1zm-24 16zm50 6zm6 0zm145 27zm-74-3zm-3 7zm-9-1zm-80-10zm-20 15zm36 31zm45-6zm22 15zm5-13zm1-4zm6 34zm-15-4zm-68-9z"/><path stroke="#3263BF" stroke-width="3.6" d="M2742 1189zm16 10zm10-9zm100 18zm0 1zm-9-1zm-92 1zm-5-2zm-52 37zm12-5zm20 4zm46-4zm4-1zm83-4zm2-1zm-11 48zm-66-14zm-36 19zm-21-25zm-17 9zm-15 3zm-7-13zm-13 28zm17 5zm35 5zm27 6zm10-6zm2-2zm49 8zm27-15zm-76 48zm-22-1zm-19-15zm0 8zm-20-9zm-6-4zm-11 25zm-12-1zm24 4zm21 14zm2-9zm5 3zm29-8zm8 22zm19-1zm10 2zm2-1zm20 0zm75 22zm-88 6zm-23-9zm-25 6zm-4-1zm-50-4zm0 3zm-1 11zm58 18zm15-7zm28 4zm97 2zm-107 13zm-13 12zm-20-4zm-11-10z"/><path stroke="#CEE2EE" stroke-width="4.8" d="M2733 1203zm8-7zm5-14zm12 17zm2-6zm5 8zm26-6zm24-7zm11 5zm8-9zm6-7zm8 8zm15 8zm19 6zm10 28zm-1-22zm-3 19zm0-14zm-15 6zm-12-7zm-28-5zm-14 14zm-12 2zm-1 7zm-8 3zm-3-1zm-16-4zm-24-5zm-32 7zm-10-16zm9 47zm23-22zm31-1zm2 4zm2 20zm10-12zm37 4zm18-18zm14 8zm1 2zm3-8zm8 13zm8 5zm5-9zm4-2zm23-6zm45 24zm-22 5zm-15 13zm-26-14zm-1-3zm-1 3zm-6 16zm-19-8zm-7-7zm-5 3zm-27 9zm-89-1zm-7-13zm-30 21zm-10-6zm-5 17zm14 13zm80 0zm12-5zm6-13zm12 13zm1-4zm3 12zm41 3zm32-6zm1 5zm40-21zm6 5zm14 1zm17-5zm10 41zm-31-10zm-18-1zm-21 6zm-27 10zm-1-11zm-4-12zm-14 15zm-21 1zm-9 6zm-11-12zm-2 4zm0-7zm-68-2zm-42 8zm-16 9zm-4-22zm17 43zm4 2zm0-11zm50 15zm13-16zm8-4zm28 6zm43 6zm5 6zm29-17zm0 24zm1-18zm2 19zm14-10zm25-9zm4 11zm4 4zm21-20zm2 11zm-9 28zm-13 3zm-45-4zm-58 10zm-26-10zm-8 9zm-1-16zm-1 12zm0-2zm-33 0zm-21 2zm-2-6zm-19 38zm10-6zm2-1zm13 12zm29-19zm10 11zm7 2zm12-12zm45-5zm0 0zm1 2zm3 10zm2 7zm21-23zm3 24zm1-14zm9 17zm1-12zm1-12zm21 11zm1 13zm26-9zm13-2zm7-12zm-16 34zm-12 10zm-6-11zm-3 10zm-13 6zm-15-4zm-16-21zm-3 15zm-4-1zm-1-9zm0 11zm-15-8zm-10 13zm-9-16zm-10 22zm-44-11zm0-11zm-7 8zm-13-3zm59 19zm2 15zm14-10zm18 8zm9-11zm4 5z"/><path stroke="#FDE3A3" stroke-width="3.6" d="M2801 1173zm-16 23zm18-18zm10 9zm0-3zm3-4zm3 18zm35-19zm2 11zm16 3zm6 8zm30 23zm-2-14zm-8 17zm-26-5zm-148 33zm96-5zm14 6zm22-13zm0 12zm0 0zm7 3zm26-12zm5 10zm4-12zm24-7zm6 11zm46 34zm-5-12zm-17-10zm-3 20zm-5-5zm-7-6zm-14 16zm-1-24zm-3 11zm-13 10zm-4 4zm-4-13zm-1-7zm-18 8zm-6-7zm-11 0zm-65-7zm-30 21zm-61 3zm-13 25zm4-5zm3 6zm11-6zm90-15zm3 12zm10 2zm73-15zm7 13zm5-12zm5 20zm3-18zm19 19zm15 4zm10-22zm15 18zm4-4zm10 24zm-14-13zm-7 21zm0-2zm-61 7zm-3-23zm0 16zm-14-18zm-13 1zm-8 19zm-10 1zm-1-6zm-26-6zm-13 15zm-22-20zm-5 47zm68-18zm13 4zm1 0zm1 1zm6-3zm3 16zm11-5zm8 3zm16 2zm9-15zm5 15zm1-20zm0-4zm5 8zm9 16zm8-19zm9 0zm0 6zm4 41zm-3-2zm-59-1zm-23-11zm-3 12zm0-14zm-1 13zm-18-7zm-4-1zm-1 2zm-7 5zm-1 4zm-3-15zm-8 16zm-1-19zm-103 47zm16 0zm84-20zm10-5zm81 9zm24 1zm3-8zm4 0zm-1 31zm-10 13zm-26-3zm-7-1zm-13 1zm-6 6zm0 4zm-20-3z"/><path stroke="#BF3326" stroke-width="3.6" d="M2841 1230zm-11-6zm-1-1zm-104 50zm19 25zm45 6zm147 16zm-169 23zm-26-7zm35 93zm66 27z"/><path stroke="#BF3326" stroke-width="4.8" d="M2693 1259zm30 11zm-22-6zm66 93zm120 96z"/><path stroke="#244DAF" stroke-width="3.6" d="M2760 1188zm4 13zm27 28zm-31-23zm-28 17zm-16 3zm-3-3zm6 15zm25 15zm63 4zm30 18zm-86 1zm-5-3zm-10 9zm-32-1zm-2-11zm2 23zm24 4zm6-4zm14-1zm12 12zm9 8zm4-13zm56-2zm24-2zm-95 42zm-15 1zm-2 4zm-5-21zm-4-3zm-32 13zm4 23zm36 2zm26 5zm5 8zm4-24zm7 0zm2 14zm2-9zm10 13zm12 1zm7 6zm7-10zm2-1zm6 3zm74 10zm-99 10zm-2-3zm-34 16zm-14 0zm-4-17zm-6 12zm-20 4zm-8-6zm12 16zm8 0zm2 6zm16 2zm1-5zm4 14zm3 6zm3-23zm18 21zm12-22zm15 17zm9-10zm96 12zm-131 16zm-6 3z"/><path stroke="#244DAF" stroke-width="4.8" d="M2869 1204zm-103 0zm-19 25zm-11-8zm15 12zm35 14zm55 35zm-12-4zm-79-18zm-33 18zm-3 35zm20 1zm4-21zm24 9zm5-14zm6 22zm85-22zm-106 46zm-3-12zm-47 2zm52 36zm20-7zm134 21zm-101 7zm-50 12zm-10 3zm-3-19zm-12 16zm-13-14zm23 21zm15 20zm12 4zm36-6zm99 2zm2 2zm-108 17z"/><path stroke="#CEE2EE" stroke-width="3.6" d="M2818 1172zm-90 14zm13-3zm3 0zm7 9zm28-16zm15 9zm18 14zm8-10zm12-2zm7-11zm14 18zm5 1zm20-7zm10 7zm25 36zm-22-18zm-6-1zm-2-7zm-1 5zm0 10zm-7-10zm-1 1zm-8-5zm-15 0zm-3 1zm-2 5zm-12-7zm-1 10zm-3 15zm-15-1zm-24-21zm-17 22zm-20-14zm-6-5zm-2-6zm-3 5zm-15-5zm-27 12zm-14 20zm17 12zm40-6zm27 2zm21-8zm8 0zm4 3zm7-2zm12 12zm1-12zm6 3zm8 16zm22-25zm2 7zm5-6zm12 16zm1 1zm7-15zm22 13zm28 3zm33 27zm-20 9zm-1-24zm-9 8zm-1 3zm-11 9zm-13 4zm-48-1zm-1-2zm0-13zm-20 8zm-23-16zm-9-2zm-7 21zm-26 1zm-7-11zm-16-10zm-37 12zm-1 4zm-16-4zm-6 13zm-7-14zm-19 26zm6-1zm14 11zm1-19zm7 7zm0 14zm21-3zm16-9zm28 4zm17-12zm1 24zm5-22zm3 7zm10-2zm7-4zm5 19zm8-14zm1 12zm4-10zm13 11zm6-21zm6 6zm9 5zm5 5zm0-12zm4-3zm8 10zm3 5zm13-11zm48 3zm9 15zm17 1zm16 8zm-3 10zm-24-12zm-62 10zm-3 10zm-4 2zm-6-20zm-23 19zm-27-9zm-10 4zm-17-20zm-39 1zm-5 16zm-30 9zm-12 0zm-4-27zm-2 26zm-5-11zm-5 8zm-15 3zm13 18zm15 10zm1-2zm14-15zm0 12zm1-5zm1 11zm41-14zm2-13zm17 6zm2 15zm37-16zm5 15zm7 2zm5-4zm1-2zm1-12zm2 17zm0-16zm4-3zm4 24zm26-10zm19 8zm10-18zm18-2zm9 13zm9-10zm8 8zm-5 22zm-4 4zm-13-13zm-5 15zm-12-13zm-6 21zm-26-17zm-4-1zm0 9zm-34 5zm-2-19zm-8 18zm-10-15zm-10 4zm-21-7zm-15 22zm-16-6zm-2 7zm-1-21zm-8 1zm-9 22zm-1-4zm-30 11zm2 3zm56-3zm15 1zm36 13zm23-6zm0-8zm0 15zm2-9zm14 3zm7-13zm11 26zm7-24zm4 24zm15-16zm30-6zm-18 46zm-8-2zm-3-7zm-5-11zm-12 2zm-10-2zm-5 4zm-18 4zm-14 14zm-3-9zm-9-6zm-1-1zm-10 15zm-22-12zm-6 15zm-8-1zm-11-12zm-6-2zm-12-7zm-15-1zm86 30zm1 5zm74-9z"/><path stroke="#D85436" stroke-width="3.6" d="M2880 1216zm-30 10zm-91-2zm98 23zm-60 20zm-116 37zm4-2zm221 6zm19 22zm12 40zm-178 8zm115 55z"/><path stroke="#E97E4F" stroke-width="4.8" d="M2816 1190zm-65 60zm171 21zm-27-5zm-6 1zm64 74zm-16-14zm-9-3zm-86 7zm5 65zm68 12zm-12 39z"/><path stroke="#FDE3A3" stroke-width="4.8" d="M2831 1169zm-43 5zm-20 29zm30-16zm6 15zm27 1zm0-7zm96 34zm-69-12zm-14 7zm-10-20zm-10 23zm-1-15zm-6 3zm-10-6zm32 42zm98-10zm20 22zm-13 8zm-5-3zm-23-3zm-26 21zm-10-17zm-156 16zm138 9zm5 18zm34-20zm5 17zm7-19zm2 1zm2 23zm6-20zm10 6zm3 0zm34-6zm9 21zm-17 26zm-74-7zm-4 5zm-12 0zm-20-3zm-11 4zm-8-17zm-79-3zm-39 29zm148-2zm7 9zm19-1zm45 1zm1 5zm17 8zm5 1zm0-9zm4 29zm-8-10zm-8-4zm-3 15zm-100-7zm0 1zm-100 2zm-20 11zm16 27zm193-26zm21 9zm-45 40zm-5-5zm-38-14zm-1 19zm-12-4zm-57 3zm-12-13zm-52-3zm142 26z"/><path stroke="#FAC986" stroke-width="3.6" d="M2843 1174zm-57-1zm-11 8zm7-4zm1 17zm2-13zm21-2zm0 14zm24 2zm19-15zm9 7zm7-4zm26 17zm8 27zm-11-8zm-28 0zm-19 2zm-25 1zm-4 9zm31 13zm23-2zm44 13zm6-16zm10 9zm0 10zm40 29zm-1-9zm-3 6zm-7-11zm-5 8zm-9-14zm-5 14zm-14-10zm-16-2zm-14-7zm-5 1zm0 11zm-13-12zm-10 3zm-39 4zm-138 27zm170 14zm8-4zm5-4zm22-14zm2 20zm3 5zm16-4zm0 0zm17 5zm5-11zm7 11zm2-11zm0-13zm5 12zm16 0zm1 0zm2 10zm6-10zm6 19zm-2 9zm-30-8zm-3 12zm-32-9zm-7 11zm-12-14zm-8 3zm-12 1zm-4-9zm-18 2zm-3 14zm-26 2zm-144-17zm145 29zm13 2zm12-2zm22 7zm11 4zm3-12zm3 14zm19-4zm21-2zm2-10zm42 8zm-10 39zm-11-11zm-10 4zm-3 0zm-13-3zm-1 12zm-40-12zm-1 11zm-3-6zm-1-7zm-8 13zm-6 4zm0-19zm-17 19zm-128 25zm117-18zm23-2zm22 6zm2-1zm10 8zm14-12zm12-2zm13 25zm7-21zm1 3zm6 4zm4 4zm-54 27zm-30-1zm-1-6zm-46 3zm-35 13z"/><path stroke="#FAC986" stroke-width="4.8" d="M2779 1183zm25 15zm8-7zm1 0zm1 3zm8 1zm9 4zm3-13zm16 1zm76 40zm-94 1zm-7-17zm0 41zm33 6zm28-1zm9-2zm23-20zm14 13zm3-1zm30 26zm-27-7zm-2 7zm-21-11zm-16-2zm-6 1zm-80 7zm-132 46zm10-5zm115-2zm59-11zm4 15zm3-9zm28-9zm2 18zm7 2zm4-22zm11 11zm15 5zm31 3zm-23 7zm-1 3zm-11 21zm-8 0zm-6-1zm-14-22zm-38-1zm-35 24zm-11-22zm-11 24zm-131-20zm-1-2zm31 41zm112-17zm39 1zm1 2zm30 15zm1 0zm29-6zm12 1zm3-1zm2 0zm3-7zm17-5zm9 14zm2-5zm9-7zm-31 39zm-9 3zm-7-17zm-43 6zm-7 18zm-9-9zm-24 8zm-29-10zm-100 35zm24 5zm118-1zm14-2zm1-19zm5 18zm25-11zm14 14zm8 9zm-9 0zm-17 2zm-12 11zm-2-16zm-175-2zm158 36zm16-8z"/><path stroke="#E97E4F" stroke-width="3.6" d="M2828 1228zm-92-20zm113 26zm64 6zm16 6zm-27 37zm-73 32zm51-13zm20 8zm-31 24zm92 34zm-28 17zm-218 39zm217-5zm13 2zm-31 12z"/><path stroke="#4A81D0" stroke-width="3.6" d="M2760 1192zm1 1zm90 10zm3-4zm1-4zm19 36zm-3-19zm-83 9zm-20-5zm-1-10zm-15 20zm-15-10zm-24 3zm0-15zm-19 34zm1 6zm28 9zm9-5zm0-6zm6 4zm0-8zm16 4zm2 16zm0-11zm20-12zm4 21zm2 3zm2 0zm4-22zm0 22zm3-21zm6-1zm74 2zm-10 46zm-22-13zm-26-8zm-15 9zm-1-12zm-2 11zm-6 11zm0-17zm-9 19zm-10 2zm-1-1zm-21-20zm-26 0zm-7 2zm-5-8zm-9 8zm-1 19zm-4-7zm-1-5zm3 24zm79 11zm12-14zm0-1zm6-4zm37 15zm7 7zm10-6zm14-9zm-64 39zm-9-20zm-48 25zm-27-2zm-10-20zm51 42zm0-18zm6 13zm42 8zm1-21zm21 20zm73 14zm-185 24zm2 0zm20 7zm7 4zm13 10zm60-2zm-15 23z"/><path stroke="#D85436" stroke-width="4.8" d="M2849 1195zm-93 14zm-27 17zm228 87zm5-2zm-69 48zm74 1zm-84 20zm9 23z"/><path stroke="#A0C7EB" stroke-width="4.8" d="M2825 1175zm-31-3zm-20 2zm-10-1zm-53 28zm20-4zm3-5zm3 6zm1-1zm1-6zm0 6zm6-14zm2 18zm7 1zm18-25zm2 8zm13-5zm8 4zm7-8zm19 13zm12-6zm1 4zm28 9zm11 3zm36 24zm-8-4zm-1-11zm-6 23zm-2-27zm-8 4zm-2 19zm-8-1zm-2-5zm-1 6zm-12-12zm-4-1zm-4 7zm-15 6zm-37-3zm-12-8zm-11 13zm-25 0zm-2-4zm0-6zm-8-7zm-3 2zm-2 6zm-9 0zm-24 8zm-7-3zm-9 13zm4 4zm2 15zm3-14zm4 9zm3-6zm12 2zm28-8zm16 8zm14-5zm33 3zm3-8zm2 4zm1-9zm1 17zm9-3zm29-5zm2 7zm5 4zm4-16zm13 12zm6 8zm11 2zm21-20zm50 45zm-11-12zm-6-9zm-39 4zm-1 7zm-54-1zm-18 8zm-6-16zm-3 11zm-2-2zm-4-13zm-5 15zm-5 4zm-8 1zm-1-18zm-5 9zm-8-3zm-13-7zm-1 20zm-4-17zm0 9zm-4 1zm-39 7zm-1 4zm-19-16zm-20-3zm-7 13zm-7 0zm1 20zm10-3zm0-4zm1-3zm12 8zm6 13zm1-11zm3 15zm73-1zm5-2zm7-16zm1 19zm5-26zm9 12zm6-5zm8 15zm7-2zm4-17zm3 1zm18 1zm12 3zm19 13zm7 5zm56-21zm3 8zm10 4zm21 30zm-3-8zm-1-6zm-9 0zm-27-6zm-7 7zm-12 2zm-9 11zm-17-15zm-31 21zm-2-16zm-20 10zm-22 7zm-14-17zm-25 6zm-2 9zm-5-6zm-19-5zm-10 7zm0-5zm-13 11zm-1-2zm-15-21zm-4 4zm-28-8zm-4 8zm36 35zm6-7zm0 17zm28-23zm6 6zm2 13zm49-21zm24 6zm0 3zm3 10zm5 5zm27-10zm6-13zm33 3zm18 12zm1-9zm7-3zm32 21zm7-13zm-8 24zm0 18zm-7-5zm-4-21zm-24 18zm-9-11zm-2 16zm-3-20zm-7 2zm-1 11zm-9-2zm-15-10zm-8 13zm-7-11zm-35 17zm-3-1zm-8-4zm-30 4zm-15-2zm-8-17zm-46 28zm1 6zm3 1zm2 14zm4-9zm7 9zm4-9zm55 12zm6-20zm13 2zm28-1zm5 13zm5 6zm3-14zm2-9zm4 23zm4-23zm62 8zm1 0zm1 11zm10-6zm9 1zm0-5zm7-2zm-35 40zm-8-18zm-2-1zm-3 10zm-1-13zm-8 9zm-5 7zm-16 10zm-7-27zm-1 3zm-1 16zm-12-17zm-4 10zm-1-4zm-3-3zm-4-5zm-4 27zm-4-9zm-17-1zm0-14zm-3 19zm-6-6zm-7-4zm-6-7zm-25 14zm-26-19zm-9 5zm61 26zm30 4zm7-1zm27-2zm21 0zm9-1zm-53 38z"/><path stroke="#74A6DF" stroke-width="4.8" d="M2817 1173zm-82 18zm1 10zm14-15zm10-1zm1 11zm1 3zm1-15zm9 13zm11 3zm21 1zm4-24zm15 18zm1-8zm23 2zm8-6zm5-2zm4 0zm55 37zm-10 7zm-5 5zm-2-16zm-15 3zm-4-11zm-1 18zm-9-4zm-14-11zm-18 22zm-11-10zm-9-4zm-20 9zm-12-7zm-6 12zm-32-7zm-4-5zm-43-3zm0 7zm-6 2zm-1 1zm-4 4zm-12 15zm5 7zm2-2zm12-14zm1 0zm9 17zm0-18zm10 19zm44-15zm9 1zm22-4zm2-2zm3 3zm8 22zm32-26zm15 20zm1 1zm2-3zm4 7zm0-19zm3 18zm42-9zm27-1zm32 34zm-76-4zm-20 9zm-7-14zm-12-1zm-40-5zm-17 17zm-123-4zm36 18zm34 0zm18-7zm11 5zm15 8zm32-3zm33 12zm35 2zm4 0zm3-25zm26 9zm44-1zm11 1zm-26 26zm-31-4zm-1 17zm-9-19zm-5-2zm-2 15zm-13 1zm-19 2zm-25-7zm-23 2zm-25-13zm0 20zm-2-4zm-21-2zm-10 3zm-60 7zm-5 6zm8 15zm48 0zm1-16zm32 4zm27 0zm6-5zm51 26zm23-12zm2 13zm15-25zm58 32zm-60-3zm-27 15zm-58 5zm-2-4zm-2-4zm-2-1zm-59-6zm-14 47zm79-5zm2-21zm46 0zm0 25zm7-16zm36 17zm-28 8zm-2 20zm-62-16zm-3-5zm-60 4zm-4-1zm-4-5zm94 35z"/><path stroke="#1F3FA3" stroke-width="3.6" d="M2757 1247zm35 10zm-30 19zm-10 10zm-1-1zm-13-6zm-13-10zm-6 8zm-1 4zm-7 10zm3 14zm15-17zm1 8zm6 11zm2-3zm11 6zm6 3zm3-18zm6-6zm4 20zm0-5zm68-6zm3 0zm2 0zm6 4zm6-9zm3-1zm-75 49zm-7-2zm-8 4zm-4-13zm-22-4zm0 5zm-5-7zm-1 17zm-10-2zm-2-9zm-2 5zm-2 4zm-1-11zm0 4zm-1-5zm-12 2zm-2 5zm-7 0zm10 11zm30 11zm33-3zm9 3zm5 6zm1-7zm5 0zm1 8zm5 1zm2-17zm1 10zm110 22zm-93 6zm-2 14zm-7-1zm-1-25zm-1 9zm-6-7zm-5 1zm-14 17zm-14 6zm-5-8zm-1 1zm-9-20zm0 25zm-2-23zm-2 12zm0 5zm-7-9zm-1 5zm-5 0zm-3 5zm-3-3zm-5 0zm28 20zm10 0zm2 14zm4-22zm28 15zm0-16zm6 3zm8 15zm5-6zm1 7zm5-10zm3 16zm-5 6zm-8 0zm-4 3zm-6-6zm-2 7zm-1-7zm-1 6zm-11 1z"/><path stroke="#1F3FA3" stroke-width="4.8" d="M2850 1278zm-20 7zm-76-2zm-4-2zm-12-7zm-4-9zm-3 21zm-6-18zm-5 33zm6 14zm9-9zm2 9zm0-12zm1-9zm14 5zm1 13zm3-5zm13-6zm3 1zm76 1zm-89 16zm-1 5zm0-7zm-1 1zm-14 7zm-36 26zm17-1zm4 0zm31 12zm9-17zm10 19zm12 3zm4-9zm1 5zm5-4zm1-12zm7 16zm2 26zm0 3zm-10 4zm-2-8zm-2 6zm-1-21zm-4 7zm-7 10zm-4-4zm0 10zm-5-3zm-8-5zm-2 9zm-5-24zm-7 10zm-6-1zm-1 3zm0 8zm-5-16zm-19 15zm-5-2zm20 11zm31-1zm16 19zm1-11zm5 18zm6-10zm1-7zm1-2zm0 10zm14 2zm96-2zm-125 18zm0-3zm-12-2zm0 1z"/><clipPath id="c7"><path d="M553 1898L601 1905L654 1900L702 1912L744 1932L770 1959L813 1986L855 2028L887 2065L908 2108L913 2150L905 2193L898 2235L883 2278L861 2320L824 2357L781 2385L728 2394L675 2394L633 2385L601 2374L558 2368L532 2342L516 2333L496 2348L469 2333L459 2310L465 2278L459 2241L437 2206L411 2172L398 2129L394 2087L401 2044L425 2002L456 1960L494 1929L525 1910Z"/></clipPath><g filter="url(#rb)"><g clip-path="url(#c7)" fill-rule="evenodd"><path fill="#1F3FA3" d="M549 1885L599 1892L655 1886L705 1899L750 1920L778 1949L822 1977L867 2021L900 2061L923 2105L927 2150L919 2194L911 2239L896 2284L872 2328L833 2367L789 2396L733 2406L677 2406L632 2396L599 2385L554 2378L527 2352L510 2342L489 2357L461 2342L450 2317L456 2284L450 2245L427 2208L399 2172L386 2127L381 2083L389 2038L414 1994L447 1950L486 1917L520 1897Z"/><path fill="#2956B7" d="M602 1896l-12 2-7-1-4-3-2-6 42 0zM923 2404l-539 0 0-141 19-10 48-36 32-36 42-32 54-47 27-31 34-25 25-32 44-43 42-35 43-29 21-19 108 0zM437 2129l-15-1-27-12-11 1 0-105 19-6-19-39 0-50 42 15 7 7 7 10 1 15-8 19-11 12-19 11 4 12 12 19 11 12 24 22 12 19 1 12-4 11-10 10z"/><path fill="#4F85D2" d="M923 2404l-539 0 0-124 23-13 49-36 50-44 46-46 37-28 28-27 35-22 11-13 23-33 15-17 107-87 29-26 86 0z"/><path fill="#91BDE8" d="M923 2404l-539 0 0-110 80-53 50-45 42-44 45-31 28-24 34-22 12-14 19-32 15-17 92-76 54-48 68 0z"/><path fill="#D8E6E5" d="M923 2404l-539 0 0-95 92-59 52-52 27-31 12-11 39-22 30-24 35-21 11-13 21-35 13-16 35-28 27-26 29-22 47-46 21-15 48 0zM582 2343l-2-4-5-4-4 0-4 4 2 4 6 3z"/><path fill="#FDE7AA" d="M923 2404l-354 0 4-11-2-5-7-4-8 2-4 4-2 7 2 7-168 0 0-76 20-16 33-21 42-19 9-5 7-9 7-18 10-16 13-13 23-17 27-28 12-7 30-13 31-23 30-13 12-8 9-12 19-34 11-15 34-31 24-27 33-26 27-29 19-18 29-22 28 0zM698 2236l9-8 4-11-1-12-6-11-6-6-12-4-11 2-12 5-5 7-4 7 0 12 4 7 9 8 11 5 12 1zM577 2362l10-2 11-8 5-9 0-8-4-7-9-8-7-3-12-1-10 4-9 8-4 7-1 8 4 8 9 8 7 3zM657 2374l6-8 0-4-4-4-7-3-8 0-8 3-3 4 2 8 5 3 8 2z"/><path fill="#F9BF7C" d="M923 2067l-15-3-5-4-5-8-10-27-12-23 2-10 7-7 15-3 23 4zM820 2404l-109 0-13-24-20-14-11-15-12-6-19-3-5-3-2-11-3-8-20-18-3-5 0-8 3-7 4-4 7-1 77 12 19 0 9-3 6-8 6-11 7-23-2-16-15-46 0-7 4-9 12-11 15-7 12-3 19 0 11-3 42-32 19-26 12-3 8 2 6 7 24 50 5 27 5 11 5 7 0 32-38 34-27 19-10 16-2 15 4 8 5 2 7 2 31 0 15 5 15 8 0 41-11-1-23-6-15 1-42 22-8 10-1 11zM533 2305l-15-2-7-6-5-8-1-7 4-15-2-20 4-11 12-15 18-14 53-24 4 1 8 6 7 10 6 9 3 12-2 23-8 19-6 10-4 3-46 11-12 13zM487 2362l-11 3-12-4-9-6-8-16-1-15 4-12 10-9 8-3 11-1 12 4 9 9 4 12 1 15-4 12-6 7z"/><path fill="#EA8352" d="M537 2298l-8 2-8-2-6-5-4-7 1-8 6-15-3-12 0-7 6-14 16-15 23-11 11-2 12 0 17 7 7 8 4 11-2 16-6 11-9 9-10 6-32 9-9 14zM487 2359l-11 2-8-2-11-8-6-12-2-11 3-12 6-7 10-6 11-1 8 3 8 6 5 9 2 12-1 11-6 10z"/><path fill="#CD452F" d="M533 2291l-9-2-3-3 0-4 1-4 10-11-8-20 1-10 6-9 14-11 19-7 15 0 15 7 5 7 2 8-2 12-5 7-7 8-12 6-11 3-20 2-3 2-3 14zM479 2359l-7-1-8-4-8-8-4-11 0-11 4-10 6-5 10-5 7 0 10 5 7 7 4 12-1 11-4 11-8 6z"/><path fill="#A5221F" d="M479 2355l-7 0-7-4-9-12 0-18 7-9 6-3 10-1 8 4 8 12-1 19-5 8z"/><ellipse cx="482" cy="2019" rx="7.1" ry="23" fill="#fff"/><ellipse cx="519" cy="2073" rx="30.1" ry="3.8" fill="#fff"/><ellipse cx="561" cy="2171" rx="33.9" ry="3.8" fill="#fff" transform="rotate(-27 561 2171)"/><ellipse cx="646" cy="2084" rx="6.6" ry="6.6" fill="#fff"/></g></g><path stroke="#fff" stroke-width="7.5" d="M577 1900zm-3-5zm-10-2zm-1 4zm-2 4zm-4 2zm-12 0zm-1-4zm-2-5zm-20 18zm7 3zm2-3zm3-4zm7 23zm3-3zm1-21zm1 14zm2 4zm0-1zm28-20zm1 4zm6 17zm3 3zm0-6zm3-3zm0-5zm1 15zm5 0zm2 0zm2 1zm15-13zm0 4zm44-8zm1 4zm3-4zm1 10zm1-5zm1 3zm81 26zm-3 3zm-1 4zm-2 1zm-1 3zm-2 1zm-10-1zm-2-4zm-24-4zm-5 0zm-18 5zm-1-5zm-2-4zm-3-3zm-7 4zm-49 3zm-1-4zm-1-5zm-25 4zm-4-3zm-10 17zm-4 0zm0-17zm-33 10zm-4-1zm-5 2zm0-4zm-3 2zm0 4zm-1-3zm-22 6zm-19-21zm-5-1zm-4 0zm-3 4zm76 45zm7-16zm4 2zm4-1zm12 17zm2-16zm2-11zm2 9zm5 0zm59 17zm3 1zm4-3zm10-11zm5 0zm4-2zm16 3zm4 3zm3 1zm1-2zm1-2zm3-3zm0 3zm1-7zm1 16zm3-3zm3-3zm5 1zm3-7zm12-4zm0-4zm0 14zm5-1zm1-12zm0 3zm2-4zm8 4zm4-3zm12 51zm-18-4zm-2 4zm-17-21zm-3 2zm-6 4zm-3 3zm-6-10zm-4 2zm-4 1zm-10 9zm-2 8zm-2-7zm-2 9zm-3-8zm-19-18zm-85 2zm-4 2zm-3 3zm-18-2zm-1-5zm-9 21zm-2 4zm-4-16zm-1 5zm-2 4zm-111 2zm-3 4zm-3 30zm3-3zm2-8zm3 3zm13-14zm3 6zm2-4zm1 2zm0 4zm16 5zm2-4zm0 3zm1 4zm0-9zm10-1zm4 2zm4-2zm3 16zm2-16zm9 0zm2 4zm2 4zm1 4zm9-19zm3-3zm22 0zm4 1zm58 17zm4-1zm19 5zm3-3zm53-17zm3 3zm5 3zm0 8zm1-4zm0 9zm-29 33zm-4-2zm-5-1zm-4 0zm-17-17zm-5-1zm-4-2zm-2-3zm0 4zm-2-2zm-12 3zm-5-1zm-2 12zm-1-4zm-1-7zm-1 3zm-4-3zm-42 0zm-5-1zm-3 3zm-1 4zm-8-8zm-3-3zm-18 22zm-2-16zm-2 15zm-1-12zm-1 6zm-3 8zm0-12zm-4 13zm0-12zm-1-7zm-2 4zm-2 4zm-35-8zm-11 12zm-5 1zm-4-2zm-4 2zm-14-15zm-1 4zm-9 40zm1-4zm3 3zm3-12zm8 18zm2-4zm1-16zm1 12zm3-15zm10 19zm4-14zm4-1zm1 4zm24 9zm8 1zm10-20zm4 2zm2 16zm0 5zm102-10zm1 4zm2 4zm3 3zm287-5zm4 0zm-339 24zm-8 8zm-1-9zm0 5zm-23-6zm-2 4zm-3 3zm-3-14zm-4-1zm-4 2zm-6-6zm-5-1zm-22 23zm-5-1zm-4-2zm-11-4zm-2 4zm-1-8zm-4-1zm-12-1zm-6 5zm-1-4zm-17 9zm-2-4zm-4-3zm0 0zm-1 6zm-2-9zm0-1zm-2 3zm0 4zm-2 7zm30 16zm3-3zm3-3zm4 0zm16 22zm3-3zm9-1zm30-13zm9 11zm15-12zm7-9zm3 18zm2-18zm1 15zm3-4zm-69 21zm-2 7zm-3-2zm-5 10zm-3 3zm-2-17zm-1 21zm-1-25zm0 0zm346 70zm-1 5zm-141-11zm0-5zm-32 33zm57 34zm-2 3zm-4 3zm183 22zm3 3zm-213 27zm-4 2zm-5-1zm-128-12zm-4 2zm-3 3zm-3 4z"/><path stroke="#74A6DF" stroke-width="7.2" d="M772 1959zm-22 14zm16-7zm8 5zm-24 26zm-6-3zm-16 7zm-16-5zm-2 15zm-20 25zm29-16zm87 4zm86 43zm-71 0zm-134-1zm-7-17zm-21 15zm-7 4zm-38 19zm11-2zm11 1zm38 3zm4-17zm72 15zm140-15zm-54 36zm-205 9zm-19 4zm-7 4zm0-14zm-16 10zm235 32zm-15 29zm-274-4zm-15-1zm-11-2zm-3 27zm6-4zm67 9zm97-6zm93-2zm3-7zm32 37zm-60 0zm-269-8zm-10 17zm-11-1zm7 6zm79 13zm34-12zm113 22zm29-15zm177 12zm-329 10zm-64 17zm-28-3zm-6 8zm110 1zm25 26zm20-8zm166-14zm81 8zm-82 22zm-35 1zm-273 3zm303 23zm32 19z"/><path stroke="#F6AA6A" stroke-width="7.2" d="M813 1971zm-35 62zm7 0zm20-11zm68 14zm4 33zm-9-9zm-57 39zm94 19zm-40 2zm-75 5zm-80 1zm6 12zm24 5zm1 12zm39-13zm91 1zm23-13zm1 0zm12 32zm-19 20zm-8-6zm-1 4zm-38-10zm-3-12zm-77 13zm-97 2zm-75 34zm5-3zm18-11zm31 0zm164 10zm33 8zm26-22zm17 21zm5-25zm-50 50zm-8-3zm-40-10zm-39 4zm-15 8zm-29-6zm-65-3zm-37 7zm-64-12zm-16 0zm-11 22zm1 21zm2-17zm277 17zm7 3zm22-18zm2 19zm10-23zm54 40zm-18 10zm-45-4zm-9-22zm-36 14zm-179 8zm-6-3zm-89 6zm64 9zm69 18zm4 3zm15-16zm34 6zm30 10zm25-15zm11 5zm73 10zm9-1zm5 12zm-34-4zm-20 11zm-8-1zm-6 10zm-15-25zm-9 25zm-14-9zm-4-14zm-37 9zm-25-9zm-6 8zm-1-1zm10 32zm9-4zm4-6zm3-1zm6 5zm6 7zm11-10zm2 2zm26-4zm9 7zm28 11zm5-12zm25 7zm36-13zm-64 29zm-17-2zm-32 6z"/><path stroke="#D85436" stroke-width="7.2" d="M793 1965zm3 4zm2 87zm-6-1zm-75 15zm91 6zm41 11zm9 12zm34-4zm-60 25zm-70 5zm-48-23zm148 47zm5-16zm11 8zm-49 28zm-110 6zm-111-4zm-23-5zm-1 10zm63 28zm4-6zm69-7zm62-4zm41 4zm5 9zm49 7zm-29 12zm-54 11zm-91 4zm-54-16zm-46 12zm-11-8zm-14 12zm-3 1zm-8 4zm-7-14zm0-12zm0 10zm-2-10zm-64 30zm2 3zm2 4zm10 1zm8 14zm5-20zm0 18zm10-18zm8 9zm50 6zm159 2zm84-7zm33-10zm0 29zm-13 11zm-55-13zm-25 13zm-128-1zm-32 0zm-10-16zm-44 2zm-33 19zm-18-11zm-42 44zm79-5zm11-16zm24 19zm79-14zm29 3zm31 2zm8-7zm11 6zm55 8zm12 4zm37 27zm-36-14zm-14 1zm-18 15zm-68-7zm-21 2zm-159 0zm-13-10zm-33 0zm-4 5zm73 24zm0-5zm16-8zm204 20zm40-8zm15-7zm-101 38zm-25 7zm-78-12z"/><path stroke="#FDE3A3" stroke-width="6" d="M855 2007zm-12-14zm-15 1zm-63 18zm-28 22zm14 6zm7-12zm16 3zm7 11zm2-21zm0 5zm32 11zm20-1zm57 29zm-33-16zm-14 6zm-16 7zm-31-6zm-23-4zm-18 5zm-5-13zm-6 3zm-28 18zm-32 29zm36-3zm8-18zm7 16zm3 2zm6-12zm4 9zm6 9zm18-2zm23-1zm39-3zm10 5zm6-11zm53 23zm-11-1zm-42 3zm-12 6zm-18 10zm-35-15zm-54-4zm-26 3zm-40 10zm-31 33zm22-8zm42 5zm5-18zm6 2zm14 16zm4-20zm2 4zm48 19zm2-15zm12 1zm52 3zm26-6zm23 6zm-20 22zm-5 16zm-46 3zm-15-11zm-5 3zm-22-15zm-16 1zm-5 3zm-4-5zm-20 3zm-5 20zm-6-6zm-13-2zm-3-10zm-7 7zm-7-14zm-44 8zm-22-2zm-17 15zm-1-13zm-26 31zm40 8zm9-11zm27-2zm63 4zm30 12zm35-7zm11 10zm24-10zm18 7zm63-9zm7 10zm-3 14zm-6 11zm-5 2zm-65-2zm-114-4zm-5 7zm-30-10zm-17 7zm-5-4zm-48-14zm-4 32zm15-6zm8 26zm1-23zm10 9zm3 10zm3-23zm9 23zm11-19zm14-1zm29 2zm29 20zm12-16zm5 7zm86 7zm49-10zm-35 32zm-76-2zm-6 6zm-54-14zm-4 6zm-29-2zm-77 2zm-2 1zm-19 0zm-10 5zm-72-8zm-2 14zm-49-2zm45 5zm10 2zm51 3zm9 14zm39-1zm55-1zm13-11zm3-3zm49 3zm37-6zm28 27zm16-17zm21 3zm41-10zm-43 37zm-59-11zm-33 1zm-62 1zm-4 14zm-18 8zm-30-19zm-88 16zm-2-4zm-8-16zm-1 20zm24 8zm32 6zm21 11zm2-10zm76-3zm18 20zm13-1zm34-2zm11-15zm8 15zm-28 27zm-12-3z"/><path stroke="#244DAF" stroke-width="7.2" d="M649 1895zm0-4zm-6-4zm-17 11zm-46-4zm-4-1zm-14 9zm-37-6zm-2 21zm27-7zm14 21zm8-2zm5-1zm10-10zm1 10zm20-13zm3-2zm16-9zm13 12zm5 11zm3-22zm6 24zm40-16zm13 11zm9-9zm15 13zm6 2zm25 11zm-11 6zm-2-4zm-3 10zm-1-1zm-2-16zm-4 3zm0-7zm-34 13zm-4 12zm-34-2zm-5-21zm-7 11zm-30-10zm-2 13zm-34-10zm-14 19zm-4-1zm-17-16zm-26 6zm-20-2zm-19 3zm-2-5zm-2 13zm-4 0zm-4 1zm-6-12zm-40 25zm8 12zm1-1zm4-4zm9-10zm51 10zm10-15zm75 12zm2-6zm7 6zm29 6zm12-15zm12 12zm15-7zm17 8zm22 10zm20-18zm0-1zm-27 38zm-6-13zm-5 21zm-12-3zm-27 0zm-4 4zm-8-11zm-7-15zm-32 1zm-28 8zm0 5zm-4-3zm-3 3zm-10 6zm-13 2zm-5-15zm-3-1zm-7 4zm-61 2zm0-3zm-6 10zm-12-4zm-5-15zm-1 13zm-6 3zm-11-13zm-8 15zm-1 14zm47 10zm8-13zm3 25zm5-12zm1 8zm20-22zm6 20zm2 6zm22-11zm12-3zm10 7zm23-9zm23-8zm16 5zm6 19zm10-15zm18 5zm1-10zm27 1zm5-7zm-2 38zm-15-7zm-14 17zm-30 1zm-14-1zm-19-15zm-11-3zm-13 23zm-1-19zm-16 7zm-25 7zm-17-10zm-13-4zm-11 0zm-37-5zm-13 0zm-3-1zm-1 4zm-5 14zm-6-4zm-9 6zm4 21zm13-10zm7-2zm23 20zm1-22zm29 18zm14 7zm24-16zm46 10zm15 0zm8-14zm17 7zm10-6zm2-2zm-22 29zm-14 2zm-34 17zm-76-6zm-27-15zm-14 6zm-14 1zm-2 7zm-5-3zm-5 11zm-15 17zm8 6zm73-16zm6 15zm22 6zm5-6zm2-8zm3 12zm8 20zm-4 3zm-6-14zm-17 2zm-7-3zm0 24zm-10-14zm-26-7zm-3 15zm-9-14zm-8 17zm-8 14zm4 11zm63-14zm2 1zm9 4zm5-10zm1 0zm-29 26zm-27 14zm-6-12zm0 7zm-5 8z"/><path stroke="#FDE3A3" stroke-width="7.2" d="M837 2008zm-12 1zm-6-7zm-21-6zm-15 9zm-13 8zm-18 28zm35-10zm36-8zm1 17zm7-5zm41 4zm37 28zm-67-13zm-9-10zm-13 4zm-33 3zm-41 6zm-11-3zm-39 11zm37 30zm16 2zm2-20zm11 16zm13-9zm10 0zm25-4zm3 11zm14-4zm2-10zm48-4zm46 52zm-4-22zm-14 4zm-12 3zm-13-2zm-14-6zm-33 2zm-21 5zm-13 1zm-21 9zm-46-7zm-4-6zm-23 3zm0-1zm-20-2zm-7-1zm-22 9zm-5-4zm-50 42zm21-5zm33-12zm42 4zm38 16zm25-22zm21-3zm9 13zm71 4zm14-17zm3 6zm38 19zm-82 24zm-15-21zm-62 7zm-36-1zm-1 4zm-27-9zm-31 2zm-57 1zm-4 17zm-5-23zm-5 12zm-7 8zm-1 7zm0-1zm16 12zm12-3zm10-1zm0 19zm16-15zm6-8zm76 18zm7-12zm2 10zm2-12zm6 15zm14-7zm17-6zm38 0zm23-1zm23 13zm1-17zm23 19zm30-4zm-18 20zm-37 14zm-13-18zm-13 12zm-40-16zm-20 23zm-27 2zm-32-14zm-38-4zm-21 4zm-17-12zm-1 9zm-13-3zm-105 34zm2 14zm105-9zm0 9zm2-16zm14 8zm16-18zm14 14zm13-14zm9 22zm16-20zm15 23zm103-24zm78-1zm-59 52zm-29-24zm-112 14zm-46 7zm-3-11zm-7 13zm-6-15zm-15 11zm-38-9zm-8-3zm-65 18zm-17 0zm-25-15zm-4 15zm17 5zm1 1zm24 4zm9-6zm8 16zm10 9zm23-6zm71-19zm28 15zm10 6zm57-8zm20-7zm10 2zm20-9zm40 10zm4-10zm69 0zm-26 30zm-75-3zm-10 12zm-88 7zm-25-12zm-40 11zm-15 9zm-23-7zm-28-20zm-17 3zm-8 24zm-11-14zm38 22zm61 4zm1-9zm10 2zm5 14zm2-16zm187 0zm-12 26zm-71 9zm-9-8zm-7 9zm-34-7zm-66 1zm-64-4z"/><path stroke="#A0C7EB" stroke-width="7.2" d="M776 1965zm18 0zm20 9zm6 22zm-68-1zm-30 18zm-4 18zm14 10zm42-24zm2 17zm87 5zm-59 21zm-37-2zm-68 2zm-19-9zm-44 46zm12 0zm15-7zm1-12zm27 7zm10-7zm33-1zm93 9zm76-11zm5 8zm-157 38zm-148-9zm-58 36zm30 1zm43-5zm5-9zm8-2zm5 3zm50 7zm36-7zm198 35zm-66 9zm-213-16zm-104 13zm-3 19zm87-11zm61 5zm178 14zm24 14zm-86-6zm-298 26zm-25-2zm111 25zm167 1zm118 32zm-330-12zm-78-10zm-2 42zm62-13zm236 10zm-201 23zm-51-6zm-23 15zm-21-19zm0 21zm170 29zm3-12zm155-5zm-34 31zm-163-7z"/><path stroke="#F6AA6A" stroke-width="6" d="M856 2025zm-10 56zm34 12zm0 22zm-5-5zm-61 2zm-5 26zm12-4zm85-3zm-6 52zm-12-10zm-68-6zm-2 10zm-6-10zm-32-9zm-39 20zm-6-1zm-58-16zm-89 41zm146-15zm58 15zm12 3zm51-7zm10 13zm6-18zm28 4zm10-8zm-70 27zm0 17zm-6 5zm-10-6zm-27-1zm-26 3zm-32-18zm-1 12zm-135 33zm2-7zm5 0zm103 12zm21-14zm12 12zm39-23zm0 19zm22-19zm19 7zm9-4zm10 3zm1 2zm0 7zm5-11zm3 10zm7-9zm25-6zm-75 52zm-16-4zm-12-3zm-126-2zm-105-3zm-38-8zm48 27zm30 13zm23 11zm10-20zm29 6zm78 9zm4-2zm54-20zm38 11zm40 6zm8 10zm-15 13zm-7 3zm-39 12zm-5-23zm-4 22zm-36-23zm0 12zm-19 8zm-14-13zm-48 15zm-132-14zm124 20zm67 18zm22-17zm17 11zm20 7zm27-15zm-72 36zm-38 11zm-92-23z"/><path stroke="#74A6DF" stroke-width="6" d="M769 1959zm-32 20zm25-14zm-18 40zm-9-11zm-60 34zm31-9zm1 4zm87-4zm-121 27zm-238 45zm214-15zm3-3zm1 5zm23 14zm3-8zm244 35zm-59-15zm-238 1zm-29 38zm132 2zm66 11zm-159 0zm-90 2zm-3-1zm-2-1zm-17 33zm19 13zm373-10zm-410 23zm-9 3zm-2 2zm-7 1zm-14-4zm-20 29zm51 18zm94-23zm15 14zm138 37zm-287-15zm286 36zm32 9zm46-17zm3 32zm-255-1zm5 37zm150-3z"/><path stroke="#CEE2EE" stroke-width="6" d="M785 1963zm32 16zm-20 32zm-84 8zm0 23zm68 17zm-59 9zm-14-8zm-25 1zm-22 22zm28-5zm26 12zm1 9zm13-17zm121 3zm51 3zm-157 35zm-12-4zm-3 6zm-1 1zm-22-9zm-4-16zm-16 7zm-3 3zm-53 4zm-25 8zm13 22zm61 6zm15-13zm95 10zm121 13zm-199-4zm-84-1zm-16 1zm-50 18zm-3-14zm-24 40zm133 9zm3-8zm20-17zm8 21zm210-19zm-172 28zm-35 17zm-11-8zm-2 6zm-25-17zm-11 20zm-134-18zm-18 21zm-5-24zm41 50zm273 2zm-124 12zm-136-8zm-71 23zm0 16zm29 8zm40 7zm9-6zm23 3zm62 19zm-50 13zm-34-22zm-13 7zm-37 7zm78 20zm5 13zm1-18zm4 15zm47-21zm12 20zm2-18zm-28 35zm-23-8zm89 32z"/><path stroke="#BF3326" stroke-width="6" d="M721 2032zm151 6zm19 31zm-143-13zm82 35zm76 1zm-18 30zm-3-7zm-80 9zm-49-3zm-15-2zm-91 29zm26 6zm206-7zm-15 29zm-1-18zm-67 17zm-4-6zm-5 12zm-121 1zm-27-2zm-20-16zm-41 8zm-9 34zm15 2zm7 0zm64-10zm12-6zm88 0zm105 11zm26-18zm-34 51zm-71-15zm-36 7zm-163 10zm-2-24zm-67 39zm31-3zm37-7zm11 0zm42 12zm176 3zm90 1zm-6 10zm-31 7zm-38-6zm-123 8zm-53 15zm-98-12zm-59 10zm-13-5zm-11 1zm-11 34zm1-3zm135-15zm93 11zm4-7zm30 12zm153-15zm-6 44zm-23-15zm-4 14zm-76-4zm-51-4zm-7 9zm-77-2zm-110-2zm-26-11zm-8-1zm134 33zm55 7zm25-7zm0 13zm3-3zm39-21zm67 29zm-43-2zm-8 16zm-62 2zm-31-12z"/><path stroke="#3263BF" stroke-width="6" d="M574 1898zm-3-2zm-4-3zm-14-3zm-49 22zm36 7zm37 0zm7-13zm10 13zm3 4zm46-10zm40 1zm97 42zm-29 3zm-10-16zm-12 3zm-117 11zm-150-14zm-35 33zm21-2zm13-4zm67-4zm57 5zm41 11zm5-13zm99-6zm12 0zm9 5zm2 12zm-61 34zm-9-1zm-8-14zm-125 11zm-59 2zm-58-22zm-3 1zm-4 0zm-16 12zm-10 24zm35-1zm98-4zm4 14zm55-9zm51 16zm20-11zm1-3zm17-3zm1-6zm0 23zm-6 7zm-56 15zm-41-8zm-54-8zm-60 11zm-40-13zm-7-1zm-6 5zm-14 20zm-6-12zm-11 3zm15 22zm12 15zm11-12zm17 1zm3 11zm18-16zm50 13zm6-7zm86-10zm3 5zm3-8zm1 14zm15-13zm18 9zm-41 23zm-27 13zm-5 0zm-2 3zm-72-2zm-43-1zm-8-14zm0 17zm-15-15zm-17-1zm39 27zm58 18zm35-7zm4 7zm3-21zm24-5zm-62 48zm-4-8zm-38 1zm-9-3zm-40 8zm15 36zm26-21zm5 0zm17 18zm19 1zm-33 16zm-9 10zm-7 3zm-5-14zm-1 3z"/><path stroke="#FAC986" stroke-width="7.2" d="M840 1988zm-6 20zm-25-19zm-5 21zm-4 4zm-17 1zm-46 18zm16 8zm31-25zm21 21zm10-2zm12 6zm29 15zm-22-10zm-63 15zm-29-2zm4 30zm11-15zm111 25zm4-18zm18 1zm3 4zm16 5zm-15 30zm-12 3zm-50-14zm-19 0zm-35 17zm-12-11zm-3 6zm-57 31zm44-16zm16 8zm11-1zm19-7zm12 4zm2 6zm26 7zm7-22zm15-4zm15 19zm28 8zm20-9zm-54 11zm-29 8zm-13 1zm-1-1zm-5 4zm-4-13zm-42 1zm-3 4zm-36 8zm-12-8zm-25 1zm-35-3zm-16 21zm-17-1zm-6-10zm-19-3zm-6 37zm39-3zm84-5zm12-2zm0-1zm0 4zm16-6zm7 5zm18 8zm11-2zm6 7zm13-21zm78 16zm19-13zm7-3zm5 30zm-20-4zm-40 6zm0-4zm-3 8zm-8 14zm-13-23zm-5 3zm-3 13zm-72-10zm-122 15zm-5-18zm-23 0zm-81 13zm-25 30zm14 2zm97-1zm18-8zm10-12zm72 3zm6-4zm8 14zm33-13zm1-1zm18 25zm7-10zm2-1zm12-10zm8 12zm2-1zm1-6zm3 1zm7 8zm37-6zm41-7zm6 40zm-3-10zm-26 20zm-1-27zm-20 11zm-29 1zm-51-8zm-5 4zm-13 15zm0 1zm-46-21zm-18 4zm-9-6zm-4 18zm-7-9zm-22 0zm-32-4zm-19 21zm-5-11zm-85-2zm-38-14zm1 35zm14-3zm53 1zm23 16zm29-16zm18 7zm1 3zm15-6zm4 18zm2-14zm28-12zm32 20zm43 6zm1-22zm49-2zm12 4zm4 3zm64 27zm-5 11zm-19-9zm-9-6zm-2 15zm-78-10zm-7 16zm-16-12zm-21-12zm-42 7zm-30 3zm-118-8zm42 24zm114 4zm13 20zm25-17zm55 20zm11-1zm1-26zm11 15zm40-11zm10 0zm-55 31zm-34 18zm-17-10zm-14 6zm-3-13zm-29 2zm-14-10zm-1 17z"/><path stroke="#A5221F" stroke-width="7.2" d="M630 2124zm245 54zm-320 58zm-4 11zm38-5zm94 33zm-104 7zm-110 33zm14-3zm3 6zm10 7zm-26 12zm-2-12zm-14-1z"/><path stroke="#244DAF" stroke-width="6" d="M652 1901zm-16-2zm-54-2zm-83 27zm2 6zm31-4zm19-6zm36-3zm16 14zm38-5zm1-9zm1-7zm68 3zm17 11zm12 16zm-5 19zm-33-10zm-5 10zm-2-7zm-3 0zm-32-17zm-17 3zm-12 0zm-52 12zm-7 9zm-39-6zm-16 0zm-10-13zm-5-2zm-18 15zm-1-8zm-4 9zm-22-2zm-32 35zm11-11zm2-11zm12 7zm50 9zm11 2zm34-13zm34-10zm16 19zm16-19zm2 6zm24 18zm31-4zm18-16zm3 13zm6 4zm-10 25zm-38 8zm-8-9zm-6-6zm-6 6zm-33-7zm-3-6zm-95-1zm0 12zm-16-14zm-17 6zm-6 2zm-19-7zm0 14zm-4-16zm-7 8zm-23 26zm12 10zm2-3zm6 1zm28-11zm74 16zm3 8zm28-24zm56 22zm6-23zm15 15zm17-7zm2-2zm-15 40zm-1-3zm-5-13zm0 8zm-3-8zm-11 0zm-11 17zm-23-8zm-2-12zm-5 9zm-4 11zm-12 3zm-11-3zm-3-12zm-6-9zm-9 24zm-69-15zm-11 16zm-18-16zm-6-7zm-17 6zm-5 6zm-6-5zm-6 15zm12 22zm1-10zm13 9zm0-4zm13-8zm10-2zm14 24zm7-25zm7 2zm4 15zm24-10zm31 8zm5 1zm2 0zm25-17zm6 6zm28-2zm6 17zm5-8zm11-12zm17-1zm-67 41zm-1-9zm-8 15zm-3-8zm-1 13zm-8 2zm-2-10zm0-8zm-34 10zm-24-10zm-14-6zm-27 23zm-1 0zm-29-18zm-12 8zm-3 8zm-10 9zm27 15zm2 5zm31-22zm8 9zm38 3zm14 0zm4 2zm3-2zm10-5zm13-8zm28 2zm-26 26zm-30 14zm-12 7zm-11-15zm-17-6zm-24 19zm-18 4zm-4-15zm-1 17zm-7-18zm9 25zm12-1zm5-3zm8 23zm2 0zm16-9zm8-8zm8-4zm-23 27zm-15 1z"/><path stroke="#E97E4F" stroke-width="7.2" d="M845 2026zm-28 41zm-8 2zm-66-25zm77 70zm-105 30zm18-1zm22-1zm106-6zm38 0zm-5 30zm-78-7zm-51 23zm-40-18zm-49 13zm-109 27zm7 0zm16-4zm140 5zm41-17zm31 13zm46-8zm8 2zm31-9zm-26 44zm-36-10zm-69 4zm-232 7zm38 33zm36-8zm31 2zm6-7zm127 0zm136-4zm-140 36zm-196-8zm-27 17zm-6-4zm-5-16zm-2 3zm-68 40zm297-2zm83 36zm-18-17zm-57 17zm-37 0zm-106 19zm138 0zm7 3zm2-11zm6 17zm50-15zm-33 22zm-11 10zm-21-4z"/><path stroke="#CEE2EE" stroke-width="7.2" d="M765 1977zm20-15zm0 3zm-17 35zm-20 1zm-6 5zm-33 29zm17-17zm6 19zm1-10zm8 1zm15-12zm14 0zm32 26zm38-4zm-102 22zm-9-6zm-37 11zm-4 6zm-11 13zm11-2zm16-5zm37-1zm39 6zm-2 36zm-10-14zm-78 18zm-34 3zm-11-17zm0 8zm-13-3zm-5-6zm-1 14zm92 7zm6 15zm-121 17zm-67 20zm-30 22zm38-2zm14-14zm79 22zm13 3zm2-1zm11-23zm17-2zm4 16zm4-1zm24 3zm8-3zm-26 21zm-6-6zm-1 1zm-6 6zm-194 17zm-24 24zm19-4zm239 8zm116-21zm-23 29zm-340-7zm-10 3zm35 40zm58 11zm61 0zm42-18zm-55 23zm-27 13zm-41 8zm15 4zm16 12zm5 5zm14 10zm3-18zm18-2zm30 7zm12-3zm8 8zm142-16z"/><path stroke="#A5221F" stroke-width="6" d="M905 2085zm-66 20zm-267 52zm219 62zm-234 18zm-23 0zm22 17zm124-11zm-219 71zm2 8zm30 7zm-10 10zm-9 3zm12 10zm195 33z"/><path stroke="#3263BF" stroke-width="7.2" d="M611 1897zm-5 2zm-45-2zm-46 18zm45-11zm76 5zm3 5zm15 11zm95 34zm-4-6zm-52-12zm-16-9zm-94 26zm-61-12zm-60 31zm38-6zm8 3zm123 11zm80-16zm1 18zm6-15zm1 16zm-11 5zm-19 13zm-14 8zm-231-19zm-12-4zm-16 7zm4 44zm15-19zm23 7zm201 11zm26-4zm0-3zm-9 13zm-12 5zm-8 1zm-3 12zm-17-12zm-21 10zm-6 7zm-8-8zm-74-7zm-8 12zm-82-4zm-5 6zm-42-4zm7 15zm25 11zm6-16zm41 3zm93 20zm38-14zm41-7zm-54 27zm-106 2zm-12 21zm-21-18zm-21-2zm-1 19zm-16-16zm-5-1zm-11 37zm151-9zm-22 28zm-12 15zm-8-9zm0-14zm-10 26zm-1-19zm-20-2zm-46-4zm-28-2zm40 32zm33 20zm20-6zm14-17zm2 12zm-60 42z"/><path stroke="#FCF4C4" stroke-width="6" d="M788 1962zm43 42zm0-3zm-14 10zm-29-23zm-12 19zm-7-18zm-18 10zm-16 14zm9 3zm4 7zm15 4zm39-8zm12 18zm49-6zm-9 23zm-49 15zm-15-7zm-5 7zm-3-4zm-28 5zm-6-1zm-5-19zm-14-4zm-7 12zm-9-2zm-9 28zm5 10zm12-20zm30 18zm27-16zm47 3zm0 15zm3-6zm12-7zm50 10zm25 16zm-55-2zm-14 21zm-9-2zm-15-24zm-64 8zm-43-3zm-31 6zm-69 31zm0-3zm48-5zm2-4zm3 19zm246-7zm-7 26zm-174-3zm-11-8zm-14 18zm-33-16zm-47-1zm-20 19zm-13-14zm-12 8zm30 36zm4-6zm26-13zm20 19zm29-6zm1 7zm5-18zm202 31zm-172 8zm-11-1zm-34 8zm-8-22zm-60 14zm-124 12zm170 22zm2-5zm2 6zm13-14zm56-4zm102 16zm7-8zm42-13zm9 5zm-230 30zm-12 13zm-9-20zm-163 10zm-16-8zm-5 2zm0 30zm41 10zm14-6zm115-3zm228 11zm19-4zm-18 27zm-198 12zm-16 0zm-11-1zm-30-11zm-11-10zm-16 15zm-28-11zm-14 19zm-10-7zm-4-1zm-2 3zm-11-9zm35 16zm10 19zm1-9zm28 11zm58 3zm4-5zm2 4zm78 12zm-35 6zm-1 8zm-55-5zm-2 0z"/><path stroke="#E97E4F" stroke-width="6" d="M734 2017zm89 11zm-55 40zm-93 23zm56 2zm89 8zm-41 12zm-17 1zm-103 2zm-11 11zm47 26zm40-2zm136-14zm5 6zm-45 39zm-58-11zm-239 31zm39 0zm219 7zm104 11zm-121 4zm-9-11zm-145 13zm-14-10zm-6 9zm-75 18zm67 10zm3 2zm82 7zm100-10zm4-4zm4 17zm4-10zm22-1zm52 39zm-116-3zm-194-16zm-27-1zm82 42zm179-16zm44 17zm39 6zm-61 27zm-10-5zm0 0zm-6-5zm-8-5zm-80 11zm-12-4zm-17-4zm-22 5zm-181-3zm146 31zm140-16zm22 27zm-40 15z"/><path stroke="#1F3FA3" stroke-width="6" d="M666 1901zm-18-12zm-10 7zm-3-5zm-8 11zm-7 1zm-85-5zm-10 5zm-35 25zm5 3zm0-12zm23 2zm0 7zm10-4zm6-11zm17 14zm2-17zm0-2zm5 8zm3 11zm9-14zm6 18zm5-10zm5-12zm0 16zm1-20zm12 6zm7 18zm4 1zm6-8zm1-12zm4 19zm8 2zm11-10zm3-12zm1-1zm1 0zm1-2zm3 6zm7 1zm11-7zm7 7zm8 5zm6 10zm11-4zm12-8zm1 2zm14 12zm7-5zm0-10zm6 16zm-10 28zm-4-19zm-5 1zm-9-1zm-2 0zm-2 3zm-5 10zm-1-6zm-42 7zm-2-22zm-3 6zm-1 12zm-2-10zm-17 7zm-5 7zm-1-17zm-21-5zm-13 22zm-4 5zm-5-22zm-3 22zm-8-10zm-9 2zm-10-11zm0 19zm-2-22zm-7-3zm-7 13zm-1-8zm-6 8zm-6 2zm0 10zm-24-10zm0-1zm-9-8zm-4 8zm-11 9zm-7-11zm-20 13zm-33 25zm19-12zm7-8zm2 6zm15 10zm2 2zm8-7zm1-1zm5 5zm0-5zm6 1zm2-3zm5 11zm12 1zm8-21zm4 20zm3-4zm7-15zm3 2zm2 17zm3-19zm9 10zm4-4zm20-9zm0 2zm5 7zm21 13zm5-12zm5 6zm3-1zm14 6zm10-1zm6-7zm14 7zm2-10zm19-5zm7 9zm5-11zm4 15zm28-16zm6 9zm6-6zm-44 22zm-18 25zm-15-3zm-4-11zm-6-4zm-10 9zm-13 9zm-11-7zm-5-1zm-16-9zm-1-4zm-7 6zm-10-10zm-8 12zm-1 14zm-10-24zm-5 12zm-13 8zm-2 1zm-3-7zm-7-11zm-4 3zm-1-5zm-2 14zm-17 7zm-1-15zm-1-3zm-1 5zm-9-8zm-13-1zm-5 14zm-3-4zm-11 6zm-1 6zm-5-3zm-7-10zm-18 9zm20 34zm14-18zm6 10zm8-18zm0 12zm3 13zm9 1zm12-5zm4-11zm3-10zm25 17zm8-17zm5 15zm17 7zm1-19zm0 4zm2 4zm1-10zm9 1zm0 21zm6-4zm7-14zm2 17zm37-5zm0-15zm13 20zm2 3zm3-21zm4 23zm9-21zm5-2zm-14 28zm-42-2zm0 18zm-3-10zm-5-6zm-1 23zm0-27zm-1 18zm-4-1zm-21 8zm-2-23zm-3 7zm-22-8zm-8 8zm-2 3zm-2-5zm0-5zm-2 15zm-6-12zm-7 13zm-13-9zm-5-4zm-13 8zm-6 10zm-8-4zm-4-1zm-18 2zm-24 2zm-3-9zm-14 14zm-2 14zm17 1zm3-4zm21 9zm1-5zm23-10zm1 1zm2 0zm2 22zm20-8zm3-2zm0 9zm1-24zm19 10zm22 7zm0 5zm1-15zm11 4zm1 12zm3-4zm0 3zm10-4zm10-18zm1 16zm15-13zm-21 30zm-14 10zm-17-6zm-2-1zm-1 0zm-1 13zm-1-12zm-2-3zm-10 7zm-1-9zm0 5zm-10 7zm-5-15zm-5 17zm-29-9zm-28 16zm0-21zm-2 15zm-41-11zm-6 29zm16 8zm3-19zm2 10zm4-6zm23-1zm3 4zm8 1zm12 6zm4-6zm2 12zm5 0zm5 1zm16-4zm1-5zm2 15zm2-2zm11-4zm6-11zm20-4zm-59 35zm-30 11zm-1-3zm-5-7zm-3-9zm-15 19zm-9-19zm4 30zm4 0zm4-5zm6 22zm0-12zm1-3zm2 13zm2-8zm12 10zm6-2zm4-18zm2 9zm4-8zm25-2zm3 4zm-17 24zm-24 11zm-4-12z"/><path stroke="#FAC986" stroke-width="6" d="M807 1977zm33 20zm-18 11zm-6-15zm-74 49zm30-24zm56 1zm69 37zm-14 7zm-13 3zm-12-18zm-6 8zm-28-10zm-40-2zm-21 20zm-17-2zm-3 13zm34-2zm47 13zm34 10zm7-3zm1 1zm24-11zm2 22zm-30 17zm-4-6zm-19-16zm-3 26zm-2-22zm-12 10zm-48 6zm-10 3zm-15-16zm-71 22zm10 22zm19-7zm26 10zm37-24zm8 4zm3-2zm14 10zm12-10zm9 16zm16 6zm44-23zm10 19zm22-5zm-17 15zm-19 15zm-2-1zm-8 2zm-1-8zm-23-9zm-25 14zm-18-10zm-9 8zm-4 10zm-1-3zm-39-11zm-61-6zm-7 7zm-20-11zm-113 48zm53-7zm5-6zm23 12zm25-14zm114 21zm8-24zm11 7zm37 0zm9 8zm13-9zm30-8zm8 18zm3-11zm6 7zm8-13zm7 7zm0 25zm-52-5zm-9 0zm-10 10zm-35 12zm-2-7zm-20 7zm-3 2zm-17 2zm-106-20zm-18 18zm-1-15zm-16-5zm-6-2zm-4 46zm8 6zm91-9zm37-2zm9-5zm13-6zm5 16zm13-14zm34 6zm65 4zm4-10zm4 3zm3-4zm9 15zm-59 28zm-5-7zm-3-2zm-19 4zm-1-6zm-39 7zm-17-14zm-24-3zm-11 20zm-4-7zm-54-11zm-20-1zm-15 0zm-42 8zm-10 15zm-72-3zm-4-20zm73 40zm39-13zm22 8zm5 1zm18 6zm7-10zm2-3zm15 8zm46 15zm21 2zm52-23zm16 20zm20-5zm7-8zm24-5zm-23 46zm-4-7zm-3-6zm-6-5zm-3-5zm-6 4zm-4-2zm-11 5zm-7 10zm-14-2zm-5-4zm-8-9zm-34 3zm-15 18zm-1-1zm-10-15zm-44 19zm-18-13zm-14 2zm-18-13zm-75 20zm-1-16zm-27 7zm-7 2zm36 17zm144-5zm0 18zm4 7zm3 0zm3-1zm66-10zm20 13zm3-10zm9 9zm45-24zm26 1zm-93 36zm-8-8zm-62 7zm-21-8zm-6 3zm-3 5zm-5-5zm-10 13zm21 54z"/><path stroke="#D85436" stroke-width="6" d="M778 1984zm21-3zm-3 10zm42 79zm-34-1zm-57-16zm-13 4zm-6 11zm-8 7zm12 12zm90-7zm47-1zm11 42zm-182-14zm-64 37zm114-8zm73 0zm96 13zm-28 25zm-306 22zm22 6zm55 7zm3-24zm159 0zm24 0zm70 4zm-49 44zm-2-5zm-13-1zm-25-2zm-15 12zm-28-20zm-19 12zm-79 8zm0-17zm-8 2zm-8 14zm-72 0zm-18-19zm-4 20zm-61-21zm8 43zm15-10zm47 14zm8-10zm6 8zm2-19zm128 13zm27-14zm52 23zm50-5zm-8 18zm-149-1zm-35 10zm-88-1zm-24-17zm-10 1zm-8 4zm-2 17zm-7 3zm-10 0zm-19 1zm-9-9zm-14 34zm57-23zm97 10zm64 10zm3-7zm50 4zm44-13zm16 48zm-58 0zm-2-19zm-92 16zm-187-14zm284 33zm14-2zm66-9zm-70 37zm-128 1z"/><path stroke="#BF3326" stroke-width="7.2" d="M737 2017zm86 8zm31 8zm12 0zm-25 24zm-24 13zm-9-6zm-75 6zm-3 25zm52-23zm88 16zm3 8zm15-19zm18 5zm-50 35zm-2 9zm-52-26zm-86 20zm-41-3zm-72 33zm45-20zm16 10zm109 4zm68 6zm49 0zm-13 8zm-145 24zm-6-7zm-118-6zm-6 4zm-20 17zm25 15zm0 1zm119 3zm10 2zm6-20zm13 18zm59-22zm92 20zm-26 15zm-51 15zm-62 1zm-102-5zm-12 3zm-47-8zm-19-11zm-23 7zm-25 15zm-77 18zm23 0zm17 4zm27-21zm19 17zm38-8zm7 4zm19-5zm15 10zm156-6zm72 6zm9 4zm-27 18zm-15-12zm-73 6zm-59 7zm-81-10zm-10 5zm-133 5zm-16 14zm7 24zm1 2zm14-12zm5 10zm2-17zm22-2zm10 12zm94 3zm9-2zm8-5zm15 5zm111-5zm55 1zm5-6zm-26 36zm-16 5zm-11-3zm-83 2zm-48-5zm-9-11zm-108 18zm-24-12zm-20 2zm84 20zm50 11zm31-12zm125 21zm-39 11zm-74 4z"/><path stroke="#FCF4C4" stroke-width="7.2" d="M803 1973zm5 2zm6 20zm-51 3zm-8 5zm-26 15zm4 0zm14 1zm18-3zm35 25zm5 0zm31-12zm28 12zm-149 18zm-10-6zm-3 0zm-2 15zm-7 18zm22-3zm2 10zm7-3zm7-6zm26 5zm5-6zm26-5zm0 0zm11 19zm5-24zm67 25zm-18 12zm-53 8zm-23 3zm-2-1zm-31 1zm-8-21zm-1 2zm-3 16zm-17-2zm-8-5zm-3-10zm-2 4zm-15 10zm-99 36zm21-8zm6-1zm0 3zm16-9zm18-3zm20 12zm12-17zm15 9zm14-4zm40 13zm9-2zm67-8zm16-5zm38 47zm-111-11zm-81 13zm-19-6zm-6-15zm-2 4zm-37 20zm-10-19zm-61 21zm7 9zm4-10zm108 24zm2-11zm4 1zm9-3zm13-1zm138 10zm-146 35zm-40-22zm-15 19zm-17-24zm-159 51zm32-18zm10 18zm156-8zm9 10zm8-9zm6-9zm8-2zm1 16zm10 6zm6-27zm21 13zm110 6zm15 31zm-1-6zm-150-14zm-47 25zm-2-2zm-163-22zm-5 21zm-11-11zm-5 19zm13-1zm55 5zm15-1zm41 10zm74 10zm153-23zm58 10zm-218 25zm-11 9zm-41-17zm-7 2zm-50 22zm-14-4zm-7-13zm-15 0zm29 37zm27-13zm20 2zm15 14zm12 1zm92 20zm-71 8zm-22-20zm-9-3z"/><path stroke="#4A81D0" stroke-width="6" d="M638 1899zm139 60zm-346 25zm12-5zm257-2zm27-4zm19-7zm6 17zm5-9zm-33 18zm-9 13zm-5 9zm-14-22zm-293 38zm87 13zm110-25zm82 6zm10 30zm-26 7zm-26 1zm-191-13zm-15 23zm2 7zm149 17zm35-10zm3-4zm33 12zm7-12zm-56 33zm-9-6zm-24 0zm-154 11zm-10-2zm51 24zm80 3zm4 4zm2 2zm7 0zm5-3zm-18 8zm-12 14zm-42 20zm30 9zm1 0zm5-11zm5 2zm-86 48zm13 10z"/><path stroke="#1F3FA3" stroke-width="7.2" d="M696 1896zm-13 7zm-18-1zm-26-2zm0-13zm-42 10zm-11 4zm0-20zm-14 22zm-12 0zm-17-10zm-5 2zm-47 29zm4-8zm3-5zm1 19zm14-2zm3-7zm26 7zm5 2zm12-8zm9-18zm7 19zm8-17zm6 23zm37-11zm24-7zm4 8zm11-6zm10 14zm34-21zm0 11zm3 6zm1-15zm4-1zm15 6zm29 28zm-12-2zm-9 5zm-7 14zm-9-17zm0 17zm-4-25zm-30 14zm-2 3zm0 0zm-11-7zm-18 13zm-7-14zm-3 8zm-1-8zm-3 15zm-16-10zm-6-8zm-7 8zm-4-2zm-8-13zm-13 3zm-4 22zm-2-19zm-12-3zm0 6zm-4 6zm-3 12zm-17 0zm-11-20zm-1 19zm-1-17zm-14 4zm-3-3zm-1-7zm-14 15zm-13-13zm-17-2zm-34 21zm-8 27zm15-14zm3-6zm1 4zm4 0zm17 0zm4-1zm6 8zm0 13zm1-16zm2-6zm4 15zm12 7zm0-8zm0-6zm10 9zm10-3zm7 1zm2-14zm11-2zm24 2zm1 16zm3-8zm3 9zm9-13zm9 6zm4-13zm25 0zm12 10zm2 14zm2-14zm5-13zm6 22zm1-2zm6-11zm4-3zm2-6zm4 11zm2 5zm11-4zm0 5zm0-7zm10 12zm3-22zm2 5zm18 2zm-32 48zm-18-2zm-7-21zm-2 3zm-9 4zm-11 8zm-15 6zm-3-5zm-10-10zm-1 5zm-11-8zm0 1zm-6 5zm-6-2zm-20 11zm-1-22zm-34 22zm-12-6zm-2-7zm-2-7zm-6 14zm-4-3zm-4-13zm-1 1zm-8 2zm-1 6zm-3-4zm-6 4zm-1-5zm-7 5zm-1 3zm-1 8zm-3-1zm-4-10zm-3-8zm-15 17zm-1-5zm-7 11zm-17-1zm-10 10zm4 6zm2 5zm0 2zm4-14zm4-1zm11 9zm12-3zm1-5zm13 22zm2-11zm2-14zm6 6zm5 12zm11 8zm30-24zm8-1zm0 8zm5-9zm2-1zm4 26zm6-20zm2-1zm14 3zm1-3zm3 6zm12 10zm8-9zm9-11zm2 26zm12-11zm15 9zm8-4zm1 0zm1-7zm1 4zm9 6zm9-21zm3 16zm9-17zm-9 29zm-15-3zm0 1zm-15 4zm-3 20zm-1-17zm-6 10zm-27-12zm-2 9zm-2-1zm-2 11zm-1-7zm-3-5zm0-7zm-10 5zm-4 13zm-4-15zm0-3zm-6 20zm0-24zm-9 10zm-8 5zm-11 4zm-2-19zm-9 21zm-15-4zm-5 5zm-2 0zm-10-9zm-6-7zm-6 16zm-2-3zm-18-11zm-3-9zm-3 13zm-24-12zm-30 12zm30 30zm42-8zm10-8zm14 4zm7-2zm1 24zm10-15zm1 5zm0 2zm11-5zm0-2zm6-2zm4-2zm3 20zm5-15zm5 15zm4-16zm8 15zm17-15zm6-10zm3 24zm13-11zm6-13zm0 2zm5 21zm-33 21zm-31 0zm-4-14zm-3 10zm-19-2zm-14-4zm0 1zm-11 7zm-20 1zm-2-1zm-23 11zm-1-19zm-3 13zm-1-19zm-3 16zm-6 9zm-17-1zm-6 1zm-3 2zm5 9zm11 7zm26-3zm5-7zm16 4zm8 12zm0 3zm1-16zm8-7zm1 19zm38-10zm7 7zm9-12zm1 11zm5-15zm-32 41zm-7 4zm-14-15zm-5 13zm-5 0zm-3 1zm-6-14zm-4 19zm-5-20zm-5 19zm-21-1zm-3-16zm-12 15zm-7-11zm-4 3zm20 29zm7-8zm1 3zm17 6zm7-5zm14-5zm11 4zm-20 20zm-2 8zm-9 11zm0-4zm-3-2zm-1-8z"/><path stroke="#4A81D0" stroke-width="7.2" d="M713 1927zm36 31zm-7-2zm-197 6zm57 17zm110-2zm18 10zm26-26zm1 8zm3-3zm-33 31zm-19-7zm-10 12zm-28 25zm26-7zm-23 27zm-7 3zm-10 19zm-12-1zm-228 1zm-13-12zm-4 42zm2-22zm234 0zm0 3zm11-6zm-32 32zm-5-1zm-5 10zm-118 26zm73-8zm9 6zm0 7zm-36 12zm-38 23zm0 30zm25-24zm-61 51zm-5-3zm-2 9z"/><path stroke="#A0C7EB" stroke-width="6" d="M782 1965zm-30 37zm-22-4zm-2-7zm-39 36zm3 4zm26-13zm36 18zm41-12zm72 4zm6 8zm-184 31zm-3-10zm-5 10zm-53 22zm10 4zm0 1zm29-4zm13-1zm2 1zm186 5zm-126 24zm-71-11zm-17-4zm-4 10zm-30-4zm-4 6zm-60 39zm31-2zm22-16zm90-5zm10 7zm35-3zm81-7zm99 29zm-12 18zm-62-4zm-268-13zm-4 23zm-33-21zm-29 44zm5 5zm7-21zm3 5zm130 16zm2-18zm27 13zm-176 20zm-25 5zm-33 17zm63 13zm49 4zm134-18zm140 16zm30 19zm-75-2zm-178 25zm159 20zm-91 26zm-27-11zm-17 11zm-61-10zm-8-5zm-2 5zm0-2zm128 60zm-38-1zm-18 3z"/><clipPath id="c8"><path d="M1293 1897L1341 1904L1394 1899L1442 1910L1485 1931L1512 1958L1554 1985L1597 2028L1629 2065L1650 2108L1654 2150L1647 2193L1640 2236L1625 2278L1602 2321L1565 2358L1522 2386L1469 2396L1416 2396L1373 2386L1341 2375L1298 2369L1272 2343L1256 2334L1235 2349L1209 2334L1198 2310L1204 2278L1198 2241L1177 2206L1150 2172L1137 2129L1133 2086L1140 2044L1164 2001L1196 1959L1233 1927L1265 1908Z"/></clipPath><g filter="url(#rd)"><g clip-path="url(#c8)" fill-rule="evenodd"><path fill="#9B50AE" d="M1663 2404l-539 0 0-254 131 0 84-66 46-41 5-5-1-150 274 0z"/><path fill="#BE2C26" d="M1313 2284l-8 2-9 0-8-2-8-5-7-6-6-8-7-17-2-10 0-9 2-11 3-8 5-8 6-7 7-4 7-2 14-1 8 3 5 3 6 5 5 7 6 10 3 8 1 19-2 16-5 10-5 7-6 5z"/><path fill="#BE2C26" d="M1283 2203l-6 1-8 0-8-5-4-5-3-8 1-8 4-6 7-5 8-2 6 0 7 4 5 6 2 8-1 8-5 8z"/><path fill="#3D7DCB" d="M1220 2361l-8-2-10-4-6-5-5-9-1-8 2-8 6-6 8-5 11-1 12 4 10 7 5 9 1 6-1 5-4 8-9 7z"/><path fill="#3D7DCB" d="M1190 2216l-14 1-6-1-8-4-6-7 0-6 2-5 7-6 11-3 11 0 11 4 7 7 1 6-1 3-2 3-5 5z"/><path fill="#68B152" d="M1294 2353l-9-2-5-4-4-6-2-8 1-8 3-5 5-4 8-3 8 1 8 6 4 5 2 8-2 8-4 6-5 4z"/><path fill="#68B152" d="M1264 2047l-6 0-5-1-6-5-3-6 0-6 3-7 6-5 5-2 6 0 5 2 4 4 2 6 0 5-1 6-4 5z"/><path fill="#68B152" d="M1299 2039l-5 0-6-2-3-5-2-5 1-6 3-5 4-3 5-2 9 3 2 2 3 5-1 6-2 5-2 4z"/><path fill="#9B50AE" d="M1220 2298l-11-2-8-3-7-6-5-8-1-9 2-8 6-8 10-5 6-1 8 0 11 4 8 7 6 11 1 6-1 5-5 8-9 7z"/><path fill="#9B50AE" d="M1351 2159l-14 1-13-4-9-6-3-5-3-6-1-11 4-11 9-9 14-7 13-1 14 3 8 6 5 5 2 6 1 5 0 9-5 11-8 8z"/><ellipse cx="1223" cy="2019" rx="7.1" ry="23" fill="#fff"/><ellipse cx="1259" cy="2073" rx="30.1" ry="3.8" fill="#fff"/><ellipse cx="1302" cy="2171" rx="33.9" ry="3.8" fill="#fff" transform="rotate(-27 1302 2171)"/><ellipse cx="1386" cy="2084" rx="6.6" ry="6.6" fill="#fff"/></g></g><path stroke="#fff" stroke-width="7.7" d="M1424 1902zm-4-1zm-18 2zm-3-4zm-10 3zm-108-4zm-1-8zm0-5zm-2 9zm-10 6zm-3 3zm-11 22zm27-13zm3 4zm2 4zm22-15zm3 4zm54-4zm5 2zm4 15zm5 0zm11-15zm0 5zm11 2zm1 5zm3-8zm1-5zm6 7zm3 4zm2 4zm11-16zm2 23zm2-20zm78 44zm-4-3zm-3-4zm-3-3zm-1 7zm-3 4zm-3 4zm-84-7zm-3-4zm-2-4zm-1-5zm-7 12zm-1 8zm-2-4zm-26 1zm-2 5zm-27-4zm-60-9zm-2 4zm-2 5zm-2 4zm-13-1zm-5 0zm-5-2zm-5-1zm39 27zm4-2zm5-1zm2-5zm15 6zm2 4zm41-5zm51-4zm16 8zm5-2zm3-3zm2-5zm19 11zm3-4zm64 34zm-29-19zm-5 0zm-3 5zm-5-2zm-11 8zm-1-5zm-3-3zm0 1zm-13-11zm-1 4zm-1 14zm-3 3zm-8-4zm-5 0zm-9-16zm0 19zm-2 4zm-21-13zm-2-4zm-5 7zm0-6zm-2 4zm-1-7zm0 5zm-4-8zm-2 22zm-4 2zm-6 1zm-1-5zm-2 5zm-20 0zm0-26zm-8 15zm0 11zm-2-7zm-20-15zm-2-5zm-3 25zm-3-4zm-34-9zm-1-5zm-2 1zm0-6zm-2 2zm-31 22zm-2-4zm-2-9zm0 4zm-31-4zm0 5zm-1 5zm-19-10zm-1-13zm-2 10zm32 38zm3-4zm4-3zm4-1zm37-3zm2-4zm3-4zm5 0zm57 6zm5 0zm2-5zm2 6zm5 1zm0 17zm10-26zm10 12zm4 15zm1-9zm1 5zm4-22zm18 22zm20-23zm4 3zm0-3zm12 23zm7-20zm4 2zm5 2zm10 1zm5 1zm4 0zm13 9zm4 1zm4-11zm1 12zm5 1zm6-13zm1 5zm0 4zm22-9zm0-5zm-7 35zm-4-2zm-5-4zm0 3zm-5-5zm0 4zm-4-4zm-17 6zm-3 4zm-6-5zm-6 17zm-93-20zm-1 16zm-4 0zm-4-4zm-1 4zm-1 0zm-4-1zm-33-5zm-2 4zm-81 6zm-29-16zm-1 5zm-4-2zm-5-1zm-3 9zm-2-9zm-3 8zm-1-11zm-4 11zm-3-4zm-19-5zm-1 5zm-20-3zm-8 34zm4-3zm5 1zm4 1zm1 9zm7-18zm4 4zm5-6zm0 5zm4-8zm67 3zm2-5zm56 10zm3 3zm6 2zm4 3zm4 2zm4 2zm22 5zm14-1zm4-1zm4-3zm2-5zm5-1zm53 10zm2-11zm2 9zm3-8zm2 7zm2-4zm30-18zm-55 41zm-4-2zm0 3zm-2-8zm0 2zm0-4zm-2-5zm-9 27zm-38-25zm-4-1zm-4 1zm-26 12zm-8 4zm-46-1zm-1-14zm0 4zm-1 5zm-26 11zm-20-19zm-41-2zm-4 3zm-4-2zm-6 5zm-2-4zm-4-3zm5 46zm1-4zm28 7zm3-6zm2 5zm2-3zm2 2zm1 6zm0-9zm0 8zm1-18zm0 13zm2-7zm0-5zm1 3zm0 8zm34-19zm3 4zm20 11zm5 3zm4 2zm3 4zm49-14zm3 4zm4 2zm14-12zm25 21zm5 0zm0-1zm5 1zm4-2zm14-23zm173 50zm-1-4zm0-5zm0-5zm-116 19zm-5-1zm-108-9zm0-12zm-3 16zm-4 2zm-47-2zm-5-1zm-85-20zm-5 7zm0-5zm-4 7zm0-6zm-36 8zm36 27zm2 5zm3 4zm2 4zm92-10zm3-4zm5-1zm4-2zm160-6zm109 30zm-308 20zm-3 4zm-3-2zm-38 1zm-15-10zm-5 0zm-5 1zm-2-8zm-2 10zm20 36zm2-23zm3-3zm14 15zm3-4zm24-10zm0 5zm1-4zm4 1zm4 1zm49 21zm89-8zm0 4zm-93 7zm-95 24zm-3-4zm-6-20zm10 34zm0-5zm298 38zm-1 4zm-64-5zm-3-3zm-4-3zm-31 33zm1-4zm0 9z"/><path stroke="#9B50AE" stroke-width="6.4" d="M1434 1895zm-11-5zm-1 9zm-10 2zm-6 0zm-7-7zm-8-2zm-1 6zm-1 4zm-7 1zm-31-1zm-81-6zm-25 34zm15-6zm55 2zm59-4zm14-16zm6 19zm0-4zm5-1zm5-14zm5 10zm4 15zm6-6zm0-14zm0-7zm2 2zm2 24zm3-19zm11-5zm6 18zm2-3zm5-7zm0 6zm1 9zm12-2zm1-20zm3 20zm1 3zm4 1zm1-19zm2 5zm8 7zm14 6zm17 28zm-1 1zm-2-5zm-7-14zm-7 2zm0 16zm-1-8zm0-5zm-2-8zm-1 22zm-3-16zm-8-10zm0 4zm-2 12zm-5-14zm-6 1zm-5 13zm0 4zm0 0zm0-3zm-5-11zm-4-2zm-1 17zm-2-18zm0 10zm-4 8zm-3-12zm-2 3zm-4 13zm-2-19zm-2 19zm0-20zm-2 4zm-4 16zm-14-2zm-5 0zm-4-20zm-2 2zm-2-3zm-1 0zm-12 18zm-4-12zm-5 3zm-15 11zm-7-21zm-33 2zm-8 3zm-44 16zm-38-3zm-33-11zm20 46zm32-6zm2-20zm16 14zm3-3zm27 15zm1-18zm8 12zm13-1zm4 5zm7 0zm11-4zm7 1zm14 3zm9-24zm12 10zm1-9zm8 19zm17-1zm2-14zm1 5zm0-5zm2 21zm3-25zm2 14zm0-15zm1 9zm4-2zm1-2zm1 8zm1 5zm0-1zm1 0zm0 2zm1-14zm3 1zm2 1zm1-6zm0 2zm2 11zm1 7zm1-10zm1 15zm1-10zm1-4zm1-5zm0-8zm1 8zm3-5zm7 18zm7-12zm1-8zm1 9zm2 6zm1 2zm0-7zm1-2zm1 6zm1-6zm2 10zm8-5zm2 4zm2-13zm1 5zm2-3zm2-4zm0 12zm1 5zm1-13zm0 15zm6-1zm2-11zm1 13zm0-2zm1-14zm12-7zm1 22zm3-15zm0 10zm1-7zm1-4zm0 13zm2 8zm3-10zm0-8zm0 3zm4 4zm3-3zm1-4zm0 5zm0-6zm2-1zm2 9zm3-1zm4-4zm5 8zm11 6zm18 13zm-1 15zm-5-9zm0 8zm-15 0zm-2-24zm-2 19zm-3 6zm-33-23zm-8 5zm-15 8zm-2-10zm-1 2zm-2 2zm0 10zm0-12zm-4 4zm0 9zm-1 2zm-1-18zm-1 3zm0 9zm-1 6zm-2-9zm-2-11zm-1 24zm-1-18zm-2 13zm0-16zm-3 19zm-3-14zm-2 0zm-2 2zm-7-6zm0-2zm-1 8zm-3-9zm-1 2zm-2 4zm-1 10zm-1-10zm-1 16zm-2-17zm0 15zm0-12zm-1 12zm0-1zm-3-15zm-2-7zm-9 11zm-9 2zm0 4zm-2-15zm-4 13zm-1 6zm0-1zm-1-19zm-1 4zm0 6zm-3 9zm-5 5zm0-19zm0 18zm-3 3zm-2-16zm-1 6zm-4 3zm-2-13zm-3 3zm0-3zm-4-6zm-39 1zm-47-2zm-34 10zm-11 15zm-26-19zm-1-3zm-8 1zm-17-4zm-3 27zm-23 28zm24-5zm8-13zm27 6zm1 12zm1-24zm53 22zm18-7zm2-4zm7 1zm43 5zm1-8zm6 14zm5-11zm5-10zm4 16zm0-20zm14 2zm1 14zm10-1zm1-10zm0-3zm1-3zm3 14zm2-14zm0 2zm1 13zm4-13zm7 17zm6 3zm2-22zm1 20zm0-18zm0-1zm2 8zm2 8zm2-10zm4 7zm1-5zm0 18zm6-21zm0 13zm1 4zm1-7zm3 6zm2-1zm2-1zm3-11zm1-2zm1-7zm2 9zm5-8zm1 4zm2 5zm1-6zm47 15zm11-8zm4-11zm2 4zm0 6zm3-4zm21 15zm1-1zm0 2zm18-22zm3 4zm4 1zm1 1zm7 2zm7 17zm5-7zm9 1zm29 33zm-6-8zm-9 11zm-1-2zm-2 1zm-9-12zm-3-12zm-35 8zm-25 9zm-2-3zm-4-11zm-36 12zm-4-9zm-16-6zm-30 11zm-4 9zm-15-20zm-3 1zm0-1zm-4 1zm-1 0zm0 23zm-3-15zm-5-1zm-2 16zm0-24zm0 2zm-1 2zm-8 13zm-2-17zm-1 17zm-3-9zm-3 4zm0-11zm-3 9zm-1-4zm-8 5zm0-7zm-2 21zm0-11zm-1 9zm-3-4zm0-18zm-1 8zm-2 11zm-3-19zm-2 6zm-1 0zm-6 17zm-3-22zm-5 16zm-2-6zm-8-3zm-3 4zm-34-10zm-18-4zm-19-1zm-6 20zm-13-16zm-23 22zm-3-5zm-6-10zm-24 8zm-44 7zm-2-26zm-25 18zm27 22zm17 8zm62 0zm10 6zm13-3zm15-11zm2 4zm29 5zm3-9zm10 15zm6-10zm4-7zm11-1zm1 15zm15 3zm0-5zm7-19zm0 12zm3-12zm0 3zm0 7zm3 11zm6-5zm4-15zm0 18zm7 0zm6-18zm1 11zm2 5zm1-6zm2-14zm4 4zm0-2zm11 24zm11-12zm17-1zm32 8zm21-20zm38 9zm11 12zm1-7zm13-4zm2-7zm1 5zm26 13zm20 4zm6-17zm8-9zm5 2zm3 8zm0-2zm5-3zm3 10zm1 9zm6 0zm2 1zm0 24zm-7-15zm-7 13zm-5 8zm-4-23zm-25 9zm-38 7zm-21-11zm-12-7zm-4 1zm-6 7zm-46 5zm-1 10zm-10-6zm-2 2zm-21 3zm-20-2zm-1-18zm-4 14zm-31 8zm-1-16zm-3 8zm-10-12zm-2 12zm-7-8zm-3-5zm0 3zm-1 2zm-5 14zm-1-17zm-1-4zm-3 23zm-5-19zm0 9zm0 4zm-1-3zm0-4zm-1-5zm-4-8zm-1 12zm-1-7zm-2 18zm0-16zm-1 2zm0-2zm-4-7zm-2 11zm-1 16zm0-13zm-2-10zm0 13zm-3-14zm-1-2zm-2 17zm-5-5zm-3-13zm-1 8zm-1 5zm-3-3zm-3-6zm-11 13zm0-15zm-2 13zm-5 3zm-4 8zm-5-6zm-2-9zm-14 3zm-5-10zm-2 16zm-11-1zm-9-13zm-7 11zm-4-3zm-19 2zm-2-2zm-4 2zm-13 6zm-19-1zm-20 6zm-3-10zm-3-12zm-14 1zm17 42zm34 3zm5-3zm1 0zm20-9zm22 16zm2-7zm7-4zm11 4zm24-16zm3 20zm1-22zm6 9zm3 10zm2 1zm0-12zm1-10zm2 6zm1-1zm0 12zm1-5zm7 3zm2-15zm1 24zm5-22zm9 20zm3 3zm2-10zm3 9zm6-13zm4 10zm1-8zm0 12zm3-11zm2 6zm1 0zm5-17zm6-3zm2 5zm2 21zm4-6zm3-6zm15-6zm0 3zm1 10zm0-4zm3 0zm3 8zm0-3zm2 0zm4 0zm8-1zm14-4zm19-16zm7 19zm16-8zm12 0zm6 1zm12 3zm6 2zm9-2zm28 5zm3-18zm7 18zm2 1zm0-12zm6-1zm16-4zm1 21zm3-19zm2-7zm6 18zm44 8zm18-4zm8-4zm5-15zm4 16zm7 3zm1-22zm5 24zm-4 11zm-1 8zm-1-3zm-2-9zm-5-1zm-5 5zm-15 9zm-14-5zm-2-1zm-10-8zm-1 15zm-14 4zm-2 1zm-26-18zm-4 12zm-2 9zm-43 1zm-18-14zm-1-11zm-7 8zm-11-5zm-18 2zm-9 12zm-8-8zm-1 1zm-2 16zm-6-14zm-5-6zm-4 15zm-6-7zm-1-2zm-1 3zm-1-10zm-4 19zm-1-20zm-1 22zm-7-7zm-17-20zm-6 23zm-1-8zm-1 12zm-2-17zm-11 14zm-4-17zm-11-7zm-7 1zm0 21zm-1 3zm0-22zm-3-3zm-19 13zm-4 5zm-2-15zm-10 0zm-7 23zm-9-20zm-18-3zm-9 10zm-10 6zm-2-2zm-13-1zm-5 2zm-2-2zm-3-3zm-5 2zm-20 10zm-9-21zm-4 16zm-10-5zm-22 12zm0-4zm-7-8zm-2 18zm50-5zm4 13zm9-7zm6 12zm2-12zm5 20zm0-18zm1 4zm1 10zm3-7zm15-7zm0 6zm5 2zm4 11zm7-13zm69-14zm2 16zm23-8zm1-4zm0-2zm10 1zm1 16zm0 1zm7-8zm3-12zm1 22zm8-21zm21 15zm38-6zm0 12zm1-1zm29-21zm45 5zm22 3zm13 16zm11-4zm24 2zm3-2zm18-4zm8-4zm3-10zm10 17zm11 0zm3-6zm2-2zm6 8zm6-18zm-5 29zm-5 13zm0 4zm-2-1zm0 0zm-4-16zm-7 13zm-2-5zm-11 16zm-25-12zm-2-4zm-5 5zm-7 11zm-18-20zm-9-6zm0 19zm-5 1zm-4-19zm-2 18zm-1-6zm-10 4zm-7 8zm-6-23zm-11 17zm-14-18zm-9 5zm-20 5zm-15-9zm-8 20zm-8-8zm-4-6zm-3 18zm-10-9zm-14-9zm-3-1zm-2 15zm-16-18zm-1 23zm-8-2zm-6 2zm-6-27zm-1 10zm0 9zm-6-19zm-9 1zm-2 25zm-3-16zm-5-10zm-11 4zm-1-2zm-53 15zm-15-15zm-3-2zm-2 5zm-8 3zm-5 4zm-1 5zm-3-8zm-2 10zm-6-1zm-2-9zm-4 8zm-3-13zm-4 0zm-8 4zm-2 3zm0 12zm-1 0zm-5-4zm-5-9zm0-5zm-6 4zm-3 9zm-2-10zm3 44zm10-23zm1 6zm7 2zm0 17zm1-2zm1-13zm9 12zm6-11zm2 12zm8-10zm2-1zm6 13zm0-25zm4 26zm3-9zm94 0zm1-7zm1-11zm8 6zm4-2zm4 9zm2-12zm4 19zm1-9zm1-11zm1 24zm5-22zm0 12zm1-7zm2-1zm2 3zm4 10zm1-7zm3 4zm2-7zm1 16zm1-15zm0 16zm4-17zm7-1zm10 11zm16-9zm7-8zm23 3zm11 3zm5 13zm0-11zm6 5zm7 1zm18-15zm17 2zm16 4zm4 5zm25 3zm1 1zm2 1zm7 10zm8-12zm8-12zm0-3zm21 13zm24 10zm9-23zm7 3zm-14 51zm-1-8zm-3-2zm-4-4zm-3 10zm-8 5zm-35-19zm-17 13zm-4-9zm-1-10zm-2 23zm0-19zm-25 13zm-23 1zm-3-12zm-19 3zm-2 11zm-11-19zm-15 16zm-18-17zm-8 13zm-48 12zm-3-9zm-5-13zm-1 5zm0-2zm-6 18zm-3-4zm-1-16zm-4 11zm-3-17zm-5 20zm-5-5zm-8-4zm-9-1zm-9 12zm-13 1zm-16-5zm-11 4zm-8-2zm-2-3zm-14 1zm-3 2zm-5-6zm-2-9zm-2 1zm-5 4zm-2-2zm-6 9zm0 8zm-6-10zm-4 6zm0-20zm-7 19zm-1-16zm-2 8zm-6 15zm-2-7zm0-5zm-24 29zm15-1zm2 3zm2-2zm2-7zm2-5zm15 11zm4-12zm21 11zm2 0zm4 5zm2-2zm0-17zm7 8zm4-1zm1-4zm8-1zm3 2zm5 8zm8 11zm4-21zm10 13zm2-1zm4 1zm0 8zm8-16zm1-6zm3 0zm1 10zm4 3zm2 8zm11-21zm10-1zm5 9zm0 15zm6-12zm4-4zm2 19zm2-14zm1 12zm2-6zm3 5zm1-13zm8 5zm0-6zm0 3zm28-11zm7 6zm26 11zm7-11zm8 4zm1-7zm1 19zm6-20zm11 23zm9-8zm0-18zm12 8zm16-1zm1 13zm21-9zm12-12zm6 23zm20-21zm24 24zm2-12zm13-6zm-16 29zm-2 0zm-9-8zm-3 21zm-1-14zm-1 6zm-16-8zm-10 21zm-16-19zm-14 10zm-2-5zm-2-10zm-6 20zm-15-4zm-4-9zm-3 13zm-1 1zm-45-12zm-14 5zm-3-15zm-6 7zm-22 18zm0-4zm-5-20zm-1 16zm-2-13zm-6 3zm-1-3zm-3-3zm-2 4zm-10 5zm-3 12zm0-18zm-9 10zm-8-16zm0 14zm-1 13zm-7-27zm-4 8zm-2 14zm-13-16zm-3 13zm-3-9zm-8-5zm-42 20zm-6-17zm-3-2zm-2 10zm-2-7zm-3-4zm0-2zm-2 13zm19 12zm11 2zm1 8zm6 2zm14 8zm2-4zm2-2zm2-12zm0 1zm6 10zm1-12zm8 7zm6 15zm5-3zm1 4zm3-5zm10 0zm1-2zm2 7zm8-21zm2 1zm2 4zm4-4zm3-3zm5 12zm2 8zm1-21zm1 9zm1-5zm1 19zm6-21zm6 20zm12-12zm5-4zm2 3zm16-3zm20 20zm1-20zm15 1zm1 3zm5 5zm5-10zm1-3zm10 13zm4-7zm20-6zm2 2zm0 19zm2-17zm1 14zm7-16zm1 2zm12-2zm3 15zm7-19zm2 19zm0-5zm7-1zm5-5zm0 0zm1 18zm7-19zm6-7zm-41 38zm-1 4zm-3-7zm-2-1zm-4 4zm-9-3zm0 19zm-12-11zm-9-15zm-1 16zm-2-4zm-2 1zm-1 5zm0 4zm-25-5zm-11-9zm-1 6zm-15 9zm-1-9zm-10 7zm-3-2zm-12 2zm0 0zm-2-10zm0 13zm-11-18zm-9 6zm0 0zm-26-7zm-13-2zm-10-2zm-21 4zm113 37zm2-14zm27 0zm65 2z"/><path stroke="#68B152" stroke-width="7.6" d="M1390 1891zm-53 11zm-11-3zm-31-8zm-31 23zm67-3zm58 2zm-18 45zm-3-10zm-129-5zm-11 4zm-34 40zm4-1zm4-1zm22 1zm9-13zm6 14zm5-5zm64 5zm16-10zm7 5zm9-3zm4-7zm29 9zm14 0zm4-16zm91 5zm-81 36zm-23 4zm-6 3zm-1-2zm-2-12zm-5-10zm-2 15zm-3 9zm-29-10zm-5 0zm-12 12zm-10-2zm-18-25zm-15 16zm-10-12zm-1-3zm-4 6zm-19 2zm-29 9zm-57 13zm42 1zm12 19zm19 3zm11-12zm10 3zm5-5zm2 8zm2-15zm2 21zm1-9zm0-6zm4-2zm8 5zm1-3zm0-6zm2 18zm2-1zm2-10zm25-12zm5 0zm0 1zm2 18zm1-15zm2 4zm8 13zm10-8zm1 9zm11-17zm3 17zm27-5zm21-6zm0 12zm9-9zm7 5zm173 3zm-213 14zm-33-1zm-8 8zm-31-11zm-17-1zm-9-3zm-11 11zm-2 3zm-4 0zm-21-10zm-7 20zm-8-10zm-46 12zm-12-9zm-11 2zm-13 3zm-1-9zm5 26zm13-8zm36 7zm63 8zm1-8zm16 4zm15-6zm25 14zm3-3zm14 7zm91 18zm-76-3zm-30-5zm-27-6zm-3 9zm-2-1zm-8 14zm-6-12zm-27 4zm-2-16zm-3 27zm-19-4zm-1-12zm-14 13zm-11 0zm-5 0zm-4-5zm-2-16zm-4-2zm-3 15zm-7-5zm-2 15zm-3-4zm-14-22zm-13 35zm26 8zm4-6zm25 3zm1-11zm1 5zm16-6zm2 13zm3 7zm0-6zm2 8zm12 4zm6-22zm1-3zm12 15zm9 2zm37-12zm1 19zm258-7zm-206 17zm-30 0zm-11-5zm-27-1zm-28 11zm-49-12zm-11 12zm-3-3zm-11-6zm54 50zm14-8zm18 6zm71-11zm16 10zm159 11zm-126 13zm-4 7zm-18-19zm-4 3zm-103 2zm-10 13zm-16-10zm0-12zm-24 10zm-3 28zm13 12zm47 1zm96-24zm15 46zm-23-12zm-78 13zm-24 0zm-59 26zm42-6zm10-9zm8 11zm7-5zm6 7zm8-12zm18 18zm17-2zm11 6zm6-2zm14-7zm2 0zm2 8zm18-20zm3 19zm6 23zm-13-10zm-9-7zm-27 5zm-5-2zm-1-5zm0 26zm-3-17zm-3-1zm-1-2zm-2 18zm-1-18zm-3 2zm-8 19zm-3-23zm-2 22zm-7-9zm17 15zm28 17zm19-17zm7 20zm201 11z"/><path stroke="#9B50AE" stroke-width="7.6" d="M1459 1901zm-18 0zm-5 2zm-8 0zm-1-2zm-20-8zm-2-8zm-4 15zm-2 3zm-1-7zm-4-1zm-98 1zm86 11zm2 20zm10-17zm1 10zm1 1zm0-10zm2 14zm3-4zm0-3zm1 9zm4-7zm0 0zm0 5zm7-8zm1 8zm9 6zm0-23zm1 16zm0-5zm0-13zm6 9zm0-10zm3 14zm2-5zm2 8zm10-10zm1 12zm0-4zm4-8zm2-2zm3 6zm6 9zm6 4zm5-3zm10 4zm6-4zm11 5zm17 14zm-3 10zm-7-19zm-3 9zm-2 3zm-6-10zm-1 0zm-3 8zm-2 7zm-1 3zm-3-9zm0 12zm-5-21zm-1 6zm-2-4zm-1 10zm0-6zm-1-12zm-2 14zm-2 8zm-2-7zm0 9zm-3-19zm-1 21zm0-9zm0 9zm-3-6zm-1-4zm-2-14zm-1 15zm-6-1zm-3 11zm0-25zm0 25zm-2-25zm0 15zm-3-16zm-1 11zm-1 6zm-1-18zm-1 2zm-5-1zm-1 5zm-3-1zm0 1zm-2 5zm0 16zm-1-17zm-2-2zm0-1zm-1 20zm-1-7zm-1-15zm0-3zm-5 1zm-4 23zm-1-2zm-1-19zm-1 5zm-4 0zm-1 5zm0 9zm-2-11zm-1-7zm-7 20zm-14-22zm-109 4zm-47-3zm-1 16zm-32 2zm-5 18zm6 1zm11 8zm1 0zm24 4zm31-7zm1 5zm14-1zm43-9zm15-9zm2 19zm18-4zm2 4zm6-2zm5-20zm14-1zm5 9zm3-6zm6 14zm4-17zm3 22zm2-23zm3 20zm3 3zm2-17zm3-3zm3 5zm1-7zm0 6zm4-1zm3 1zm0 1zm7 14zm2 4zm2-15zm4 5zm2 10zm1-18zm9 17zm5-11zm4 13zm1-10zm2 5zm0-3zm2 5zm1-15zm1 18zm1-14zm1 0zm1 5zm0-4zm0-12zm0 25zm1-25zm2 18zm2-5zm2-4zm0 8zm2-2zm0-5zm3 3zm0-15zm0 9zm2 15zm1-3zm1-8zm1 4zm10-2zm1-14zm5 2zm1 3zm2 4zm6-1zm4 9zm0-3zm1-8zm0 5zm0-3zm6 8zm1-9zm1 12zm6-15zm1 8zm2-6zm1 16zm10-13zm12 9zm19 19zm-7 1zm-1-5zm-8-6zm-5 7zm-20-3zm0 4zm-9 15zm-4-14zm-13-3zm0 19zm-5-24zm-1 6zm-3-6zm-1 1zm-6 16zm-1-10zm-2-2zm-1 10zm-3 7zm0-12zm-9 1zm-1 14zm-1-25zm0 2zm0 8zm-2-6zm-2 18zm0-1zm-3-10zm0-7zm0 19zm-4-17zm-8-7zm0 3zm0 3zm-1 16zm-6-19zm-1 5zm-4 17zm-1-10zm-1 10zm-1-17zm0 6zm-3 10zm-3-13zm-1-4zm-2 9zm-2-10zm-14-1zm-1 11zm-1-14zm-2 17zm-3-17zm-17-2zm-4 21zm-8 1zm-3-3zm-3-19zm-12 17zm-2 9zm-19-26zm-17 25zm-8 1zm-3-25zm-5 18zm-1-6zm-21-1zm-43 5zm-16-7zm0-5zm-3 7zm-12-1zm-3-6zm-2-2zm-16 2zm-4 10zm-5 11zm-1-19zm0 1zm-22 1zm-5 44zm33-20zm35 22zm95-16zm5 12zm6-11zm38 6zm0 2zm1 3zm7-12zm6 10zm5 6zm1-10zm1-5zm1 7zm5-12zm1-7zm2 10zm2-6zm7-3zm0 18zm1 5zm3-3zm3-21zm1 7zm1 4zm0 14zm2-13zm0 4zm0 10zm1-18zm4-8zm0 10zm0 4zm2 7zm1-14zm5 16zm4 4zm3-24zm3-3zm1 19zm0 6zm2 0zm3-13zm10 9zm0-11zm3-7zm4 14zm5-10zm0 1zm0-2zm5 3zm0-8zm0 4zm1 0zm2 20zm9-10zm10-3zm0-6zm11 20zm0-17zm60-7zm8 22zm25-10zm4-8zm2 3zm1 15zm3-12zm6 12zm2-1zm3 26zm-11-13zm-2 5zm-23 10zm-8-10zm-3 2zm-2 8zm-2-5zm-2-2zm-1 1zm-11-10zm0 13zm-2 4zm-11-2zm-7-14zm-1 13zm-9-5zm-15-2zm-4-5zm-25-8zm-2 18zm-22-13zm-9 2zm-5-7zm-3 8zm-4-2zm-5 7zm0-4zm-6 8zm0 7zm-3-22zm-2 1zm-2 20zm-5-22zm-2 18zm-1-3zm-2 2zm-1-13zm0 10zm-2-1zm-2 2zm-2 0zm0-3zm-1 7zm-5-18zm-7 9zm0 8zm0-7zm-2-2zm-7 14zm-2 0zm0-10zm-1 1zm-1-11zm-2-3zm-1 20zm0-5zm-6 9zm-2-22zm-2 7zm-2-3zm-6-3zm-1 18zm-35-21zm-19 21zm-11-22zm-5 10zm-1 9zm-14-18zm-2 13zm-11 6zm-11-8zm-10-12zm-14-1zm-1 2zm-72 33zm16-4zm5-1zm3 8zm9-8zm73 16zm51 6zm16-2zm2 3zm1-10zm3 10zm1 0zm3-18zm1 14zm2 6zm6-1zm11-10zm4-9zm5-1zm0 0zm1 11zm14 1zm8 7zm11-14zm3 11zm1-5zm1-10zm3-1zm5-3zm1 1zm7 8zm34 4zm10 7zm8 0zm26-20zm11 15zm65 3zm15 4zm1-6zm25-13zm6 21zm20-15zm1 1zm7 5zm7 4zm8 29zm-6-18zm-1 16zm0 4zm0-1zm-1-11zm0-2zm-1 9zm-18-16zm-19 11zm-4-5zm-14 1zm-60 3zm-1-10zm-6 0zm-11-4zm-2 13zm-20 10zm-23-7zm-9-5zm-15 4zm-4-5zm-1-6zm-4 0zm-20-1zm-25 17zm-7-2zm0-10zm-4 0zm-1 17zm0-2zm0 1zm-4-18zm-5-4zm0 19zm-3-18zm-3 14zm-4-8zm-1-2zm-2-3zm-5 2zm-2 17zm-2 1zm-6-1zm-1-14zm-4 18zm-1-4zm0-10zm-2 14zm0-3zm-2-6zm-1 4zm-3 0zm0-12zm-1 0zm0 7zm-4 7zm-1 2zm-1-24zm0 1zm-1 4zm-3 18zm-2-25zm-10 27zm-4-3zm0 0zm-3-2zm-6 3zm-18-7zm-6-5zm-9 9zm-2-13zm-1 17zm-9-12zm-1-5zm-7 7zm-3-6zm-34 11zm-11-4zm-10 4zm-11-15zm-25 10zm-5 30zm21 3zm0-10zm27-3zm2 10zm25-4zm5 1zm22 2zm4 2zm10-11zm7 6zm1 1zm11-4zm1 10zm5-12zm2-6zm1 1zm1 5zm5 12zm9-12zm2 11zm1-20zm1 2zm4 18zm4-4zm4 3zm2 6zm3-18zm2 16zm1-14zm6-7zm5 17zm1 7zm1-11zm1-9zm1 13zm3-3zm9-14zm4 2zm2 22zm11-16zm1 16zm1-12zm1-14zm1 12zm1 12zm0-1zm4-18zm1 16zm2-1zm28-2zm23 5zm9-10zm6-5zm22-8zm13 18zm13-1zm3 6zm38 0zm23 1zm15-20zm6-3zm0 1zm14 14zm9 9zm8-10zm0-15zm12 16zm11-5zm7 6zm9 1zm1 5zm8 9zm-3 7zm-5 4zm-2 1zm0 4zm-8 7zm-18-11zm-2 0zm-6-14zm-8 14zm-32 9zm-13-6zm-39-17zm-43 7zm0 4zm-5 0zm-32 7zm-3-5zm-3-14zm-9 5zm-7 3zm-1 7zm-4-13zm-6 24zm-23-1zm-3-25zm-3 7zm-1 0zm-2 11zm-16-13zm0 16zm-1-17zm-4 14zm-3 1zm-3-13zm-3-2zm-9 11zm-2-7zm-13 9zm-2-4zm-1-4zm-6-7zm-7-3zm-6 27zm-3-24zm-37 23zm-9-13zm-6 8zm-2-10zm-5 6zm-9 8zm-41-14zm-4 8zm-4 2zm-37-13zm64 35zm7 10zm4-16zm1-8zm1 10zm3 4zm2-3zm3-3zm0 13zm1-16zm4 13zm1 2zm0 6zm3-8zm6-11zm1 3zm0-4zm1 4zm2 9zm78-19zm17 25zm2 1zm1-7zm2-12zm9-4zm9 10zm7 8zm1 1zm9-21zm1 4zm9-4zm2 16zm24 7zm17-20zm2 12zm13 2zm1-18zm5 2zm5 20zm10 4zm21-1zm8-19zm8 3zm33 7zm9-14zm24 4zm20 16zm10-12zm12-4zm9 12zm14 0zm1-16zm5 17zm1 0zm2 6zm1-18zm-5 27zm-4 16zm-2-14zm-3 11zm-3-12zm-13-8zm-13 4zm-31 0zm-25 10zm-2 13zm-5-23zm-5 0zm0 0zm-19 20zm-6-2zm0-5zm-10 7zm-8-19zm-13 20zm-17-21zm-1 16zm-14 6zm-2-18zm-7 13zm-19-9zm-7-12zm-10 2zm-23 15zm-2-15zm-3 6zm-14 10zm-8-17zm-4 15zm-6-8zm-1-1zm-67-3zm-29 0zm-2 5zm-7-6zm0 5zm-12 5zm-1 6zm-2 5zm-1-23zm-5 24zm-8-14zm-7 5zm-2-12zm-4-3zm-6 11zm-2 10zm-5-9zm-5-7zm5 39zm5-3zm1-14zm1 23zm4-22zm2 18zm1 3zm3 0zm6-7zm1-7zm5-4zm1 3zm3 7zm2 10zm1-9zm4 6zm0 1zm9-5zm12-16zm5 22zm23-11zm33 2zm29 7zm8-10zm3 8zm2 5zm6 3zm7 0zm3-18zm0-2zm3 17zm5 0zm2-5zm1-11zm6 13zm2 1zm1-14zm24 1zm16 10zm26-16zm13 9zm3 0zm17 8zm6-12zm23 0zm4-4zm2 19zm6-12zm1 10zm13-2zm22 1zm11-16zm2 14zm27 4zm18-22zm10 16zm1-5zm5 8zm4-18zm3 1zm-11 34zm0-1zm-5 8zm-3 12zm-4-18zm-4 16zm-14-2zm-1 1zm-1-14zm-4-7zm-5 9zm-3 2zm0-9zm-41 21zm-12-19zm0 18zm-28-13zm-37 2zm-10 1zm-2-13zm-23 6zm-5 2zm-24-10zm-12 1zm-3 23zm-4-3zm-1 3zm0-7zm-6 5zm-4-14zm-8 4zm-4 12zm-2 0zm0-4zm-11 5zm-3-25zm-8 24zm-5-8zm-3-3zm-4 12zm-6 2zm-8-1zm-30-3zm-24-9zm-2-8zm0 9zm-12 4zm-3-17zm-5 6zm-9-4zm-2 10zm-4 12zm-4-18zm-1-6zm-5 6zm-11-2zm0 7zm-2 8zm-2-10zm0-9zm0 19zm-1-1zm-3 26zm3-17zm8 4zm7 4zm3 0zm11-1zm11 17zm1-14zm0 16zm11-2zm1-6zm2-11zm3 2zm5-7zm4 11zm1-1zm11 3zm7-13zm4 11zm18-7zm13-3zm14 4zm0 12zm7-10zm3 7zm3-12zm13-3zm2-2zm8 8zm2-5zm4 21zm9-6zm17 3zm3-3zm4 5zm3 1zm3-9zm16 10zm8-12zm16 9zm7-22zm2 13zm20-7zm14-6zm2 1zm10 10zm7 13zm18-9zm0 7zm21-15zm22 1zm12 5zm8-2zm4 4zm7 5zm2-3zm3-15zm7 4zm0 0zm4-3zm-15 30zm-1 4zm-17 7zm-6-2zm0 10zm-2-11zm-1 13zm0 1zm-3-11zm-17 9zm-2-25zm-12 19zm-2-13zm-8 17zm-18-5zm-41-17zm-13 14zm-4-8zm-11 14zm-9-13zm-26 12zm-9-15zm-13 15zm-3 4zm-7-6zm-6-11zm-1 13zm-4-5zm-4 6zm-1-6zm-13-11zm-2 1zm-1 13zm-6 7zm-1-19zm-6 4zm0 10zm-3-12zm-9-6zm-12 24zm-7 0zm-30 0zm-9-14zm-1 9zm-8-2zm-2 2zm-12-13zm-1 4zm-6 22zm51 5zm7 7zm7-10zm2 12zm1-9zm1-9zm13 25zm13-26zm2 19zm2-13zm2 5zm2 12zm0-3zm3-2zm3-8zm13-3zm7 0zm2 17zm1-16zm0-9zm2 1zm0 10zm8-4zm0 18zm1-13zm10-5zm12 15zm7-2zm3-18zm1 7zm44 11zm12 0zm8 7zm2-18zm2 14zm14-15zm17 15zm10-2zm11 1zm3 3zm5-3zm8 1zm2-5zm0 0zm7 8zm2-14zm7 7zm-31 9zm-5 0zm-11 3zm-22 21zm-3-19zm-4 5zm-1 1zm0 8zm-2 0zm-15 3zm-8 4zm-3-6zm-1-5zm-6-14zm-8 16zm-35 9zm-1-26zm-3 15zm-3 3zm-1-1zm-5-14zm-2 21zm-5-13zm-4 0zm-2 10zm-1-3zm-1-7zm-4-9zm-1 18zm-1-12zm0-8zm-1 1zm-1 3zm-18 7zm-2-4zm-2-1zm-8-5zm-6 2zm-3-1zm-16-1zm-44 7zm161 22zm-23 42z"/><path stroke="#BE2C26" stroke-width="7.6" d="M1409 1902zm-27-8zm-3-1zm-15 6zm0-7zm-4 10zm-12-2zm-1-1zm-9-1zm-12 5zm-5-6zm0 4zm-1 1zm-6-9zm-7 8zm-2-7zm0-3zm-3 10zm-20-2zm-3 1zm-2-8zm-10 6zm-39 33zm3-21zm11 21zm1 0zm2-20zm10 5zm2 1zm2-6zm3 10zm3-7zm1 15zm1-10zm3 4zm5 1zm0-5zm0-6zm4 8zm0 1zm2-1zm2 0zm6 3zm3-11zm2 14zm1-7zm0-5zm4 1zm1 13zm1-21zm0 22zm2-10zm4-15zm1 18zm3-5zm3-5zm3 11zm3-10zm4 14zm1-15zm1 5zm4 2zm2-2zm1 4zm1-7zm3 9zm0 3zm1-6zm4 5zm1 3zm3-11zm2 1zm6 3zm0-15zm2 22zm3 1zm2-21zm2-3zm2 19zm3 1zm7-21zm2 1zm1 13zm0 8zm3-18zm4 7zm8-9zm79 45zm-69-1zm-7-7zm-8 6zm-5-6zm-2 6zm-3-18zm-8 6zm-1-5zm-2 9zm0 4zm-4-13zm0 18zm-1-15zm-1 4zm0 3zm-3-1zm-1 12zm-3 5zm-2-7zm-1-20zm0 25zm-1-18zm-2 10zm-2 5zm-3 1zm-1-19zm-1 7zm-3 8zm-2-13zm-3 9zm-1-2zm-2-9zm-7-2zm-5 2zm-7-1zm-2 14zm-5-9zm-1 19zm-3-24zm0 22zm0-22zm0 17zm-1-3zm-3 8zm-11-24zm-7 24zm-5-9zm-2 10zm-3-15zm-1 3zm-5-13zm-1 24zm-2-1zm0-23zm-2 10zm-1-2zm-4 18zm-8-25zm-2 11zm-4 10zm-1-22zm-1 17zm-6-8zm-5-3zm-2 18zm-2-4zm-2-16zm-8 13zm-4-2zm-5 7zm0-13zm-8 10zm-1 6zm-5 1zm-18 17zm3 9zm3-1zm1-1zm1-7zm3-10zm9-1zm2 22zm7-5zm0-10zm0 13zm2-13zm1 15zm8-22zm6-3zm2 14zm4-5zm9-7zm5 5zm2-5zm0 15zm2-10zm0 12zm0-3zm1-2zm1 10zm3-10zm3-11zm1 7zm11-9zm3 1zm2-3zm5 16zm1-4zm4-8zm1 10zm4 2zm3-12zm5 7zm2-2zm5 6zm5-11zm18 9zm2-10zm3 12zm5 7zm1-11zm2-5zm4 11zm0-5zm4-13zm5 16zm1-14zm3 4zm0 6zm1 11zm1-5zm1 7zm1-21zm5 18zm0 4zm3-24zm3 15zm1-2zm2 6zm1-2zm2 0zm3-5zm4-3zm21-9zm4 22zm3-6zm62-6zm-65 33zm-17-4zm-9-10zm-13-1zm-17 21zm0-6zm-2 3zm-1 4zm0 3zm-6-13zm-3-5zm-3 17zm0-9zm-4-17zm-1 2zm0 14zm-3-9zm-2 5zm-8-1zm0 1zm-3-8zm-1 15zm-1 2zm-5-21zm0 9zm-2-1zm-4 2zm-1 8zm-1-1zm-25 1zm-6-14zm-2 8zm-2-3zm-3 9zm-1-17zm-3 8zm-5 14zm-5-22zm-2 5zm-2 18zm-2-17zm-33 6zm0 9zm-1-19zm0 0zm-4 1zm-3 1zm-1 4zm-15 1zm-1 7zm-34 31zm26-8zm3-12zm3 16zm7 6zm1-18zm3-1zm2 24zm11-7zm12 0zm3-13zm2 20zm22-9zm34-16zm2-1zm7 4zm1 13zm3 3zm2 2zm32-2zm2-20zm3 0zm2 23zm2 1zm0 2zm5-19zm5 16zm1-1zm9 0zm2-20zm2 11zm6-7zm7 3zm1 1zm5-1zm1-7zm17 12zm5 11zm68-12zm-63 22zm-27-6zm-9 10zm0 13zm-8-10zm-1-7zm-3 2zm-4-8zm-1-1zm-4 9zm0 10zm-2-13zm-1 17zm-2-20zm-4 19zm-4-14zm-9 10zm-2 6zm-10-20zm-1 13zm-4-12zm-2-1zm-19 9zm-1 2zm-14 8zm-2-6zm-2-13zm-3 4zm0 5zm-8-1zm-8-10zm-11 10zm-2 12zm-3-13zm-1 13zm0-23zm0 17zm-2 8zm-7-6zm-2 2zm-1-10zm-4 1zm0 4zm-3 7zm-3-17zm-2-6zm0 0zm0 24zm-5-22zm0 21zm-1-4zm-8 3zm-9-1zm0 0zm-6-17zm-1 15zm-7-12zm-5 0zm-1 6zm-4-2zm-5-3zm-6 7zm0-7zm-6 17zm-6-15zm12 30zm1-7zm7 8zm1-9zm11 15zm3-17zm11 21zm3-1zm1-12zm1-1zm9-8zm1 13zm0-10zm3 19zm0-19zm1 5zm1 9zm8-12zm2 4zm0-6zm2 10zm1 4zm1-17zm4 4zm6 0zm1 4zm1-2zm5 5zm0-6zm0 6zm6 11zm5-14zm15-2zm1 14zm1-14zm6 6zm1 8zm9 4zm21-22zm3 11zm5-13zm4 23zm7-11zm2-13zm2 15zm0-7zm0-10zm1 17zm1-12zm2 12zm5-17zm4 23zm4-8zm5-7zm0-8zm4 11zm315 31zm-111-8zm-204 10zm-33-15zm-3-1zm-5 22zm-15 2zm-1-23zm-5 3zm-1 22zm-5-13zm0 0zm-8 1zm-2-6zm-4-4zm-1-2zm-2 7zm-3-7zm-1 14zm-13 6zm-3 0zm-3-12zm-5 11zm-2-11zm-1 9zm0-5zm-7-10zm-16 23zm-2-14zm-11-5zm-2-5zm-16 15zm-28-16zm-2 22zm-7-10zm-10 19zm4 1zm5 6zm4-12zm4 12zm2 8zm6-4zm34-11zm1 6zm7 1zm3 15zm5-18zm0 4zm4 3zm16-12zm2 1zm4 8zm2 14zm3-11zm6 0zm12-7zm13 2zm28-7zm131 5zm136 12zm-155 32zm-46-21zm-5 10zm-9-2zm-29 4zm-35 0zm-6 3zm-3-13zm-11 16zm-1-1zm-2-15zm-1 12zm-16 0zm-6 0zm-5-15zm-5 15zm-3-12zm-1 19zm-1-11zm-6 8zm-5 4zm-1-18zm0-1zm-9 3zm-5-3zm-2 18zm-5-22zm-2 16zm-4 2zm-7 3zm-17 0zm-7-2zm54 6zm9 9zm2 9zm4-15zm10 11zm2 7zm1-20zm26 3zm0-4zm1 27zm1-24zm3 20zm4-10zm3 12zm0-12zm2 2zm13 11zm8-2zm8-22zm2 8zm6 13zm0 4zm2-19zm6 9zm2 0zm1 5zm5-4zm3-18zm9 11zm23 0zm3 16zm19 5zm-23 17zm-11-2zm-13-5zm-4-11zm-3 11zm0-8zm-2 11zm-7-7zm-10 13zm-6 3zm-3 0zm0-19zm-1 1zm-1 19zm-1-21zm0 5zm-4 5zm-6-1zm-11 12zm-1-9zm-3 8zm-3-18zm-2 0zm-8-4zm0 0zm-1 4zm-20 7zm-9 2zm0 10zm-7-24zm-31 16zm-1 7zm26 6zm0-1zm18 7zm16 13zm6-5zm6 3zm6-1zm2 4zm3 0zm1-21zm2 6zm1 16zm1-9zm3 5zm2-2zm4 6zm0-21zm0 11zm18-3zm5 13zm4-22zm4 7zm15 14zm33-13zm257 43zm-274-10zm-23-4zm-8-1zm-4-4zm-10 11zm-3 1zm-2-18zm-6 5zm-1 0zm0 3zm-2-8zm-27 1zm-15 15zm-8 9zm-49 23zm6-20zm2 12zm7-4zm41-7zm59 7zm229 13zm77-7zm-212 20zm-51 14zm-73 6zm-15-19zm-6-5zm-38 3zm65 26zm15 20zm22-1zm7 1zm20-11zm4-6zm3 0zm17 26zm-3 11z"/><path stroke="#3D7DCB" stroke-width="7.6" d="M1387 1902zm-117-13zm60 42zm44-21zm-6 48zm-11-2zm-190 29zm60-7zm106 5zm39-8zm22 8zm13 28zm-30-5zm-4-10zm-35 4zm-8 3zm-100 12zm-41-7zm-14 2zm-6-3zm-36 32zm10-18zm2-3zm13 16zm1 4zm2-18zm4-1zm17 0zm0 6zm14 11zm143 33zm-62-8zm-35-3zm-64-14zm-10 8zm0 15zm-2-17zm-12 6zm-9-8zm-2-4zm0 13zm-3-6zm0 18zm-10 25zm2-18zm2 17zm0-21zm5 19zm16-4zm12-10zm1 1zm6 19zm4-23zm4 23zm20 2zm58-8zm116 2zm-90 10zm-70 17zm-2 4zm-29-21zm-1 21zm-20-17zm-10 0zm-2-2zm-2 2zm-3-5zm-1 0zm-1-2zm-3 1zm-18 0zm14 53zm13-1zm0-2zm16-16zm9 5zm32 13zm24-22zm18 10zm19-4zm3-7zm9 24zm13 1zm80-4zm-53 12zm-57 2zm-22 5zm-4 7zm-1-9zm-64 3zm-3-15zm-3 21zm-6-18zm-4 24zm-13-21zm21 32zm1-5zm9 14zm0-17zm3 5zm0-3zm1 4zm2-3zm1 21zm1-23zm3 21zm0-14zm1-10zm2 17zm7 1zm0 0zm3 1zm1-4zm5-1zm119-5zm23-6zm28 8zm252-11zm-276 31zm-49 9zm-67-11zm-11 9zm-12 14zm-21-21zm-1 13zm-1-14zm-4 1zm72 45zm4 5zm90-18zm4 1zm8-4zm-40 42zm-125 12zm0 21zm11-1zm4 0zm2-3zm3-1zm9 8zm9-1zm3 0zm9-9zm41-2zm25 10zm31-18zm20 13zm-94 25zm-31-16zm-3 9zm-2-6zm-1 19zm-2 4zm-6-13zm-6 3zm-5-2zm-1 1zm-1-14zm0 7zm-1 8zm-10-7zm15 19zm81 9zm15 17zm19 1zm17-5zm206-16zm-215 28z"/><path stroke="#68B152" stroke-width="6.4" d="M1306 1894zm0-5zm-40 13zm48 11zm31-4zm22 4zm116 12zm-149 18zm-4 1zm-8-7zm-13-2zm-16 18zm-63 6zm-29-8zm-7 26zm1-6zm47-5zm5 10zm25 8zm33-11zm7 14zm8-14zm15 13zm70 24zm-16 4zm-8-25zm-4 2zm-6 14zm-6-17zm-1 23zm-3-5zm-4-15zm-3-1zm-6-2zm-2 8zm-1 3zm-1 12zm-6-21zm-3 9zm-5 15zm-3-7zm-2-16zm-9 21zm-5-2zm-23-15zm-3 14zm-5-6zm-15-1zm-7-5zm-16 13zm-1-22zm-10 4zm-16 2zm-4 12zm-8-4zm-4-12zm-2 22zm-2-12zm-4 15zm-2-19zm-7-1zm-9 17zm-25 10zm14-3zm7 8zm8 11zm8-6zm23-9zm6 2zm22 17zm6-19zm2 14zm1-4zm2-1zm1-6zm9 2zm2-4zm1-3zm16 9zm13-3zm8 4zm2 5zm0-18zm1 7zm2 4zm0-10zm0 10zm9 0zm7-9zm1-4zm1 7zm13 10zm14-4zm1-11zm16 1zm0 13zm42-15zm5 14zm-54 32zm-6 0zm-4-6zm0-3zm-24 14zm-1-24zm-2 23zm-20-13zm-12-6zm-28-4zm-3 11zm-6-9zm-12-2zm-24 9zm-13 4zm-2 11zm-48-16zm-16 14zm0-7zm56 21zm16 6zm25 4zm24 5zm9-9zm6 3zm16 10zm28-5zm18-10zm5-6zm66 7zm249-1zm-360 26zm-7-9zm-5 15zm-24 0zm-1-1zm-13-5zm-1 10zm0-7zm-9-2zm-7-4zm-22 19zm-4-15zm-11 14zm-9-13zm0 4zm-2 11zm0-23zm-6 20zm-3-15zm-7-2zm-2 0zm-1-3zm-4 15zm-4-17zm-2 0zm-22 0zm40 53zm0-5zm5-16zm2-3zm12 12zm1-2zm2-5zm6 16zm5-4zm6 7zm5-17zm8 3zm5 13zm3-14zm8 14zm9-5zm4-8zm9-7zm2 4zm5 1zm3 0zm2-5zm4 13zm0-5zm38-10zm77 45zm-32 0zm-14-6zm-23 12zm-10-6zm-82 3zm-5-15zm-7-6zm-22 16zm-16-19zm-8 7zm-1 13zm-20 3zm0 12zm57 18zm6-12zm20-4zm7 14zm1 1zm9-17zm77 4zm35 44zm-4-17zm-20 4zm-81-14zm-3 16zm-15-16zm-31 4zm-24 44zm63 4zm94-12zm11-8zm-154 25zm0 47zm9-9zm11-5zm53 7zm4 1zm12 2zm4 3zm1-3zm0 1zm18 10zm14-24zm1 11zm8 2zm0 6zm17-14zm4-6zm7-1zm2 19zm27-16zm-17 35zm-22 14zm-10-6zm-18-1zm-8-12zm-5 8zm-7 5zm0-14zm-2 18zm-1-10zm-2-8zm-1 14zm-1-18zm-2 22zm-1-7zm-9 0zm0 9zm-1-19zm0 19zm-3-12zm-1-2zm-5-10zm-3 17zm12 15zm8 12zm0 1zm45-8zm6 15zm17-9z"/><path stroke="#BE2C26" stroke-width="6.4" d="M1394 1891zm-32 4zm-4 6zm0 1zm-3 0zm-1-2zm-2-1zm-15 4zm-1-4zm-7-5zm-1 6zm-1 0zm-5 1zm-1-10zm-6 1zm-8 9zm-1 0zm-4-14zm-2 15zm-2-9zm-7 1zm-5-4zm-2 3zm-1 4zm0-7zm-4 5zm-63 36zm7-9zm0-2zm2 4zm0-5zm11 11zm10-20zm5-2zm2 23zm1-23zm2 18zm5 1zm5-6zm0-1zm2 4zm4 0zm1-19zm1 19zm4 4zm8-15zm3-2zm2 3zm1 15zm1-19zm2 8zm2-4zm0 10zm5 1zm2 6zm0-4zm3-19zm2 16zm5-15zm1 8zm0-13zm1 4zm12 3zm0 0zm5 3zm3-1zm4-3zm0 21zm1 0zm2-24zm1 21zm9-10zm3-7zm2 4zm1 9zm10-18zm5 9zm2 16zm4-22zm1 20zm3-2zm3-3zm4-10zm5-10zm9 3zm77 41zm-16 2zm-69-7zm-7 16zm0-15zm-2-4zm-5 12zm-2-3zm-5-9zm-1 8zm-5 7zm-2-4zm-2-3zm-1-14zm-4 6zm0 12zm-1-16zm-2 9zm0-1zm0 10zm-3-16zm0 10zm-2-12zm-1 17zm-3-17zm-3 11zm-3-7zm-3 15zm-4-13zm0 5zm-4-10zm-2 7zm-1 8zm-3-12zm-3 1zm-6-8zm0 24zm-2-18zm-2 3zm-1-2zm-8 5zm0 8zm0-5zm-3-1zm-7 11zm-2-23zm-2 16zm-6 7zm0-3zm-2-15zm-1 0zm-3 9zm-1-3zm0-3zm0-7zm-5 8zm-4-1zm-5-10zm-1 23zm-8-19zm-4 1zm0 1zm-4 6zm-2 12zm0-12zm-1-5zm0 9zm-1-13zm-4 21zm-10-6zm-1-12zm-2 10zm0 5zm-5 2zm-4-15zm-2 17zm-3-19zm-3 14zm-1-15zm-2 9zm0-6zm-4 4zm-3-4zm-8 13zm-22 31zm5-5zm7-20zm3 2zm3 3zm1 3zm3 15zm0-18zm8-3zm2 8zm4 7zm11-1zm2-16zm1 25zm2 0zm1-18zm4 18zm0-25zm2 10zm0 0zm6 0zm5 9zm3-8zm2 9zm1-19zm18-1zm8 19zm1-13zm1-5zm1-1zm3 13zm0-5zm3 11zm1-9zm0-8zm4 11zm0 7zm3-1zm0 6zm6-14zm0 3zm4-13zm6 2zm2-3zm3 8zm2-2zm0-4zm2-1zm1 12zm0 5zm1-9zm1 14zm5-17zm3 2zm1 17zm9 2zm0-26zm1 16zm4 6zm9-14zm3 2zm1-2zm4 18zm3-10zm7-1zm5 9zm10-3zm26-19zm24 2zm61-3zm22 5zm-110 40zm-9-9zm-2 2zm-2 8zm-7-6zm-2 5zm-11 8zm-5-21zm-2-2zm-7 19zm-8 4zm-3-2zm-14-21zm-8 15zm-3-4zm-11 6zm-4 1zm-4-14zm-5 4zm-10 8zm-3-16zm-6 17zm-9-11zm-2 2zm-9-2zm0 5zm-8-11zm-9 21zm-1-18zm-5 16zm-6-7zm-1-2zm-17 0zm0 1zm-1 8zm-2 3zm-3-21zm-3 16zm-4-6zm-20 10zm-1 2zm-6-1zm-2-6zm-2 0zm-10 5zm-17 10zm6 4zm0 13zm11-5zm3-17zm2 14zm3-12zm4 6zm1 6zm4 4zm1 4zm3-3zm1 1zm8-15zm6 18zm4-12zm2-11zm2 1zm0-3zm2 20zm3 0zm3-20zm3 6zm2 20zm17-21zm3 2zm2-7zm1 2zm1 23zm0-15zm1 4zm0 0zm4 7zm1-20zm34 5zm2 14zm3-14zm29 1zm4 6zm16 1zm1 13zm3-15zm2 5zm3-9zm1 13zm8 4zm2-9zm5 3zm4 4zm3-4zm2-13zm1-4zm2 14zm9-10zm2 21zm9-19zm4 9zm3-12zm-24 25zm-6 2zm-7 10zm-4-14zm-1 22zm-5-18zm-6 8zm-4-4zm-3 12zm-1-4zm-1-2zm-5-8zm-2-5zm-4 19zm-4-18zm-1-2zm-1 18zm-1-2zm-2-10zm-1-6zm-5 1zm-1 3zm-2 5zm-3 14zm-1-20zm-1 20zm-1 3zm-3-20zm-8-2zm-5 7zm-2 3zm-12-5zm-15 14zm-8-16zm0 18zm-2-1zm-2-13zm-11-7zm-10 15zm-2 1zm-5-7zm-1 3zm-2-5zm-1-4zm-2 5zm0 5zm0-16zm-3 17zm-1-3zm-2 5zm-2 7zm-9-12zm-4-7zm-3 15zm0-21zm-6 13zm-2-10zm-5 3zm-2 6zm-2 5zm-6-9zm-8 13zm-10-1zm-1-22zm-7 22zm-1-12zm2 21zm7 21zm5-24zm4 2zm5 12zm6-7zm4-2zm18-4zm2 15zm1-3zm0 10zm5 3zm5-9zm0-16zm5 0zm1 10zm2 16zm11-9zm4-10zm2-1zm5 14zm0-19zm7 18zm2-9zm4 1zm5 5zm20-4zm2 12zm4-17zm5 3zm7 3zm1 8zm4-19zm6 13zm2 10zm1-19zm1-6zm3 12zm2 8zm1-2zm0 6zm2-12zm1-3zm2-1zm0 1zm1-3zm3 16zm3-18zm2 13zm2-5zm5 8zm5-15zm0 3zm2 11zm7-11zm2-7zm17 2zm292 17zm-261 27zm-24-13zm-67 4zm-5 5zm-10-13zm-1-3zm-3 7zm0 2zm-8 14zm-1-23zm-7 14zm-4 6zm-1-7zm-3 10zm-1-18zm-4 14zm-9-11zm-3-6zm-1 1zm-2 7zm-14-4zm0 11zm-1-13zm-1 0zm0 12zm-10-16zm-4 3zm-8 7zm-1 11zm-8-2zm-1-7zm-5-1zm-11 6zm-9-3zm-13-5zm-6 5zm-3 3zm-3-15zm-2 5zm-3-6zm4 38zm16 4zm32 5zm0-20zm4 16zm1 5zm11 3zm5 0zm3-4zm6-12zm4 13zm0-3zm3 9zm1-22zm6 3zm1 8zm1-13zm2 16zm1-7zm6 13zm2-20zm17 17zm3-8zm3-3zm14-5zm5 2zm9 17zm7-19zm17 7zm227 27zm-141 14zm-58-16zm0 2zm-42 12zm-13-10zm0-1zm-8-2zm0 3zm-2 7zm-1-10zm-1 9zm-2 0zm-5-2zm0 6zm0-8zm-2 5zm-2-6zm-2 10zm-5-21zm-1 12zm-1 3zm-8-17zm-15 1zm-25 24zm0-7zm-8-11zm-3-1zm-23 19zm-7-16zm-5 1zm-3-12zm-4 24zm-12-19zm-4 18zm-2-19zm18 28zm91 0zm15 7zm9-4zm1 15zm2-1zm0-14zm0 8zm1-15zm1 26zm1-14zm1 15zm7-20zm7 1zm4 3zm2 12zm8-11zm0 7zm1 6zm0-16zm0 2zm6-1zm2 4zm1-1zm2-6zm3 6zm9 11zm13-13zm9 25zm-17-5zm-9 23zm-7-18zm-1 13zm-1 4zm-1-13zm-3 12zm-6-11zm-3-6zm0 19zm-1-6zm-3-1zm-2-14zm-2 2zm-5-1zm-1 6zm-4 5zm0 8zm-11-11zm-5-12zm-3-1zm-5 13zm-4 12zm-13-22zm-7 18zm-41-3zm-11 4zm-8-15zm10 33zm7 9zm28-17zm37 20zm7-7zm1 1zm13 0zm8-4zm3-5zm0 6zm2-3zm0-2zm2-10zm0 25zm9-2zm0-2zm9 0zm4-1zm2-9zm7-7zm3 15zm3 5zm3-22zm2 6zm7 13zm24-18zm136 36zm-131-11zm-31 10zm-2-10zm-13 6zm0 3zm-3-2zm-1-5zm0-1zm-3 0zm-3 13zm-8 4zm-1 0zm-4-15zm-2 13zm-6-10zm-3 14zm-1-12zm-1-7zm0 13zm-3-9zm-3 0zm0-6zm-1 2zm-3 9zm-76 17zm38 18zm58-17zm41 17zm162-3zm-137 40zm-13-14zm-10 14zm-10-5zm-19-6zm-47 1zm33 34zm45-17zm16 10zm10 8zm7-15zm15 2zm-40 20z"/><path stroke="#3D7DCB" stroke-width="6.4" d="M1340 1897zm-80 4zm-36 22zm59-10zm31-2zm46-2zm4 12zm121 37zm-278 9zm2 12zm11 3zm90-9zm195 14zm-37 7zm-75-4zm-33 22zm0-1zm-6-7zm-38 7zm-9-4zm-7-17zm-42 11zm-71 13zm-8-24zm-6-2zm-6 2zm-4 18zm-5 0zm-30 19zm10 7zm3 8zm5-6zm0-7zm1 0zm2 6zm3-14zm2 8zm12-5zm1-7zm3 3zm5 8zm2 13zm8-4zm7-9zm43 10zm0 2zm86-19zm4 3zm55 11zm18 6zm-106 28zm-114-21zm-6 7zm-9 6zm0-11zm-3 16zm-8 1zm-1-14zm-7-7zm-1 0zm-11 22zm0-2zm0 21zm9 10zm17-7zm4 6zm85-5zm20-7zm14 2zm57-6zm26-6zm-101 33zm-21 8zm-3 11zm-37-9zm-14-11zm-1 8zm-8-12zm-8 23zm-5-3zm-38 17zm13 15zm1-2zm7 2zm8 0zm6-5zm3 1zm7-3zm43-13zm13 16zm47-14zm5-5zm88 21zm-8 18zm-121 10zm-5 3zm0-12zm-1 7zm-33-7zm-15 12zm-4-21zm-1 17zm-2-14zm-24-4zm-5 5zm-3 3zm0-4zm-4 13zm13 20zm4-6zm3-2zm4 7zm0-8zm4 22zm2-26zm0 2zm1 10zm0 1zm2 10zm1-20zm5 11zm1 3zm2 9zm0-8zm4-10zm0-8zm2 1zm1 15zm4-13zm2 11zm3 10zm17-22zm26 20zm93-19zm0 22zm26 4zm-38 22zm-72-23zm-16 6zm-8 12zm-19-12zm-18 0zm-12-1zm-4-3zm40 41zm34 4zm97 8zm-14 24zm-5-5zm-64-10zm-44 37zm2 5zm3-5zm2 8zm4-12zm27-9zm19-3zm172 49zm-78-23zm-112 12zm-13 4zm-1-5zm0-4zm-3 9zm-2 1zm-4-4zm-5 10zm-1-10zm-5-2zm-2-1zm-3 7zm-5-15zm-4 1zm0 16zm-2-2zm-2-2zm-7-5zm25 19zm72 17zm21-4zm41-8z"/><clipPath id="c9"><path d="M2046 1897L2094 1904L2147 1899L2195 1910L2238 1931L2264 1958L2307 1985L2350 2028L2382 2065L2403 2108L2407 2150L2400 2193L2392 2236L2377 2278L2355 2321L2318 2358L2275 2386L2222 2396L2168 2396L2126 2386L2094 2375L2051 2369L2024 2343L2008 2334L1988 2349L1962 2334L1951 2310L1957 2278L1951 2241L1930 2206L1903 2172L1890 2129L1886 2086L1893 2044L1917 2001L1949 1959L1986 1927L2018 1908Z"/></clipPath><g filter="url(#rd)"><g clip-path="url(#c9)" fill-rule="evenodd"><path fill="#000" d="M2042 1885L2092 1892L2148 1886L2198 1899L2243 1920L2271 1949L2315 1977L2360 2021L2393 2061L2416 2105L2420 2150L2412 2194L2405 2239L2389 2284L2366 2328L2327 2367L2282 2396L2226 2406L2170 2406L2126 2396L2092 2385L2048 2378L2020 2352L2003 2342L1982 2357L1954 2342L1943 2317L1949 2284L1943 2245L1920 2208L1893 2172L1879 2127L1875 2083L1882 2038L1907 1994L1940 1950L1980 1917L2013 1897Z"/><ellipse cx="1975" cy="2019" rx="7.1" ry="23" fill="#fff"/><ellipse cx="2012" cy="2073" rx="30.1" ry="3.8" fill="#fff"/><ellipse cx="2055" cy="2171" rx="33.9" ry="3.8" fill="#fff" transform="rotate(-27 2055 2171)"/><ellipse cx="2139" cy="2084" rx="6.6" ry="6.6" fill="#fff"/></g></g><path stroke="#fff" stroke-width="8.2" d="M2193 1893zm-2 5zm-4 3zm-2 1zm-3 1zm-1-4zm-19-1zm-2 2zm0-7zm-3 2zm-4 0zm0-5zm-1 13zm0-3zm0-10zm0-5zm0 15zm-1-5zm-2-1zm-2 9zm0-14zm-15 13zm-19 0zm-50 1zm-41-2zm-27 0zm-26 23zm2 4zm2-1zm5 1zm15-8zm1-14zm3 11zm1-7zm0 4zm2 1zm1 0zm1 13zm1-12zm0 0zm0 13zm2-5zm1-1zm0-3zm2-2zm1 9zm1-17zm1 12zm1-9zm1 18zm2-17zm1 7zm1-12zm2 2zm1-6zm3 10zm5 1zm1 13zm3-18zm3 4zm1 16zm2-12zm3 4zm10-16zm0 6zm3-2zm2 5zm1 5zm4 4zm0-8zm0-8zm1 5zm1 5zm1-7zm1-5zm5 1zm11 3zm6 18zm17-3zm0-20zm2 24zm0 1zm3-26zm4 10zm0 14zm1-11zm0-13zm1 18zm1 5zm0-12zm0 5zm0-11zm1 9zm0 1zm1-8zm0 3zm1-8zm2 15zm12-15zm9-3zm2 10zm1-1zm8-8zm3 1zm3 20zm3-4zm0-17zm3 14zm1 9zm3-13zm0 10zm1 5zm1-22zm0 22zm2-10zm1 7zm0-8zm1 10zm0-7zm1 2zm0 3zm3-6zm0 3zm1 2zm4-3zm3-3zm3 5zm0 5zm0-11zm2 5zm0-4zm1 5zm2 5zm2-4zm4-3zm0 7zm8-8zm1-7zm0 12zm0-13zm1 17zm1-11zm1 11zm2-3zm14-4zm2 4zm2-4zm4 3zm4 3zm4 0zm4-3zm25 20zm-1-5zm-3 9zm-4 1zm-4 1zm-11 3zm-2-13zm-3 14zm-1-24zm-4 24zm-1-25zm-4 3zm-1 10zm-3 12zm0-4zm-5 1zm-1 5zm-2-5zm-2-1zm-1-3zm-1 4zm-5 2zm-4-13zm-5 10zm-3-4zm-5-2zm-1-8zm0 20zm-1-15zm0 10zm-1-7zm-1 2zm0-5zm-1 3zm-3 11zm-1-14zm-3 11zm0-5zm-2 5zm-3 0zm0 0zm-1-18zm-2 0zm-1 9zm-1-6zm0 17zm-1-3zm-2-16zm0 5zm0-8zm-1 8zm0-11zm-1 3zm-1 19zm-2-15zm-2 17zm-5 1zm-4 0zm-1-5zm0-19zm-1 23zm-11-13zm-1 5zm-1 1zm0 0zm0-11zm-1 16zm-2-20zm-1 24zm0-6zm-4 3zm-1-4zm-2-6zm-1 14zm-2-7zm0 6zm-3-23zm-1 5zm-1 19zm0-12zm-3-1zm0-3zm-2-10zm-1 15zm-1-4zm0 3zm-1-10zm-3 13zm0-7zm-1 0zm0 5zm0-13zm-2 0zm0 4zm-2 1zm0 11zm-1-18zm-4 0zm-3 4zm-8 1zm-1-5zm-3 20zm-9-15zm-4 4zm0-1zm-4-5zm0 8zm-1-2zm-1 12zm-2-16zm-1 1zm0 19zm0-24zm-4 3zm0 4zm-3 11zm-5 1zm-4 3zm-4-11zm-8-10zm-1 12zm0-4zm-3 3zm0-14zm-1 19zm-2-4zm-2-4zm0 5zm0 1zm-1-11zm-1-5zm-1 20zm-1-19zm-1-1zm-4 3zm-1-4zm-2 8zm-4 3zm-4-6zm-2 18zm-2-21zm-1 22zm-1-23zm-1 9zm-1-4zm0 14zm-1-16zm-1 11zm-4-9zm-3 0zm-1 8zm-2-13zm0 5zm-2-2zm-1 5zm-1 10zm0-15zm-1 10zm-1 6zm-1 5zm-1-12zm0 11zm-3-14zm-1 17zm0-22zm0 15zm-3-20zm-1 17zm-1 10zm-1 0zm-1-5zm-1 5zm-7-16zm-3-4zm-5 20zm-1-7zm-4-2zm-22 24zm4-1zm0 12zm2-5zm3 4zm0-13zm0 2zm2 5zm2-1zm3-12zm5 18zm1-20zm1 1zm4-3zm1 19zm4 7zm1-21zm2-4zm0 5zm0-1zm0 21zm2 0zm0-5zm2-19zm1 13zm5 6zm2-5zm2-15zm4 21zm0-19zm2 4zm3 17zm2-17zm2-1zm1 18zm0-23zm2 5zm2 1zm1-5zm1 17zm0-6zm2-9zm0 5zm0 5zm1-7zm0-5zm5 11zm0 5zm0 5zm1-16zm5 12zm3 0zm2 2zm2 5zm0-5zm2 5zm1-3zm0-17zm1 12zm0 7zm1-12zm0 11zm1-7zm7-2zm5 11zm2-8zm5 1zm4 3zm1-23zm0 8zm5-1zm2 16zm0-10zm1 5zm2-13zm5-2zm4 16zm8 8zm4-15zm4-3zm1-3zm0 17zm0-6zm3-7zm3 4zm4 8zm1-6zm0 11zm0-15zm1 15zm0-10zm2 3zm1-5zm0 9zm1-18zm0 5zm4 5zm0-7zm1-1zm4-1zm0 6zm1 2zm0-6zm0-7zm0 6zm5 9zm4-7zm1 7zm5-5zm1-4zm0 9zm0-10zm2 15zm4-1zm1 5zm4-24zm8 0zm12 0zm0 5zm0 5zm3 4zm0-6zm1 5zm0-15zm3 3zm5 1zm1 11zm0 5zm0 5zm1-21zm2 5zm1-9zm2 13zm1 1zm5 0zm0 4zm1-5zm0 10zm0 2zm3-25zm1 12zm7 11zm2-2zm3 4zm2-1zm0-14zm0 14zm4-6zm1-1zm1-3zm4-3zm0 5zm4-6zm1 7zm2-3zm4 2zm1-1zm2 10zm2-9zm1 1zm0-12zm2 19zm0-23zm1 2zm1-1zm5 2zm4 15zm1 5zm1-23zm0 13zm3-12zm1 14zm1-16zm0 1zm1 5zm0 5zm-6 18zm-41 26zm-4-27zm0 24zm-2-19zm-2 10zm-1-6zm-8-9zm0 5zm-1 5zm-2 5zm-1-13zm-4 17zm0-11zm-3 7zm-1-5zm-9-6zm-2 4zm0 1zm-1-5zm-1-3zm-3 5zm0 3zm-1-7zm-1 8zm-1 16zm-3-26zm-6 24zm-2-4zm-3-7zm0-12zm-1 4zm-2 4zm0-3zm-2 5zm-1-4zm-4 11zm0-13zm0 5zm-2 16zm-1-17zm-1 5zm0-5zm-1 14zm-3-8zm0-3zm-2 9zm-1-5zm-7-15zm0 5zm-2-4zm-1 8zm-3-6zm-1 10zm-1-14zm-2 1zm-1 5zm-2 7zm0-11zm-1 8zm-2-4zm-1 14zm0 6zm-2-12zm0 10zm-4-13zm-1 5zm-2-16zm-8 2zm-13 2zm-4 3zm-2 7zm0 13zm-2-24zm-1-3zm0 26zm-1-1zm-3-5zm-1 1zm0 6zm-4-24zm-1 23zm-3-26zm-1 11zm0 13zm-1-24zm-1 22zm-1-15zm-2-7zm-1 4zm-1 17zm0-12zm-1 6zm-3-2zm-1 8zm-2-4zm-4-3zm-1 5zm0-16zm-4 19zm-1-21zm-3 24zm-4-14zm-5 2zm-5 8zm0-21zm-2 26zm-1-12zm-1 5zm-2 4zm-2-7zm-2-4zm-1 13zm-2-10zm-1-1zm-2 12zm-1-1zm-2-12zm-1 9zm-1 0zm0 3zm-2-23zm-1 13zm-1 4zm-1 8zm-2-1zm0-24zm-1 14zm0-1zm-2-2zm0 9zm-2-21zm0 22zm-1-4zm-2-4zm-1-1zm0-7zm-3-2zm-1 8zm0-3zm-2-9zm0 18zm-1 8zm0-13zm-2 0zm0-14zm-2 3zm-1 7zm-1 0zm-1-10zm-2 7zm0 6zm0-8zm-1-5zm-4 9zm0 4zm-8-3zm-4 13zm0-22zm-3 18zm-5-4zm-1 12zm0-6zm-2-2zm0 5zm0-18zm-1 12zm-2-3zm-14 10zm-17 29zm15-6zm1-4zm0-14zm0 25zm2-4zm1 2zm2-12zm0-11zm1 17zm3-8zm2 7zm4 1zm1-3zm0 6zm1-1zm2-20zm2 3zm2 5zm0-4zm5 2zm1 8zm0 5zm1-8zm1-12zm0 2zm1 19zm4 3zm3-17zm2 10zm0-5zm6-7zm3 5zm1-8zm1 5zm5 6zm0-7zm5 2zm1-2zm12-6zm2 15zm3-14zm2 15zm2-11zm0-3zm1 22zm2-17zm1 12zm0-3zm1 5zm2-6zm2 9zm9-24zm2 4zm3 18zm1-5zm3-8zm0 3zm1 14zm0-4zm1-9zm1 5zm2 5zm0-7zm0 7zm1-3zm2 0zm1 6zm0-25zm2 19zm0-15zm3 15zm1-9zm1-4zm3 7zm1 10zm0-5zm3-4zm4-4zm1 5zm3-2zm2 2zm0 8zm0-5zm4-3zm0-14zm1 14zm0-5zm3 12zm1-6zm0-13zm2 21zm1-11zm1 8zm0-15zm1-3zm0 16zm1-1zm1-9zm0 1zm0 5zm1 7zm0-12zm1 14zm2 2zm0-19zm1 0zm0 5zm3 13zm2-19zm2 10zm1 7zm2-19zm3 6zm0 12zm1-14zm3 3zm3-4zm1 5zm7-12zm4 0zm3 4zm2 20zm1-6zm1-10zm1 6zm2-5zm6 11zm2-15zm1 21zm3-19zm3 1zm2 0zm3 15zm0-12zm0-4zm2-4zm1 19zm1-13zm4-5zm1 3zm3 6zm3-13zm10 7zm0-5zm1 0zm5 1zm4 18zm1-20zm0 25zm5-26zm37 16zm1-5zm4 7zm4-3zm145 23zm-5 2zm-5 1zm-5-1zm-21 12zm-5-1zm-5 1zm-110-6zm-5 2zm-5-1zm-4-4zm-14-5zm-5 1zm-5 1zm-17-8zm-1 5zm-3-9zm-1 6zm-4 4zm-2 5zm0-10zm-3-6zm-1 2zm-1 12zm-1-14zm-1 27zm-1-26zm-1 21zm0-19zm-1 12zm0 1zm-1 8zm-1-1zm-1-18zm-2 8zm0 4zm-1 7zm0-24zm-3 10zm-6-9zm-3 9zm-1 5zm-2 3zm-2-14zm0 12zm-1 1zm-1-4zm0-1zm-1 5zm-1-9zm-1-5zm0 11zm-1-7zm0-7zm-1 12zm-1-9zm0 16zm0 2zm-1-21zm0 11zm0 5zm-1-12zm-3 4zm0 13zm-1-10zm-4-2zm0 0zm-4 4zm-2-3zm-1 5zm-3-8zm-2 9zm-2 4zm-1 5zm-3-9zm-2-12zm0 7zm-1 11zm0-20zm-4 9zm-1 14zm0-23zm-1 7zm-3 3zm-1 14zm-1-16zm-3 12zm-1-14zm-1 0zm0 5zm-2 5zm-2 6zm-1-22zm-6 19zm-5 1zm-3-16zm0 6zm0 5zm-2 2zm-2 6zm-1-22zm-3 4zm-1-4zm-1-3zm-4 3zm-5 2zm-3 0zm0-5zm-1 5zm-3-4zm-2 17zm0-6zm-5-12zm-3 0zm-2 8zm-1 1zm0-5zm-2 8zm-2 11zm0-11zm-2 3zm-4 3zm-4 9zm0-27zm-5 2zm-1 15zm-2 0zm-2-16zm0 20zm-1 5zm0-24zm-4 3zm-5 13zm0-12zm-2-6zm0 4zm-2 1zm-3-2zm-8 9zm-4-6zm0-5zm-1 10zm-3 16zm-3-4zm0-17zm-3 4zm-3 4zm-3 4zm-2 6zm0-6zm-5 3zm-5-11zm0 11zm-3 5zm-1-7zm-3 4zm-3-8zm0 4zm-1-5zm0-9zm-1 7zm0-9zm-1 16zm0-5zm-1-6zm-1 8zm-1 2zm-1 3zm0-3zm-1-14zm-2 17zm-2-3zm-1-16zm-2 8zm-1 5zm20 30zm1 2zm1-10zm1 12zm0-10zm2-5zm0 10zm1 5zm1-10zm1-9zm1 7zm2-4zm0 13zm0 3zm1-21zm1 22zm0-9zm3 9zm9 5zm2-5zm0 4zm0-6zm2-2zm3 8zm0-22zm0 16zm2-12zm1 3zm1 13zm3-21zm1 9zm0-10zm1 21zm4-9zm1-14zm4 27zm2-8zm4 3zm3-21zm2 4zm0 15zm2-10zm1-7zm0 13zm0 0zm1 8zm2-12zm2 9zm0 5zm3-5zm2-1zm12-3zm3-7zm1 10zm4 3zm1-23zm3 4zm1 5zm0-3zm3 5zm1 6zm0-8zm1 2zm1 4zm0-10zm0 9zm1 11zm0-15zm1 12zm0-7zm1 3zm0-11zm0-5zm0 8zm2 16zm0-8zm0 0zm3 1zm2 0zm3-2zm5 2zm0-5zm1-12zm0 5zm1 12zm0-9zm1-4zm2 19zm1-19zm4 17zm5-17zm0 8zm0-6zm1-3zm1 6zm3-10zm5 16zm3 3zm2-20zm1 5zm0 12zm0-15zm1 21zm1-9zm0 8zm3 5zm0-1zm6-17zm7 17zm1-5zm5-9zm2 13zm7-14zm0-7zm1 17zm1-15zm3-4zm0 16zm4-7zm0 10zm0-6zm1 1zm2-9zm1 18zm0-23zm1 10zm4-11zm1 5zm1 5zm18-7zm4 4zm1 19zm159-23zm3 5zm107 27zm-4 3zm-5-2zm-251-9zm-5 1zm-59 11zm-1 5zm-2-14zm-6 21zm-12-13zm-3-7zm0 5zm0 12zm-2-7zm-2-9zm-1 13zm-4-12zm-2 20zm-9-1zm-1-18zm-1-5zm-3 25zm-5-12zm0-13zm-3 8zm0-5zm-2 10zm-1-14zm0 16zm0-16zm-3 13zm0 11zm0-13zm-4-10zm-1 9zm-2-8zm-2 4zm-3-7zm0 25zm-2-17zm-2-6zm0 8zm-1 16zm-2-17zm-1-4zm0 16zm-1-12zm0 8zm-3-5zm0-2zm-1 7zm-1 2zm0 3zm0-10zm-4 10zm-1-16zm-3 10zm-1-9zm0 14zm0 0zm0-16zm-3 10zm0-12zm0 10zm-1-12zm-3 15zm-1 5zm-1-4zm-1 10zm-1-5zm-3-13zm-1 16zm-1-11zm-1-7zm-1 5zm-4 14zm-4 1zm0-4zm-1-2zm-2-1zm-1 3zm-1-2zm-1 3zm-2 1zm-3-2zm-5-12zm0-5zm0 19zm-13-10zm-19 11zm-3-19zm-1 0zm0 16zm0-13zm-3 3zm0-9zm-2 20zm-3-4zm-11 12zm3-4zm6 7zm5 0zm6 9zm0-9zm4 20zm1-14zm3-3zm3 11zm0-13zm1 15zm1-10zm1 10zm2-4zm2 8zm3-9zm1 9zm2-13zm1-1zm4-11zm0 14zm0-4zm5 6zm0-5zm1 5zm2 5zm2-23zm5 2zm1 24zm4-17zm0-7zm4 1zm0 4zm0 19zm1-22zm2-4zm1 22zm0-15zm0-4zm0-3zm2 18zm0 9zm2-14zm0-13zm0 1zm1 23zm1-16zm1 19zm1-23zm3 10zm0 10zm1-16zm2 2zm0 0zm1 12zm2-8zm1 5zm0 5zm1-15zm1 12zm4-4zm0 9zm2-22zm1 9zm2 12zm2-19zm2 16zm2-7zm0 1zm0-9zm2 13zm1 0zm1 2zm1 5zm10-21zm3 7zm0-3zm2 10zm1-6zm0 1zm2-4zm1-11zm0 18zm0-7zm2-6zm0 0zm0 20zm1-15zm0 10zm4-7zm4 13zm1-14zm0-12zm4 14zm1-13zm1 0zm3 14zm2-12zm1 5zm0-5zm4 1zm2-2zm3 4zm1 2zm1-6zm2 4zm4 3zm196-6zm5 11zm4-4zm2-4zm2 0zm25 18zm4-4zm3 5zm41-16zm-39 20zm-6-1zm-270 2zm-13 6zm-5-1zm-4 0zm-2-4zm-1 23zm-2-14zm-3 11zm-2-9zm0-2zm-4 5zm-1-7zm-1-9zm-1-1zm-1 20zm0-9zm0-5zm0 0zm-4 3zm0-8zm-1 21zm-1-13zm-2 3zm0 14zm-1-26zm-3 2zm-2-2zm-4 6zm-3-4zm-1-1zm0 2zm-1 1zm-1 2zm-2-6zm-3 15zm-4-3zm-3 2zm-1-6zm0 0zm-1-3zm0 2zm0-4zm-1-1zm0-1zm-1 16zm-1-6zm0-6zm-2 2zm-1 12zm0 0zm0-4zm0-2zm-2 6zm-2-9zm0 17zm-4-15zm-4 2zm0-7zm-2-1zm0 5zm0-9zm-2 11zm0 1zm-1 1zm0-8zm-1 16zm-1-5zm-1-8zm0 1zm0 2zm-1-3zm0-5zm-1-5zm0 0zm-1 22zm0 1zm-3-13zm0-7zm-2 22zm-9-21zm0 5zm-2 7zm-2-9zm-3 7zm0-10zm-1 5zm-4 4zm0-8zm-1 5zm-4-7zm-1 7zm-5-2zm21 38zm4-3zm3-14zm0 0zm2 12zm2-9zm1 5zm4-5zm4-2zm0 12zm2 2zm0 4zm0-11zm3 6zm1 4zm0-13zm2 5zm2 12zm6-21zm1 5zm3-5zm2 25zm1-4zm23-22zm0 23zm5-23zm2 0zm5-1zm0 5zm3 4zm2-8zm4 4zm59 16zm1 5zm27-13zm1 5zm3-8zm49 11zm13-4zm4 2zm5 1zm5 1zm105-12zm4 3zm4 3zm3 5zm126-9zm2 5zm2-8zm2 11zm-355 12zm-1 5zm-94-8zm-5 0zm-2 14zm-2 1zm-1 7zm0-12zm-1 2zm-2-9zm0 14zm-2-10zm60 22zm5 1zm5 1zm5 2zm10 13zm4 3zm6 0zm156 3zm2-5zm26-6zm2 5zm3 5zm4 3zm77-4zm5 0zm5-2zm4-3zm7-2zm2 4zm1 5zm24-22zm8 24zm0-14zm3 10zm11 5zm-3 4zm-5 2zm-75 20zm-5 0zm-10-22zm-2 5zm-62 14zm-254 0zm-3-3zm-5-2zm178 28zm6 0zm5-1zm105 8zm1-4zm32-18zm5-2zm-41 29zm-3 4zm-4 3zm-188 42zm5-1zm4 3zm5-1zm40-3zm4 3zm161-20z"/><path stroke="#000" stroke-width="8.8" d="M2187 1903zm-13-7zm-8-4zm-26 5zm-5-6zm-16 6zm0-9zm-11-6zm-3 13zm-5-12zm-49 19zm-71 29zm1-10zm2 5zm4 5zm14-4zm3-11zm1 4zm0-9zm3 7zm7 1zm0-4zm7 11zm5-7zm2 8zm14 3zm2-19zm2 10zm10-7zm27 12zm3-19zm2 7zm5 6zm6-10zm9 7zm1-6zm10 16zm1-22zm10-1zm9 17zm2-11zm4 9zm10-15zm9 26zm0-20zm10 0zm1-6zm0 9zm8-6zm0 12zm7-2zm17 7zm6-2zm1-11zm16 13zm1 0zm5-2zm3-2zm9 8zm22 24zm-10-1zm-4 3zm-11-9zm-5 2zm-1 3zm-9-11zm-8 9zm-7-11zm-2-5zm-15 15zm0-8zm-2 12zm-9-15zm-1 7zm-2 9zm-3 5zm-2-4zm-3-9zm-4 11zm0-5zm-1 1zm-1-14zm-1 15zm-16-9zm0 13zm-4-24zm-23 19zm-2 5zm-4 2zm-2-16zm-10-3zm-4 10zm-10-8zm-8-1zm-2 16zm-7-16zm0 17zm-7-18zm-15 0zm-6-5zm-12 18zm-4 3zm-1-19zm-4 8zm-2 3zm0-12zm-3-2zm-16 6zm-3-2zm-16 1zm-17 0zm-9 0zm-7-5zm-6 24zm-23 29zm2-6zm0-9zm15-8zm2-3zm5 27zm2-11zm5-6zm6 14zm1-2zm5-7zm5-11zm2 23zm15-16zm2 11zm13-3zm1-12zm3 8zm3 0zm2-11zm1 15zm0 6zm11-18zm1 12zm3 2zm3-11zm2-4zm5-4zm14-1zm21 10zm4 1zm3-4zm0 12zm2-8zm4 13zm2-11zm2 6zm9-3zm2 1zm8-3zm1-10zm15 5zm5-4zm2 12zm2-5zm3-6zm0 16zm3-3zm7 3zm2-9zm13-1zm1 5zm1-6zm9 9zm3-10zm2-11zm0 20zm1-10zm7 2zm14-4zm7 4zm2 15zm7-9zm7 0zm2-10zm47 2zm4-6zm4 10zm10 1zm21 12zm33 27zm-6-5zm-12-7zm-4 3zm-5-2zm-5 5zm-1 3zm0-15zm-2 16zm-17-19zm-2-4zm-14 17zm-34-3zm-20-10zm-3 19zm-12 2zm-20-26zm0 18zm-10-3zm-11-10zm-13 0zm-10 21zm-3-3zm-2-6zm-5 2zm-2-19zm-5 5zm-19 1zm-4 6zm-1 12zm-3-9zm-6 4zm-15 0zm-2-9zm-2-1zm-1 16zm-1-8zm-12 2zm-4-3zm-6-9zm0-4zm-10 5zm-16 13zm0-6zm-11 6zm-3-14zm-10-4zm-12 11zm-7 12zm-1-9zm-8-11zm0-5zm-5 6zm-3 20zm-3-1zm-2-15zm-5 12zm-6-3zm-5 0zm-6 7zm-3-12zm-2-13zm-6 21zm-5-7zm-2-9zm0 20zm-4-4zm-2-15zm-5 18zm-7-5zm-16 28zm15-15zm10-3zm5 4zm9 18zm2-17zm0 11zm3 5zm8-6zm0-10zm6 10zm3-16zm13-2zm31 0zm4 25zm4-21zm3 18zm6-5zm15 0zm10-16zm3 7zm4 7zm4 10zm5-23zm2-2zm12 15zm2-6zm16-9zm14 2zm3-1zm1 21zm3 0zm5-4zm1-17zm4 16zm4-13zm1-3zm2 13zm2-14zm1 13zm0-1zm1 13zm2-20zm8 15zm1 6zm6 0zm8-6zm1-19zm2 0zm2 7zm15-8zm1 8zm51-3zm4 11zm9 6zm29 3zm14-4zm12-2zm1-13zm24 8zm10-13zm6 19zm1 1zm9-18zm6 13zm16 6zm1 4zm5-2zm9 8zm-17 23zm-4-27zm-6 16zm-5 3zm-8 2zm-5-17zm-23 0zm-5 3zm-7 7zm-1-2zm-24-9zm-12 6zm-5-4zm-13-3zm-9 23zm-20-7zm-5-17zm-3 24zm0-24zm-12 20zm-4-15zm-26 7zm-5-6zm-6 12zm-2-13zm-6 19zm-3-3zm-9 1zm-10 2zm-9-11zm-2-3zm-7 1zm-6 7zm-5-17zm-4 13zm-4 3zm-4-7zm-19-10zm-5 21zm-12-13zm-3 2zm-7-2zm-7 8zm-3-15zm-12 24zm-2-3zm-1-2zm-11 6zm-6-8zm-7 7zm-2-19zm-6 15zm-6-15zm-4 19zm-3-5zm-14-16zm-3-1zm-2 6zm-4 14zm-8-19zm-4 3zm0 17zm0-24zm-11 9zm0 16zm-1-6zm-18-8zm-1 8zm-2-6zm-6 13zm-23 13zm14-8zm10 16zm5-13zm2-4zm4 5zm6-7zm1 21zm0-12zm1 3zm8 8zm3-5zm2-6zm5 17zm1-4zm2-17zm4 20zm7-23zm23 24zm8-6zm3 6zm1-10zm7 6zm5-7zm26 2zm0 6zm3-14zm0 5zm10-1zm6 5zm3-12zm0-2zm4 22zm0-22zm9 16zm3-15zm4 21zm4-8zm5-14zm3 10zm3-7zm6 11zm3-16zm9 4zm8 16zm2-23zm2 25zm14-14zm9-1zm3 16zm17-21zm34 8zm13 3zm1 7zm0-17zm6 20zm4-26zm8 14zm9 1zm6-9zm4 6zm9 9zm1-16zm3 12zm2-5zm12 0zm3-5zm17 7zm6 13zm3-2zm5-22zm17-1zm1-2zm1 4zm7 9zm16-3zm8 7zm4 8zm4 2zm8-2zm18-22zm16 13zm13 1zm3 35zm-3-14zm-1 2zm0 2zm-3-3zm-7 1zm-4 0zm-1 12zm-17-4zm-21-16zm-27 21zm0-13zm-4 8zm-1-6zm-1 13zm-2-14zm-9 2zm-9 12zm-2-19zm-10 18zm-12-7zm-2-17zm-8 21zm-39-16zm-2-1zm-1-1zm-4 11zm-21 7zm-3-21zm-1 23zm-13-2zm-23-11zm-7-2zm-6-1zm-3 1zm-8 1zm-11 7zm-25 0zm-7 7zm-6-21zm-3 3zm-8 12zm-5 0zm-1-1zm-1 7zm-2-14zm-33 11zm-6-3zm-2 0zm-2-19zm-1 1zm-1 1zm0 21zm-10-16zm-13-5zm0 2zm0 5zm-1 11zm-1 2zm-2-16zm-7-5zm-2 23zm-12-15zm-7 6zm-2-9zm-3 11zm-6-5zm0-3zm-6 13zm-2 4zm-1 1zm-9-19zm-14-2zm-2 0zm-3 16zm-1-21zm-5 26zm-7-1zm-2-12zm-18 10zm-2-5zm-1 11zm2 15zm9 4zm3-5zm13-7zm2 15zm1-14zm18-4zm1-6zm2 15zm6 12zm4-11zm3 3zm0-14zm28 17zm5 5zm14-4zm8 2zm4-9zm5-11zm7 12zm6-13zm24 23zm3-21zm4-6zm6 19zm6-14zm4-1zm14 5zm5 2zm13 2zm0 5zm0 9zm12-16zm19-3zm4 5zm6 0zm3-1zm19 9zm5-20zm5 8zm8-2zm14 20zm0-11zm10-6zm0-10zm6 14zm6 2zm10-14zm4 5zm4 9zm9 0zm7-11zm7 0zm9 0zm15-1zm17 7zm16 6zm32 2zm4-2zm5-6zm10-4zm14 1zm3-6zm8 15zm13 30zm-2-1zm-18-18zm-1 10zm-19 5zm-27 11zm-9-13zm-1-6zm-10 19zm-17-21zm-4 1zm-2-1zm-1 5zm0 11zm-5 2zm-12 0zm-14-8zm-7-3zm-3-5zm-10-4zm-14 8zm-37 1zm-19 4zm-2 9zm-1-5zm-2-9zm-10 2zm-30 11zm-3 1zm-6-21zm-2 10zm0-2zm-6-7zm-15 1zm-9-3zm-20-2zm-10 20zm-38 2zm-1-7zm-9-2zm-3 3zm-24-17zm-3 13zm-12-4zm-1 10zm0-3zm-6 7zm-4-12zm-9-10zm-2 11zm-5-6zm-12-2zm-5 10zm-10-8zm-6 2zm0-3zm-7 18zm-2-23zm0 27zm-10-21zm24 45zm6-18zm7 4zm5 13zm17-14zm1 9zm4-7zm1-6zm10 19zm2-21zm3 25zm2-23zm25 16zm3 2zm15-11zm5-4zm9 0zm8 10zm5 0zm9 8zm5-4zm12-1zm10-19zm22 24zm5-7zm17-3zm2-6zm7 11zm7-13zm6-1zm18 20zm2-24zm13 2zm10 15zm6-18zm7 5zm9 4zm1 1zm4-10zm8 0zm13 3zm0 9zm15 2zm4-10zm3 15zm23 4zm9-17zm9-1zm7 17zm3-10zm21 9zm11-14zm6 15zm9-14zm1 2zm8-8zm2 10zm1-10zm25 16zm3-12zm1 8zm6 17zm-12 12zm0-1zm-1 11zm-8-24zm-9 17zm-11 0zm-1-14zm-1 19zm-1-23zm-11 4zm-1-4zm-3 19zm-45-3zm-4 2zm-11-3zm-22 0zm-2-1zm-11-12zm-1 8zm-2 10zm-5-14zm-6 18zm-6-12zm-19 6zm-2 7zm-15-8zm-56 3zm-11-2zm-3-4zm-15-11zm-16 14zm-27-1zm-11-3zm-32-13zm-5 26zm-6-11zm-2-13zm-41-3zm-9 2zm-4 27zm1 26zm2-18zm7 7zm6 6zm2-4zm12-9zm4-5zm1 22zm12-9zm4-4zm15 6zm26-6zm4-10zm16 22zm9 0zm23-12zm28 0zm5 13zm6-20zm2 1zm3-1zm36 13zm2-15zm7-4zm3 11zm3 3zm6-8zm7 11zm4 0zm19 1zm0-18zm1 0zm15 10zm5-7zm8 13zm19-15zm4 0zm2 4zm7 5zm4 12zm6 1zm17-17zm22 11zm6 10zm8-7zm7-17zm3 15zm16-12zm7-6zm3 3zm4 16zm4 10zm-40 26zm-2-16zm-21 7zm-5 1zm0-14zm-50 1zm-3 9zm-5 11zm-5-23zm-7 20zm-5 4zm-16-25zm-3 17zm-11 6zm-7-21zm-2-4zm-2 1zm-2 11zm-3-7zm-12 21zm-3-17zm-3 10zm-36-18zm-38 26zm-25-26zm-16 5zm-1 20zm-29-20zm-15 14zm-1-19zm-2-1zm-5 6zm-4-4zm-23 21zm-11 2zm-6-22zm-23 8zm-1 36zm1 1zm3-4zm1 11zm3-5zm2-12zm0 2zm4 7zm8-3zm1-4zm9 9zm12-14zm19 9zm6 11zm3-9zm1 7zm20-3zm0-17zm13-2zm2 0zm5 23zm6-3zm32-15zm9 8zm16-16zm24 15zm6 12zm13-20zm7 15zm10 4zm6-2zm11-5zm8-9zm7-6zm7 11zm2 3zm1 8zm6-9zm4-15zm2 8zm16-9zm6 0zm9 26zm13-24zm4 2zm2-2zm21 3zm7 3zm14-7zm0 13zm24-11zm1 2zm-4 27zm-27 12zm-1 5zm-12-5zm-10-16zm-9 17zm-4-1zm-10 8zm-3-4zm-20-6zm-19-12zm-18 19zm-1-11zm-6 4zm-18-15zm-2 21zm-4-16zm-20 18zm-16-2zm-1-20zm-1 20zm-11-6zm0 2zm-6 3zm-3-8zm-8-9zm-8 10zm-11-6zm-3 2zm-4-7zm-11 24zm-8-16zm-6 9zm-4-15zm-21-3zm-1 23zm-20-17zm-4 15zm-8-9zm-9-13zm-8 10zm-11-5zm0-2zm-1 12zm-4 7zm-7-20zm-1 14zm-11-2zm0-2zm-1-7zm-5 2zm-1 2zm-3 4zm94 19zm7 2zm21 2zm1 5zm0 1zm9-12zm18 18zm6-14zm12 15zm5-9zm8-10zm0 12zm2 6zm15-17zm22 16zm9-16zm4 20zm7-16zm6 16zm4-1zm24 5zm0-10zm3 6zm2-5zm10 8zm4-5zm8-5zm34 7zm0-12zm16 8zm28-12zm8-7zm-51 35zm-42-3zm-2-3zm-16 4zm-13 21zm-3-16zm-1 9zm-6 6zm-11 0zm-3-2zm-22-2zm-5-2zm-2-17zm-1 13zm-6-5zm-15 11zm-12-12zm-20-5zm-5-3zm-4 3zm-77 4z"/><path stroke="#A8A8A8" stroke-width="6.8" d="M2004 1914zm49 16zm9 0zm17-11zm9-7zm8 0zm10 2zm2 14zm5 2zm50-21zm4 18zm28-18zm13-1zm3 2zm26 13zm-13 18zm-5-4zm-18 8zm-32-1zm-4-8zm-7 7zm-11-5zm-10 8zm-31-1zm-2 2zm-45 7zm-20-21zm-2 21zm-25-9zm-27 3zm-14 0zm-16-1zm-19 26zm11-8zm3 9zm15 3zm4 10zm38-23zm1 23zm3-24zm8 23zm50-14zm62 4zm23 6zm37 8zm-83 2zm-144 10zm-45-4zm-12 15zm-2-3zm-6 0zm13 28zm17 4zm9-15zm19 2zm49 6zm10-15zm13-4zm22 11zm48-11zm9 19zm15-16zm16 39zm-26 4zm-27 8zm-3 0zm-38-17zm-6 0zm-46 16zm-1-10zm-28-1zm-63 3zm-11 6zm-9 5zm22 4zm11 8zm11-7zm65-1zm53-2zm5 5zm3 16zm56-11zm14-5zm2-1zm68 22zm-67 0zm-41 16zm-57-12zm-26-1zm-8 21zm-18-1zm-5-21zm-18 24zm-9-12zm-63 9zm36 22zm6-3zm32 4zm14 4zm4-4zm7 2zm22-15zm24 14zm80-1zm178-4zm-174 22zm-120 5zm-21 7zm-43-9zm-11 26zm66-5zm71 55zm307 57zm-322 53z"/><path stroke="#E03027" stroke-width="6.8" d="M2102 1914zm131 6zm39 39zm-10-14zm-138 10zm-89-11zm167 34zm18 4zm2-13zm6 11zm1-8zm1 0zm5 3zm6 5zm4-13zm3 20zm9-22zm7 19zm12-1zm7 1zm23-3zm3-2zm4 1zm2-5zm6 31zm-4-1zm0 7zm-5 2zm-12-20zm-3 13zm-7-8zm-3-1zm-6 12zm-8-15zm-5 5zm-29-1zm-16 3zm-5 6zm-4-18zm-7 15zm-5-13zm-7 21zm-4-9zm-24-6zm-2 16zm-176-15zm-96 37zm99-3zm157-12zm1 1zm13 7zm51-8zm0 22zm6-27zm0 12zm10-6zm5 5zm5 9zm30-19zm1 3zm1-4zm4 6zm14 1zm2 11zm2-3zm20 1zm14-10zm12 11zm4-15zm23 20zm0-5zm26 37zm-2-10zm-4 3zm-1-4zm-5 2zm-15-15zm-22 7zm-20-7zm-10 20zm-4-14zm-4 14zm-3-20zm-6 25zm-11-27zm-2 7zm-15 4zm0 8zm-3-3zm-10 11zm-10-15zm-13 9zm-7 4zm-35-6zm-9 0zm-6 4zm-1-22zm-4 4zm-6-3zm-1 7zm-5 17zm-5-2zm-11 3zm-15-15zm-18 12zm5 8zm22 20zm8-17zm4 11zm1 0zm2-7zm5 4zm5-6zm9 17zm4 0zm9-5zm10-21zm1 6zm4 18zm9-9zm2 6zm2-1zm3-9zm7 5zm19-10zm11 21zm7-10zm18 6zm11-15zm1-7zm5 8zm11-2zm15-5zm1 10zm1 12zm1-5zm5-12zm1 3zm6-9zm2 26zm2-12zm8 0zm1-8zm17 13zm0-16zm9 23zm1-1zm9-13zm12 3zm9 15zm-13 5zm-22 11zm-6-12zm-8 11zm-14 6zm-8-9zm-15 7zm-18-19zm-3 8zm-3 3zm-12-14zm-4 20zm-29 3zm-14-6zm-22-3zm-3 1zm0-13zm-14 8zm-18 16zm-6-8zm-2-1zm-11-16zm-2 14zm-2-14zm-11 8zm-1 4zm-2 12zm-13-10zm-5-2zm-9 4zm-1-5zm-24-2zm-4 8zm-10-7zm-78 9zm-36-15zm-9 19zm56 30zm53-9zm10 2zm7-16zm3 12zm3-10zm3 7zm7 8zm2-18zm26 17zm23-16zm6 24zm9-6zm29 2zm1-6zm16-3zm2 11zm3-2zm8-1zm1-6zm4-2zm1-5zm3 14zm34 3zm28-16zm1-9zm15 1zm1 19zm2 6zm6-8zm8 1zm0-18zm10 12zm1-7zm7 12zm0-16zm7 11zm2 3zm11-1zm5-16zm10 17zm1-7zm6-5zm4-2zm6 8zm1 0zm0 2zm13 13zm5 8zm-5 21zm-5-2zm-9-13zm-1-9zm-3 15zm-3-16zm-2 20zm-3-11zm-41 10zm-13-8zm-6 14zm-5-5zm-13-9zm-2-3zm-20 11zm-9-21zm0 9zm-11-7zm-2 16zm-2 5zm-4-9zm-9 3zm-2-9zm-17-2zm-7 13zm-43 2zm-1-21zm-2 7zm-17-1zm-12 15zm-5-12zm-13 4zm-3 0zm-5 4zm-10-8zm-27 15zm-3-1zm-5-10zm-4 7zm-6-19zm-25 1zm-9 15zm-6-13zm-12 11zm-17-8zm-22 2zm-63 9zm27 29zm18-6zm11 0zm0 0zm5 13zm9-21zm7 20zm8 2zm10-2zm2-9zm8-2zm49-4zm5 16zm21-21zm9 5zm1 5zm10 9zm5-7zm9-14zm1 1zm4 23zm9 0zm5-12zm2 0zm5 6zm1 1zm15-7zm1 7zm2-10zm3-5zm26 15zm3-11zm2-1zm2 8zm14-7zm5 1zm5-9zm9 9zm7-3zm11 10zm8-4zm8 1zm1-16zm3 22zm13-13zm4-1zm1 1zm0-9zm2 0zm1 12zm11 13zm7-4zm4-1zm4-1zm5-7zm3 7zm25 6zm15-13zm15-9zm1 21zm17-12zm0 37zm-1-20zm-13 7zm-5-3zm-16 1zm-4 10zm-3 0zm-9-15zm0 11zm-4 0zm-13-5zm0-4zm-14 13zm-13-8zm-1 9zm-2-10zm-19 4zm-4-9zm-2 10zm-11 4zm-9-13zm-4 16zm-21 0zm-3 6zm-2-11zm-7-4zm-32 16zm-15 0zm-6-20zm-11 8zm-15 11zm-1 1zm-15-24zm-4 18zm-1-18zm-11 22zm-10-8zm-1-9zm-38 15zm-6-9zm-7 2zm-17-4zm-9 8zm-8-9zm-2-3zm-17 10zm-8-2zm-5 11zm-18-12zm-24 4zm-1-16zm-3 11zm-2-11zm-1 9zm6 20zm8 18zm7-6zm14 6zm2-13zm20 4zm13-5zm2 17zm6-23zm15 26zm3-27zm0 14zm0-9zm3 1zm2 3zm2 9zm10-1zm3 8zm10-19zm9 10zm2-8zm6 2zm1 6zm21 3zm12-8zm0 16zm5-18zm10-4zm0 5zm1 0zm2 5zm4 12zm10-11zm1-10zm10 21zm16 0zm5-17zm13-5zm7 4zm3 9zm3-9zm9-7zm0 6zm2 19zm13-2zm0-15zm14-3zm18-3zm7-2zm5 18zm3 5zm7-25zm4 17zm4 4zm6-10zm10-5zm40 17zm19-9zm0 2zm5-1zm19 10zm0-14zm2-1zm12-8zm-22 38zm-2 9zm-2-21zm-2 20zm0 1zm-5-16zm-17 12zm0 5zm-10-8zm-5-4zm-13-2zm-5 4zm-6-6zm0-1zm-8 15zm-4-8zm0 10zm-15-6zm-2 0zm-5-3zm-16-6zm-1-7zm-19 4zm-6 18zm-7 5zm-5-25zm-4 13zm-3-13zm-8 1zm-2 7zm-1 10zm-14-18zm-1 1zm-4 20zm-7-11zm-7 11zm-10-15zm-7-4zm-17-3zm-6 7zm-7 10zm-4-1zm-9 8zm-4-23zm-1 22zm-7-5zm-10-7zm-2 11zm-6-9zm0-7zm-8 18zm-15-25zm-6 7zm-1 16zm-3-14zm-9 1zm-7 6zm-33 6zm0-8zm-22 8zm-3 1zm-7-16zm-6 18zm-4-16zm-5 1zm-13 32zm13-12zm3 1zm46 23zm2-5zm5-17zm8 7zm9 9zm64-2zm4 8zm3-11zm5-12zm6 7zm10 9zm1-9zm3-9zm4 14zm17-1zm1 7zm18-1zm64-14zm12 12zm18-5zm3 12zm4-6zm1-9zm3 10zm1-18zm14 20zm6 5zm4-24zm12 12zm5 4zm40-11zm2-3zm3 13zm6 6zm0-4zm1-18zm4 20zm8-14zm-23 29zm-1-6zm-1 8zm-6 13zm-1-2zm-5-16zm-2 7zm-1 8zm-8 2zm-24-15zm-1-2zm-2 13zm-4-11zm-22 14zm-6-3zm-6 6zm-7-5zm-1 7zm-4-5zm-12-8zm-1-8zm-4 10zm-14-2zm-4-14zm-7 21zm-2-8zm-1 4zm-1 3zm-9-10zm-4 9zm-20-15zm-1 6zm-12-5zm-1 14zm-7-2zm-4 2zm-13-14zm-10 15zm-4-5zm-11 8zm-10-14zm-29-1zm-15 6zm-6 4zm-2-4zm0 9zm-8-13zm-19 6zm-4 5zm-4-14zm-3 5zm0-10zm39 27zm2 1zm6 5zm1 2zm2 5zm4-1zm8 7zm4-7zm7-13zm2 11zm26-8zm3 14zm11-10zm2 7zm2-1zm4-7zm5 20zm6-26zm3 26zm7-9zm13-8zm0-8zm6 3zm5 21zm0-10zm4-10zm4-1zm2 16zm14-18zm11-2zm0 1zm0 3zm10 15zm6 0zm2 3zm7-17zm12 10zm4 0zm1 0zm5 7zm24-15zm0 16zm16-4zm8 3zm6-9zm10-5zm7-1zm3-2zm-74 35zm-10 12zm-25 2zm-20-21zm-13 12zm-1-6zm-11-9zm-19 14zm-8-12zm-6 8zm-1 7zm-3-10zm-3 7zm-14-5zm-13-8zm-1 4zm-1-1zm-8-4zm71 26z"/><path stroke="#000" stroke-width="6.8" d="M2020 1874zm146 27zm-8-8zm-5-1zm-2 3zm-12 1zm-7-4zm-7-1zm-12 7zm0 2zm-7 3zm0-8zm-11 5zm-18 1zm-8 1zm-9 0zm-13-8zm-5-1zm-32 8zm-23 8zm6 9zm4-4zm4 16zm9-23zm3 16zm1 4zm6-22zm4-1zm0 25zm11-6zm3-10zm9-7zm5 22zm3-23zm4 4zm10 15zm4-8zm12 6zm3 1zm1-15zm7 23zm1-27zm7 11zm3-3zm9 19zm1-13zm2 3zm4 3zm25-6zm3-6zm18 19zm4-12zm16 6zm3 5zm6-15zm21-3zm3 10zm1 5zm6-10zm1 14zm8-5zm5 3zm28 25zm-31-7zm-5-6zm-2 10zm-6-9zm-2 9zm-13 3zm-9-14zm-9 9zm-1 8zm-4-24zm-4 2zm-2 16zm-1-14zm-1-4zm-5 5zm-7 8zm-3 13zm-10-9zm-1-16zm-10 9zm-1 9zm-2 5zm-2-13zm-20 2zm-2-1zm0-3zm0 13zm-4-22zm-1 16zm-1-13zm-22 23zm-21-20zm-4-1zm-5 8zm-3 12zm-7-22zm-2 7zm-2 5zm0 10zm-4-24zm-2 20zm-1-1zm-11 3zm0-11zm-2 13zm-1-24zm-1 22zm-3-17zm-10 19zm-4-5zm0 4zm-7-17zm-3-7zm-8 16zm-16 0zm-7-16zm-7 10zm-5 13zm-8-5zm-15 28zm8-9zm4 0zm3 17zm4-4zm0 2zm6-16zm5 2zm3 1zm3-2zm5 1zm0-10zm5 19zm2 6zm3-16zm4 3zm0-5zm5 1zm0 11zm2 6zm2 0zm0-13zm1 13zm7-3zm4 0zm19-16zm4 8zm7-10zm2 1zm3 10zm5-13zm1 0zm26 7zm0 9zm4-8zm3-10zm4 7zm1 12zm1-15zm1 1zm4 13zm1-4zm16 7zm5-21zm12 3zm1 20zm5-1zm4 1zm6-11zm2-13zm3 7zm2-1zm14-5zm4 1zm1 17zm4 1zm11-17zm1 24zm12-15zm9 0zm2 3zm4-9zm11 5zm4 10zm2 6zm10-27zm2 7zm24-5zm25 14zm5-10zm45 49zm-27-8zm0 4zm-2 0zm-9 4zm-15-13zm-19 13zm-4-23zm-13 5zm-1 4zm-13-10zm-20 20zm-4-7zm-8-5zm-14 2zm-1 2zm-3-4zm-11 8zm-18-10zm-4 11zm-6-8zm-6-6zm-2 15zm-4-18zm-2 24zm-5 0zm-6-11zm-11 4zm-2 1zm-10-11zm-5 16zm-5-13zm-2-9zm-21-1zm-2 19zm-1 1zm-3-20zm-26-3zm-6 9zm-8 12zm-3-2zm-2-4zm0 9zm-4-1zm-2-5zm-13-4zm0-7zm-1-5zm-2 0zm-4 16zm-4-11zm-2 0zm-1 11zm-13-2zm-2 11zm0-23zm-8 4zm-9 5zm-4-1zm-13 2zm-3 5zm-1 3zm-1-17zm0 20zm-14-14zm-1 4zm-7 1zm-13 35zm5-7zm0-12zm1 1zm6 19zm0-19zm10 2zm1-5zm5 23zm4-12zm4 11zm0-6zm9 5zm16 4zm1-1zm7-17zm28 14zm8-13zm6-10zm5 10zm8 7zm6 3zm10 7zm4-26zm4 12zm2 0zm3-6zm5-3zm6 0zm8 17zm6-10zm3-6zm19 2zm9-2zm0-5zm7 6zm5 13zm4 7zm6-16zm11-4zm11 6zm3-4zm5-4zm8 20zm4 1zm3-21zm0 23zm9-1zm7-6zm12-7zm12-12zm16 5zm16 4zm0 3zm4 2zm3-15zm7 23zm1-13zm6 0zm7 7zm13 5zm20-14zm2 15zm22-20zm15 23zm9-3zm4 2zm3-1zm11-6zm2-1zm2 29zm-9-8zm-25 16zm-15-3zm-2 3zm-32-16zm-2-8zm-3 1zm-18-2zm-4 14zm-1 11zm-11-7zm-7-18zm-38 2zm-5 24zm-2-23zm-7 12zm0-5zm-9-2zm-17 11zm-5-1zm-17-14zm-8-4zm-3 2zm-5 16zm-1-7zm-5 11zm-19-15zm-13-3zm-4 2zm-4 6zm-5-13zm-1 4zm-18 6zm-2-9zm-2 8zm-2 10zm-4 7zm-12-8zm-2-17zm-2 11zm-10-2zm-17 2zm0-1zm-8 0zm-3 8zm-34 0zm-5-7zm-8 2zm-4 13zm0-13zm-2 6zm-6-19zm-14 15zm-9 4zm-1-15zm0 21zm-5-1zm-3-17zm-1 18zm-1-2zm-3-24zm-12 11zm-4 16zm-3-10zm-6 23zm9 3zm2 2zm1-5zm2 8zm1 6zm1-20zm2 11zm8 2zm2 7zm2-6zm17-4zm3 9zm0-15zm6-5zm1 18zm33-2zm1 2zm12-8zm3-6zm2-4zm4 10zm4 12zm25-12zm0 8zm8-6zm2 10zm8-5zm0-4zm15 8zm1-6zm0-12zm5-5zm3 8zm3 14zm2-1zm4-16zm5-8zm8 2zm2 2zm0 11zm6 2zm10-9zm10 17zm7-19zm10 0zm2-3zm1 0zm1 5zm5 19zm15-4zm1 0zm18-9zm22 4zm1 2zm0-9zm5 0zm4 8zm31-19zm13 16zm1 6zm9 5zm6-26zm12 21zm11 3zm1-13zm3-2zm3 5zm14-7zm27 15zm14-18zm1 5zm8 5zm8 11zm25-15zm3 11zm1 1zm1-23zm18 18zm5 13zm-19 23zm-11-25zm-2 21zm-30-21zm-33 5zm-7 7zm-10 3zm-10 9zm-7-11zm-5 0zm-4-7zm-7-7zm-8 4zm-8 4zm-9 4zm-3-7zm-11 20zm-1-20zm-8 3zm-1 7zm-6 10zm-2-8zm-6-14zm-22 12zm-5-5zm-2 0zm-9 0zm-31 2zm-13 3zm-3-6zm-18 0zm-10 10zm-3-18zm-15 15zm-6-2zm-9-2zm-7 0zm-4-8zm-1-2zm-8 23zm-6-23zm0 0zm-5 14zm0 1zm-2 3zm-33-19zm-10 18zm-11-17zm-2-1zm-9 10zm-4 12zm-1-22zm-1 7zm-10 3zm-10 2zm-10-4zm0 11zm-4-18zm-11 12zm-6-7zm-10 11zm-1-16zm-2 22zm-1-23zm-1 21zm-7-6zm10 13zm1 2zm9 6zm3 6zm4-8zm6-7zm3 4zm14-4zm2 17zm4 6zm13-5zm4 7zm5-15zm2 3zm7 0zm13 8zm1-8zm3 0zm1 1zm6-3zm9 2zm18-7zm3-1zm3 10zm6 9zm5-11zm5 12zm1-24zm22 22zm4 3zm1-9zm16 3zm4-4zm3-15zm10 2zm5 13zm4-2zm13-10zm4 4zm1-1zm7-2zm9-2zm12 1zm9 17zm8-21zm4 4zm8 20zm2-17zm10 20zm18-10zm14 9zm2-16zm1-8zm10 12zm4 12zm2-19zm8 14zm26 2zm5-7zm0 4zm20-8zm11-12zm8 19zm18-18zm2 15zm8 11zm22-19zm4-4zm2 17zm3-18zm10 12zm0 12zm1-2zm3-11zm4-3zm5-2zm1 1zm-4 24zm-33 0zm-16 11zm-2 4zm-3 1zm-23-14zm-3 14zm-24-21zm-2 5zm-12 2zm-32 11zm-9-9zm-10 6zm-2-7zm-11 17zm-11 1zm-3 0zm-11-9zm-14-17zm-9 18zm-7-8zm0 2zm-5-7zm-23 17zm-7-11zm-1 12zm-4-19zm-6 14zm-4 7zm-10-5zm-2-11zm-1 2zm-2-5zm-13-4zm-3 1zm-1 10zm-3-4zm-3 2zm-4-9zm-1 23zm-3 0zm-29-20zm-6-2zm-3 14zm0 7zm-12-16zm-1 5zm-4 3zm-2-1zm-4 7zm-4-22zm-1 12zm-14 14zm-4-12zm-5-4zm-1 8zm0 1zm-2 4zm-14-19zm-9 12zm-1-3zm-3-5zm-15 12zm-5-12zm-2 13zm-2-15zm0 12zm-5-15zm-7 19zm-2-9zm0-7zm-3 15zm-1-4zm-1-14zm-1 2zm0 16zm-4-12zm-7-5zm0 20zm-15-19zm33 31zm8 18zm31-24zm8 18zm4-10zm18 3zm7-9zm0 4zm7 8zm3-16zm2 7zm21 9zm24-7zm0 9zm1 5zm4 2zm3-14zm9-2zm14 12zm13-9zm7-4zm20-9zm12 15zm8-8zm1 6zm13-6zm3 12zm2 5zm10 1zm3-11zm1 3zm5-1zm10-14zm2 8zm3 9zm7 6zm5-16zm9 0zm7 18zm20-22zm22 9zm3-3zm35-6zm12 2zm4 11zm4-8zm3 4zm6-11zm7 5zm0 9zm1-7zm19 7zm12 6zm3 1zm3-9zm12 8zm1-19zm1 19zm0-2zm4-18zm18 50zm-10-21zm-7 10zm-2-3zm-9-4zm-3 15zm-1-16zm-7 21zm-15-21zm-4 15zm0-7zm-1-1zm-4 4zm-5-1zm-4-6zm-10 5zm-6 9zm-12 1zm-2-6zm-2 8zm-9-25zm-10 15zm-9-10zm-12-2zm-1 0zm-19 3zm-1 17zm-6-14zm-2 0zm-5-4zm-9-7zm-19 16zm-1 0zm-18-13zm-3 18zm-15-5zm-1 6zm-4-13zm-37-8zm-1 16zm-5-3zm-4-6zm-13 3zm-3-2zm-6 7zm-7-10zm-20 9zm-7 11zm-10-12zm-9-14zm-2 19zm-1-10zm-16 0zm0 3zm-6 9zm-20-3zm-11 9zm-1-9zm-5 6zm-3-22zm-23 24zm-3-16zm-3 9zm-3-8zm-14-2zm15 34zm13 3zm0-15zm13 8zm7 14zm15-22zm3 12zm0-3zm1 7zm5 2zm11-14zm7-4zm6 13zm23 7zm4-1zm11-5zm18-8zm2 11zm7-14zm4 18zm0-8zm13 1zm1 0zm15 5zm15-2zm11-12zm20 9zm15 5zm8-14zm8 15zm15 1zm13-10zm11-5zm1 7zm7 1zm9 7zm13-21zm37 18zm13-13zm0 14zm8 0zm20-15zm6-4zm5 1zm4 10zm1 7zm11-21zm4 50zm-10 3zm-19-11zm-13-11zm-1 4zm-2-5zm-7 5zm-16 9zm-28 9zm-3-8zm-2 9zm-1 0zm-2-1zm0-18zm-10 13zm-5 7zm-4-2zm-10-19zm-4 10zm-6-9zm-7 18zm-2-4zm-6-8zm-13 0zm-17 10zm-18-3zm-23 4zm-18 2zm0-18zm-17 18zm-8-3zm-6-9zm-8 2zm-2 6zm-31-5zm-5-13zm-23-4zm-37 5zm-1 6zm-1-5zm-15-3zm-2 0zm-11 9zm-15 4zm-1 19zm10 3zm4-4zm1 0zm12 17zm1 3zm5-18zm10 5zm1-1zm7-10zm3 13zm3-1zm0 5zm3-4zm7-5zm0-7zm1 4zm6-7zm3 10zm0 4zm4 9zm7-15zm6 15zm8-7zm13-2zm16-6zm5-2zm8 21zm1-4zm8-17zm0 5zm24 2zm4-3zm0 14zm5-22zm14 18zm1 4zm8-3zm2 1zm3-11zm3-7zm1 6zm10 6zm0 10zm8-11zm6 7zm16-14zm15 12zm3-15zm5 9zm6-13zm2 0zm27 9zm2 2zm1-8zm2 10zm2 4zm9 6zm21-10zm3 13zm2-26zm2 5zm5 19zm14-21zm2 10zm12 4zm2-13zm2-1zm1 8zm0 14zm1 1zm10-6zm11-6zm-19 15zm-21 9zm-2 16zm-9-24zm-4 19zm-4-17zm-9 18zm-18-12zm-1 16zm-6-10zm0 1zm-12-18zm-11 19zm-3-3zm-4-6zm-30 17zm-7-25zm-11 16zm-17 5zm-11-19zm0 7zm-22 1zm-2-12zm-12 20zm-10 3zm-1-5zm-4-2zm-2-8zm-9-1zm-8 1zm-7 7zm-2 12zm-3-20zm-1 19zm0 1zm-1-13zm-3-5zm-1 12zm-8-17zm-4 0zm-14 17zm-23 3zm-1-19zm-8 0zm-2-3zm-4-2zm-13 15zm-4-6zm0-8zm0 14zm-5-2zm-2-8zm-1 6zm-13 16zm-3-21zm-1 2zm0-8zm-3 1zm-3 11zm-1-2zm-2 11zm-1-14zm-6-3zm0 10zm-8-5zm31 22zm1-1zm51 5zm0 4zm5 0zm11-5zm3 14zm3-20zm7 1zm6 23zm0-4zm8 2zm11-3zm12 4zm16 2zm4-4zm0 6zm10-12zm21-8zm0 12zm16 6zm4-14zm14 11zm22-10zm9-2zm10 5zm8-5zm21-6zm1 20zm17-8zm0-3zm6-10zm0 24zm37-24zm3 14zm-56 16zm-17 14zm-9-8zm-2 1zm-3-4zm-7 13zm-14-2zm-15-19zm-5 7zm-46 4zm-16-10zm-19 9zm81 32z"/><path stroke="#E03027" stroke-width="8.8" d="M2122 1892zm41 33zm99 9zm-9 9zm-31 10zm-125-19zm-5 18zm-16-2zm-88-13zm-45 29zm38 12zm74 7zm33-3zm116-1zm31-10zm4 15zm25-25zm11 11zm4 1zm1 9zm15-1zm4-8zm30 21zm-3 2zm-26 18zm-7-8zm-10 3zm-22 1zm-14-5zm-2-5zm-3 1zm-5 9zm-8-14zm-3 12zm0-8zm0 8zm-4-17zm-1 16zm-19-9zm-96-9zm-111 16zm-93 25zm44-2zm210 10zm28-20zm11 15zm12 8zm8 1zm18-16zm0-7zm7-2zm10 6zm7-4zm11 12zm9-13zm10-2zm13 2zm19 10zm7 4zm3-5zm13-6zm3-1zm6 22zm1-7zm33 34zm-7-14zm-1-8zm-4 5zm-6-6zm0 16zm-24-3zm-4 4zm-10-14zm-12 13zm-21-2zm-11 7zm-5-14zm-25 16zm-3-7zm0-17zm-18 9zm-17 2zm-5-12zm-19 12zm-14-12zm-38 11zm-24-6zm-154 19zm-85 9zm33 14zm192-2zm14-13zm1 19zm21-16zm15 20zm6-22zm7 7zm22 1zm3-8zm8 14zm13-3zm5 6zm16 3zm11-13zm11 7zm6 7zm2-15zm6-3zm1-8zm1 25zm0-1zm55-7zm31 7zm1 2zm4-18zm2 11zm8 4zm1-10zm3 0zm7 7zm6 5zm3-20zm19 13zm-3 20zm-13 1zm-3 9zm-22-8zm-1 1zm-16 8zm-5-16zm-5 22zm-2-27zm-4 11zm-17-10zm-18 3zm-30 7zm-24 4zm-9 6zm-55-5zm-3-11zm-4 6zm-6 2zm0 10zm0-18zm-9 4zm-1 4zm-20 13zm-14 1zm-7-18zm-5-3zm-19 16zm-17-2zm-4 0zm-7 4zm-74-6zm-105-6zm-5 22zm101 9zm8 7zm33-8zm9-2zm23 15zm8-4zm12-14zm6-3zm2 1zm6 4zm14 16zm4-2zm13-6zm2 7zm7-14zm9-7zm2 13zm13-3zm3 6zm1-4zm13-6zm20 12zm7-14zm22 11zm5-1zm1-1zm15 1zm0-18zm1 15zm8 9zm4-1zm6 3zm2-8zm5-2zm9 6zm1-6zm0-10zm5 20zm5-27zm7 6zm3 19zm5-12zm9 14zm4-6zm1 4zm4-25zm44 10zm1 13zm36-9zm10 21zm-2 20zm-7-12zm-11-11zm-21-3zm-14 22zm-5-19zm-11 1zm-3 14zm-3 7zm-14-3zm-11 3zm-5-5zm-12-20zm-33 12zm-7 0zm-9-1zm-24-10zm-1 10zm-19-10zm-4 8zm-5 12zm-28-10zm-1 7zm-6-15zm-2 3zm-1-5zm-9 0zm-3 10zm-1-6zm-7 14zm-2-10zm-5-7zm-8 20zm-9-22zm-2 23zm-10-20zm-2 19zm-4 2zm-11-19zm-7-5zm-20 25zm-18-17zm-31 4zm-10 11zm-23-1zm-11-2zm-67-20zm31 54zm27-5zm11-11zm9-1zm3-5zm20 15zm3 0zm25 4zm2-21zm9-3zm3 16zm5-15zm6 8zm5 14zm2-13zm3 8zm6-4zm8-4zm1 0zm8 16zm16-21zm16-2zm3 2zm0 20zm5-17zm2 8zm2 9zm12-6zm4-3zm3 0zm2-5zm12-6zm11 13zm7 4zm0-5zm3-4zm5 12zm3-20zm14 11zm1 2zm4 4zm0-14zm8-5zm1 3zm15 2zm17-7zm5 17zm2-18zm3 5zm1 5zm3-9zm10 25zm5-16zm12 9zm8-4zm9-8zm4-6zm11 7zm0 18zm9-23zm5 22zm3-4zm5 4zm2-24zm10 15zm1 11zm19-23zm3 10zm4-3zm15 9zm7 7zm-28 23zm-10-10zm-3-5zm-24 9zm-10-4zm0 5zm-11-2zm-2 2zm-5 0zm-12 0zm-7 6zm-23 1zm-29-18zm-17 17zm-4-5zm-11-13zm-2 10zm-1-6zm-1 18zm-6-16zm-14 8zm-4 8zm-3-25zm-7 22zm-9-15zm-2 7zm-8 8zm-10-21zm-5 3zm-2 13zm-2 0zm-29-19zm-2 27zm-18-1zm-32-4zm-3 3zm-8-7zm-24-4zm-3 9zm-6-14zm-1 9zm-8-6zm-1-9zm-9 3zm-8 10zm-1 0zm-2 5zm0-9zm-13-6zm-11-6zm-7 5zm-2 22zm-6-20zm0-4zm-6 11zm26 20zm2 1zm5-1zm7 3zm5 2zm1-5zm0 4zm3 0zm12 5zm0-8zm12 13zm1 0zm36-20zm3 6zm13 6zm0 9zm7-5zm12-13zm3-3zm5 26zm24-9zm16-4zm2 8zm14-1zm22 0zm14-17zm13 18zm0 3zm18-14zm22 11zm13 2zm0 4zm0-17zm11 11zm2-6zm7-3zm4-4zm27 5zm9 8zm11-5zm18-16zm4 3zm1 15zm7-17zm13 10zm16 12zm3-12zm17-10zm11 16zm-18 20zm-4 13zm-2 3zm-3-10zm-2 10zm-22-3zm-28 1zm-4 3zm-10-8zm-5 9zm-1-7zm-2-10zm-3-6zm-2 9zm-10 11zm-33-7zm-25-13zm-12 4zm-28-8zm-12 20zm-7-10zm-14 12zm-3-9zm0-10zm-18 0zm-2 24zm-2-3zm-1-12zm-2-9zm-4 21zm-7-6zm-12 6zm0-2zm-8 3zm-3-21zm-7 3zm-4-3zm-14 14zm-5 4zm-3-9zm-9 1zm-1-10zm-21 1zm-15-2zm-1 5zm-29-2zm-8 2zm0-7zm-1 13zm-2-4zm-2-2zm-5 2zm0 16zm-22 4zm2 2zm2-3zm49 0zm6 13zm12 4zm6-17zm29 6zm9 4zm22 15zm5-20zm9 9zm11-7zm20 5zm5 1zm2-12zm3 10zm5 8zm1-12zm1-3zm7 8zm8 12zm0 2zm6-7zm5-3zm12-2zm5-11zm3 12zm1-6zm25-10zm9 2zm0 5zm5 12zm3-19zm0 24zm13 3zm17-12zm16 1zm4 0zm9 4zm22-20zm15 8zm0 7zm15 4zm7 6zm13-13zm-14 25zm-10 6zm-9 9zm-21-8zm-18-2zm-3 9zm-25-1zm-15-10zm-11 11zm-1 4zm-18-18zm-28 5zm-8 4zm-8 0zm-4-9zm-11 3zm-2 0zm-15 5zm-20-5zm-8-12zm-4 1zm-20 10zm-7-9zm-5 0zm-3 6zm-9 7zm-2 12zm-11-3zm-1-8zm-2-12zm-7 16zm-19-6zm0 4zm0-4zm-2 6zm-9-16zm0 4zm-8 8zm-27 14zm51 5zm1 12zm11-2zm2-13zm27 0zm15 12zm11-11zm20 7zm1-3zm4 11zm15-1zm20 5zm8-15zm1 2zm0 0zm9-5zm8 11zm0 8zm3-24zm4 21zm9-19zm7 4zm3 17zm4-6zm6-5zm3 3zm7 4zm17-6zm8 1zm12 3zm11 4zm27-4zm3 7zm12-21zm-39 29zm-22-5zm-19 21zm-1-18zm-9 13zm0-16zm-9 16zm-8-12zm-4-4zm-4 24zm-11 3zm-22-18zm-3 3zm-46-4zm-5 2zm54 62z"/><path stroke="#A8A8A8" stroke-width="8.8" d="M2140 1889zm-41 1zm-34 8zm-11-9zm-5-1zm-35 6zm-34 29zm62-15zm48 23zm5-27zm36 3zm24 23zm60-8zm4-1zm10-9zm-11 29zm-175 3zm-5 10zm-34-16zm-34 8zm-3-3zm-15 14zm56 30zm14-9zm24 2zm49-18zm12 12zm4 12zm59-20zm3 18zm9-5zm36 15zm-45-6zm-54 26zm-14-4zm-3-2zm-60 2zm-7-7zm-46-1zm-43-7zm-1 13zm-32-13zm-13 15zm-5 12zm5-4zm31 12zm70-13zm13 6zm29 5zm22-8zm43 19zm9-16zm5 15zm29-2zm28 1zm205 28zm-328-16zm-77 7zm-4-2zm-18-2zm-4 16zm-50-23zm-2-1zm-8 18zm-12 27zm8 9zm9-3zm7 4zm59-20zm2 1zm21 19zm57-4zm36-23zm6 12zm37-5zm-26 32zm-40 5zm-3 3zm-40 1zm-15 3zm-33-9zm-62 10zm-14 6zm115 18zm264 34zm-147-3zm-133 4zm-9-25zm-7 16zm295 159zm-237 24zm77 12zm68-1z"/><clipPath id="c10"><path d="M2999 1897L3047 1904L3100 1899L3148 1910L3191 1931L3217 1958L3260 1985L3302 2028L3334 2065L3356 2108L3360 2150L3353 2193L3345 2236L3330 2278L3308 2321L3271 2358L3228 2386L3175 2396L3121 2396L3079 2386L3047 2375L3004 2369L2977 2343L2961 2334L2941 2349L2914 2334L2904 2310L2910 2278L2904 2241L2882 2206L2856 2172L2843 2129L2839 2086L2846 2044L2870 2001L2902 1959L2939 1927L2971 1908Z"/></clipPath><g filter="url(#rd)"><g clip-path="url(#c10)" fill-rule="evenodd"><path fill="#A3201A" d="M2995 1885L3045 1892L3101 1886L3151 1899L3196 1920L3224 1949L3268 1977L3313 2021L3346 2061L3369 2105L3373 2150L3365 2194L3357 2239L3342 2284L3318 2328L3279 2367L3235 2396L3179 2406L3123 2406L3078 2396L3045 2385L3000 2378L2973 2352L2956 2342L2935 2357L2907 2342L2896 2317L2902 2284L2896 2245L2873 2208L2845 2172L2832 2127L2827 2083L2835 2038L2860 1994L2893 1950L2932 1917L2966 1897Z"/><ellipse cx="2928" cy="2019" rx="7.1" ry="23" fill="#fff"/><ellipse cx="2965" cy="2073" rx="30.1" ry="3.8" fill="#fff"/><ellipse cx="3007" cy="2171" rx="33.9" ry="3.8" fill="#fff" transform="rotate(-27 3007 2171)"/><ellipse cx="3092" cy="2084" rx="6.6" ry="6.6" fill="#fff"/></g></g><path stroke="#fff" stroke-width="5.1" d="M3126 1898zm-4 3zm-6 2zm-5-2zm-18-11zm-2 9zm0-4zm0-9zm-2 14zm-3 3zm-88-12zm-5-1zm0 9zm-2-4zm-57 29zm15 6zm2-4zm30-13zm2 5zm1 9zm1-5zm1-6zm1 8zm1-9zm1 5zm1-3zm0 0zm1-5zm2-4zm2 7zm31 2zm1-5zm8 4zm4-3zm4-3zm5-1zm9 2zm3 4zm2 2zm3 3zm0 5zm5-14zm50-6zm3 4zm19 15zm52 23zm-26 11zm-5-1zm-5 0zm-4 2zm-6-20zm-2 5zm-3 3zm0 2zm-1-5zm-37 3zm-3-3zm-4-3zm-42 14zm-39-11zm-1 5zm-2-9zm-44 0zm-4 4zm-4 2zm-17-13zm-52 46zm2 0zm1-5zm0 9zm1 4zm31-16zm3-3zm2 7zm0-12zm0 16zm2-4zm2 0zm5 0zm0 10zm5-10zm17 6zm4-3zm4-2zm20-10zm23 20zm3-4zm4-3zm5 7zm1-5zm21-8zm4-2zm1-5zm3-6zm8 0zm18 17zm1-5zm4-3zm1 17zm26-25zm4 1zm2 12zm3-12zm5 1zm42-1zm0 13zm2-4zm1-5zm13 9zm5 2zm4 0zm10 9zm4-3zm5 1zm-13 5zm-63 6zm-49-4zm-7 14zm-3 4zm-3 6zm-1-4zm-4 3zm-5 1zm-5-1zm-2 1zm0-5zm-34 3zm-1-21zm-1-2zm0 5zm-2 1zm0 19zm-3-15zm-7-10zm-7 16zm-4-2zm-5 10zm0-11zm-2 7zm-3-4zm0-3zm-1-2zm-2 1zm-5-14zm-3 24zm0-5zm0-4zm0-3zm-1-5zm-2 8zm-22-11zm-4-2zm-1 3zm-5 2zm-5 1zm-1-2zm0-5zm-38 21zm-3 4zm-29-18zm-4 3zm-13 19zm1 5zm2 4zm3 4zm15-14zm4 3zm6 11zm3-4zm8 16zm1-5zm1-22zm5 1zm3 13zm1-12zm3 15zm1-12zm2 15zm13-12zm5-2zm5 21zm0-22zm4-1zm4-2zm5 0zm32-1zm8 16zm11 5zm5 1zm4 1zm4-3zm6-6zm4 7zm1-7zm1-4zm0-5zm35 12zm2-5zm1-5zm1 7zm2-15zm0 4zm3 0zm1 5zm0-7zm4-2zm3 8zm9 16zm4-12zm5 1zm17-6zm2 4zm3 4zm5 0zm110 40zm-91-14zm-1 5zm-1-9zm0-5zm-3 5zm-36-3zm-3 4zm-59 5zm-5 2zm-3 3zm-2-18zm-1 5zm-39 3zm-3 3zm0 5zm0 4zm-5-13zm-3 4zm-8-5zm-10 2zm-10-2zm-1 5zm0 4zm-1 5zm-2-2zm-3 4zm-4 3zm-1-24zm-2 5zm-3 3zm-20-3zm-2 4zm-2 4zm-19-11zm-3 5zm-2-4zm0 9zm-4 3zm-24 8zm-18 1zm-1 4zm2 17zm0-5zm12-9zm2-4zm0 16zm16-3zm3 10zm2-8zm2 5zm2-2zm4 1zm34-7zm1-5zm7 11zm4-1zm5 1zm41 2zm3 4zm9-6zm3 3zm2 4zm3-18zm2 11zm1-15zm23-2zm5 0zm12 0zm5 0zm24 15zm2-5zm0 9zm2-13zm4-2zm9 15zm2 5zm80-8zm24 0zm1-5zm2-4zm18 2zm5-1zm1-4zm11 29zm-5-1zm-4 3zm-5 0zm-126-2zm0-5zm-87 24zm-2-5zm-6-18zm-7-3zm-5 1zm-78 8zm-8 9zm-2-19zm0 5zm-2 13zm-2-10zm-3 11zm-1 5zm-4-6zm-1 5zm0 3zm-4-1zm-1-2zm-1-3zm-2 0zm-3 7zm-1-11zm-18-16zm-4 2zm-2 5zm16 34zm8-1zm0-8zm0-3zm2 15zm22-10zm3 6zm2-5zm5 5zm0-5zm2 9zm21-1zm8 0zm4 4zm7-10zm5 0zm4 1zm1-2zm2-2zm1-2zm26 15zm0-18zm2 5zm2 7zm0-5zm0 2zm0 5zm2 2zm0-4zm15-11zm29 11zm4 3zm208 13zm-136 9zm-1-5zm0 10zm-135-8zm-2-4zm-3-1zm-5-1zm-2 24zm-3-24zm-2 26zm-5 0zm-35-12zm-5-2zm-4 1zm-1-1zm-3 0zm-1 1zm-35 6zm-1-12zm-3 10zm-1-7zm-3 4zm-1-5zm-2-2zm-1 6zm17 18zm5-1zm3-3zm11 27zm2-4zm10-18zm4 2zm1-2zm1 20zm2-9zm1-10zm0 15zm0-13zm28 3zm4 1zm-57 18zm-5-1zm371 33zm4 46zm-5-1zm-4 3zm-201-9z"/><path stroke="#F4B080" stroke-width="7.6" d="M3114 1983zm-139 84zm11 73zm-74 80zm149 91zm66 17z"/><path stroke="#A3201A" stroke-width="6.4" d="M3126 1897zm-29-5zm-4 0zm-15 10zm-18-7zm-56 0zm-4-2zm-24 8zm6 15zm5 0zm2-5zm9 1zm5 0zm1-4zm13 9zm6-6zm1 15zm14-21zm6 22zm6-15zm12-3zm11 19zm7-10zm0 5zm0 4zm0-4zm16 5zm1 3zm3-5zm1-20zm1 24zm9-17zm3 17zm1-1zm2-5zm9-7zm0 3zm4 9zm12-18zm6 9zm1-11zm6 6zm4-2zm7-3zm2 12zm15 3zm5 4zm2 0zm1 0zm25 15zm-10 2zm-15-10zm-4 20zm-5-9zm-8-13zm-5 23zm-8-2zm-2-22zm-5 10zm-21 3zm-8 0zm-5-6zm-6-1zm-4-6zm-3 23zm-2-18zm0 18zm-6 2zm-10-1zm-2-10zm-2-12zm-10 5zm-3-3zm-2-5zm-1 13zm-3-11zm-1 4zm-7 17zm-1 3zm-25-9zm-5 1zm-3-9zm-25 7zm-2-2zm-6-3zm-3-5zm-6 10zm-2 6zm-17-10zm-13 15zm0-23zm-6 19zm-5-13zm-6-5zm-19 12zm-9 8zm-2 4zm2 14zm3-15zm2 19zm2-14zm1 15zm0-5zm4 10zm8-5zm2-17zm2 4zm1 18zm2-6zm3-14zm5 21zm0-17zm1 11zm7-9zm5 8zm7 1zm6-12zm10 15zm17-1zm23-13zm5 15zm2-16zm0-5zm1 23zm0-11zm1 9zm3-24zm12 18zm1-18zm6 13zm4-2zm2-4zm9-6zm2 13zm2 6zm4-16zm17 19zm1-18zm0 22zm2-12zm6 4zm6-3zm4 8zm8-12zm9 7zm2-12zm7 20zm1-6zm11 6zm7-9zm2 3zm2-2zm3 1zm5-8zm0-1zm3 5zm8 5zm7-13zm2 6zm8-7zm11-4zm36 6zm4-3zm8 0zm12-1zm33 48zm-1-7zm-1 4zm-13-21zm-7 6zm-40 3zm-64 11zm-14-19zm-21 23zm-14-21zm-6 15zm-5 8zm-2-10zm-2-14zm-6 15zm-23-15zm-1 17zm-1-10zm-3 9zm0 8zm-11-18zm-3 13zm-7-13zm-10 8zm-7-7zm-8-3zm-6 5zm-6 13zm-6-24zm-9 23zm-1-10zm-2 13zm-6-8zm-20-8zm-12-7zm-6 4zm-4 11zm-9 4zm-12-20zm-10 21zm-15-6zm-6 5zm-3-16zm-12 9zm-1-2zm-5 5zm-1-14zm-11 11zm-17 38zm1-4zm14-8zm18 10zm2-13zm10 12zm2-10zm13 4zm0-9zm0 11zm14-10zm1 16zm32-1zm5-11zm12 12zm15-20zm3 19zm3 3zm2-1zm1-19zm0 8zm10-2zm3 3zm11 6zm6-9zm1-1zm56 2zm2-4zm18 16zm12-5zm5-13zm2 9zm4-10zm19-6zm17 25zm17-1zm9-8zm14 5zm10-20zm38 15zm60-2zm0-1zm8-5zm15 12zm-6 9zm-35 16zm-13-8zm-11 15zm-5-16zm-4-8zm-8 8zm-30-7zm-57 13zm-4-11zm-13 13zm-1-6zm-5 9zm-4 0zm-9-20zm-24 11zm-16-3zm-14-2zm-11 10zm-7 0zm-2-6zm-2 1zm-6-7zm-2-1zm-1 7zm-2-1zm-1 1zm-2 0zm-8 5zm-6-6zm-2 12zm-5 3zm-16-5zm-5-2zm-10-11zm-3 6zm-4-10zm-6 22zm-3 0zm-1 1zm-53-5zm-14 1zm-5 6zm-11-9zm-6-9zm-14 1zm-3 14zm-10-20zm-5 10zm-5 12zm-5 16zm18 10zm3 2zm4-18zm4 13zm2 0zm4-20zm8 21zm1 2zm5-22zm14 15zm0-14zm5 15zm2-18zm2 26zm7-17zm6-9zm0 23zm4-14zm3-9zm1 26zm3-23zm10 18zm13-7zm15-4zm2 6zm4-10zm2 6zm7 7zm11-12zm1 1zm1 17zm9-1zm18-6zm9-14zm15 13zm19-8zm5-3zm76 19zm19-22zm48 2zm4 5zm30 16zm11-14zm12-10zm34 16zm43-5zm0-12zm3 23zm-14 7zm-22 6zm-9 15zm-16-8zm-27 5zm-6 1zm-63 1zm-71-6zm-3-6zm-6-6zm-24 20zm-12-7zm-40 5zm-7-21zm-7 9zm-1 12zm-10-20zm-22 13zm-1 11zm-2 0zm-3-27zm-3 18zm-5 9zm-5-19zm-25 2zm-8-5zm-3 14zm-4-1zm-18-1zm-2-17zm-28 11zm-2 1zm-14 13zm-1-6zm-5 7zm-2-15zm-16-2zm-2 4zm-1 10zm-6-8zm-19-6zm20 28zm13 12zm18-8zm43 7zm7-15zm9 17zm2-19zm17 18zm5-8zm10 13zm3-23zm1 18zm7-19zm24 15zm6-13zm2 21zm30 1zm119-16zm1 3zm45 14zm0-24zm12 8zm72 12zm14 2zm24 1zm2-3zm43-14zm3-3zm-1 45zm-8-4zm-1 1zm-24-5zm-75 11zm-22-2zm-67-4zm-86-19zm-4 7zm-1 6zm-5 9zm-58-20zm-50 0zm-2 1zm0 7zm-15 15zm-2-23zm-1 17zm-5 2zm-11-1zm-6-17zm-3 8zm-11 1zm-7 13zm-10-8zm-15-15zm-7 22zm-8-19zm-12 10zm0-4zm4 22zm28 0zm3 0zm14 6zm2 14zm3-10zm2-15zm15 2zm4 7zm1 3zm38 14zm3-6zm11-17zm110-1zm55 10zm14 0zm7 14zm10-19zm3 9zm7-15zm26 7zm27 7zm21-10zm2-5zm17 17zm9 7zm67 1zm1-20zm-4 44zm-18 0zm-64-15zm-3 12zm-1-16zm-32-3zm-19 4zm-18 11zm-8 2zm-5 6zm-23-9zm0 3zm-6-4zm-40-2zm-29 10zm-1-10zm-36 10zm-43 0zm-2-2zm-5 4zm-13-21zm-82 1zm-5 22zm-3 1zm-5-12zm-4-10zm54 28zm39-4zm47 10zm44-1zm18-8zm17 15zm3-13zm6 13zm28-4zm33 8zm16 3zm38 2zm6-21zm3 15zm0-1zm31-8zm3 7zm6 4zm64-19zm-10 34zm-1-4zm-2-2zm-27 7zm-10-4zm-20 10zm-2-11zm-5 16zm-9-7zm-11 8zm-36-2zm-16-7zm-5 0zm-53-4zm-4-8zm-90 2zm-5 11zm-10-1zm-25 13zm-15-8zm-25 9zm-42-11zm-8-12zm-12 40zm69 1zm26-14zm31 3zm5 22zm6-15zm30-12zm45 18zm10 7zm18-2zm7-15zm5 1zm10 12zm14 5zm2-2zm31-19zm24-4zm15 26zm76-11zm-16 17zm-16 19zm-56-19zm-26-1zm-18 9zm-42-7zm-16 4zm-17 3zm-15 4zm-71-13zm-17 10zm-9 0zm-9 0zm-16 7zm-9-5zm-22-3zm-5 10zm-1-7zm-40-7zm89 24zm18 10zm24 8zm67-7zm0-5zm40 1zm8 8zm17-13zm92 10zm2 5zm-5 7zm-23 1zm-3 6zm-6-1zm-20 8zm-5-6zm-2 6zm-6 4zm-7 3zm-3-6zm-14 2zm-6-8zm-4 14zm-10-7zm-6 8zm-39-16zm-7 4zm-24-8zm55 67z"/><path stroke="#A3201A" stroke-width="7.6" d="M3118 1903zm-43-8zm-20 3zm-41 3zm-4-5zm-15-3zm0 3zm-8 7zm-29 16zm1-10zm4 13zm1 3zm8-9zm0 4zm19 0zm3-5zm9-7zm11 19zm10-19zm5-3zm22 15zm3 9zm3-25zm8 2zm2 16zm1-1zm1-1zm10 5zm5-10zm6-4zm3-1zm1 14zm0-11zm15 13zm1-18zm11 20zm2-6zm11 4zm0 4zm7-16zm3 0zm19 14zm9-8zm27 10zm30 25zm-35-15zm-2-6zm0-2zm-4 3zm-19 23zm-5-12zm-24-6zm-26-2zm-2 21zm-1 0zm-30-1zm-2-14zm0 4zm0 4zm-6-12zm-2 5zm-18-2zm-1-9zm-26 10zm-2 8zm-8-2zm-10-8zm-16 17zm-10-8zm-4-8zm-5 4zm-12 10zm-2-7zm-7-17zm-12 22zm-1-11zm-1-6zm-5 8zm-3 4zm-2-8zm0 8zm-14-5zm-21 22zm1 9zm6 5zm6-18zm2 2zm3 11zm2 0zm3-8zm10-3zm5-4zm0 26zm3-12zm4 1zm3-6zm4 6zm4 9zm27-7zm3 9zm34-1zm2-7zm0-17zm24 11zm8 1zm12 3zm12-3zm3 8zm1-7zm7-3zm7 10zm4-10zm7 6zm4-4zm0 6zm7-15zm2 11zm3-12zm2 8zm6-7zm1-2zm4 1zm3 7zm0-7zm6 14zm0-5zm4 7zm8-12zm8 9zm4 0zm3 1zm24 7zm8-7zm7-18zm1 5zm3-5zm28 2zm1 10zm3-1zm13-2zm8 7zm25 27zm-29-6zm-2 2zm-64 9zm-7 5zm-10-20zm-4-1zm-10 4zm-25-5zm-2-3zm-15 6zm-6 7zm-14-1zm-7 12zm-4 0zm-6-18zm-2 6zm-5 15zm-2-12zm-16-15zm-18 26zm-2-7zm-1-11zm-4 3zm-4-9zm-2 9zm-6 8zm-9-3zm-5-13zm-5 15zm-8-18zm-1 9zm-6-5zm-1 21zm-2-12zm-2 10zm-4-4zm-6-8zm-3 2zm-24 1zm-19 8zm-4-13zm-8 18zm-6-23zm-6 9zm-7-5zm-4 16zm-1-11zm-1 1zm-8-1zm-22 9zm-12 24zm1 3zm1-7zm14 8zm0-8zm8-1zm7-9zm3 11zm3-5zm1 17zm9 0zm4-9zm7 0zm3 6zm6-6zm4 0zm30-13zm5 5zm1 6zm13-16zm3 2zm1 18zm2 7zm0 0zm4-3zm12-21zm1-2zm1 26zm8-6zm8-16zm2 12zm1-9zm11-4zm16 18zm7-18zm3 21zm2-22zm8 21zm0-16zm1-5zm5 22zm13-5zm29-7zm13 6zm1-10zm1-2zm12 10zm2-4zm2 14zm3-14zm11-11zm7 25zm56-20zm37 20zm24-23zm8 9zm19-9zm5 4zm2 8zm2-10zm2 14zm7-11zm29 41zm-3 1zm-34-20zm-4 4zm-4 7zm-98 1zm-23-6zm-10 13zm-21 3zm-30-23zm-22-1zm-16 8zm0 16zm0-10zm-6-8zm-9 14zm-9 3zm-13 3zm0-10zm-10-2zm-2 3zm0-3zm-2-15zm-2 8zm-13 9zm-8-12zm-6-3zm-1 11zm-1-4zm0 18zm-1-5zm-7-14zm-7 14zm-3-14zm-12-3zm-1 10zm-1 6zm0-1zm-4 3zm0-2zm-11-16zm-20 14zm-7-11zm-7-5zm-3 20zm-16-9zm-8 13zm-6-23zm-1 4zm-16 3zm0 1zm-1 2zm-12-13zm-3 25zm-11-13zm-6 9zm-1 9zm2 0zm8 21zm5-15zm11 13zm7-1zm1 3zm0-23zm6 25zm21-3zm2-15zm5 3zm1 14zm4-15zm3 17zm0-19zm8-6zm1 5zm5-6zm5 3zm5 1zm1 6zm41-2zm1 8zm13 9zm13-20zm5-1zm19 9zm23-4zm8-3zm5-7zm3 14zm0 1zm32-5zm105 13zm33 2zm32-2zm2-12zm39 7zm17-6zm24 7zm10 17zm-27 17zm0-21zm-26-2zm-58 4zm-1-5zm-45 23zm-22 0zm-19-16zm-10-3zm-7 3zm-118-7zm-14 13zm-5-8zm-7 13zm-1-3zm-1-5zm-1 14zm-7-1zm-1-14zm-1 13zm-4-12zm-23-10zm-1 9zm-6 13zm-6-3zm-4-1zm0-1zm-5-2zm-1-13zm-1 5zm-13-6zm-25-1zm-1 5zm-9 17zm-14-17zm-4 11zm-1-4zm-2-6zm-2 18zm-4-1zm-8-24zm-3 11zm-3-1zm-11 10zm0 3zm-1-11zm6 30zm4-4zm21 13zm5-18zm14 14zm10-10zm6-5zm1 11zm7-5zm3 4zm15-13zm20 23zm5-20zm3 15zm14-16zm14 2zm3 15zm4-18zm15 4zm22-5zm22 19zm21-12zm29 11zm25-4zm64-14zm22 0zm17 17zm21-9zm0 17zm11-23zm3 15zm7-1zm27-15zm9 5zm28 10zm0 9zm17-25zm2 3zm15 5zm-2 30zm-3-8zm-17 20zm-58-14zm-53 7zm-3 5zm-17-21zm-7 23zm-17 2zm-14-14zm-6 16zm-21-9zm-11-15zm-7 13zm-32 6zm-118-2zm-10-10zm-1 13zm-3-8zm-4-12zm-8-3zm-20 27zm-6-22zm-3 22zm-11-16zm-2 4zm-2 1zm-9 1zm-2-9zm0-2zm-4 15zm-4-19zm-6 12zm-16-12zm-2 20zm-6-8zm-12 12zm15 21zm9-6zm3 10zm7 2zm2-1zm4-21zm3-3zm4 16zm0-3zm0-3zm2 9zm12-6zm6 5zm2-18zm0 5zm3 17zm5 3zm13-22zm8 2zm19 13zm39 6zm58-23zm5 22zm41-21zm4 24zm36-12zm28 12zm2-14zm92-7zm18 2zm12 3zm49-1zm1-6zm5 0zm-14 45zm-18-12zm-22 18zm-32-17zm-26 7zm-25-8zm-24 12zm-59-13zm-14 9zm-8-1zm-41-13zm-48 0zm-6 8zm-57-4zm-68-5zm-2 22zm-13-23zm23 43zm50 0zm94-10zm116 20zm12-5zm54-20zm22 1zm7 8zm23 18zm18-27zm17 21zm25 0zm1-8zm4 22zm-29 5zm-16-5zm-35 20zm0-19zm-5 14zm-65-9zm-10-5zm-60 6zm-22 3zm-21-16zm-1 23zm-20 0zm-73-17zm-68 0zm-19 43zm5-20zm1 17zm0 7zm29-24zm25 2zm69 14zm90-18zm56 25zm0-19zm36 10zm14-1zm42 3zm4 6zm14-1zm13-17zm20 1zm-19 22zm-20 5zm-2 20zm-26-19zm-8 11zm-59 1zm-65-15zm-21 16zm-2 7zm-13-16zm-78 5zm-27-5zm-33 10zm-3-6zm-7 5zm-8-6zm-5 1zm-6 2zm-4-5zm-8-3zm92 32zm35 2zm5 6zm69-19zm7 23zm64-13zm1-10zm64 20zm23-12zm-40 29zm-3-4zm-9 9zm-13-2zm-9 6zm-35-4zm-26 0zm-1-2zm-22 12zm-1-2zm-18-13zm-20-3zm-8-2zm142 26z"/><path stroke="#F4B080" stroke-width="6.4" d="M2977 1949zm-67 23zm127 13zm124 2zm-85 66zm-45 15zm-112-17zm-18 11zm99 35zm311-24zm-327 95zm82 103z"/></g><g fill="none" stroke-linecap="round" transform="scale(.5)"><clipPath id="da"><path d="M3215 292L3317 292L3319 351L3347 356L3360 374L3372 410L3396 428L3452 433L3468 467L3478 508L3483 560L3495 561L3496 668L3483 671L3483 750L3447 756L3385 761L3370 776L3336 781L3334 817L3308 825L3220 825L3213 802L3169 802L3127 792L3102 756L3050 750L3014 730L2983 668L2957 632L2926 591L2924 508L2929 428L2983 418L2991 384L3030 333L3076 307L3127 299L3213 301"/></clipPath><g clip-path="url(#da)" fill-rule="evenodd"><rect x="2900" y="250" width="640" height="620" fill="#4380C5"/><path fill="#4AA6C8" d="M3278 798l-9 3-9-2-6-3-7-7-4-6-3-9-1-12 1-18-1-3-3-2-3-1-3 2-15 16-15 11-9 4-9 2-9 1-6-1-9-3-9-6-6-8-12-18-3-3-6-1-27 1-9-1-9-3-12-6-39-27-17-14-9-12-6-18-7-42-3-9-6-9-20-21-5-9-3-12 0-12 10-42 3-27 4-9 5-6 6-3 6-1 15-2 6-3 3-5 1-4 1-24 3-15 3-9 5-9 11-13 27-23 15-11 12-5 18-6 21-2 27 1 24 3 21 6 9 4 9 6 14 13 13 20 5 4 4 0 15-9 9-3 9 0 9 3 9 5 27 19 10 9 4 6 3 9 2 21 2 6 4 6 5 3 6 0 21-4 9-1 9 1 9 3 9 5 11 11 8 12 5 12 4 12 2 12 1 12-1 15-1 9-2 9-12 21 1 3 11 4 9 7 5 7 1 9-2 9-4 7-9 6-15 4-3 4-1 6 1 48-1 12-4 9-4 6-6 7-6 4-9 4-12 2-21-1-9 1-30 6-10 4-5 3-6 7-14 23-4 6-6 6zM3269 352l-6 2-6-1-3-2-5-6 0-6 1-3 4-6 3-1 3-1 6 0 6 5 2 3 1 3-1 6-1 3zM3269 498l2-3 0-3-5-13-6-9-3-3-3 1-1 9 3 9 7 10 3 2zM3312 588l0-3-1-4-6-9-6-4-3 0-3 2-1 6 4 7 3 2 6 3 3 1zM3292 720l4-3 0-3-3-3-3-1-7 1-5 3-1 3 4 3 6 1z"/><path fill="#7DC3B5" d="M3275 793l-6 1-6 0-6-3-5-5-3-6-3-9 0-9 1-6 3-6 4-8 6-7 3-3 9-3 21-2 6-2 3-2 2-3 1-6-3-6-3-2-6-1-9 1-7 2-6 3-7 6-5 12-2 2-3 2-6 1-6-2-4-3-4-6 2-12-3-3-3 0-3 2-3 4-3 15-4 9-6 9-6 6-11 7-9 4-12 1-9-2-9-5-6-7-5-7-7-15-3-4-3-2-6-1-18 4-9 1-9-1-9-3-9-5-18-11-24-17-12-10-8-11-5-12-5-24-4-24-3-9-5-9-18-19-8-11-2-9-1-9 2-12 9-36 1-6-2-15 2-9 5-6 6-2 9 0 9 2 6 1 6-2 3-2 3-3 2-6 0-30 1-12 2-9 4-9 10-12 20-17 18-14 15-8 15-4 18-2 21-1 24 2 15 3 12 3 12 7 9 7 8 9 5 9 6 12 4 15 2 12-1 27 3 33 2 9 4 9 9 12 6 7 6 4 6 1 3-1 2-5 0-6-2-9-14-27-6-15-8-30-1-12 1-6 3-6 7-9 9-7 9-3 9 0 12 6 21 16 10 9 4 6 3 9 2 21 2 9 3 5 4 4 8 4 6 0 27-7 9 0 9 2 9 4 9 8 7 10 6 12 4 12 2 15 0 18-2 15-4 9-4 6-19 18-4 6-1 6 0 12 10 42 3 18-1 27-1 9-4 9-4 6-6 5-6 3-6 2-9 1-24-1-42 7-9 3-6 5-4 5-9 24-5 9-6 6zM3266 349l-6 1-3-2-3-3-1-6 1-3 3-3 6-1 3 1 3 3 2 6-1 3zM3324 600l0-3-2-6-8-15-6-9-3-3-6-4-6-1-4 2-4 6-1 6 2 9 4 5 9 7 15 6 6 2zM3446 628l-9 0-6-3-5-4-2-6 0-6 2-6 5-6 6-3 6 0 6 1 6 5 4 6 0 9-3 6-4 4z"/><path fill="#C6DEB0" d="M3263 346l-3 0-2-1-2-3 1-5 3-2 3 0 2 1 2 3 0 3-1 2zM3185 756l-9 2-6-1-9-3-6-5-8-11-3-9-4-16-3-4-6 0-18 7-9 2-9 0-9-1-9-4-12-6-21-15-18-14-8-9-6-12-5-21-4-30-3-9-7-11-21-22-3-6-2-6-1-6 1-9 10-42 0-6-4-9-2-6 1-6 2-3 4-4 6-1 6 1 15 8 9-1 9-3 3-3 1-3 1-6-2-30 0-15 4-12 4-9 5-6 8-8 27-20 18-10 18-5 24-2 33 1 12 1 9 3 9 4 9 6 6 6 5 6 5 9 4 9 3 12 1 12 0 33 2 27 2 9 5 9 21 26 6 6 6 5 6 1 3 0 3-3 4-8 0-9-2-9-14-27-8-18-6-24-1-15 2-12 6-9 7-5 9-3 9 2 9 4 15 14 11 12 3 6 2 6 1 24 1 6 3 6 6 6 9 5 9 2 6-1 15-7 9-2 9 0 9 2 9 6 9 10 6 12 4 15 2 12 0 12-2 12-2 9-3 6-5 6-18 15-4 6-3 9 0 9 1 12 12 39 3 18-1 15-1 12-4 9-4 6-8 6-9 2-27 0-21 4-12 0-9-3-3-3-8-21-1-3-3-2-6 1-30 10-9 2-6-1-12-6-6-3-9 0-6 2-5 6-4 24-6 12-9 9zM3335 621l3-4 2-5-1-9-3-6-13-14-12-20-6-6-9-6-6-1-3 0-3 2-3 4-2 5-2 12 2 9 5 11 6 6 15 6 8 4 16 13 3 1zM3449 622l-3 2-6 0-6-3-3-3-2-6 1-6 4-5 3-2 3-1 6 0 6 4 3 4 1 6-1 3-3 5zM3188 678l3-2 3-4 1-9-1-8-3-3-3 0-3 1-4 4-2 6-1 6 1 5 3 4 3 0zM3251 727l-3 2-3-1-4-2-1-3 1-6 4-4 3-1 3 0 3 5 0 6zM3269 789l-6 0-3-2-6-7-3-9 0-9 3-9 6-8 9-4 9-1 6 3 4 4 1 9-1 9-2 9-5 9-6 5z"/><path fill="#FAF6C9" d="M3101 711l-9 0-9-2-9-3-9-5-30-23-9-9-4-6-5-15-5-39-3-12-7-12-21-22-3-5-3-6-1-9 1-9 10-36 1-6-1-3-8-9-2-3-1-6 3-6 4-2 3-1 3 1 5 2 3 3 4 7 3 2 3 1 21-1 6-3 4-3 3-6 0-6-5-24-2-15 0-12 3-9 4-9 8-10 12-10 18-12 21-11 18-4 12-1 39 0 15 1 9 3 9 5 9 9 6 9 4 12 3 15 1 66 2 12 6 9 18 18 25 33 1 3 1 6-4 18-1 12 7 27 1 12-1 3-15 13-3 5 1 6 2 4 3 2 6 1 3-2 3-6 3-21 2-2 4-2 9-1 9 1 6 4 4 4 5 9 1 9-2 6-3 3-16 12-2 3-5 15-6 9-9 6-7 3-8 1-7-1-17-6-21-3-6-1-3-4-2-7-2-9 0-15-2-7-3-4-6-3-9 0-6 3-6 7-12 29-6 9-21 10-18 11-9 4zM3389 714l-9 1-18 0-24 2-9-3-5-6-1-6 0-9 8-30 5-18 15-33 2-6 0-6-1-3-3-3-17-8-6-5-6-8-9-18-6-7-10-8-4-6 1-6 3-18-1-15-3-9-13-20-7-13-6-18-4-18 0-12 3-9 5-6 3-3 6-3 9 0 9 4 13 11 9 12 3 6 2 9 2 30 2 6 6 6 14 9 9 3 9-2 15-8 6-2 9-2 6 1 9 4 6 5 7 10 4 9 3 12 0 12-1 15-3 12-3 6-4 5-15 12-6 6-4 7-3 9 0 9 2 12 4 15 10 30 2 9 1 12-2 15-4 10-6 7zM3136 537l2-3 1-3-1-9-4-5-3-2-3 1-3 2-1 4-1 6 1 6 4 4 3 1zM3092 600l3-3 1-3 1-3-2-4-3-3-3 0-5 1-4 3-2 3-1 3 1 3 2 3 6 2zM3449 618l-3 2-6 0-3-1-3-3-1-4 0-3 1-3 3-4 3-1 6 0 3 2 3 3 1 6-1 3zM3185 750l-6 2-6 0-9-3-9-7-5-10-3-12 2-12 2-6 4-7 6-4 12-1 21 4 6 2 3 3 1 3 3 15-1 9-2 6-3 6-4 5-6 4zM3275 783l-6 2-6-1-6-6-3-7 1-9 2-6 6-7 6-2 6 0 3 2 4 4 2 6-1 9-1 6-4 6z"/><path fill="#FBEBB0" d="M3101 703l-6 1-9 0-9-3-6-2-9-6-18-14-7-7-5-6-5-9-2-9 0-12 2-24-2-12-3-6-5-6-24-24-6-9-3-6-1-6 1-12 4-12 7-15 4-7 6-4 12-3 51-2 27-2 1-3-4-3-6-3-18-6-9-6-9-12-6-11-5-19 0-15 2-9 3-6 9-11 9-7 12-8 21-11 15-6 18-2 21 0 21-2 12 1 12 5 9 8 6 9 4 12 1 21-1 42-3 27 2 9 3 4 18 8 6 4 6 6 10 14 6 12 3 9 2 9-2 24 6 24 0 9-4 9-20 18-4 6 1 6 10 21 2 9-2 3-2 1-15 3-9 0-6-2-3-1-5-7-1-9 1-9 3-12-1-6-6-6-6-5-6-3-6 0-14 5-7 4-6 8-10 24-6 9-6 6-27 21-8 5zM3344 582l-6 1-6-2-6-5-4-6-8-24-9-12-2-6-1-9 0-30-1-9-2-4-12-10-6-7-6-10-6-14-4-18 1-12 3-9 3-3 6-4 9-1 9 4 10 10 8 12 2 6 2 9-1 9-3 24 0 3 3 4 18 9 15 11 6 2 6-3 12-9 9-5 9-3 9 1 6 3 6 5 4 6 5 9 2 12 0 15-5 15-6 9-6 5-18 11-15 12-3 1-12 0zM2987 481l-6-2-3-3-1-5 2-3 2-2 3-1 3 1 3 2 2 3 0 6-2 3zM3127 552l13-2 15 1 2-2-8-24-3-18-3-8-6-4-15-5-9-1-3 1-1 2 3 9 2 12 0 30 1 6 1 2 3 1zM3179 585l3-3 1-3 0-6-2-6-4-6-4-3-6-3-6-2-1 2 0 3 4 19 3 8 3 1 3 0zM3096 612l6-3 5-3 3-4 2-5-1-9-4-16-3-4-3-1-6 0-9 2-13 7-7 6-5 6-3 9 2 6 2 2 9 5 12 3 6 0zM3446 616l-3 1-3-1-3-3 0-4 3-4 3-1 3 1 3 4 0 3zM3377 708l-24-2-9-1-5-3-2-3-1-9 0-12 3-15 4-12 6-12 7-13 6-8 6-5 6-2 3 1 3 2 6 9 15 34 3 9 1 9-1 12-3 6-3 6-3 3-6 4zM3305 645l-3 1-5-1-3-3-1-3 0-6 0-3 3-4 3-2 3 0 6 2 3 4 1 3-1 7-3 3zM3185 745l-9 2-9-2-7-4-5-8-3-10 1-9 5-9 6-4 9-3 12 2 9 5 4 6 2 9-1 9-5 9zM3269 781l-4-1-4-3-2-3-1-6 1-6 1-3 3-4 6-3 4 1 4 3 1 3 2 6-1 6-3 6-4 3z"/><path fill="#F7C987" d="M3170 456l-6 1-9 0-39-10-36-1-9-2-6-3-6-4-5-5-3-6-2-6-1-12 1-6 2-6 7-9 8-6 47-22 12-3 24 1 24-5 9 1 6 2 7 5 7 9 2 9 0 12-8 24-3 18-4 9-4 6-3 3-6 4zM3296 453l-6-1-3-1-6-6-6-10-3-9-2-12 1-9 4-7 6-4 3 0 6 1 7 4 7 9 6 12 1 12-3 10-3 6-3 3zM3401 535l-6 2-6 0-9-4-7-8-4-6-1-6-1-9 2-6 3-6 8-9 6-3 6-2 9 1 6 4 6 8 3 10 1 12-3 9-6 9zM3341 573l-3 2-6-1-3-2-3-5-2-6 0-6 4-15-1-3-10-8-3-3-4-10-1-9 2-10 3-6 6-5 6 0 9 4 5 5 4 9 1 6-1 6-2 6-7 12 0 3 7 9 4 9 1 6-1 6zM3179 537l-9-1-6-3-5-5-2-6-1-9 2-7 6-6 6-3 6 0 9 4 5 6 3 6 1 9-1 6-5 6-3 2zM3044 577l-6 1-6 1-9-3-10-6-10-12-5-9-2-12 1-9 5-10 5-5 4-3 6-3 6-1 9 0 18 2 6-1 15-6 9-1 9 0 9 4 6 7 2 5 1 6-1 12-5 10-3 3-6 4-24 9-15 11zM3245 619l-9 1-6-1-6-4-2-3-3-6 0-9 5-15 1-9-1-6-8-21-2-9 0-12 2-12 2-6 3-4 6-3 3 0 6 2 7 5 7 12 4 12 1 12-2 24 2 6 7 18 1 9-2 6-4 5-6 5zM3143 595l-6 2-6-1-6-4-4-7-2-9 1-6 4-6 7-4 6-1 6 2 5 3 4 6 2 6-1 9-4 6zM3092 696l-6 1-6-1-12-6-21-17-8-10-4-9 0-6 0-6 4-9 8-8 6-3 6-1 12 0 21 5 24 3 6 3 4 4 2 6 1 6-2 6-4 9-9 15-6 9-8 6zM3383 699l-9 1-12-3-7-4-3-3-3-6-1-12 3-12 8-13 6-6 3-1 6 0 9 6 9 10 4 7 2 6 1 9-2 9-5 7-3 2zM3233 668l-6 1-3-1-3-3-1-5 0-3 4-5 3-1 3 0 3 1 3 4 1 4 0 3zM3182 738l-6 2-6-1-6-3-3-4-2-6 0-9 4-6 4-3 6-2 6 0 6 3 5 5 2 6-1 9-4 6zM3269 772l-3-1-1-3 1-5 3-1 3 3 0 3z"/><path fill="#F1A56B" d="M3089 430l-9 0-9-1-9-6-4-6-2-9 3-9 4-6 8-6 24-8 15-9 9-4 9-1 21 1 15-6 9-3 6 0 8 3 4 3 4 6 2 6 1 6-2 6-3 6-8 7-16 8-14 11-6 3-6 1-33 0zM3296 442l-6 0-6-3-5-7-3-9-1-9 1-6 3-6 5-2 6 0 6 5 5 6 2 6 2 9-1 6-3 6zM3395 525l-6 0-6-4-4-5-3-9 2-9 3-6 5-5 6-2 6 0 6 4 4 6 2 9-1 9-3 6-5 4zM3329 519l-3 1-3-1-3-2-2-4-1-3 1-6 2-5 3-2 3 0 3 1 3 2 2 4 0 3 0 6-2 4zM3038 571l-9 0-6-2-8-5-7-9-4-9-1-9 2-9 3-6 3-3 6-3 9-2 9 1 18 9 3-1 12-12 9-4 9-1 6 2 3 2 4 6 2 9-1 6-5 8-6 4-6 1-6 1-12-2-3 0-3 4-5 11-5 6-5 4zM3179 529l-3 1-6-1-5-4-2-3-1-3 0-6 2-4 3-3 3-1 6 0 6 3 3 5 1 3-1 6-3 5zM3242 544l-3 2-3-1-3-2-3-4-4-8-2-9 1-6 2-5 3-2 3-1 6 3 4 5 2 6 2 6-1 6-1 5zM3335 566l-3-2-1-3 1-5 3-1 3 3 1 3-1 3zM3140 588l-6 1-3-2-3-2-3-6 1-6 1-3 4-3 3-1 3 0 5 1 3 3 2 3 1 6-1 3-4 5zM3248 610l-6 1-6 0-3-2-3-6 0-6 3-6 3-5 6-3 6 1 3 2 3 3 2 5 0 6-1 3-2 3zM3089 691l-9 0-9-4-18-15-8-9-4-9 0-9 3-6 6-7 6-3 6-2 12 2 6 2 8 5 8 6 5 6 3 6 2 6 1 9-2 6-2 6-5 5zM3380 694l-9 0-6-3-5-4-3-6-1-9 3-8 6-7 6-3 9 2 6 4 5 6 2 6 0 9-3 6-4 4zM3176 733l-6-1-3-2-2-7 2-7 3-2 3-1 5 1 4 3 2 6-2 6-3 3z"/><path fill="#DA7560" d="M3176 390l-6 0-6-3-3-3-1-3 1-6 4-6 5-4 6-1 6 1 5 4 2 3 1 6-2 5-3 4-3 2zM3131 403l-6 1-9-2-5-3-3-3 0-3 2-6 5-6 4-3 6-2 6 0 6 3 6 5 0 6-2 6-4 4zM3080 414l-4 0-4-3-1-3 0-4 3-4 3-1 6-1 5 1 3 3 1 3-2 3-4 4zM3290 432l-3-2-3-3-3-7 0-6 1-3 2-3 3-1 3 1 4 3 2 4 2 5 0 6-2 4-3 2zM3398 511l-3 1-3 0-3-2-2-3 0-6 2-3 3-2 3-1 3 2 2 4 0 6zM3086 534l-6 1-3-1-4-3-1-3 0-6 1-3 3-3 4-2 6 0 3 1 3 4 1 3-1 7-3 4zM3176 520l-3 1-3-2 0-4 3-2 3 1 1 2zM3038 565l-9 1-6-2-7-6-5-9-2-9 1-9 4-6 6-4 6-1 9 2 7 6 6 9 2 9-2 9-4 6zM3089 685l-6 0-9-2-17-14-6-6-3-6-1-9 2-6 4-5 3-2 6-2 9 1 9 5 8 9 8 12 3 9-3 9-2 3zM3380 687l-3 1-6-1-4-3-2-3-1-3 0-6 4-6 3-2 3-1 6 1 3 2 4 6 1 6-1 3-2 3z"/><path fill="#B03B58" d="M3038 559l-3 1-6 0-6-2-5-6-3-9 0-6 2-6 3-3 6-2 6 2 4 3 5 6 2 6 0 6-2 6zM3083 678l-3 0-6-3-18-15-3-5-1-4 2-6 3-3 5-3 6 1 6 2 5 6 10 15 1 6-1 6-3 3z"/></g><path stroke="#222" stroke-width="3" d="M3262 341zm-83 32zm-53 11zm-51 21zm214 12zm-306 54zm411 31zm-309 20zm88-5zm63 0zm89-9zm-293 45zm-8-18zm113 42zm197-14zm109 47zm-197-9zm-183 49zm21 24zm294 3zm-132 45zm-73 1zm95 45z"/><clipPath id="db"><path d="M3272 1113L3311 1115L3346 1125L3386 1140L3412 1160L3440 1186L3460 1217L3480 1247L3491 1282L3495 1309L3493 1335L3486 1366L3477 1392L3471 1418L3460 1440L3445 1460L3425 1479L3399 1495L3372 1506L3346 1511L3331 1523L3313 1530L3285 1530L3270 1519L3259 1509L3228 1501L3197 1490L3171 1475L3147 1457L3127 1440L3122 1420L3123 1405L3110 1385L3097 1366L3086 1346L3079 1326L3079 1230L3086 1212L3097 1195L3112 1173L3132 1156L3158 1139L3184 1127L3206 1121L3228 1118L3250 1115"/></clipPath><g clip-path="url(#db)" fill-rule="evenodd"><rect x="3070" y="1100" width="440" height="440" fill="#4380C5"/><path fill="#4AA6C8" d="M3282 1469l-19 1-12 0-12-1-14-5-10-5-10-7-27-24-16-16-9-12-8-10-7-14-4-12-5-18-3-14-2-19 1-22 4-19 7-16 12-16 46-45 16-15 12-6 12-5 10-3 16-2 35 0 28 4 14 3 12 5 22 12 36 24 12 10 9 9 8 12 5 10 3 12 2 14 0 55-1 15-2 14-5 16-4 11-8 12-9 11-14 15-14 12-14 10-13 6-12 4-15 3z"/><path fill="#7DC3B5" d="M3280 1464l-17 1-14 0-12-3-12-4-12-7-10-8-29-27-11-12-9-12-7-12-5-10-5-14-2-12-3-14-2-20 1-19 1-9 3-10 7-14 14-17 42-43 17-14 7-4 12-5 12-3 17-3 36 1 17 2 12 2 22 8 28 17 32 21 9 9 7 9 7 10 4 12 3 12 1 12 0 50-1 15-2 14-5 15-6 12-6 9-12 15-14 14-12 10-12 8-14 7-10 3-14 3z"/><path fill="#C6DEB0" d="M3275 1459l-17 1-12-1-12-3-12-6-11-8-11-9-20-19-13-15-9-12-6-9-4-10-5-14-4-17-2-17-1-14 1-12 1-10 3-10 5-9 7-11 11-13 33-34 19-17 9-5 9-4 20-5 26-1 29 1 14 2 12 4 12 4 15 8 24 15 16 12 12 10 8 10 5 7 4 10 4 19 1 31-1 41-2 12-4 12-5 11-6 10-9 12-11 12-11 10-11 9-17 10-19 6-17 2z"/><path fill="#FAF6C9" d="M3270 1455l-14-1-12-1-12-4-10-5-9-7-12-11-20-20-11-13-8-11-7-13-7-22-5-32 1-21 2-10 2-7 10-16 40-47 13-12 13-9 16-7 9-3 14-2 29-1 26 3 15 3 12 5 29 16 16 11 12 9 10 9 7 10 5 7 3 9 4 20 0 40-2 32-3 12-4 9-11 19-9 12-11 12-11 10-11 8-17 8-17 5-17 2z"/><path fill="#FBEBB0" d="M3280 1447l-26 0-10-2-10-4-7-4-9-7-31-28-7-10-10-18-10-22-3-10-3-15 0-12 0-9 3-10 5-7 17-9 5 0 5-2 5-5 1-6-1-7 0-17 1-9 3-5 5-7 15-14 18-10 18-6 14-2 17-1 29 1 14 2 12 4 26 13 17 10 12 9 10 8 8 10 4 7 4 9 4 20 1 28-2 34-2 12-4 12-10 19-8 12-10 11-11 11-10 8-17 9-17 5-17 3zM3233 1332l4-2 1-3-1-2-3-3-7-1-5 0-4 1-3 3 0 2 1 3 4 2 7 1z"/><path fill="#F7C987" d="M3330 1435l-14 2-17-1-33-3-15-3-9-4-7-5-6-7-7-10-19-1-7-4-4-5-3-7 2-7 3-4 9-6 4-14 3-5 5-4 5-1 7-1 12 2 3-1 7-10 3-6 0-5-4-5-6-4-22-7-5-3-3-8 0-9 7-19-2-5-9-15-2-4 0-5 1-5 3-6 5-5 5-3 7-3 11 0 8 5 10 10 2 2 3-1 2-2 11-16 6-7 12-4 10-2 12 0 12 1 12 3 14 5 26 13 8 5 12 10 7 8 5 8 4 11 3 11 1 27-3 33-4 17-4 12-7 12-8 12-9 12-12 11-12 10-9 5-8 3zM3186 1339l-4 1-5-1-5-7-1-5 1-5 1-4 4-3 5-1 4 0 5 3 3 3 1 5-1 7-3 5z"/><path fill="#F1A56B" d="M3330 1426l-16 1-18-4-9-5-10-9-5-7-3-8-2-16-1-27 3-31-1-9-2-2-3-1-19-1-10-3-4-2-3-4-3-7 1-5 2-4 5-5 5-2 5-1 7 0 21 5 5-2 5-7 5-22 6-12 5-5 6-4 7-2 7-1 24 0 14 3 14 4 15 9 12 10 8 12 5 15 2 14 0 19-3 24-6 20-10 21-13 19-16 17-16 10zM3232 1254l-5 1-5-2-3-3-3-4-1-8 3-4 4-4 5-1 5 2 4 3 3 4 0 5-1 5-4 4zM3225 1373l-5 0-2-2-3-3-1-2 1-5 1-3 3-2 3-1 5 0 3 2 2 3 1 3-1 5-2 2zM3206 1395l-5 0-3-2-1-3 1-5 3-3 5 1 2 1 2 3 0 5-2 2z"/><path fill="#DA7560" d="M3335 1409l-12 2-12-2-9-6-10-9-6-12-4-14-1-17 1-17 6-24 12-40 4-10 3-5 7-5 9-3 24-2 15 1 9 2 9 5 8 7 5 7 5 11 2 11 1 12-1 14-3 15-6 14-9 19-9 15-9 12-10 9-9 6z"/><path fill="#B03B58" d="M3333 1392l-10 1-9-3-8-5-6-7-4-10-2-12 0-12 1-12 5-17 6-16 8-14 7-10 7-6 10-4 12-2 9 0 7 3 7 4 5 5 5 7 3 7 1 9 0 10-1 10-3 12-5 12-7 14-8 12-6 8-7 7-8 5z"/></g><path stroke="#222" stroke-width="2.6" d="M3226 1242zm16 48zm114 8zm-174 28zm41 37zm96-7zm-117 34z"/></g>
<text x="33" y="68" font-size="37" font-weight="bold">a</text>
<text x="33.5" y="511" font-size="37" font-weight="bold">b</text>
<path d="M115 131V431" stroke="#000" stroke-width="3.2" stroke-linecap="round"/>
<path d="M115 537V1244" stroke="#000" stroke-width="3.2" stroke-linecap="round"/>
<path d="M159.5 514H1755" stroke="#000" stroke-width="3.4" stroke-linecap="round"/>
<text transform="translate(55 281.5) rotate(-90)" text-anchor="middle" font-size="25">Level 3</text>
<text transform="translate(88.7 282.5) rotate(-90)" text-anchor="middle" font-size="25">1.9×10<tspan dy="-9" font-size="16">6</tspan><tspan dy="9" dx="1"> cells (36.9 %)</tspan></text>
<text transform="translate(55 889) rotate(-90)" text-anchor="middle" font-size="25">Data level</text>
<text transform="translate(88.7 890.5) rotate(-90)" text-anchor="middle" font-size="25">2.5×10<tspan dy="-9" font-size="16">4</tspan><tspan dy="9" dx="1"> cells (0.5 %)</tspan></text>
<path d="M160 156.3V431.3H436" stroke="#000" stroke-width="3" fill="none" stroke-linejoin="round"/><path d="M160 132.3L147.6 161.9L160 155.70000000000002L172.4 161.9Z" fill="#000"/><path d="M460 431.3L430.4 418.90000000000003L436.6 431.3L430.4 443.7Z" fill="#000"/>
<path d="M467.5 156.3V431.3H743.5" stroke="#000" stroke-width="3" fill="none" stroke-linejoin="round"/><path d="M467.5 132.3L455.1 161.9L467.5 155.70000000000002L479.9 161.9Z" fill="#000"/><path d="M767.5 431.3L737.9 418.90000000000003L744.1 431.3L737.9 443.7Z" fill="#000"/>
<path d="M775 156.3V431.3H1051" stroke="#000" stroke-width="3" fill="none" stroke-linejoin="round"/><path d="M775 132.3L762.6 161.9L775 155.70000000000002L787.4 161.9Z" fill="#000"/><path d="M1075 431.3L1045.4 418.90000000000003L1051.6 431.3L1045.4 443.7Z" fill="#000"/>
<path d="M1093.7 159.7V270.3H1204.5" stroke="#000" stroke-width="3" fill="none" stroke-linejoin="round"/><path d="M1093.7 135.7L1081.3 165.29999999999998L1093.7 159.1L1106.1000000000001 165.29999999999998Z" fill="#000"/><path d="M1228.5 270.3L1198.9 257.90000000000003L1205.1 270.3L1198.9 282.7Z" fill="#000"/>
<path d="M1093.7 321.2V431.3H1204.5" stroke="#000" stroke-width="3" fill="none" stroke-linejoin="round"/><path d="M1093.7 297.2L1081.3 326.8L1093.7 320.59999999999997L1106.1000000000001 326.8Z" fill="#000"/><path d="M1228.5 431.3L1198.9 418.90000000000003L1205.1 431.3L1198.9 443.7Z" fill="#000"/>
<path d="M1263.8 159.7V270.3H1374.6" stroke="#000" stroke-width="3" fill="none" stroke-linejoin="round"/><path d="M1263.8 135.7L1251.3999999999999 165.29999999999998L1263.8 159.1L1276.2 165.29999999999998Z" fill="#000"/><path d="M1398.6 270.3L1369.0 257.90000000000003L1375.1999999999998 270.3L1369.0 282.7Z" fill="#000"/>
<path d="M1263.8 321.2V431.3H1374.6" stroke="#000" stroke-width="3" fill="none" stroke-linejoin="round"/><path d="M1263.8 297.2L1251.3999999999999 326.8L1263.8 320.59999999999997L1276.2 326.8Z" fill="#000"/><path d="M1398.6 431.3L1369.0 418.90000000000003L1375.1999999999998 431.3L1369.0 443.7Z" fill="#000"/>
<path d="M1454.4 155V431.3H1729.5" stroke="#000" stroke-width="3" fill="none" stroke-linejoin="round"/><path d="M1454.4 131L1442.0 160.6L1454.4 154.4L1466.8000000000002 160.6Z" fill="#000"/><path d="M1753.5 431.3L1723.9 418.90000000000003L1730.1 431.3L1723.9 443.7Z" fill="#000"/>
<text x="424.5" y="162" font-size="25" text-anchor="end" >CD45RA</text>
<text x="738" y="162" font-size="25" text-anchor="end" >CCR7</text>
<text x="1046.5" y="162" font-size="25" text-anchor="end" >CD28</text>
<text x="1237.5" y="148.5" font-size="25" text-anchor="end" >CD27</text>
<text x="1415.5" y="148.5" font-size="25" text-anchor="end" >CD161</text>
<text x="1237.5" y="309.5" font-size="25" text-anchor="end" >CD127</text>
<text x="1417.5" y="309.5" font-size="25" text-anchor="end" >CD38</text>
<text x="781" y="387" font-size="25" text-anchor="start" >CD28<tspan dy="-9" font-size="16">−</tspan></text>
<text x="781" y="418" font-size="25" text-anchor="start" >memory</text>
<text x="793" y="52" font-size="25" text-anchor="middle" >Marker expression</text>
<rect x="656" y="64.5" width="271" height="23" fill="url(#mk)"/>
<text x="656" y="122.5" font-size="25" text-anchor="middle" >0</text>
<text x="925.5" y="122.5" font-size="25" text-anchor="middle" >5</text>
<text x="1613" y="40.7" font-size="25" text-anchor="middle" >Density</text>
<rect x="1472.8" y="55.5" width="28.6" height="23.5" fill="#5B5DA7"/>
<rect x="1500.9" y="55.5" width="28.6" height="23.5" fill="#3F88C5"/>
<rect x="1529.0" y="55.5" width="28.6" height="23.5" fill="#82C3AF"/>
<rect x="1557.2" y="55.5" width="28.6" height="23.5" fill="#C6DBAA"/>
<rect x="1585.3" y="55.5" width="28.6" height="23.5" fill="#FBF4C6"/>
<rect x="1613.4" y="55.5" width="28.6" height="23.5" fill="#FBEBAD"/>
<rect x="1641.5" y="55.5" width="28.6" height="23.5" fill="#F5BF7E"/>
<rect x="1669.6" y="55.5" width="28.6" height="23.5" fill="#EE8B4F"/>
<rect x="1697.8" y="55.5" width="28.6" height="23.5" fill="#D6504B"/>
<rect x="1725.9" y="55.5" width="28.6" height="23.5" fill="#9E2F3F"/>
<text x="1450.5" y="111" font-size="25" text-anchor="start" >Low</text>
<text x="1779.5" y="111" font-size="25" text-anchor="end" >High</text>
<path d="M164.0 584.5V767H347.7" stroke="#000" stroke-width="3" fill="none" stroke-linejoin="round"/><path d="M164.0 560.5L151.6 590.1L164.0 583.9L176.4 590.1Z" fill="#000"/><path d="M371.7 767L342.09999999999997 754.6L348.3 767L342.09999999999997 779.4Z" fill="#000"/>
<text x="268.0" y="568.6" font-size="25" text-anchor="middle" >CD45RA</text>
<path d="M393.1 584.5V767H576.8" stroke="#000" stroke-width="3" fill="none" stroke-linejoin="round"/><path d="M393.1 560.5L380.70000000000005 590.1L393.1 583.9L405.5 590.1Z" fill="#000"/><path d="M600.8 767L571.1999999999999 754.6L577.4 767L571.1999999999999 779.4Z" fill="#000"/>
<text x="497.1" y="568.6" font-size="25" text-anchor="middle" >CD127</text>
<path d="M622.2 584.5V767H805.9" stroke="#000" stroke-width="3" fill="none" stroke-linejoin="round"/><path d="M622.2 560.5L609.8000000000001 590.1L622.2 583.9L634.6 590.1Z" fill="#000"/><path d="M829.9 767L800.3 754.6L806.5 767L800.3 779.4Z" fill="#000"/>
<text x="726.2" y="568.6" font-size="25" text-anchor="middle" >CCR7</text>
<path d="M851.2 584.5V767H1034.9" stroke="#000" stroke-width="3" fill="none" stroke-linejoin="round"/><path d="M851.2 560.5L838.8000000000001 590.1L851.2 583.9L863.6 590.1Z" fill="#000"/><path d="M1058.9 767L1029.3000000000002 754.6L1035.5 767L1029.3000000000002 779.4Z" fill="#000"/>
<text x="955.2" y="568.6" font-size="25" text-anchor="middle" >CD27</text>
<path d="M1080.3 584.5V767H1264.0" stroke="#000" stroke-width="3" fill="none" stroke-linejoin="round"/><path d="M1080.3 560.5L1067.8999999999999 590.1L1080.3 583.9L1092.7 590.1Z" fill="#000"/><path d="M1288.0 767L1258.4 754.6L1264.6 767L1258.4 779.4Z" fill="#000"/>
<text x="1184.3" y="568.6" font-size="25" text-anchor="middle" >CD28</text>
<path d="M1309.4 584.5V767H1493.1" stroke="#000" stroke-width="3" fill="none" stroke-linejoin="round"/><path d="M1309.4 560.5L1297.0 590.1L1309.4 583.9L1321.8000000000002 590.1Z" fill="#000"/><path d="M1517.1 767L1487.5 754.6L1493.6999999999998 767L1487.5 779.4Z" fill="#000"/>
<text x="1413.4" y="568.6" font-size="25" text-anchor="middle" >CD7</text>
<path d="M1538.5 584.5V767H1722.2" stroke="#000" stroke-width="3" fill="none" stroke-linejoin="round"/><path d="M1538.5 560.5L1526.1 590.1L1538.5 583.9L1550.9 590.1Z" fill="#000"/><path d="M1746.2 767L1716.6000000000001 754.6L1722.8 767L1716.6000000000001 779.4Z" fill="#000"/>
<text x="1627" y="544" font-size="25" text-anchor="middle" >Density</text>
<path d="M163.5 904.6V1243.4H504.0" stroke="#000" stroke-width="3" fill="none" stroke-linejoin="round"/><path d="M163.5 880.6L151.1 910.2L163.5 904.0L175.9 910.2Z" fill="#000"/><path d="M528.0 1243.4L498.4 1231.0L504.6 1243.4L498.4 1255.8000000000002Z" fill="#000"/>
<path d="M535.7 904.6V1243.4H876.2" stroke="#000" stroke-width="3" fill="none" stroke-linejoin="round"/><path d="M535.7 880.6L523.3000000000001 910.2L535.7 904.0L548.1 910.2Z" fill="#000"/><path d="M900.2 1243.4L870.6 1231.0L876.8000000000001 1243.4L870.6 1255.8000000000002Z" fill="#000"/>
<path d="M910.7 904.6V1243.4H1251.2" stroke="#000" stroke-width="3" fill="none" stroke-linejoin="round"/><path d="M910.7 880.6L898.3000000000001 910.2L910.7 904.0L923.1 910.2Z" fill="#000"/><path d="M1275.2 1243.4L1245.6000000000001 1231.0L1251.8 1243.4L1245.6000000000001 1255.8000000000002Z" fill="#000"/>
<path d="M1387 904.6V1243.4H1727.5" stroke="#000" stroke-width="3" fill="none" stroke-linejoin="round"/><path d="M1387 880.6L1374.6 910.2L1387 904.0L1399.4 910.2Z" fill="#000"/><path d="M1751.5 1243.4L1721.9 1231.0L1728.1 1243.4L1721.9 1255.8000000000002Z" fill="#000"/>
<text x="335" y="901" font-size="25" text-anchor="middle" >CD56</text>
<rect x="629.3" y="812.8" width="22" height="22" fill="#6BB35B" stroke="#000" stroke-width="1.8"/><text transform="translate(644.8 855.3) rotate(-45)" text-anchor="end" font-size="25">Ctrl</text><rect x="691.3" y="812.8" width="22" height="22" fill="#3F84D0" stroke="#000" stroke-width="1.8"/><text transform="translate(706.8 855.3) rotate(-45)" text-anchor="end" font-size="25">CeD</text><rect x="753.3" y="812.8" width="22" height="22" fill="#9B4FAA" stroke="#000" stroke-width="1.8"/><text transform="translate(768.8 855.3) rotate(-45)" text-anchor="end" font-size="25">Crohn</text><rect x="815.3" y="812.8" width="22" height="22" fill="#F08A4B" stroke="#000" stroke-width="1.8"/><text transform="translate(830.8 855.3) rotate(-45)" text-anchor="end" font-size="25">EATLII</text><rect x="877.3" y="812.8" width="22" height="22" fill="#BE2E27" stroke="#000" stroke-width="1.8"/><text transform="translate(892.8 855.3) rotate(-45)" text-anchor="end" font-size="25">RCDII</text>
<rect x="1226.6" y="819.7" width="22" height="22" fill="#DD3027" stroke="#000" stroke-width="1.8"/><text transform="translate(1242.1 862.2) rotate(-45)" text-anchor="end" font-size="25">Subset</text><rect x="1288.6" y="819.7" width="22" height="22" fill="#A9A9A9" stroke="#000" stroke-width="1.8"/><text transform="translate(1304.1 862.2) rotate(-45)" text-anchor="end" font-size="25">Discarded</text><rect x="1350.6" y="819.7" width="22" height="22" fill="#000" stroke="#000" stroke-width="1.8"/><text transform="translate(1366.1 862.2) rotate(-45)" text-anchor="end" font-size="25">Downsampled</text>
<rect x="1659.2" y="819.8" width="22" height="22" fill="#9E1F19" stroke="#000" stroke-width="1.8"/><text transform="translate(1674.7 862.3) rotate(-45)" text-anchor="end" font-size="25">Blood</text><rect x="1721.2" y="819.8" width="22" height="22" fill="#F4B685" stroke="#000" stroke-width="1.8"/><text transform="translate(1736.7 862.3) rotate(-45)" text-anchor="end" font-size="25">Intestine</text>
<ellipse cx="393.4" cy="1106.5" rx="80.7" ry="99.8" transform="rotate(2 393.4 1106.5)" fill="none" stroke="#000" stroke-width="3.2" stroke-dasharray="19.5 24.2" stroke-dashoffset="26.3" stroke-linecap="butt"/>
<ellipse cx="252.3" cy="1015.8" rx="100" ry="57" transform="rotate(-45 252.3 1015.8)" fill="none" stroke="#F6E53E" stroke-width="3" stroke-dasharray="17 24.87" stroke-dashoffset="18.5" stroke-linecap="round"/>
<ellipse cx="763.6" cy="1105.5" rx="80.7" ry="99.8" transform="rotate(2 763.6 1105.5)" fill="none" stroke="#000" stroke-width="3.2" stroke-dasharray="19.5 24.2" stroke-dashoffset="26.3" stroke-linecap="butt"/>
<ellipse cx="622.5" cy="1014.8" rx="100" ry="57" transform="rotate(-45 622.5 1014.8)" fill="none" stroke="#F6E53E" stroke-width="3" stroke-dasharray="17 24.87" stroke-dashoffset="18.5" stroke-linecap="round"/>
<ellipse cx="999.1" cy="1015.8" rx="100" ry="57" transform="rotate(-45 999.1 1015.8)" fill="none" stroke="#F6E53E" stroke-width="3" stroke-dasharray="17 24.87" stroke-dashoffset="18.5" stroke-linecap="round"/>
<ellipse cx="961.3" cy="379.3" rx="21" ry="19.8" transform="rotate(-20 961.3 379.3)" fill="#C9DDF6" fill-opacity=".16" stroke="#2F7FEC" stroke-width="1.6"/>
<path fill="#3F8BF5" d="M972.4 398.1L977.0 403.8L979.9 411.2L980.6 419.0L979.0 427.1L975.3 436.2L969.9 447.0L965.4 457.0L962.2 467.1L968.6 468.9L971.0 459.0L974.7 449.0L979.1 437.8L982.2 427.9L983.0 419.0L981.7 410.8L978.0 403.2L973.0 397.7Z"/>
<path fill="#3F8BF5" d="M954.2 506.5L943.1 459.9L965.3 469.3L979.1 465.8Z"/></svg></body></html>
